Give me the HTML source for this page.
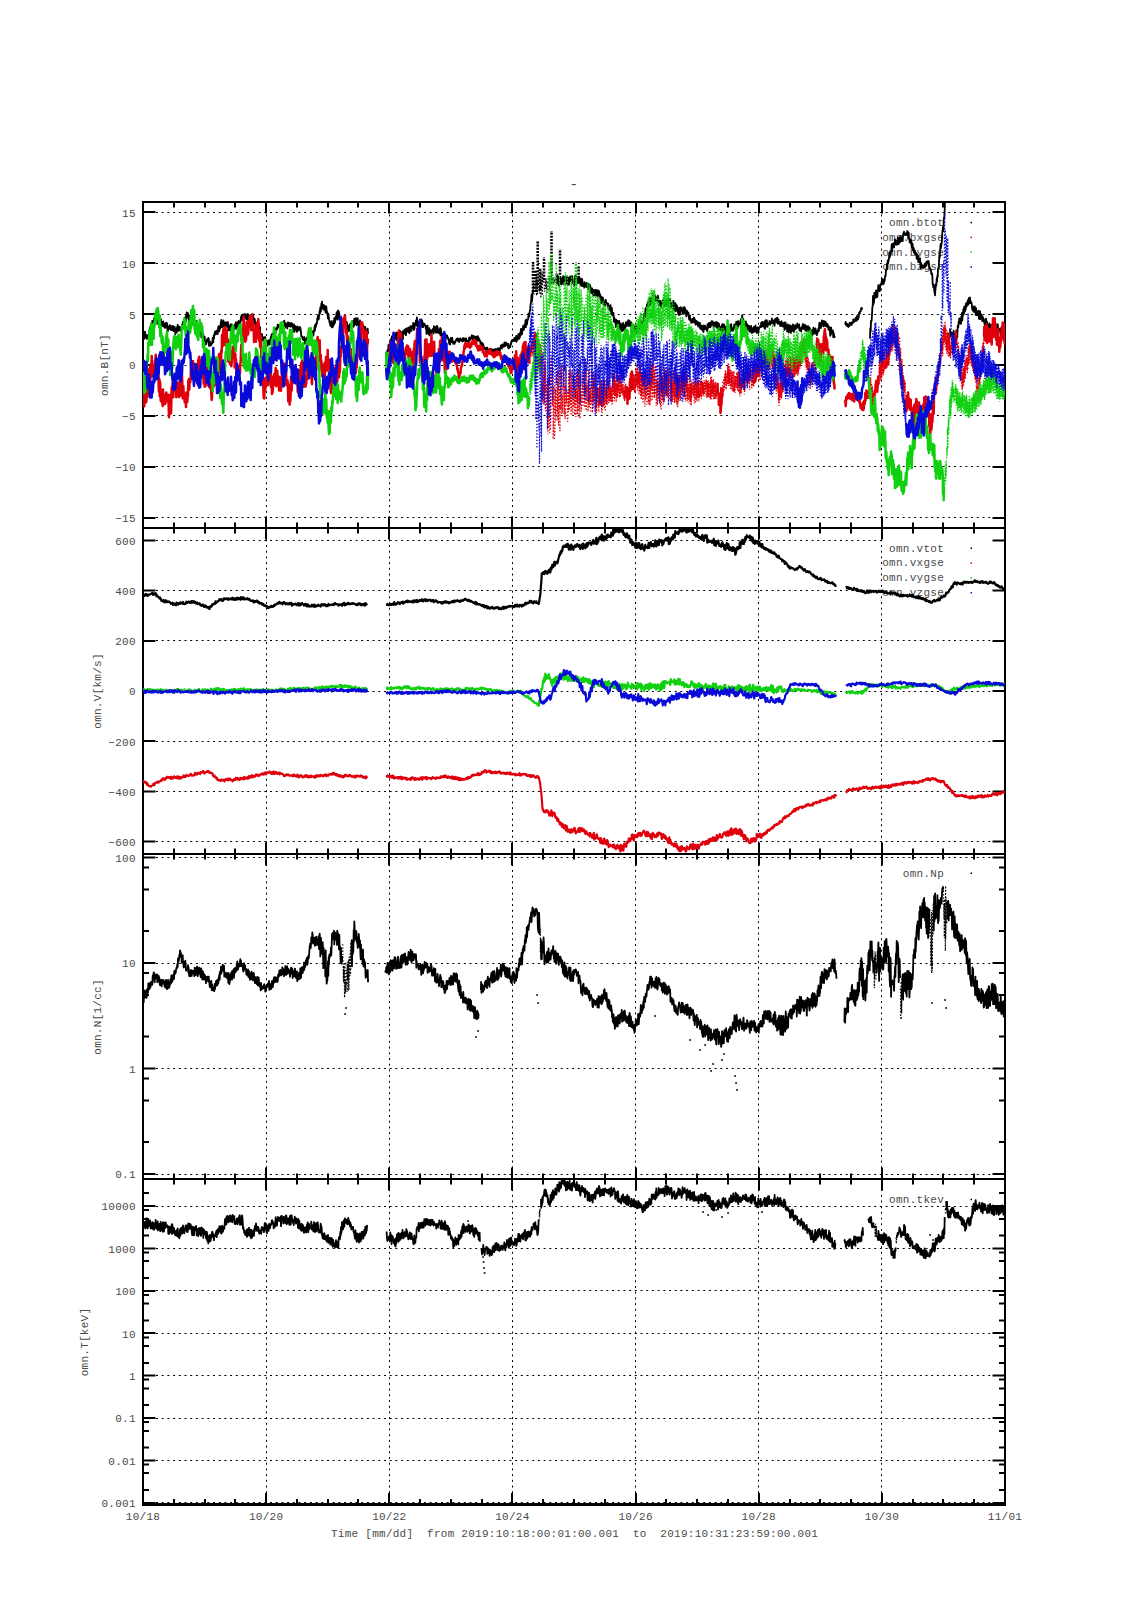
<!DOCTYPE html><html><head><meta charset="utf-8"><title>omni plot</title><style>html,body{margin:0;padding:0;background:#fff}svg{display:block}text{font-family:'Liberation Mono','DejaVu Sans Mono',monospace;font-size:11px;fill:#4a4a4a;letter-spacing:0.26px}</style></head><body><svg width="1131" height="1600" viewBox="0 0 1131 1600"><rect width="1131" height="1600" fill="#fff"/><text x="573.8" y="188.6" text-anchor="middle" style="font-size:15px">-</text><path d="M156 517.5H992M156 466.5H992M156 415.5H992M156 365.5H992M156 314.5H992M156 263.5H992M156 212.5H992M156 841.5H992M156 791.5H992M156 741.5H992M156 691.5H992M156 640.5H992M156 590.5H992M156 540.5H992M156 1174.5H992M156 1068.5H992M156 963.5H992M156 857.5H992M156 1502.5H992M156 1460.5H992M156 1418.5H992M156 1375.5H992M156 1333.5H992M156 1290.5H992M156 1248.5H992M156 1206.5H992M266.5 203V1503.5M389.5 203V1503.5M512.5 203V1503.5M635.5 203V1503.5M758.5 203V1503.5M881.5 203V1503.5" stroke="#000" stroke-width="1" stroke-dasharray="2 3.7" fill="none"/><rect x="884" y="214" width="118" height="59" fill="#fff"/><rect x="884" y="539.5" width="118" height="60" fill="#fff"/><path d="M174 202v5.5M174 528v-5.5M205 202v5.5M205 528v-5.5M235 202v5.5M235 528v-5.5M266 202v11.5M266 528v-11.5M297 202v5.5M297 528v-5.5M328 202v5.5M328 528v-5.5M358 202v5.5M358 528v-5.5M389 202v11.5M389 528v-11.5M420 202v5.5M420 528v-5.5M451 202v5.5M451 528v-5.5M482 202v5.5M482 528v-5.5M512 202v11.5M512 528v-11.5M543 202v5.5M543 528v-5.5M574 202v5.5M574 528v-5.5M605 202v5.5M605 528v-5.5M636 202v11.5M636 528v-11.5M666 202v5.5M666 528v-5.5M697 202v5.5M697 528v-5.5M728 202v5.5M728 528v-5.5M759 202v11.5M759 528v-11.5M790 202v5.5M790 528v-5.5M820 202v5.5M820 528v-5.5M851 202v5.5M851 528v-5.5M882 202v11.5M882 528v-11.5M913 202v5.5M913 528v-5.5M943 202v5.5M943 528v-5.5M974 202v5.5M974 528v-5.5M174 528v5.5M174 854v-5.5M205 528v5.5M205 854v-5.5M235 528v5.5M235 854v-5.5M266 528v11.5M266 854v-11.5M297 528v5.5M297 854v-5.5M328 528v5.5M328 854v-5.5M358 528v5.5M358 854v-5.5M389 528v11.5M389 854v-11.5M420 528v5.5M420 854v-5.5M451 528v5.5M451 854v-5.5M482 528v5.5M482 854v-5.5M512 528v11.5M512 854v-11.5M543 528v5.5M543 854v-5.5M574 528v5.5M574 854v-5.5M605 528v5.5M605 854v-5.5M636 528v11.5M636 854v-11.5M666 528v5.5M666 854v-5.5M697 528v5.5M697 854v-5.5M728 528v5.5M728 854v-5.5M759 528v11.5M759 854v-11.5M790 528v5.5M790 854v-5.5M820 528v5.5M820 854v-5.5M851 528v5.5M851 854v-5.5M882 528v11.5M882 854v-11.5M913 528v5.5M913 854v-5.5M943 528v5.5M943 854v-5.5M974 528v5.5M974 854v-5.5M174 854v5.5M174 1179v-5.5M205 854v5.5M205 1179v-5.5M235 854v5.5M235 1179v-5.5M266 854v11.5M266 1179v-11.5M297 854v5.5M297 1179v-5.5M328 854v5.5M328 1179v-5.5M358 854v5.5M358 1179v-5.5M389 854v11.5M389 1179v-11.5M420 854v5.5M420 1179v-5.5M451 854v5.5M451 1179v-5.5M482 854v5.5M482 1179v-5.5M512 854v11.5M512 1179v-11.5M543 854v5.5M543 1179v-5.5M574 854v5.5M574 1179v-5.5M605 854v5.5M605 1179v-5.5M636 854v11.5M636 1179v-11.5M666 854v5.5M666 1179v-5.5M697 854v5.5M697 1179v-5.5M728 854v5.5M728 1179v-5.5M759 854v11.5M759 1179v-11.5M790 854v5.5M790 1179v-5.5M820 854v5.5M820 1179v-5.5M851 854v5.5M851 1179v-5.5M882 854v11.5M882 1179v-11.5M913 854v5.5M913 1179v-5.5M943 854v5.5M943 1179v-5.5M974 854v5.5M974 1179v-5.5M174 1179v5.5M174 1504.5v-5.5M205 1179v5.5M205 1504.5v-5.5M235 1179v5.5M235 1504.5v-5.5M266 1179v11.5M266 1504.5v-11.5M297 1179v5.5M297 1504.5v-5.5M328 1179v5.5M328 1504.5v-5.5M358 1179v5.5M358 1504.5v-5.5M389 1179v11.5M389 1504.5v-11.5M420 1179v5.5M420 1504.5v-5.5M451 1179v5.5M451 1504.5v-5.5M482 1179v5.5M482 1504.5v-5.5M512 1179v11.5M512 1504.5v-11.5M543 1179v5.5M543 1504.5v-5.5M574 1179v5.5M574 1504.5v-5.5M605 1179v5.5M605 1504.5v-5.5M636 1179v11.5M636 1504.5v-11.5M666 1179v5.5M666 1504.5v-5.5M697 1179v5.5M697 1504.5v-5.5M728 1179v5.5M728 1504.5v-5.5M759 1179v11.5M759 1504.5v-11.5M790 1179v5.5M790 1504.5v-5.5M820 1179v5.5M820 1504.5v-5.5M851 1179v5.5M851 1504.5v-5.5M882 1179v11.5M882 1504.5v-11.5M913 1179v5.5M913 1504.5v-5.5M943 1179v5.5M943 1504.5v-5.5M974 1179v5.5M974 1504.5v-5.5M143 518h12.5M1005 518h-12.5M143 467h12.5M1005 467h-12.5M143 416h12.5M1005 416h-12.5M143 365h12.5M1005 365h-12.5M143 314h12.5M1005 314h-12.5M143 263h12.5M1005 263h-12.5M143 212h12.5M1005 212h-12.5M143 841.5h12.5M1005 841.5h-12.5M143 791.5h12.5M1005 791.5h-12.5M143 741h12.5M1005 741h-12.5M143 691h12.5M1005 691h-12.5M143 641h12.5M1005 641h-12.5M143 590.5h12.5M1005 590.5h-12.5M143 540.5h12.5M1005 540.5h-12.5M143 1174h12.5M1005 1174h-12.5M143 1068.5h12.5M1005 1068.5h-12.5M143 963h12.5M1005 963h-12.5M143 857.5h12.5M1005 857.5h-12.5M143 1503h12.5M1005 1503h-12.5M143 1460.5h12.5M1005 1460.5h-12.5M143 1418h12.5M1005 1418h-12.5M143 1375.5h12.5M1005 1375.5h-12.5M143 1333h12.5M1005 1333h-12.5M143 1291h12.5M1005 1291h-12.5M143 1248.5h12.5M1005 1248.5h-12.5M143 1206h12.5M1005 1206h-12.5M143 1142h6M1005 1142h-6M143 1100.5h6M1005 1100.5h-6M143 1078.5h6M1005 1078.5h-6M143 1036.5h6M1005 1036.5h-6M143 995h6M1005 995h-6M143 973h6M1005 973h-6M143 931h6M1005 931h-6M143 889.5h6M1005 889.5h-6M143 867.5h6M1005 867.5h-6M143 1490h6M1005 1490h-6M143 1473h6M1005 1473h-6M143 1464.5h6M1005 1464.5h-6M143 1447.5h6M1005 1447.5h-6M143 1431h6M1005 1431h-6M143 1422h6M1005 1422h-6M143 1405h6M1005 1405h-6M143 1388.5h6M1005 1388.5h-6M143 1379.5h6M1005 1379.5h-6M143 1363h6M1005 1363h-6M143 1346h6M1005 1346h-6M143 1337.5h6M1005 1337.5h-6M143 1320.5h6M1005 1320.5h-6M143 1303.5h6M1005 1303.5h-6M143 1295h6M1005 1295h-6M143 1278h6M1005 1278h-6M143 1261h6M1005 1261h-6M143 1252.5h6M1005 1252.5h-6M143 1235.5h6M1005 1235.5h-6M143 1219h6M1005 1219h-6M143 1210h6M1005 1210h-6M143 1193h6M1005 1193h-6" stroke="#000" stroke-width="2" fill="none"/><path d="M143 202H1005V1504.5H143ZM143 528H1005M143 854H1005M143 1179H1005" stroke="#000" stroke-width="2" fill="none"/><path d="M142 1504.5H1006" stroke="#000" stroke-width="3" fill="none"/><text x="135.8" y="522.2" text-anchor="end">−15</text><text x="135.8" y="471.3" text-anchor="end">−10</text><text x="135.8" y="420.3" text-anchor="end">−5</text><text x="135.8" y="369.4" text-anchor="end">0</text><text x="135.8" y="318.5" text-anchor="end">5</text><text x="135.8" y="267.5" text-anchor="end">10</text><text x="135.8" y="216.6" text-anchor="end">15</text><text x="135.8" y="845.9" text-anchor="end">−600</text><text x="135.8" y="795.7" text-anchor="end">−400</text><text x="135.8" y="745.6" text-anchor="end">−200</text><text x="135.8" y="695.4" text-anchor="end">0</text><text x="135.8" y="645.2" text-anchor="end">200</text><text x="135.8" y="595.1" text-anchor="end">400</text><text x="135.8" y="544.9" text-anchor="end">600</text><text x="135.8" y="1178.4" text-anchor="end">0.1</text><text x="135.8" y="1072.9" text-anchor="end">1</text><text x="135.8" y="967.4" text-anchor="end">10</text><text x="135.8" y="861.9" text-anchor="end">100</text><text x="135.8" y="1507.2" text-anchor="end">0.001</text><text x="135.8" y="1464.8" text-anchor="end">0.01</text><text x="135.8" y="1422.4" text-anchor="end">0.1</text><text x="135.8" y="1380" text-anchor="end">1</text><text x="135.8" y="1337.6" text-anchor="end">10</text><text x="135.8" y="1295.2" text-anchor="end">100</text><text x="135.8" y="1252.8" text-anchor="end">1000</text><text x="135.8" y="1210.4" text-anchor="end">10000</text><text x="143" y="1520" text-anchor="middle">10/18</text><text x="266.1" y="1520" text-anchor="middle">10/20</text><text x="389.3" y="1520" text-anchor="middle">10/22</text><text x="512.4" y="1520" text-anchor="middle">10/24</text><text x="635.6" y="1520" text-anchor="middle">10/26</text><text x="758.7" y="1520" text-anchor="middle">10/28</text><text x="881.9" y="1520" text-anchor="middle">10/30</text><text x="1005" y="1520" text-anchor="middle">11/01</text><text x="331" y="1537" style="white-space:pre">Time [mm/dd]  from 2019:10:18:00:01:00.001  to  2019:10:31:23:59:00.001</text><text x="0" y="0" text-anchor="middle" transform="translate(104 365) rotate(-90)" dy="3.5">omn.B[nT]</text><text x="0" y="0" text-anchor="middle" transform="translate(97.5 691) rotate(-90)" dy="3.5">omn.V[km/s]</text><text x="0" y="0" text-anchor="middle" transform="translate(97.5 1017) rotate(-90)" dy="3.5">omn.N[1/cc]</text><text x="0" y="0" text-anchor="middle" transform="translate(84.5 1342) rotate(-90)" dy="3.5">omn.T[keV]</text><text x="944" y="225.9" text-anchor="end">omn.btot</text><rect x="970.5" y="221.8" width="1.5" height="1.5" fill="#000"/><text x="944" y="240.7" text-anchor="end">omn.bxgse</text><rect x="970.5" y="236.6" width="1.5" height="1.5" fill="#e0000c"/><text x="944" y="255.5" text-anchor="end">omn.bygse</text><rect x="970.5" y="251.4" width="1.5" height="1.5" fill="#10d010"/><text x="944" y="270.3" text-anchor="end">omn.bzgse</text><rect x="970.5" y="266.2" width="1.5" height="1.5" fill="#0a0ad8"/><text x="944" y="551.6" text-anchor="end">omn.vtot</text><rect x="970.5" y="547.5" width="1.5" height="1.5" fill="#000"/><text x="944" y="566.4" text-anchor="end">omn.vxgse</text><rect x="970.5" y="562.3" width="1.5" height="1.5" fill="#e0000c"/><text x="944" y="581.2" text-anchor="end">omn.vygse</text><rect x="970.5" y="577.1" width="1.5" height="1.5" fill="#10d010"/><text x="944" y="596" text-anchor="end">omn.vzgse</text><rect x="970.5" y="591.9" width="1.5" height="1.5" fill="#0a0ad8"/><text x="944" y="876.6" text-anchor="end">omn.Np</text><rect x="970.5" y="872.5" width="1.5" height="1.5" fill="#000"/><text x="944" y="1202.8" text-anchor="end">omn.tkev</text><rect x="970.5" y="1198.7" width="1.5" height="1.5" fill="#000"/><defs><clipPath id="c1"><rect x="143" y="202" width="862" height="326"/></clipPath><clipPath id="c2"><rect x="143" y="528" width="862" height="326"/></clipPath><clipPath id="c3"><rect x="143" y="854" width="862" height="325"/></clipPath><clipPath id="c4"><rect x="143" y="1179" width="862" height="325"/></clipPath></defs><g clip-path="url(#c1)"><path d="M143 333.8l.3-2.3.4 3.7.3 4 .3-2.3.4-3.7.3-1.6.3 2.3.4 3.1.3 1 .3-2.6.4-.3.3 3.9.3-3.7.4.9.3.8.3-2.4.4.3.3 1 .3-5.7.4.3.3-3.4.3 5.3.4-1.4.3.3.3-7.6.4 1.4.3-.4.3-3.8.4 2.8.3-2.8.3 1.3.4-.1.3-3.7.3.5.4 3.2.3-4.3.3 0 .4-.2.3-.9.3-.4.4 2.5.3-2.1.3 7.1.4-3.2.3.5.3.7.4-4.6.3 7.5.3-6.8.4 4.7.3-4.5.3.3.4.7.3.4.3 5.6.4.7.3.2.3-3.9.4 1 .3 2.7.3-4.3.4 3.8.3-1.5.3 3.6.4-.6.3 1.1.3-2.5.4-2.5.3 4.7.3-2 .4-2.8.3.7.3 3.8.4 3.7.3-.1.3-3.9.4-.6.3.4.3 2.4.4-4 .3 2 .3-.7.4 1.3.3 2.4.3-4.1.4.2.3 2.6.3-1.8.4 3.2.3-4.4.3 4.2.4 1 .3-2.6.3 2 .4-3.7.3 2.7.3 4.8.4-5.2.3 1.3.3.7.4 1.5.3-5.4.3 1.1.4-3.4.3 3.8.3 2.2.4-4.3.3-.1.3 3.5.4.3.3-1.3.3 0 .4 1.4.3-3.6.3 4.1.4-3.7.3-2.4.3 1.3.4-2.9.3-1.6.3 6.9.4-2.8.3-.9.3-3.7.4.9.3-3.6.3-1.3.4 4.9.3-6 .3 1.7.4-5.2.3 1.4.3.2.4-1.2.3 1.4.3 4.5.4-3.8.3 6 .3-4.6.4-.5.3 1.5.3-1 .4 6.3.3-1.4.3-.3.4.5.3.8.3-3.5.4 5.6.3-2.5.3.7.4 2.6.3-.4.3-2.3.4 1.9.3-2.6.3 1 .4 2.6.3-1.7.3-.2.4-2.5.3 3.7.3 4.2.4.7.3 0 .3-4.1.4 6.3.3-1.9.3-4 .4 4.3.3 1.5.3 1.9.4-5.3.3 2.8.3 6 .4-.4.3.5.3-5.8.4 2.1.3 7 .3-6.4.4 3.2.3.5.3 3.9.4-4.9.3 6.6.3-.5.4 1.6.3-3 .3 2.7.4-2.9.3-1.9.3 2 .4-.2.3-.7.3-2.7.4 1 .3 7 .3.2.4-.1.3-4.2.3 1.2.4 1.9.3.6.3-1.3.4-.9.3.5.3-1.4.4-4.4.3 0 .3 4.4.4-6.6.3 2.8.3-4.5.4-.2.3-2.1.3 1.2.4 1.5.3-1.3.3-2.5.4.6.3 2.8.3.1.4-.2.3-4.3.3-2.5.4-.9.3.3.3 4.9.4-2.8.3-2.5.3 2.3.4-4.5.3-1.9.3-2 .4 6.9.3-3.7.3 4.1.4-5.6.3 3.3.3-4.6.4 5.7.3-1.2.3.6.4-.2.3-3.1.3 5.5.4-.8.3-2.9.3-1.6.4 4 .3-1.5.3 1.6.4-4.4.3.1.3 7.2.4.9.3-1.6.3 1.2.4-4.6.3 3.5.3 1.7.4-4.8.3-1.6.3 1.8.4-.2.3-1 .3 2.1.4.2.3-1.3.3 3.1.4-.2.3-1.4.3.5.4 1.7.3-5.1.3 4.5.4-6.2.3-.4.3.6.4 5.7.3-5.4.3.5.4-.3.3-1.7.3 4.2.4-5 .3.6.3 3.5.4-1.1.3-2.4.3 2.7.4-4.3.3-3 .3.7.4-2.4.3 3.8.3 1.2.4-3 .3-2.6.3 5.3.4 1.7.3-5 .3.2.4 1.1.3-3.8.3 1.4.4-.1.3 2.3.3 1.7.4-4.4.3 4.2.3-5 .4-.1.3 6 .3-3 .4.9.3 1.9.3-4.2.4 1.1.3 5.7.3-7.2.4 4.4.3-1.1.3 2.7.4-1.6.3-4.4.3-.3.4 1 .3-1.7.3 2.4.4 3.1.3-1.3.3 4.7.4-4.3.3 2.7.3 3.7.4-.2.3-2.5.3 5.4.4-5.1.3 3.6.3 3.3.4-1.3.3 1.2.3-2.5.4 5.1.3-6.2.3 6.4.4-3.9.3-1.5.3 7.9.4-.8.3 2.6.3-1.2.4-1.5.3.4.3 5.8.4-2.4.3-.7.3 3.1.4 1.9.3-1.2.3-1.4.4-2.3.3 6.4.3-6.5.4 7.2.3 0 .3 1.6.4-.4.3-2.8.3-.7.4 3.8.3-5.1.3.6.4-.6.3-.5.3 2.4.4 2.1.3-4.4.3-.9.4-1 .3-1.8.3.4.4-2.8.3 4.6.3-4 .4 2.9.3 2.3.3-5.6.4-2.8.3.9.3 2.2.4-.4.3-.1.3-1.5.4-.2.3-4.4.3.6.4.9.3 0 .3-1.8.4-3.1.3 2.2.3-1.5.4-.5.3.3.3.6.4 3.7.3-.5.3-2.4.4-.1.3 1 .3.7.4-.6.3-.8.3-2.1.4-.6.3-2 .3 2 .4-2.8.3 2.9.3-3.5.4 4.8.3-2.7.3 4.9.4-3.1.3-1.2.3 1.4.4.1.3-1 .3 4.6.4-4 .3-2.3.3 2.5.4 1.3.3-3.2.3 2.8.4.6.3-3 .3 2.3.4 1.3.3-3.7.3.2.4 1.3.3-1.2.3.3.4 3.5.3-.4.3 4.9.4-4.3.3-2.9.3 7.4.4-5.5.3 3.8.3-4.1.4 3 .3-1.1.3.2.4 3.5.3.2.3-5.6.4 1.3.3.9.3 1.8.4-2.6.3 2.7.3-3.4.4-.1.3 3.3.3-2.7.4 2.3.3 3.4.3 3.2.4 0 .3.5.3-.5.4 3 .3-.9.3.3.4 1.4.3-2.3.3-.9.4 1.4.3 5.4.3-2 .4-.2.3-.2.3.3.4-2.8.3-1.6.3 3.4.4.6.3-1.5.3-1.5.4-1.2.3-1.1.3 2.9.4-4.1.3.5.3 2.7.4.4.3-.4.3 2 .4-8.1.3 3.8.3-4.3.4 4.6.3-3.5.3 3 .4-2.4.3-3.2.3 1.3.4-5.4.3 4.7.3-5.8.4 2.4.3-1.1.3-2.8.4-.1.3.4.3-5.4.4.4.3-3 .3 1.4.4 2.6.3-2.8.3-2 .4-4.4.3 3.2.3-6.1.4 4.3.3-1.5.3-6.5.4 3.2.3-5.3.3 6.9.4-1.1.3 1.1.3-.7.4-2.9.3 4.9.3-3.4.4-.5.3.2.3 4.9.4 1.7.3-2.9.3-3.3.4 5.5.3-.7.3 2.4.4 2.1.3 2.8.3-4.9.4 2.8.3 2.7.3 1.6.4 2.3.3-.5.3 3.3.4-1.8.3.3.3-3.2.4 5.7.3.4.3-4.3.4 4.4.3-2.2.3-4.4.4 4.2.3-.6.3-6.3.4 3 .3 1.8.3-3.1.4-2.8.3-.1.3-1.8.4-3 .3.3.3 7.2.4-5.2.3-4 .3.5.4 5.5.3-4.8.3 8 .4-.8.3 1 .3-1.1.4-.6.3-.4.3-.3.4 2.4.3 2.4.3 1.3.4.2.3-1.5.3-2.5.4 2.8.3 5.1.3-5.5.4 2.8.3-.2.3 2 .4-2.8.3 2.3.3-4.6.4 6.4.3-5.6.3 2.6.4 3.8.3-.2.3 2.5.4-1.6.3-4.2.3 2.9.4 2.6.3-6.7.3 6.2.4-5.9.3.8.3-1 .4 1.4.3 1.7.3.7.4-5.8.3-1.4.3 3.2.4 2.6.3-4.7.3-3.2.4 1.2.3-.5.3 5.1.4-6.4.3 6.3.3-5.1.4 5.8.3-5 .3-1.7.4-.3.3 5.2.3 1.7.4-2.8.3 4.2.3-4.1.4 3 .3-5 .3 2.2.4-.2.3 5.1.3-4.1.4 4.8.3-2.6.3 3.7.4-1.8.3 1.6.3-3.5.4 4.3.3-1.9.3 1.9.4-2.6.3 2.5.3-2.7.4 4.5.3-1.7.3.7.4 2.5.3-2.6.3 2.5.4-4.3.3 5.5M386.2 351.7l.3 3.7.4-1.7.3-1.3.3-2.2.4 1.5.3-2.4.3-4.4.4 5.1.3-1.8.3-.2.4-5.6.3-1.9.3 5.7.4-2.1.3-5.6.3 6.7.4-8.8.3 4.6.3-5.3.4 5.7.3-1.9.3-1 .4 1.9.3-7.3.3 4.6.4-1.7.3-.2.3 3 .4-2.4.3-3.9.3.2.4 7.7.3-.6.3-6.7.4 5.4.3-.5.3-2.6.4 2.1.3-3.1.3.8.4-1.8.3-2.3.3 1.4.4 2.9.3-1.3.3 3.3.4-3.6.3 3.4.3-5.8.4 7.7.3-7.8.3 1.9.4-.1.3-2.8.3-.4.4 2.9.3 1.6.3-5.5.4 6.3.3-1.5.3-3.3.4-1.4.3-1 .3.8.4 1.9.3 1 .3.5.4-4.9.3.3.3 5.5.4-3.1.3-.4.3-3.4.4 4.8.3-4.7.3 4.5.4-4.7.3-.1.3.1.4 2.3.3-5.6.3 1.9.4 5.3.3-1.9.3.7.4-5.5.3 1.3.3-.3.4-3.9.3 2.8.3 2.4.4-8.1.3 3.4.3 3.5.4 2.6.3-5.1.3.7.4 4.4.3-5.7.3 5.2.4-7.1.3 1.5.3 5.5.4-2 .3-2.2.3-2.9.4 7.6.3-6.2.3 6.4.4-2.2.3 2.3.3-3.9.4 1.4.3-.3.3-.6.4 1.9.3-.4.3 0 .4 3.9.3-3.2.3 8 .4-5.5.3 2.4.3-5.2.4 4.1.3 1.7.3 2.3.4.4.3-6.1.3 7.3.4-5.9.3 1.6.3 1.2.4-1.3.3 2 .3-2.7.4.3.3-.5.3.3.4-1.6.3 4.4.3.3.4-7.3.3 4.8.3-1.7.4-2.5.3.2.3 5 .4.7.3-.1.3.1.4-6.9.3.2.3 1.2.4 2.3.3 3.4.3-3.7.4 1.8.3-1 .3 3.5.4-.2.3-5.5.3 7.6.4-6.6.3 4.8.3-.5.4 4.3.3-.7.3.6.4 1 .3-4.7.3.7.4 1.5.3 4.9.3-1.8.4-5.6.3 3.5.3-.2.4-1.3.3 2.6.3-2.6.4.3.3.2.3 1.7.4-.2.3 2.2.3-.9.4 2.2.3 3 .3-3.7.4.2.3 4.2.3-4.4.4-2.3.3 4.3.3-3.3.4.9.3-1.8.3 3.2.4.3.3 2.5.3-2.2.4-.3.3.8.3 1.6.4-1.8.3.5.3-.8.4-1.2.3-1 .3-.5.4 1 .3-.3.3-1.4.4 2.9.3-2.1.3 2 .4-2.2.3 3.2.3-2.1.4-1.2.3 1.3.3-1.7.4.9.3 1.6.3-.7.4.6.3-.6.3 1.3.4-3.3.3 3 .3-2.7.4-.3.3 1.5.3-1.1.4 2.3.3-.2.3.9.4-3.2.3 0 .3 2.9.4-.7.3.1.3 1 .4-.5.3-.3.3.9.4 0 .3-4.3.3 1.4.4 1.3.3-2.5.3.9.4.3.3-1.6.3-.8.4-1.2.3 2.1.3-.6.4 2.8.3-3.7.3.3.4 1.5.3 1.9.3.1.4-3.3.3 3.4.3.4.4.8.3-4.1.3 2.8.4-2.3.3-1.1.3 4 .4-4.2.3 1.5.3 3.3.4-1.8.3-.5.3 1.9.4-.1.3.7.3 2.8.4-1.8.3.8.3.3.4 2.8.3-3.2.3 1.3.4 1.8.3-1.8.3 3.5.4-1.1.3 1.6.3.7.4-.8.3.5.3.4.4.3.3 2.3.3-3.8.4 1.2.3-1.3.3 2.1.4 2.4.3-2.4.3 1.8.4-.2.3-2.1.3 4.2.4-1 .3-1.5.3 1.8.4-2 .3-1.8.3 3.8.4-2.2.3 1.9.3-2.8.4.9.3 1.9.3-2.7.4 3.1.3-1.4.3-.4.4-1.8.3-.2.3 1 .4.4.3 1 .3.2.4-2.4.3.3.3-1.2.4 1.4.3 0 .3.4.4-1.6.3-.4.3 2 .4.5.3-2.1.3-.5.4-2.7.3 2.9.3-2.9.4 3.2.3-1.6.3-2.5.4 2.6.3-.6.3-1.7.4 1.9.3-2.4.3-1.8.4.6.3 3.2.3-2.7.4-1 .3 1.8.3.9.4-1.8.3 1.5.3-.2.4 2.1.3-2.8.3 4.4.4 0 .3-2.2.3.8.4.2.3-.1.3-3.1.4.8.3-3.1.3.8.4-1.7.3-.9.3 1.3.4-.8.3-.8.3.3.4.1.3 1.2.3-3.4.4 3.1.3-.8.3-1.1.4.9.3-4.1.3 6 .4-2.2.3-3 .3 3.2.4-2.9.3-1.6.3-1.3.4 4.9.3-.7.3-2.9.4 2.2.3-4.8.3 1.6.4-5.3.3 5.3.3.3.4-.2.3-1.9.3-3.9.4 1.7.3-4.7.3 1.1.4 3.1.3-3.2.3.6.4-3.1.3 3 .3-6.8.4 7 .3-7.8.3 3.1.4 2.1.3-2 .3-2.4.4-.7.3-1.1.3-4.9.4 3.6.3-1.7.3-.8.4-4.5.3.1.3-4.8.4-2.7.3-2.8.3-5.5.4 7.1.3-2.2.3-5.1.4-4.6M556.2 274.7l.3-.6.4 4.7.3 4.7.3-8 .4 3.7.3-3 .3 8.1.4 1.4.3-7.8.3 3.3.4 1.3.3 1.4.3-1.2.4-4.2.3 4 .3 2 .4-3.3.3-1.7.3-.4.4-1.9.3-1.1.3 7.8.4-6.4.3 3.8.3-1.6.4.1.3 2.6.3-6.2.4 5 .3 2.7.3-5.9.4.9.3-1.7.3.8.4 6.7.3-6.2.3 3.6.4-4.5.3 7.1.3-4.2.4-2.4.3-1.8.3 5.1.4-1.4.3-1.5.3.4.4-2.3.3-.5.3 7.3.4-3.4.3-.1.3 1.9.4 2.3.3.4.3 1.1.4-6.8.3-3.2.3-.1.4 3.2.3-2.6.3 7.7.4-5.8.3.4.3 3.6.4-2.6.3-.1.3 3.9.4-6.5.3 2.1.3-1.1.4 4.4.3 2.4.3-4.3.4 5 .3-6.6.3 7.3.4-1.1.3-5.6.3 5.1.4 1.7.3-2.7.3 1.6.4-1.8.3 4.5.3-5.5.4 4 .3-.8.3-.9.4.4.3 2.3.3-4.3.4.2.3 3.7.3.1.4-.4.3 2.2.3-4.8.4 2.5.3 2.2.3 2.4.4-6 .3 7.6.3-5.8.4 2.5.3 2.2.3-.7.4 2.6.3-4.9.3 2.2.4.3.3 3.7.3.8.4-5.6.3.3.3.8.4 4.5.3-2.5.3-2.9.4 4.4.3-4.4.3 2.6.4 3 .3-1.8.3 3 .4-6.2.3-.4.3 1.5.4 1.1.3-1.3.3 5 .4.4.3-2.4.3 5 .4-2 .3 5.8.3-6.7.4 3 .3-1.2.3 1.7.4-2.5.3 3.9.3 2.8.4-1.3.3.1.3-1.8.4 2.3.3 1.9.3-5.7.4.3.3 3 .3-.4.4.7.3-.3.3 1.5.4 2.4.3-3.3.3 2.9.4-.1.3 2.8.3-1.9.4 3.3.3-4.8.3-.7.4 3.4.3 4.8.3 1 .4-6.4.3 6.5.3-1.2.4 2.3.3-1 .3-1.6.4 8.7.3-4.1.3.7.4 2.8.3 1.5.3-.2.4 4.8.3-7.6.3 6.2.4-2.3.3-1.3.3-1.3.4 2.6.3-1.5.3 4.1.4 1.7.3-7 .3 5.1.4 1.4.3 1.1.3 2.1.4-7.2.3 7.8.3-2.6.4-3.6.3 1.7.3 4.5.4-3.7.3-4.6.3 5.4.4.1.3 2 .3-1.7.4 1.6.3-5.6.3.8.4-3 .3 4.1.3-3.5.4-.6.3-.4.3.2.4 3.4.3-5.4.3 5.6.4-3.7.3 3.3.3-4.7.4 5.5.3-3.1.3.6.4 1.3.3-2.7.3 3.3.4.7.3 3.4.3-2.9.4-2 .3 0 .3 4.5.4-3.5.3 2.1.3 2.7.4.5.3-2.5.3-2.1.4 2.5.3 2.1.3-4.9.4 6.3.3-3.1.3-2.8.4.4.3 1 .3-.4.4 3.3.3-1.8.3-2.6.4-2.6.3-2.6.3 3 .4 2.4.3-5.1.3 1.2.4-.2.3 1 .3-1.7.4.5.3-.3.3-2.6.4-5.6.3 5.3.3-3.3.4 1.7.3-4.8.3-4.5.4 7.1.3-5.7.3-.8.4-4.4.3 4.8.3-3.2.4-4.3.3-.1.3 2.9.4-3.1.3-1.7.3-1.9.4 7.6.3-3.1.3-1.9.4-1.8.3 1.6.3-.8.4 3.2.3 0 .3-6.7.4-.8.3 2.6.3-.3.4-4.3.3.2.3 2.5.4 5 .3-5.1.3 1.4.4-.4.3 1.6.3 2.2.4-.9.3-.8.3-1.8.4-1.5.3 1.5.3 7.2.4-1.5.3.4.3 1.1.4 1.1.3-4.6.3 3.1.4 3.3.3-3.9.3.4.4.8.3 1 .3-5 .4 3.6.3-3.3.3 1.3.4-2.4.3 1.5.3 5.3.4-4.1.3.9.3 1.7.4-4.2.3 5.4.3-3.5.4-2.7.3 4.5.3 1.1.4-5.7.3-1.5.3 4.1.4-4.1.3 6.6.3-6.1.4 3.3.3-1.7.3 6.5.4-3.9.3-.2.3 3.4.4-2.1.3-1.2.3 5.6.4-4.2.3 1.5.3-5 .4 5.2.3 4 .3-4.5.4.8.3 5 .3-8.2.4 2 .3.8.3 3.6.4-4.2.3 5.9.3-4.1.4 3.2.3 3.8.3-2.8.4 3.8.3-7.2.3.5.4 6.1.3-2.2.3-4.9.4-.3.3 3.4.3-1.8.4.5.3-.2.3 4.3.4-2.5.3-3.6.3 3.8.4 2.8.3-2.1.3-4.7.4 4.9.3-3.5.3 4.5.4-.2.3 3.3.3.2.4-5.6.3 1.9.3-.9.4 2 .3.7.3-1.5.4 4.6.3 2.2.3-3.7.4-.5.3 4.9.3-1.6.4 1.4.3 2.6.3-1.9.4 1.8.3-3 .3-.8.4 3.2.3.1.3.1.4-4.8.3.4.3 3 .4-1.5.3 2.9.3 2.4.4-1.9.3.8.3-2.8.4 2.1.3-.8.3 2.8.4-2.9.3 4.5.3-2.2.4-.5.3 2.7.3-3.6.4-.1.3 5.9.3-1 .4-.7.3 2 .3-.3.4-3.4.3 4.2.3 1.1.4-.6.3-1 .3 3 .4-6.7.3.4.3 0 .4 3.6.3-3.4.3 2.9.4-.7.3.8.3-.9.4 2.6.3.4.3-6.9.4 4.7.3-4.8.3 1.5.4 1.7.3-4.6.3 3.7.4-1.8.3 2.9.3-4.6.4 3.7.3-2.9.3-2.3.4-.2.3.2.3 2.9.4-2.3.3 3.4.3 1.6.4 0 .3-1.6.3 0 .4-2.9.3.2.3 2.3.4.5.3 1.6.3-5.2.4.9.3 4.8.3-2 .4-2.6.3 6.2.3-5.5.4.1.3 3 .3 2.8.4-2.6.3.1.3.7.4 3.1.3 0 .3-5 .4 6 .3-7.3.3 4.2.4-4.6.3.8.3 6.8.4-7.3.3.5.3 2.4.4 3.2.3-.4.3-3.5.4 6 .3-4.3.3-.9.4 2 .3-.2.3-.6.4 1.5.3 3 .3-5.2.4 2.8.3-1.5.3.9.4 2.2.3-1.1.3-6.5.4 3.5.3-4.1.3 6.4.4-3 .3.7.3.5.4 2.1.3-1.3.3.2.4-1.7.3-3.5.3 1.2.4.4.3 1.1.3-.7.4.9.3-5.8.3 4.3.4-.6.3-1.5.3 4.9.4-6.6.3-1.1.3 5.1.4-3.7.3 1.8.3-.3.4-1.6.3 1.9.3-3.4.4-1.4.3-.4.3.1.4 1.7.3-5.6.3 3.7.4 4.2.3-4.4.3 2.8.4.9.3 3.5.3-.3.4-.7.3-1.2.3 3.4.4-5.6.3 1.8.3 3.1.4-2.3.3 3.8.3 2 .4-4.8.3 4.4.3-.1.4 1 .3-4.6.3 5.9.4-.6.3-1.2.3-2.1.4 3.3.3-5.2.3 6.8.4.3.3-1.4.3-3.3.4 1.9.3 2.2.3-3 .4-2.6.3 3.1.3 1.6.4.2.3-3.5.3-2.7.4 4.1.3-1.5.3 3 .4 1.9.3-3.1.3-2.3.4-.3.3 5.1.3.5.4-4.9.3.1.3-.4.4-.6.3-1.2.3-.5.4 1.8.3-4.6.3 4.3.4-3.1.3-1.9.3.5.4 2.2.3 1.9.3-1.8.4-1 .3-2 .3 6.3.4.9.3-2.6.3-5.7.4-.5.3 6.4.3-4.3.4-1.7.3 5.4.3.9.4-2.8.3.7.3-1.2.4.6.3-.4.3-2.9.4 1.6.3 2.5.3-2.4.4.8.3-.5.3-.2.4-4.1.3 4.8.3-1.9.4 2.2.3-1.7.3-1.6.4 1 .3 1.7.3 2.8.4-3 .3-4 .3 1.5.4-1.6.3 1.2.3 1.6.4 1.2.3-5.1.3 4.9.4 1.4.3-1.9.3-2.6.4 4.1.3-.2.3-1.3.4 1.5.3 2.6.3-3.4.4 1.8.3-1.9.3-1.4.4 4.9.3-3.4.3.8.4 3.2.3-1.8.3-.2.4-.3.3-2 .3 7.5.4-1.1.3-1 .3-5.4.4 4.5.3 1.7.3-1.2.4-.9.3 5.2.3-7.2.4 5.4.3-5 .3 2.3.4 5.3.3-5.2.3.9.4-3.1.3 2.5.3-1.2.4 6.6.3-6.9.3 3 .4-1.7.3 3.6.3-3.9.4-2.7.3 1.7.3 3.2.4 2.6.3-2.4.3-2 .4-1.5.3-1 .3 4.3.4-1.4.3.4.3-2.3.4 1 .3-3.5.3 2.7.4 1.5.3-.1.3.2.4-2.7.3-.7.3 6.1.4-.6.3-1.9.3.2.4 2.1.3 1.2.3-2.2.4-2.4.3-.7.3 2.2.4-4.6.3 1.7.3 3.6.4-2.8.3 1.6.3-.5.4-2.7.3 4.4.3 1.7.4-5 .3 3 .3.9.4 1.2.3-3.5.3-1.3.4 4.6.3-.2.3-4.2.4 5.1.3-3.9.3 2.6.4-1.9.3 4.6.3-3.4.4 3.1.3 1.2.3-3.3.4 2.4.3-2.7.3 5 .4-3.3.3-1.2.3-2.9.4 6 .3-1.2.3-1.3.4-2.2.3 3.5.3-4 .4 2.3.3 3.6.3-.2.4.9.3-3.1.3 1.2.4-3.2.3.9.3-2.4.4 2.5.3-7.4.3-.8.4 1.8.3-.3.3 0 .4 3.8.3-5.3.3.6.4-2.9.3 1.2.3-.4.4 2.7.3 2.4.3-.2.4-5.3.3 1.4.3 1.3.4.2.3 2.2.3-4.3.4 2.3.3-.8.3 1.6.4 1.9.3-2.8.3 2.5.4-1.7.3 3.5.3 1.6.4-1.2.3.6.3-2.4.4 3.8.3 5.2.3-3.1.4 2.1.3-7.1.3 5.1.4-2.3.3.6.3-.4.4-.3.3 6.8.3-4.5.4 1.5.3 3.1.3-.9.4 1.1M845 323.2l.3.7.4-2 .3 3.1.3.3.4-1.7.3 1.6.3 1 .4-2 .3.4.3 2.4.4-2.2.3.9.3.3.4-3.3.3 2.6.3-.8.4-1.1.3-.5.3 1.2.4.8.3-2.5.3-.4.4 0 .3.9.3-3.5.4.6.3 2 .3-.1.4-.7.3.1.3-2.2.4-1.3.3 2.4.3-.8.4 1.4.3-4.8.3 1.6.4-1.1.3 2.8.3-2.8.4 1.3.3-4.8.3-.6.4 1.4.3-1.4.3-1.5.4.2.3-1.5.3-1.8.4 1.6.3-1.2.3.9M870 338.6l.3-10.5.4 3.5.3-10.7.3.8.4-1.9.3-4.3.3-7.5.4-2.4.3-9.8.3 8.7.4-2.6.3.8.3-9.8.4 4.6.3-3.2.3 3.7.4-.6.3-7 .3 0 .4 4 .3 2 .3.6.4-6.2.3-1.4.3-4.2.4 3.4.3-.3.3.7.4 2.4.3-1.5.3-5.5.4-.1.3.6.3-1.2.4-1.9.3-3.1.3 4.2.4-3 .3 4.5.3-1.7.4.9.3-1.7.3-2.9.4 1.8.3-3.9.3-1.5.4.5.3-6.2.3.8.4-3.1.3-4 .3 5.7.4-8.6.3 3.2.3-2.1.4-1 .3-3 .3-4.8.4 4.3.3-.9.3-4.5.4 3 .3-3.4.3-.6.4-6.5.3 7.1.3-6.8.4 2.4.3.4.3-4.2.4 1.1.3 3.5.3-4.6.4 1.8.3-5.5.3 5.1.4-.3.3-3.3.3 1.2.4-.8.3 3.5.3-1.9.4-4.9.3 1.4.3-1 .4 5.8.3-4.2.3-2.7.4 1.5.3 3.5.3-1 .4-5.5.3 5.6.3-1.4.4-1.9.3 1.1.3-1.2.4 3.2.3-5.2.3-2.8.4 1.3.3-2.9.3 1.4.4 1.9.3-1 .3-.2.4 1.5.3-1.5.3 0 .4 1.1.3-2.6.3-1.2.4.7.3 2.7.3 4.2.4-6 .3 6.1.3-.6.4 4.2.3-3 .3.3.4 3.9.3-3.3.3.6.4 6.6.3-4.4.3 1 .4.1.3 6.2.3-1.7.4-.6.3 4.6.3-.6.4-1.8.3.9.3 3.6.4-1.3.3-.5.3.2.4 5.7.3-3.1.3-1.1.4 2.7.3-1.6.3 6.4.4-3.5.3 2.1.3 1.7.4-.4.3-3.8.3 5.2.4 5 .3-5.8.3 5.3.4-3 .3 2.4.3-2.2.4 2.5.3-.3.3.8.4-1.5.3-1.1.3.9.4-2.7.3 3.3.3-1.8.4.5.3-3.2.3 3.3.4-4.2.3-.3.3 1.2.4-.5.3 1 .3-2.2.4.9.3 1.9.3 4.4.4-.4.3.1.3 2.5.4-.9.3 1.1.3 3.5.4.6.3-1.1.3 1.9.4 9.1.3-.4.3 3.4.4-2.5.3.2.3 6.4.4 1.4.3 2.5.3-4.3.4-3.5.3-4 .3 2.1.4-7.4.3 3.4.3-5.8.4 1.2.3-8.7.3 0 .4.1.3-6.7.3-6.2.4 2.4.3-4.5.3-6.6.4-3 .3 4.3.3-3.7.4-.8.3-5.2.3-6.3.4-2.4.3-2.6.3 4 .4-10.2.3-3.5.3.6.4-8.4.3-8.6.3-.6.4-7.9.3 1.2.3-7.8.4-9.8.3-6.2M950 328.5l.3 8.2.4-3.7.3 1 .3 1.6.4-3.3.3 3.3.3-2.1.4.6.3 4.7.3-2.4.4-5.8.3 11 .3-4.8.4-2.6.3.4.3 3.9.4.8.3 2.4.3-5.4.4 2.3.3-8.5.3 6.9.4-11.3.3 2.2.3-.5.4-5.8.3 2.2.3-5.4.4 3.9.3-2.6.3-1 .4 5.2.3-.2.3-7.2.4 4.4.3-7.9.3 7.4.4-6.2.3 1.3.3-6.3.4 5.2.3-2.6.3-5.5.4 5.6.3-1.2.3-1.6.4.4.3-6 .3.3.4 2.9.3-4 .3 1.6.4-3.8.3 2.5.3 1.8.4-6.1.3-.7.3 5.3.4-4.9.3-.9.3 5.6.4-2.3.3 1.7.3-.1.4 1.2.3 3.9.3 1.6.4 1.3.3.3.3-4 .4 5.2.3-4.1.3-.4.4-1 .3 5.2.3.4.4 3 .3-6.9.3 6.6.4.5.3.2.3-3.4.4 3 .3-3.7.3-.5.4 1.4.3 6.7.3-1.6.4.5.3-6.7.3 8.1.4-3.8.3 2.2.3-3.1.4 3.1.3-1.7.3 5.2.4-4.3.3.5.3 3.5.4-1.9.3 1.9.3 2.7.4-3.1.3 5.1.3-4.6.4 4 .3-6.3.3 4.4.4 3.5.3-4.9.3 5.9.4-3.2.3 1.4.3 1.1.4-1.8.3.8.3-2.3.4 2.1.3 4.1.3-4 .4 3.5.3 1.2.3-5.8.4 2 .3.2.3 3.7.4 0 .3-2.3.3-2.3.4 5.8.3 1.7.3-.7.4-1.9.3-5.8.3 1 .4 5.8.3-3.6.3-1.5.4 3.3.3-1.7.3-3.8.4-.4.3 4.3.3 3.9.4-2.1.3-.2.3-.7.4-.5.3 2.1.3-2.5.4 6.3.3-1.5.3 1.3.4-4.3.3-.2.3-.6.4 1.8.3-3.9.3 7.5.4-7.5.3 4.1.3-3.6.4 5.3.3-1.1" stroke="#000" stroke-width="1.8" fill="none" stroke-linejoin="round"/><path d="M533.2 293.8l.3-11.4.4 6.6.3 5.2.3-9.7.4 6.2.3-6.2.3 2.6.4 3.2.3-14.6.3 20.1.4-9.5.3-7.4.3 15.5.4-11.8.3-5 .3 12.7.4-4.2.3-.2.3 7.6.4-13.7.3-10.6.3 22.4.4 6.4.3-17.5.3 9.7.4-18.9.3 24.3.3-22.7.4 10.1.3-2.3.3-8.4.4 2.6.3 12.3.3 4.5.4-3.6.3-4.1.3-5.9.4 11 .3-10.6.3 3.6.4 11.2.3-2.9.3-9.1.4 1.2.3-6.4.3 3.2.4 4.8.3 7.2.3-10.6.4-4.3.3 8.9.3-3.1.4-5 .3 6.5.3-10.2.4-2.6.3 8.3.3-1.1.4 5.2.3-6 .3.7.4 1.4.3 4.3.3-2.6.4-2.5.3-1.3.3 5.3.4-2.3" stroke="#000" stroke-width="1.2" stroke-dasharray="1.3 1.9" fill="none"/><path d="M537.7 285V241M544 280V257M551.5 273V231M560 278V249M578.6 278V266M533 292V262M535.5 292V270M540 290V268" stroke="#000" stroke-width="2.6" stroke-dasharray="2 1.2" fill="none"/><path d="M143 389.7l.3-6 .4 5.6.3 4 .3 12.9.4-19.1.3 12.7.3-6 .4 6.9.3 1.2.3.2.4-7.5.3-10.9.3 7.5.4 5.3.3-20.6.3-6.4.4 18.6.3-2.9.3 0 .4-7.1.3-11.8.3 13.2.4-10.9.3-4.4.3 12.4.4-20.6.3 6.7.3 6.4.4-1.6.3-1.5.3 5.1.4 5.9.3-6 .3 9 .4-14.7.3-4.9.3.9.4-6.6.3 2.7.3 14.1.4-9 .3 5.7.3-.9.4-2.4.3 2.6.3.6.4 17.5.3 6.2.3-12.9.4 17.2.3-14.6.3 3.6.4 15.6.3.5.3-4.7.4 5.4.3-3.4.3 3.6.4 3.9.3-16.6.3 5.6.4-.6.3 9.9.3-.5.4-7.8.3 3.1.3 4.8.4-6.4.3 3.1.3-8 .4 9 .3-.4.3-1.7.4 0 .3-2.6.3-2.2.4 12.2.3 10.3.3-6.9.4 3.8.3-14.2.3 7.3.4-12.4.3 18.5.3-11.2.4-14.9.3-.2.3 1.5.4-6.1.3 4.3.3 10.6.4-11.3.3-6.7.3 10.6.4-3.6.3-4.4.3 3.2.4-1 .3-2.8.3 16 .4-7.1.3 0 .3-4.5.4 5 .3 3.7.3-11.9.4 12 .3 2.6.3-5.9.4-4.1.3-8.9.3 10.1.4 2.8.3-3.3.3 7.8.4-.4.3-19.2.3 7.3.4 15 .3-3.2.3-9.1.4 7.8.3 3.7.3-.6.4 5.6.3-3.1.3 3.4.4-.9.3 5.1.3-14.5.4 8.7.3-1.9.3 3 .4-7 .3 1 .3-15.5.4 6.5.3-8.2.3 10.4.4-10 .3 3.3.3-1.2.4-2.7.3-16.4.3 16.1.4-8.1.3-8.1.3 6.7.4 8.4.3-16.6.3 4.2.4.8.3 1.9.3-3.8.4 11.6.3 4.9.3-6.7.4-8.9.3 4.5.3.4.4 9.1.3-13.3.3 3.1.4 5.2.3-3.5.3-10.7.4 4.2.3-6 .3-1.2.4 7.2.3 4.9.3-8.8.4 10.5.3-.8.3 2.8.4-5.3.3 8 .3-6.1.4 2 .3 3.8.3 1.6.4 7.2.3-18.6.3 10.3.4 11.4.3-7.5.3 5.8.4.4.3-20.9.3 2.3.4-3.9.3-1.5.3 15.2.4-12.8.3 16.7.3-12.7.4 17.8.3 1 .3-14.9.4 3.4.3 2 .3 11.3.4-9.6.3 1.8.3 13 .4 6.2.3-3.3.3-12.4.4-2.3.3 6.5.3-1.8.4-.6.3-.4.3-7.6.4 7 .3-9.4.3.3.4-2.8.3 11.1.3-3.4.4-9.8.3-2.7.3-8.4.4 17.5.3-10.4.3-1.5.4-2.6.3-8.6.3 11.3.4-3.6.3 11.3.3-19.7.4-.7.3 12.9.3-15.2.4 2 .3-17.4.3-.6.4 11.7.3-5.7.3-10.4.4-1.8.3 12.4.3 2.4.4 1.6.3-10.4.3-7.2.4 6.1.3 12.3.3-11.8.4-4.1.3 12.4.3 2 .4-4.9.3 10.6.3 11.6.4-1 .3 1.3.3-15.7.4 7.9.3 10.3.3-2 .4-11.3.3 7.2.3 8.1.4-3.6.3-5.7.3 1.4.4-11.5.3 5 .3-5 .4.7.3 6.5.3-8.1.4 21.5.3-4.2.3-9.4.4 10.8.3-5 .3 15.4.4 1.1.3 4.4.3-12.1.4-1.6.3 7.8.3-5.3.4 4.2.3-7.5.3.2.4 1.7.3 5.5.3-9.3.4-2.4.3-9.1.3-7.8.4-.6.3.1.3.6.4-16 .3 6.2.3-6 .4-12.3.3 7.7.3 15.9.4-14.1.3 6.1.3 9.3.4-15.5.3 14.1.3-3.9.4-13.6.3-.8.3 6.8.4-7.7.3 13.5.3-1.5.4-9 .3-1.5.3 1.3.4-7.7.3 4.8.3 6.3.4-5.1.3-3.7.3 11.7.4-1 .3-14.6.3 9.4.4.5.3.2.3-.4.4 5.6.3 12 .3-10.1.4.2.3-4.8.3 6.6.4-6.6.3 14.6.3-13 .4-5.7.3-.4.3 15.3.4-13.4.3 11.5.3-17 .4 4.9.3 10.2.3 6.7.4-9.3.3 14.7.3 1 .4-7.7.3-3.3.3 21.5.4-10.4.3 19 .3-1.3.4 13 .3 3.9.3 4.2.4 11.8.3-11.1.3 11.6.4-17.2.3-2.9.3 12 .4-12.7.3 5 .3-3.4.4-1.2.3 2.2.3-10.6.4 10.1.3 5.5.3-.9.4-17.2.3 4.4.3-1.2.4 9.3.3-2.6.3 4 .4-8.6.3 14.6.3-11.7.4 9.9.3 8.7.3-5.6.4 3.7.3-4.8.3-10.2.4-.5.3 8.4.3-11.3.4 9.5.3-4.4.3-4.6.4-6.2.3 1 .3 17.2.4-5.9.3-1.7.3-7.7.4 12.4.3.6.3 1.6.4-8.9.3 13.8.3-5.9.4-3.9.3 2.2.3 1.9.4 1.3.3 4.7.3-14.2.4 3.1.3-1.8.3-6.1.4-3.6.3 6.4.3-2.5.4-7.6.3 15.2.3-16.2.4 7.5.3 9.5.3-13.7.4 17.9.3-17.6.3 15.1.4 1.9.3 1.6.3-5.6.4 2 .3 9.2.3 10.2.4-10.6.3-.8.3 8.1.4 6.5.3-19.9.3 16.4.4-9 .3-15 .3.6.4 12.9.3-15.1.3 8 .4-.4.3-7.7.3-3.5.4-6.3.3 12.4.3-.6.4-3.5.3-4.2.3 10.1.4-3.6.3-4.2.3.3.4.9.3 11.6.3-8.8.4 15.7.3-.3.3 1.2.4-15.1.3-1.3.3-5.6.4 10.2.3-1.8.3 0 .4-12.2.3 2.5.3-6.6.4 8.1.3-.6.3-9.7.4 8.7.3 8.1.3 2.9.4-.6.3 7.2.3-7.1.4 1.3.3-4.6.3 1.1.4 9 .3-6.5.3 3.8.4-12 .3 7 .3-8 .4 8.2.3-8.2.3-2.5.4 1.5.3 5.3.3-3.7.4-4.5.3-5.2.3-2.8.4 2.9.3-3.4.3 10.3.4 13 .3 2.5.3-18.5.4 6.2.3-5.1.3 8.1.4-8.7.3 9.4.3-2.8.4-13.8.3-.7.3 16.8.4-8.8.3-9 .3 12.4.4-23.5.3-1.1.3-6 .4-2.2.3 10.1.3 3.5.4-4.6.3-4.2.3 6 .4-7.4.3 13.7.3 7.6.4-6.7.3 14.9.3-9.6.4 5.6.3 7.3.3 3.2.4-11.3.3 8.9.3 3 .4-9.7.3 7.2.3-10.6.4 19.1.3-20.5.3 7.1.4 1.2.3-13.6.3 10.1.4.8.3-3.1.3 5.5.4-20.5.3 17.6.3-4.8.4 6.5.3-4.3.3-5.3.4.6.3 7.9.3 9.1.4 14.1.3 1.6.3-2.9.4-8.1.3 9.3.3-16.3.4 14.2.3-3.9.3 2.4.4-6.3.3-13.3.3 13.6.4.9.3-9.5.3 1.2.4 1.9.3-10.3.3 12.6.4 6 .3-16.6.3 14.4.4-10.1.3-7.4.3 8 .4-.3.3 4.9.3-4.1.4-.6.3-3.5.3-12.6.4.1.3-9.9.3 5.9.4-5.5.3-16.1.3 7.7.4-5.6.3 8.2.3-22.5.4 8 .3-4.6.3 1.4.4-7.8.3-.4.3 5.8.4 4.4.3 6.6.3 1.7.4-3 .3 9 .3 4.8.4-8.7.3 15.8.3-8.2.4 15.8.3 1 .3-13.2.4.8.3.5.3 17.3.4-16.9.3 6.4.3 9.9.4 2.1.3 2.7.3-3.9.4 6 .3-9.8.3.3.4-5.2.3 10.4.3 5.8.4 6.3.3-5.6.3-16.8.4 13.5.3 1.8.3-14 .4 8.3.3-6.1.3-6.9.4 0 .3-5.1.3-4.8.4 12 .3-3.5.3-1.4.4-19.4.3 9.4.3-1.7.4 4.6.3-22.3.3 7.8.4-1.3.3 1.2.3-6.8.4 9.3.3-4.4.3 1.4.4 17.3.3-7.1.3 1.7.4 5.3.3-15.9.3 11.3.4 5 .3-5.9.3 6.4.4-15.4.3 20.3.3-9.9.4 1.7.3-5.4M386.2 365.2l.3.2.4-.3.3-6.3.3-3.3.4 8.7.3-2.1.3-6.4.4-1.7.3 2.8.3 4.2.4-5.4.3-14.4.3 9.3.4-5.8.3 10.6.3-2.8.4-5.3.3-4.4.3 3.8.4 3.9.3 12.3.3-13.3.4 3.5.3 10.6.3-3.5.4 4.3.3-7.4.3-3.7.4 9.3.3-5.9.3 2.8.4-5.4.3-7.2.3 9.8.4-8.2.3-9 .3-3.5.4-5.5.3 8.6.3 2.9.4-2 .3-.3.3 4.8.4-11.1.3 2.3.3 19.3.4-14.5.3 15 .3 2.3.4-2.4.3 1.8.3-6.4.4 19.5.3-13.4.3 3.4.4 2.5.3-10.4.3.4.4-4.9.3 6.2.3-5.6.4-2.9.3 4.9.3 2.1.4-6.1.3-.1.3 11.2.4-.8.3 7.6.3-13.6.4-1.8.3 9.5.3-7.5.4 9.7.3-6.2.3-1.3.4 18 .3-3.6.3-15.4.4 10.4.3 4.1.3-5.2.4-12.9.3 13.8.3-18.9.4-2.5.3 13.7.3-12.9.4 11.4.3-11.3.3-.3.4-6.9.3-5.9.3.8.4 7.1.3-3.1.3 8.7.4.2.3.4.3 4.5.4 15.1.3.2.3-5.3.4 1.1.3 13.5.3-.9.4 2.3.3-11.2.3 19.1.4-20.8.3 6.3.3-3.6.4-3.3.3 11.8.3-15.3.4-2.8.3-13.8.3 11.5.4-4.4.3 9 .3-16.5.4 21 .3-4.9.3-2.5.4-8.5.3 5.8.3 6.1.4-6.3.3 3.2.3-9.1.4 5.3.3 5.5.3-4.6.4 5.4.3-12.9.3-8.1.4 13.7.3 7.2.3-1.1.4-5.3.3-3.7.3 1.1.4 2.3.3-7.2.3 17.5.4-3.9.3 14.4.3-.1.4-13.8.3 8.6.3 10.8.4-.3.3-17.2.3-3 .4 7.3.3.7.3-.2.4-13.5.3 3.4.3 8 .4-13.1.3-6.6.3 1 .4 5.4.3-4.3.3 5.1.4-11.2.3 8 .3 15.4.4-6.1.3-10.5.3 4.8.4 12.3.3-8.9.3 9.5.4 11.5.3-6.3.3-8 .4 7.2.3-1.6.3 5.1.4-2 .3.6.3-12.3.4 1.4.3-3 .3 8 .4-8.7.3-1.4.3 6.8.4-6.5.3 5.5.3.6.4-2.4.3-.7.3 2.7.4-.6.3 1.8.3 2.5.4-4.5.3 1.7.3-1.1.4.8.3 2.2.3-.3.4-.1.3 2.4.3.3.4 1 .3-1.6.3 2.1.4 1 .3 3.9.3-1.2.4 2.6.3 1.6.3.5.4 5.1.3-.7.3-.5.4-3.6.3-1.3.3 1.9.4-5.8.3-.3.3-1.5.4-.1.3-3.1.3-1.9.4-5.2.3 1.1.3-3.4.4-3 .3-1.9.3-3.4.4 3.6.3-5.2.3-.5.4.2.3 1.5.3 1.7.4-.1.3-.6.3.9.4-.5.3-2.7.3-.7.4 2.2.3-1.8.3 2.9.4 1.7.3-2.3.3.2.4-2.5.3 3.3.3-2.9.4-.9.3-1.5.3.5.4 0 .3 2.1.3-3.4.4-.2.3 1.4.3-1.8.4 3.1.3-.9.3 2.5.4 1.2.3-4.2.3 3.8.4.3.3 1.6.3.7.4.7.3 1.8.3-4.4.4 1.2.3-1.3.3 4.1.4-4.2.3 4.3.3-3.7.4.1.3.6.3-.7.4.2.3 1.3.3-.6.4 5 .3-2.6.3 2.6.4-.2.3 2.5.3-.8.4 2.4.3-3.8.3.9.4-.6.3 1.7.3 1.8.4.1.3-5.2.3 1.1.4-.4.3 1 .3-1.2.4-.7.3 2.8.3-3.6.4-1.1.3 1.7.3-.9.4 3.8.3.7.3-1.7.4.6.3 1.7.3-1.2.4.1.3-1.4.3 4.5.4 0 .3-2.3.3 2.3.4-.8.3-3.6.3 1.6.4-.3.3-1.9.3-.7.4 4.1.3-1.3.3-.8.4.3.3-1.5.3 2.4.4-.8.3-1 .3 1.6.4-1 .3-.8.3 2.1.4 3.1.3 1.2.3.4.4-3 .3 1.1.3 2.6.4.8.3-2.1.3-.6.4 1 .3 1.1.3.5.4-2.3.3 2 .3-.3.4.1.3 1.3.3-1.8.4 3.9.3-.3.3 1.1.4.4.3.4.3 1.2.4-1.9.3 2.1.3 1.6.4-.1.3.9.3 2.8.4 1.2.3-6.1.3 5.9.4-4.8.3-.3.3 1.6.4-3.8.3.7.3-4 .4 6.9.3-4.3.3.1.4-9.2.3.4.3 9.6.4.5.3-14.8.3 10.2.4-3.7.3 7.9.3 2.3.4-9.9.3 12.6.3-1 .4 6.5.3-14.9.3 8.5.4-6.5.3 6 .3-14.2.4 2.6.3 14.9.3-17.9.4-2.6.3 2.3.3 7.5.4-15.6.3 4 .3-6.6.4 14.9.3-12.6.3-3.8.4 1 .3 4.8.3-5.9.4 12.6.3 6.1.3-8.6.4 9.9.3-14 .3 9.3.4.4.3 4.2.3-9 .4-6.3.3 2.7.3 14.4M626.2 390.4l.3-3.5.4 5.3.3 2 .3 9.6.4-14.9.3 10.7.3-2.1.4-6 .3-3.1.3 10 .4-15.4.3-4 .3 11.9.4-17.3.3 10.2.3 3.4.4-15.8.3 10.4.3-7.5.4 14.8.3-10.7M717.5 382.7l.4 10.1.3-.2.3.4.4 11.9.3-9.3.3 5 .4 4.9.3-10.7.3 18.3.4-5.2.3-19.7.3 16.6.4-13.1.3-3.4M755.2 382.5l.3-12 .4 9 .3-15.7.3 12.9.4-6.5.3-.8.3 6.7.4-7.4.3-4.6M816.2 355.1l.3-.3.4-5.8.3-10.6.3 9.7.4 7.6.3-15.8.3 6.2.4 4.4.3 7.1.3-9.9.4 14.9.3-18.3.3 9.6.4 6.8.3-15.9.3 6.7.4-5.5.3-1.7.3 5.9.4-.6.3 4.2.3-6.3.4-11.4.3.6.3-5.1.4-2.5.3 10.8.3-5.9.4 16.3.3-12.7.3 3.4.4-.8.3 1.5.3 8.2.4-.7.3 9 .3-8.6.4 13.3.3 4.3.3-2 .4-7.2.3-2.2.3 16.4.4-8 .3.7.3 6.7.4-6.9.3 1.7.3-9.5.4 12.9.3 10.4.3-12 .4 15.9.3-.7.3 5.1.4-1M845 402.7l.3-2.3.4 5.8.3-5.1.3-4 .4.7.3 1.2.3-.6.4-3.7.3 2.1.3-2.5.4 3.7.3-5.1.3.9.4.5.3 4.3.3-2.9.4-1.7.3 3.8.3-1.1.4 2.8.3-.9.3 1.6.4-6.3.3 3 .3-1.2.4 4.3.3-.2.3 1.6.4-7.1.3 3.5.3-.3.4-1.1.3-3.5.3-.3.4 6.3.3-5.9.3.1.4 0 .3-.1.3 7.5.4-3.9.3 3.4.3 2.2.4-2.3.3 4.8.3.2.4 2.9.3-3.5.3.6.4 4.6.3-3.6.3 3.4.4.3.3-7 .3 7.5.4-1.7.3-3.1.3-4.6.4 3 .3-2.1.3-8.5.4 7.2.3-6.9.3-2.8.4.3.3 1 .3 2.2.4 4.9M874 392.4l.3 6.1.4-5.6.3-2.7.3 1.7.4-8 .3 2.2.3-5.3.4 5.7.3 4.8.3.5.4-7.1.3-2 .3-6.2.4 8M905.3 408.2l.4-7.2.3 9.4.3.9.4-1.9.3-13.5.3 4.3.4 5.5.3-13.3.3 6.9.4-1.7.3 9.8.3-8.5.4 10.5.3-8 .3-2 .4.4.3 9 .3.5.4-1.9.3 12.7.3-8.2.4 12.2.3-9.8.3 8.4.4-8.6.3 11.5.3-20.6.4 18.6.3-14.4.3 9.2.4-15.7.3 4.9.3-8.5.4 2 .3 2.5.3 16.9.4-1.3.3-13.5.3 14.8.4-12.3.3-5.8.3 10.2.4 9.9.3-12.7.3 5.1.4 12.9.3-12.1.3 10 .4.2.3-2.6.3-.8.4-5.3.3-2.2.3-10.5.4 9.8.3-6.3.3-10.6.4 17.5.3-11 .3 7.6.4-15 .3 10.3.3 2.2.4.8.3-3.3.3 8.9.4-3.9.3-9.8.3 13 .4-1.5.3-1.1.3 14.3.4-3.7.3-6.8.3 17.5.4-18.6.3-.2.3 15.5.4-3.6.3-10.9.3 6.7.4-6 .3-13.8.3 4.3.4 7 .3-19.5.3-6.4.4 3.5.3.2.3 2.3.4-16.1.3 11.1M984 335.7l.3-9.2.4 2.4.3 8.8.3 3 .4-11.9.3 5 .3-2.7.4-6.5.3 18.4.3-12.3.4-2 .3 5.9.3 6.6.4-11.9.3 7.7.3-2.6.4 7.2.3-10.4.3 1.7.4-3.8.3 9.5.3-5.9.4 11.8.3-19 .3 5.4.4.4.3-13.1.3 16.5.4 2 .3-12.2.3 4 .4-10.3.3 16.7.3-11.3.4 3.5.3 12.3.3-7 .4 3.2.3 9.2.3-6.2.4-1.9.3-7.4.3 5.8.4 10.5.3-6.6.3 12.8.4-9.8.3-4 .3 9.4.4-8.5.3 2.3.3-5.2.4-5.9.3-3.5.3 11.6.4-15.6.3 15.5.3-12 .4-2.5.3 17.1.3-7.1.4 9.9.3-11.9" stroke="#e0000c" stroke-width="2.5" fill="none" stroke-linejoin="round"/><path d="M529.9 345.9l.1 11.5.1-9.1.1-1.2 0 1.8.1.3.1-.5.2 4.9-.1 2 .2-9.2.1 2.1.1-3 0 5.3.1 6.3.1-6.6.1-2.7 0 3.9.1-2.6.1 1.9.2 2.4-.1-7.5.2-4.6.1 12 .1.6 0-12.3.1 4.9.1 5.8.1-7.8 0 1.1.1 10.7.1-16.9.2 6.3-.1 4.8.2-2.3.1 1.1.1 6.2 0-19.7.1 2.3.1-1.2.1 3.6 0 15.8.1-14.7.1 9 .2 1.6-.1 2.7.2.5.1-10.5.1 1.7 0-13.2.1 12.4.1.6.1-.2 0-1.7.1-10.3.1 12.8.2-7.5-.1 14.6.2-8.9.1-4.8.1-3 0-5.3.1 2.7.1 16.6.1-11 0 2.3.1 4.1.1.7.2-8.9-.1-7.5.2 23.4.1-21.6.1 7.7 0 2 .1 3.9.1-.1.1-1.1 0-1.4.1-11 .1 22.7.2-.9-.1-18.4.2 12.1.1-14.3.1 9 0-10.2.1 14.4.1-10.6.1 25.5 0-10.5.1 1.3.1-2.4.2-1.5-.1-11.1.2 8.7.2-3.7 0 14.3.1-5.6.2-5 0 12.2.1-7.2.1 17.9.2-15.8-.1-2.7.2 16.4.2-13.2 0-4.2.1-11 .2 26.9 0-17.9.2 4 .1 15.6 0-1.2.2-6.3.2-8.8 0 26.1.2-22.1.1-1.9.2-10 .1 17.6 0-9 .3 13.7.1-21 .1 25.4.2-8.6 0-8.5.2-1.4.1-2.7 0 36.6.2 6.9.2.7 0-9.9.2 11.9.1 6.8.2-15.1.1-4.3.3-30.8.1 46.6.2 2.3.1 4.3.2-20.6.1 15.4.3 2 .1-24.7.2 25.7.1-17.7.2 17.2.1-17.9.3-21.4.1 18 .2-23.6.1 13.5.2 40.4.1-43.7.4 25.5.2-9.2.1 4.3.2 16.3.1-10.6.3-4.1.1 28.7.2-38.3.1 6.9.2 42.5.1-39.2.4 43.8.3-47.5.3-7.7.3 49.3.1-51 .3 4.6.3 51 .4-39.3.3-26.8.3 63.4.3-12.1.1-19.8.3-41.5.3 7.4.4 23.4.3 1.4.2 16.8.1-35.7.4 17.1.2 35.6.1 16.1.3-23.3.4-29.2.3 47.6.3 6 .3-8.3.1 2.9.2-14.3.1-25.2.2 20.9.1-26.9.4 32.4.3-41.3.2-5.4.1 19.8.4 10.3.2 3.3.1 2.1.2 2.1.1-41.4.3 49.8.1-8.1.3-9.6.2-15 .1 37.4.4-32.8.3-26.5.2 8.9.1 32.8.3-3.4.1 26.7.3-29.6.2-11.5.1-19.5.3 1.3.1 37.7.2-15.1.1-28.9.2 13.5.1-11.1.3 37.3.1 11 .2-20.7.1-2.1.2 18.7.1-2.5.3-14.4.1 2 .2-15.2.1 6.3.2-15.9.1-6.4.3 15.5.1-2.8.2 35.5.1-26.1.2-3.1.1 27.7.3-27.6.1 4.8.2 29.2.1-8.8.2 4.2.1-10.2.3-37.7.1 7.9.2 4.2.1 26 .2-9.9.1 6.5.3-2.8.1-1.9.2-7 .1 8.6.2 21.1.1 2.2.3-.7.1-5.8.2-23.9.1-.4.2 21.2.1-29.4.3-13.4.1 28.8.1-6.1.2-18.2 0 10.5.2 26 .1-32.3.3 24.2.1-.1.2-21.4.1-10.4.2 34 .1-19.5.3 24.4.1-20.8.2 27.2.1-41.4.2 4.7.1 7 .2 26.3.2-39.9 0-1.3.2 12.9.1 6.4.2.2.1 9.6.3-1.3.1 16.9.2-15.8.1-6 .2 3.8.1-11.5 0-11.7.3 9.2.1 22.2.2-31.6.1 24.1.2-10.6.1 27.4.2-35.5.2 17.3 0-4 .1-3.7.2 4.1 0 8.4.2 6 .1-17.7.3 25.4.1 1.7.2-34.6.1-5.2.2-1.7.1-2.5.3 28.5.1-24.8.1-2.5.2 28 0-32.6.2 44.9.1-19.1.3-4.4.1 12 .1-13.5.2 27 0-23.3.2-1.3.1-20.6.3 39.5.1-27.2.2-14.5.1 40.1.2-1.5.1-3.6 0-29 .2 16.6.2 26.9 0-32.6.1 1 .2-2.4 0 14 .2 4.1.1-4 .3-5.2.1 7.1.2-5.7.1-6.1.2 22.7.1-6.4.3-3.5.1 1 .2-26.9.1 22.3.2-27 .1 16.9 0-.4.3-1.1.1 6.9.1 13.4.2-8.8 0-17.3.2-3.2.1-6.2.3 12.9.1 9 .2 10.2.1-19.7.2-12 .1 16.3.2 9.5.2 9.9 0-24.7.2 12 .1-8.5.2 23.1.1-21.3.3-17.7.1 21.5.1-22.5.2 10.8 0-18.6.2 49.4.1-26.2.3 4.5.1 11.9.1-14.6.2.9 0 10.5.2-11.2.1-1.6.3 10.7.1 2.9.2 12.9.1-8.1.2-4.8.1 3.3 0-24.9.2-7.8.2 27.2 0 7.5.1-32.4.2-1.8 0 19.9.2 17.5.1-13.5.3 10.1.1-23.2.2 19.9.1-12.3.2 10.4.1-11.8.3 25.8.1-14.8.2 5.9.1-.2.2-33.5.1 8.6.3 2.1.1 6.2.1 15.9.2-21.5 0 15.7.2-23 .1 6.7 0 32 .3-40.9.1 16 .1 2.5.2 1.8 0 9.3.2-20.9.1 6.3 0-2.6.2.1.2 12.3 0 4.6.2 5.2.1-22 .2 10.7.1 6.7.2-27.1.2 4.6 0 18.6.2-22.8.1 36.5.2-28 .1-13.7 0 16 .2 17.8.2-10.8 0 2.9.2-10.1.1-13.8.2 41.4.1-14.3 0 12.9.2-19 .2 16.8 0 1.5.2-24 .1 1.8.2 8.5.1-5.1 0-4.9.2 4 .2-4.6 0 11.8.1-3.5.2 10.8 0-13.5.2 14.7.1-19.7 0 6.7.2.1.2 17.7 0-2.5.1-18 .2-3 0-2.8.2 7.5.1 10.9 0-17.4.2 1.6.2 11 0 6.8.1-6.6.2 6 0-11.5.2-8.3.1-5.5 0 6.5.2 18.8.2-.9 0-24.3.1 2.5.2 22.2 0-24.9.2 5.1.1 18.8 0 8 .2-10.7.2 4.1 0-25.6.1 3 .1 30.1.1-19.1 0-.5.1-4.3.1 3.6.2-1.2-.1-.7.2 17 .2-19.8 0 1.3.1 17.3.2-14.9 0 1.7.1 2.1.1-12.6.2 23.8-.1-2.7.2 3.2.2-11 0-11.9.1 19.3.2-1.3 0-9.9.2 17 .1-30 0 18.1.2-10.1.2 5.9 0 8.2.1-16.4.2 12 0 9.4.1 5 .1-10.9.2-4.5-.1-4 .2 1.8.2-14.2 0 24.5.1-14.9.2 3.8 0 9.4.2-14.1.1 15.6 0-11.6.2-6 .1-5.4.1 3.2 0-5.5.1 3.8.1 23.3.1-23.6 0 13.3.2 1.7.1-2.9 0 9.3.2-16.5.1 4.8.1 4.4 0-8.2.1 10.1.2-15.9 0 .2.1 16.5.1-15.6.2 6.2-.1-2.6.2 16.3.2-15.5 0 14.5.1-2.2.1-1.1.1-9.9 0-7.8.1 10.7.1 5.4.2-5.9-.1-11.6.2-4.9.1 16.9.1 4.4 0-7.6.1-2.6.1 14.3.1-9.1 0 10.8.2-7.9.1-1.3 0-7.7.2 15.8.1-12.3.1 10.4 0-6.1.1-4.8.2 4.1 0-5.4.1 3.1.1-.2.2 14.8-.1-12.7.2-3.8.1 9.7.1 3.4 0-14.8.1 4.6.1-3.8.1 2.2 0 1.4.1 4.3.1 9.2.2-24.8-.1 2.6.2-2 .1-5.9.1 11.9 0 8.4.1-1.4.1 7.5.1-21.8 0-2.3.1 5.1.1-7.9.2 19.5-.1-12.4.2 5.6.1 7.9.1-14.3 0 9.5.1-15.1.1 14.1.1-12.4 0 8 .1 4.5.1 12.8.2-2.8-.1-16.1.2 8.9.1-19.3.1 18.3 0 4.1.1-9 .1 10.7.1-13.3 0 7.9.1 5.2.1-19.9.2 4.8-.1 2.2.2 10.5.1-13.9.1 11.1 0-1.9.1-6 .1 9.7.1 9.6 0-9.1.1 2.3.1 1.3.2-5.8-.1.5.2-6.6.1-1.1.1 9.9 0-5.5.1-3.6.1-8.6.1 16 0 7 .1-12.1.1 3.3.2.9-.1 5.6.2-14.1.1-.1.1 14.4 0-14.4.1 11.2.1-19 .1 15.6 0 .2.1-6 .1-.6.2 4.6-.1-11.4.2 4.7.1 0 .1.7 0-5.7.1 15.5.1.6.1-8.2 0-7.8.1 11.5.1 3.6.2 6.1-.1-14.6.2 4.4.1 5 .1-8.1 0 11.2.1-11.1.1 11.1.1 1.6 0-3.6.1-8.1.1-2.5.2 12.9-.1-6 .2-7.3.1 11.7.1-20.9 0 19.2.1-16.5.1 10 .1.8 0 4.1.1-6.5.1 8 .2-2.8-.1-.5.2.3.1 3.4.1-11 0 4.6.1-.8.1.8.1 2.5 0-.4.1-4.5.1 8.9.2 2.3-.1-9.2.2 3.6.1.4.1-4.1 0 6.2.1-5.5.1 8.5.1-6.5 0-7.3.1 11.5.1-4.7.2 2.6-.1-1 .2 3.8.1 5.5.1-10.4 0 10.2.1-11.8.1.6.1-2.5 0 6.5.1 5 .1-1.4.2-5.3-.1 2.4.2 9 .1-10.5.1 7.8 0-8.4.1 9.2.1-8 .1-6.7 0 7.3.1 1.1.1 5 .2-14.3-.1 5.9.2 2.3.1-8.5.1 7.6 0 4.2.1-6.5.1 7.1.1-1.8M633.5 378.3l.2 4.8.1 2.6.1-6.2 0 5.9.1-10.4.1-1.3.1 2.6 0 4.4.1.3.1-1.2.2 13.2-.1-17.6.2 11.1.1 5.9.1-7.1 0-9.8.1-.6.1 4.9.1 1.7 0 11.4.1-.3.1-10.5.2-6.6-.1 6.5.2-3.7.1-1.2.1-7.9 0-.1.1 16.4.1 1.5.1-4.4 0-8.4.1-3.9.1 8.4.2 7-.1-7.4.2 8.9.1-17.7.1-4.7 0-.7.1 12 .1-1.3.1 10.3 0-7.8.1-4.1.1 17.2.2-27.8-.1 12.1.2 7.6.1-14.5.1 7.3 0 2.3.1-3.6.1 7.7.1-.2 0 .1.1-1.1.1 2.6.2-10.5-.1 14.5.2-11.5.1-.2.1 9.6 0-3.9.1 13.4.1-10.2.1-12 0 16.6.2-6.6.1-5.2 0 2.6.2.2.2-14 0 16.3.1-11 .1 7.7.1 12.5 0-13.7.2 5.9.1 13.1 0-23.2.2-8.7.2 17.3 0-.5.1 4.9.2 13.3 0-27.5.2 21.9.1 2.6 0-3.6.2-20.8.2 15.5 0 6.4.1-4 .2-9.5 0 5.3.2.1.1-8.5 0-5.4.2 28.5.2-14.7 0 5.1.1 12.3.2-8.1 0 .5.2-24.4.1 12.4 0 2.6.2.3.2-16.6 0 .8.1 28.1.2-11.4 0 2.4.2-8.2.1-4.2 0 3.2.2 11.4.2-1.5 0 16.1.1-37.1.2 12.4 0-1.8.2 9.1.1-16.7.2 27.3.2-26.6 0 1.4.1 15.9.2-19.6 0 13.4.2 7.1.1 5.3 0-15.7.3 23.7.1-8.1.1-17.2.2-3.8 0 14 .2-14.6.1 1.5.2 18.9.2-10.5 0-3.7.1 1 .2 14.9 0 6.4.2-1.3.1-16 0-2 .3 13.2.1 1.3.2-12.5.1-21.2.2 40.6.1-36.4 0 11.6.2 2.6.2 21.9 0-24 .1.6.2 7.6 0-11.6.2 14.7.1-32.7.2 22.7.2 18.5 0-27.5.1-.3.2 8.4 0-7.7.2 11.5.1-1.7 0 4.5.2-11.9.2-4.4 0 17.9.2-26.4.1 18.4.2 17.7.1-7 .3-28.1.1 30 .1-24.4.2 7.1 0 5.4.2-15.6.1 23.1 0-3.2.3-24.2.1 21.9.2 13.3.1-28.1.2 1.4.1 26.8 0-31.1.2 12.3.2 12.1 0 2.1.1.7.2-11.2 0 11.4.2-12.6.1-2.5 0-8 .2-5.8.2 5 0-2.9.1 13.1.2 25.4 0-23.6.2-2.5.1 18.4 0-9.9.3-3.4.1-3.6.2-2 .1 25.4.2-26.3.1 27 .2-14.2.2-17.2 0 5 .1 13.7.2-12.2 0 18.4.2-15.9.1.9.2.1.2 2.2 0 8.6.2 5.9.1-2.3.2 2.4.1-35.3.3 13.4.1 17.6.2-8.2.1 6.8.2 5 .1 7 0-38.8.2 23.7.2-3.1 0-6.5.1 10.4.2-23.2 0 40.5.2-13.5.1-14.3 0 2.6.2 4 .2 5.1 0-8.6.1 3.4.2-11.2 0 15.5.2-2.3.1-16 0 25.4.2-14.6.2-3.4 0 10.8.2 7.2.1 4 .2-16.9.1 13.5 0-.7.2-20.5.2 2 0 8.8.1-.5.2-21.4 0 32.6.2-17.3.1-15 0 18.7.2-19.5.2 19.9 0-8.8.1-5 .2 10.6 0-12.7.2-1 .1 23.5 0-5.4.2.4.2-.3 0-18.6.1 13.7.2 11.4 0-25.1.2 26.9.1-4 0-2.8.2-14.6.2 18 0-18.7.1 9.8.2-1.8 0 5.5.2 3.8.1 3.1 0-28.2.2 14.8.2 14.6 0-10 .1-.9.1-6.6.1 10.7 0-12.7.2-.6.1 1.9 0 16.9.2-21.9.2 9.1 0-10.6.1 6 .2-11.2 0 7 .2.2.1 19.8 0-19.5.2 24.2.2 1.3 0-14.4.1 1.8.1 8.9.1 4.9 0-6.5.2-.2.1-21.7 0 4.9.2 23.4.2-28.4 0 18 .1 2.9.2-6.6 0-2.1.2-3.3.1 10.6 0-8.4.2 17.8.2-30.8 0 8.9.1 10.8.2.1 0-9 .2 1.1.1 19.1 0-20.2.2-.6.1 7.5.1-9.3 0 20.5.1-6.8.2-7.6 0 7.5.2 4.3.1-27.7 0 1.3.2 3.5.2 13.9 0-11.7.1 16.4.1 2.4.1-11.3 0 16.9.1-19.5.1 22.1.2-21.4-.1 1.1.2 0 .2 18.8 0-14.7.1-12.4.2 14.6 0-9.2.1 9.9.1 7.8.2-2.9-.1-17.7.2 17.3.2 3.3 0-20.8.1 19.3.2 2.5 0 3.9.1-3.3.1-9.7.2-3.1-.1-3.9.2-8.5.1 27.9.1 2.9 0-14.5.1 3.9.1-15 .1 12.4 0-18.4.1 9.8.1-8.9.2 23-.1-9.2.2-8.9.1 27.7.1-28 0 13.6.1 9.6.1-24.6.1 19.6 0-22.8.2 26 .1-6 0-12.2.2 4.4.1 7.2.1 1.7 0 2.6.1-18.3.1 10 .1 9.2 0 1.5.1-21.2.1 9.6.2-13.2-.1 1.5.2-2.5.1 21.1.1-24.6 0 4.3.1 21.5.2-27 0 11.2.1 7.1.1 11.3.2-14.8-.1-7.3.2 15.2.1-1 .1-8 0 7.9.1 2.6.1-10 .1-.3 0 6.1.1-14.3.1 8.3.2-3.1-.1 5.7.2-9.1.1 16.5.1-4.7 0-5.2.1-4.2.1 7.6.1-3.4 0 1.2.1 5.8.1-3 .2-8.1-.1-4.2.2 14.8.1 2.3.1-4.2 0-9.1.1 9 .1-10.3.1 10.7 0 1.4.1-3.3.1-12.9.2-1.8-.1.6.2 14.5.1 9.1.1-12.2 0-.9.1 11.1.1 3.7.1-22.3 0 1.6.1 7.1.1-10.9.2 23.4-.1-5.7.2-4.7.1-2.8.1 2.7 0 6.7.1-22.9.1 15.4.1-.5 0-5.6.1 17.3.1 3.2.2-4.5-.1-21.2.2 26.5.1-4.2.1-4.4 0-4.5.1-5.7.1 10 .1-7.5 0-6.1.1 3.1.1 7.2.2 3.9-.1-4.8.2-1.9.1 5.7.1-15.1 0 0 .1 21.6.1-24 .1 11.5 0 14.9.1-10.3.1-17.4.2-1.3-.1 13.4.2 6.8.1 7.1.1-16.6 0 16.6.1-10.9.1 7.7.1-4.1 0 10.3.1-11.9.1-3.8.2.4-.1 3.1.2 8.4.1.2.1.2 0-13.7.1-.5.1 2.2.1 3.9 0-10.6.1-1.9.1 10.1.2 1.6-.1.8.2 3.4.1 9.5.1-28.7 0 26.5.1-6.4.1-4.3.1 1.7 0-9.1.1 1 .1 12.7.2-13.5-.1 18.3.2-1.8.1-4.7.1-16.1 0 19.1.1 7.4.1-4 .1-14 0-.5.1 17.5.1-20.3.2 3.2-.1 4.7.2-1.1.1 5.1.1-12.7 0 13.7.1-15.5.1 6.5.1.5 0-5.2.1 6.8.1-6 .2.2-.1 5.7.2 3.6.1-9.3.1 8.3 0-6.5.1 7.9.1-.5.1-.6 0 .6.1-2.2.1-4 .2-3-.1 11.8.2-1.6.1-8.9.1-3.3 0 10.2.1 2.1.1-13.7.1 22.1 0-11.3.1 5.3.1-16.5.2 5.8-.1 5.5.2-5.5.1-9 .1-.7 0 20.8.1-11.3.1-5.6.1 22.4 0-9.9.1-6.4.1 8.5.2.4-.1 4.3.2-7.2.1-9.6.1 3.4 0-4.5.1 3 .1 7.5.1-5.7 0 12.5.1-5 .1-2 .2-5.7-.1 3.8.2-8.8.1 6.4.1-10.2 0 23.4.1-14.6.1 9.7.1-5 0 4.5.1-2.6.1-5.9.2-3.3-.1 13.8.2-1.2.1-7.6.1 6.7 0-6.8.1-7.8.1 14.4.1-6.6 0 5.6.1-5.5.1-9.8.2 4.5-.1 13.1.2-16.9.1 15.6.1 5.7 0-13 .1 10.3.1-19.5.1.8 0 7.4.1 4.7.1-.2.2-10.9-.1 9.8.2 6.2.1-1.2.1-6.9 0 6.9.1-5.4.1 4.4.1 1.7 0-4.2.1 1.1.1-1.5.2 2.4-.1-9.8.2-6 .1 10.6.1-3.1 0 .8.1 8.5.1-12.7.1 4.6 0-2.3.1 6.5.1 7.3.2-17.6-.1 5.4.2 5.8.1-4.5.1-5.4 0 8.2.1-.6.1-4.5.1-3.8 0 4 .1 2.5.1.6.2 5.2-.1-10.5.2 9.5.1.1.1-12.3 0 7.3.1 8.1.1-1.8.1.7 0-7.9.1-4.3.1 4.1.2 5-.1 1.2.2 1.3.1-2.4.1-4.3 0 1.8.1-.1.1-9.5.1 3 0 8.9.1.4.1-3.1.2-8-.1 3.1.2 4.4.1 4.9.1 2.6 0-6.7.1 0 .1-9.2.1.7 0 1.7.1 5.4.1-2.4.2 2.9-.1 3.2.2-6.5.1-.2.1 1.2 0-1.4.1 11.1.1-15.5.1 1 0 6.2.1-10.9.1 5 .2.8-.1 4.3.2-5.9.1 2.6.1 7.6 0 6.7.1-12.5.1-3.9.1 2.4 0-1.8.1 1.7.1 12.8.2-15.6-.1 8.3.2-7.5.1 12.4.1-1.9 0-11 .1 6.4.1-.9.1 10.6 0-4.6.1-12.4.1 15.2.2-3.4-.1-7.9.2 11.6.1 1.2.1-9.6 0-2.6.1 8.1.1 4.3.1-7.5 0-3.3.1 1.1.1-3.9.2 1.4-.1 5.6.2-4.3.1 2.5.1-7.5 0 0 .1 5 .1 12.7.1-15.7 0 13.8.1-7.4.1-1.2.2 10.9-.1-9.5.2-12.4.1.3.1 5 0-6.3.1 14.4.1 8.1.1-10.7 0-2.9.1 6.3.1-13.8.2-1.6-.1 18.5.2-.6.1-15.1.1 10.9 0 1.2.1 2.5.1-13.2.1 7.4 0 11.1.1-14.6.1 12.6.2-8.1-.1 4.3.2-1.9.1-9.3.1-2.5 0 14.2.1-3.7.1-7.9.1-.5 0 7.3.1 3.1.1 3.2.2-16.8-.1 3.6.2 16.9.1-10.5.1 1.3 0 4.6.1-.4.1-5 .1 9.3 0-10.4.1 2.2.1-5.2.2.5-.1 3.2.2-6.1.1 16.5.1-12.3 0-4.2.1 1.8.1 5.4.1-.3 0-1.1.1 5 .1 2.2.2-1.3-.1-12.7.2 15.7.1.6.1-12.3 0 .2.1 13.1.1-3 .1-4.3 0 4.1.1-2.7.1 1.4.2-5-.1 7.8.2-7.6.1-.5.1-5.3 0 7.9.1.3.1-1.5.1 1 0-.9.1-2.4.1 6.5.2-8.8M722.5 381.8l.2 9.5.1-2.2.1-2.8 0 10.9.1-5.8.1 5.3.1-2.5 0-5.3.1-.8.1-.3.2 1.1-.1 3 .2-9.5.1-3.6.1 9.6 0-3.5.1 6.6.1-14.4.1 8.9 0 2.3.1-.8.1-5 .2-3.7-.1 5 .2-10.1.1 14.6.1-10.9 0 7.5.1-2.5.1-5.4.1.4 0 1.5.1-9.1.1 9 .2-8.3-.1 8.9.2-2.3.1 5.4.1-.5 0-9.6.1 8.2.1-4.9.1 4.4 0 9.6.1-1.3.1-9.1.2 1.8-.1 3.1.2 1.9.1-4.8.1-2.8 0 6.8.1-8.9.1-1.4.1-1.3 0-2.8.1 5.8.1-1.6.2-.8-.1-8.1.2 17.7.1-1.8.1 1.8 0-7.3.1-12.2.1 6.1.1-7.3 0 15.2.1 1.7.1-8.5.2 11.9-.1-4.2.2-8 .1 14.8.1-7.3 0-14.6.1 13 .1-5.4.1 8.2 0-2.4.1 6.1.1-7.1.2 9.1-.1-6.6.2-12.8.1 1.4.1 16.2 0-13.3.1 10.2.1-2.6.1 7.3 0-1.5.1-4.8.1 6.5.2-5.2-.1 9.1.2-9 .1 1.9.1.1 0 3 .1 3.2.1-18.8.1 5.4 0-2.3.1 15.8.1-5.7.2-11.9-.1 6.8.2-2.1.1 5.6.1-1.7 0-2.1.1 8.8.1-15 .1 15 0-2.9.1 7.3.1-17.7.2-.8-.1 11.6.2-3.1.1 1.9.1-11.4 0 .9.1 12.7.1-1.8.1 3 0 4.8.1.8.1-3.2.2-5.1-.1-3.7.2 12.7.1-11.9.1 6.5 0-4.9.1-11.3.1 15.9.1 2.2 0 2.9.1-5 .1-6.3.2 2-.1 8.9.2-5.7.1 6.2.1-15 0-1.5.1 17.3.1-4.2.1 1 0 .7.1-7.2.1-1.5.2 4.5-.1-11.1.2 5.8.1-3.9.1 8.7 0-4 .1.1.1-4.4.1 5 0-4.9.1 4.2.1 2.8.2 4.2-.1-3 .2-13.1.1 10 .1 6 0-6.6.1-3.3.1-6.8.1 16.6 0-7.5.1 1.8.1 5.7.2-5.7-.1 7.4.2-7.8.1-6.9.1 9.3 0 5.9.1-13.7.1-3.2.1-1.4 0 6.5.1 8.6.1-15.4.2 20.1-.1-4.4.2-16.6.1 10.6.1.9 0-7.6.1 12.5.1-10.1.1 6.3 0 .3.1-8.9.1 9.4.2-6.5-.1 15.5.2-15.4.1-.7.1 17.6 0 .5.1.8.1-18.7.1 15.8 0-14.3.1 10.3.1-5.8.2-2.8-.1-1.7.2-.4.1 12.7.1-6.2 0 4.4.1-8 .1.8.1 7.1 0-11.4.1 11.9.1 3.4.2-11.6-.1 5.3.2-3.9.1 1.3.1-11 0 3.4.1 11.8.1-6 .1 3.6 0-3 .1 1.4.1 1.4.2-2.1-.1-4.1.2-1.7.1 5.1.1-11.3 0 12.2.1-1.2.1-7.6.1 8.4 0 .7.1-6.6.1 1.6.2-4.5-.1 15 .2-15.1.1-.2.1-1.9 0 15.6.1-8.1.1-7.2.1-2.3 0 2.8.1 15.6.1 5.2.2-10.5-.1 5.9.2-18 .1 12.7.1 6.7 0-7.7.1 5 .1-4.3.1-1.7 0 5.6.1-3.2.1-17.4.2 11.3-.1-6.9.2 11 .1-6.1.1-9.5 0 14.4.1-8.6.1.9.1 8.7 0-10.6.1 10.8.1-5.2.2-1.5-.1-.8.2-7.3.1 9.6.1 4.1 0-7.6.1 6.3.1 2 .1 3.4 0-6.1.1-10.8.1 3.2.2 5.6-.1-6.1.2-5.9.1 7.3.1-8.8 0 8.7.1-5.5.1 15.8.1-.1 0-2.6.1-4 .1-2.3.2 2.9-.1 1.5.2-3 .1 7.8.1-1.3 0-6 .1 5 .1.5.1-6.6 0-3.4.1 15.9.1-20.8.2 6.1-.1 8.3.2 8.5.1-17.5.1 4.1 0-2 .1-.8.1 3.6.1-1.3 0 5.1.1-12.5.1 9.4.2-3.3-.1-3.3.2 5.1.1-3.9.1-4.9 0 2.3.1 5.1.1-11 .1 3.3 0 6.4.1-4.2.1 11.6.2 2.5-.1 4.1.2-12.3.1 5.9.1 7 0-6.7.1 1.8.1-9.5.1 10.9 0-5.2.1 5.4.1-14.9.2-1.1-.1 1 .2 5.3.1 4.3.1-3 0-4.9.1 4.7.1 6.4.1 3.1 0-5.1.1 2.7.1-12.5.2-.7-.1 15.7.2-5.7.1 1.3.1-5.3 0 10.1.1-3.9.1-14.5.1 14 0 2.1.1-.2.1-10.7.2-4-.1 9.2.2-2.1.1-2 .1 1.3 0 8.3.1-11.4.1 8.3.1-6.9M758.5 372.3l.2-6.7.1 10.4.1-2.8 0 8.2.1-20.7.1 15.1.1-6.2 0 7.5.1-13.8.1 12.5.2-15.5-.1 12.3.2 2.6.1-12.7.1 14.8 0-4.5.1-1.4.1-1 .1 10 0-12.2.1 3 .1-2.3.2-5.2-.1-.3.2-.4.1-1.2.1 5.8 0-8.4.1 12.3.1-5.4.1-3 0 5 .1-1.4.1-8.7.2-2.9-.1 4 .2 14.3.1-2.8.1-8.1 0 2 .1-6.8.1 17.4.1-8.1 0-10.5.1 10.9.1 2 .2-9.1-.1 9.8.2-13.4.1.7.1 13.9 0-8.3.1-10.2.1 18.9.1-4.8 0-1.3.1-3.8.1-6.3.2 3.8-.1 5.6.2-7.9.1-2.4.1 3.2 0 .8.1-2.9.1-2.5.1 1.4 0 8.3.1-9.9.1-1.1.2.6-.1 12.9.2-.6.1-10.9.1 5.3 0 13.4.1-6.6.1-3.4.1-8.8 0 11.3.1-2.6.1-1.9.2 4.1-.1-10.2.2 15.1.1-4 .1-8.8 0-6.8.1 8.6.1 7 .1-8.9 0 .4.1 10.4.1-2.5.2 2-.1-7.8.2-.5.1 5.8.1-4.3 0-8.1.1-1.3.1 7.1.1-10.2 0 21.8.1-5.1.1-10.7.2.1-.1-1.3.2 7.5.1 5.2.1-11.2 0 11.2.1 3.3.1-10.1.1-3.2 0 4.5.1 8.5.1-15.9.2 2.7-.1 1.8.2-12.8.1 23.4.1-19.2 0 5.9.1 9.5.1-.5.1 6.9 0-5.8.1-1.8.1 2 .2-6.6-.1-4.9.2-.8.1 6.3.1 2.8 0-5.1.1 4.8.1-.9.1-3.4 0 13.3.1-19.7.1 2.7.2 4.7-.1-5.3.2 5.4.1.5.1-3.5 0 8.4.1 2.2.1-.1.1-10.6 0 14.1.1-1.3.1-17.6.2 8.4-.1-2.7.2-7.8.1 6.6.1 1.5 0-3.4.1 4.9.1 1.7.1-6.2 0 3.3.1 7.9.1-14.2.2 19.1-.1-3 .2 3.3.1 2.5.1-10.3 0-12.2.1 8.5.1 5.9.1-16 0 8.5.1 6 .1-.9.2.4-.1-11.9.2 19.9.1-.9.1-5.3 0-7.6.1 4.5.1 3.4.1 2.1 0-6.3.1 18.5.1-8 .2 6.9-.1-11.5.2-12 .1 12.6.1-6 0 1.9.1.5.1-3 .1 17.6 0-3.7.1-7.6.1 10.3.2.2-.1 4.7.2-3.6.1-2.4.1 2.6 0 13.1.1-14.2.1 4.2.1-4.7 0-.4.1 12.3.1 6.2.2-20.5-.1 14.6.2-4.6.1 6.5.1-3.1 0-1.8.1-5.9.1 7.9.1-.7 0 2.8.1-15.4.1 7.7.2-2.3-.1 10.4.2-7.1.1-.3.1-5.8 0 16.2.1-8.3.1 4.6.1 2.2 0 1.8.1 1 .1 6.7.2-12.9-.1-5.6.2 20.2.1-12.1.1-4.3 0 20 .1-3.5.1-3.2.1 4.9 0-19.7.1 5 .1 4 .2-10.4-.1 15.8.2 2.1.1-12.3.1 3.7 0 8 .1-2.6.1-16.3.1 13.6 0 .3.1-16.4.1 7.3.2 8.3-.1-.5.2-11.7.1 15.2.1-15.4 0 9.4.1-1.5.1-.8.1-1.8 0 1.3.1.9.1 2.7.2 6.6-.1-11.7.2.7.1 8.1.1-5.4 0 3.1.1-12.3.1 8.9.1-7.4 0 6.3.1-.5.1 2.3.2-5.2-.1-4.8.2 3.3.1-12.5.1 8.9 0-3.8.1 3.6.1-7.4.1 7.2 0 12.2.1-10.5.1-3.9.2 5.8-.1 3.7.2-3.1.1-3.3.1 8.7 0-10.5.1-2 .1 2.1.1 5.3 0-16.2.1 1.5.1 16.4.2-16.9-.1 12.6.2-4.2.1.5.1-6.9 0 .6.1 2.6.1-.9.1-10.6 0 6.6.1-11.8.1 9.6.2 1.5-.1-2.9.2-3.1.1 7.4.1-9.8 0 8.5.1 5.6.1.5.1-16 0 5.2.1 17.6.1-15.5.2 1.4-.1 8.6.2-1 .1-9.1.1 8.9 0-3.4.1-1.2.1-2.2.1 4.3 0 1.2.1-15.9.1 12.6.2 6.2-.1-16.9.2 12.7.1 3.2.1-17.4 0 19.7.1 4.3.1-12.4.1 12.4 0-10.7.1-4.7.1 5.4.2 1.4-.1 3 .2-.6.1-6.6.1 5.9 0 .6.1-19.8.1 24.5.1-12.9 0-.7.1-.6.1-5.1.2 15.2-.1-9 .2 8.5.1-12.1.1 4 0 6.7.1 1.7.1-10.1.1 13 0-7.2.1 1.4.1-3.1.2-14.4-.1 11.6.2-9.4.1 19.5.1-4.9 0 3 .1-.7.1 5.1.1-8.1 0 .3.1-7.6.1-6.7.2 9.6-.1-5 .2 10.6.1-15.1.1 12.8 0 6.2.1-19.4.1 7.1.1 3.3 0-5.5.1 1.6.1-10 .2 9.3-.1-8.7.2 4 .1 5.1.1 11.4 0 2.5.1-2.6.1-19.2.1 11.6 0 4 .1-14.4.1 12.9.2-4-.1 11.2.2-3.3.1 2.2.1-2.3 0-.5.1-.6.1-6.3.1-8.2 0 16.1.1-21.8.1 19.1.2 4.5-.1-15.6.2 1.3.1 13.6.1-14.5 0 9.1.1-10.7.1 9.1.1-5.6 0 11 .1-14.3.1 14.4.2-18.2-.1 11.5.2 6 .1-11.2.1.4 0 .7.1 11.4.1-9.3.1-3.6 0-6.5.1 15 .1-3.2.2 6.1-.1-8.5.2-4.1.1 10.7.1-16 0 15.8.1-7.4.1-7.5.1 11.8 0-14.1.1 9.7.1 6.7.2-8.4-.1 2.7.2.4.1 10.7.1-10.8 0-2.2.1-5.4.1 15.4.1-6.8 0-6.4.1-4.4.1 1.3.2 17.1-.1-14 .2 10.1.1-.2.1-5.9 0-1.4.1 4.6.1-14.9.1 11.5 0-4.3.1 2.6.1-1.8.2 2.4-.1-1.6.2-7.2.1-.2.1 15.2 0-15.9.1 2.4.1 1.1.1-6.6 0 15.3.1-18.1.1 19.1.2-12.3-.1-.9.2 1.8.1-5.3.1 2.9 0 11.9.1-5 .1-3.4.1 1.7 0-7.7.1 2.7.1-6.4.2 4.9-.1 6.3.2 2.2.1-.2.1-13.7 0 18.1.1-9.1.1-5.3.1.7 0-1 .1-4.9.1 3.7.2.6-.1 1.2.2 1.1.1-8.9.1 3.7 0 2 .1 3.4.1-3.6.1-6.4 0 13.3.1-15.5.1 11.5.2-2.6-.1-3.4.2 7 .1 0 .1-5.5 0 .3.1-1.5.1 2.7.1-1.4 0-1.9.1 8.1.1 2 .2-.9-.1-8.9.2 3.6.1 1.9.1 5.2 0 .8.1 4.2.1-1.1.1-5.5 0 2.1.1 7.3.1-5 .2.2-.1 3.8.2-4.9.1 1.4.1 3 0-5.6.1-3.6.1 15.7.1-9.4 0 1.6.1 6.3.1-11.8.2 10-.1-4 .2-3.9.1 10.4.1-.5 0-4.8.1-.1.1 10.8.1.2 0-10.6.1 4.6.1 1.1.2.3-.1-11.6.2 6.9.1 3.8.1-10.5 0 7.5.1 5.1.1 2.2.1-4.6 0-.4.1-7.2.1 15.3.2-8.4-.1 7.9.2 1.3.1-3.6.1 5.8 0-8.7.1 4 .1-11.6.1 20.5 0-5.8.1-9.5.1-3.4.2-1.1-.1 19.9.2-2.2.1-3.7.1 6.9 0 3.6.1-7.6.1 0 .1 5 0 5.7.1-10.9.1-3.3.2 1.9-.1.7.2-5.6.1 8.4.1 4.8 0-3 .1 2.4.1-21.8.1 11.4 0 7.9.1.5.1-2.3.2-5.1-.1-2.4.2 1.6.1 5.1.1-.6 0-8.5.1-6.8.1 12.2.1-1.7 0 5.7.1-5.9.1-.7.2 1.8-.1-3.4.2 6.5.1-16.3.1 2.9 0 1.7.1 5.7.1 7.2.1-4.6 0-7.7.1.9.1 7.1.2-6.9-.1 7.8.2-14.1.1-1.5.1 18.9 0-3.3.1-5 .1-4.2.1-4.4 0-.7.1 2.1.1-6 .2.3-.1-.3.2 5 .1-9.3.1 9.8 0-6.2.1 9.4.1 2.2.1-1.7 0 3.4.1-14.4.1 8.9.2-10.7-.1 3.8.2 2.1.1 5.7.1 1.4 0-5.6.1-3.6.1.7.1-5.4M868 392l.1 4.2.1-3.2.2-3.6-.1 4.6.2-2.6.1 4 .1 2.6 0-12.7.1-7.4.1 6.8.1 5.5 0 1.3.1-2.8.1-6.3.2-2-.1 11.9.2-5.1.1 3.6.1-11.1 0 14 .1-6.5.1.9.1-5.4 0 11 .1-18.7.1 18.6.2-12-.1 7 .2-1.6.1 3.6.1-13.6 0 22.2.1-17.5.1 8.3.1 4 0-5.2.1 12.5.1-12.9.2 11.7-.1-17 .2 11.1.1-1.5.1-8.3 0 1.5.1-1.1.1 10 .1 4.5 0-9.6.1 15.6.1-11.8.2-7.4-.1 9.5.2 4.5.1 6.7.1-17.7 0 7.5.1-1.9.1 1.1.1 4.6 0 10.3.1-6.7.1-7.7.2 6.1-.1-4.5.2 12.5.1-9.5.1 3.9 0 .5.1-11.5.1 11.7.1 3.7M879 376l.1-13.8.1 8.2.2 6.5-.1-6.9.2 4.7.1-3.7.1-8.9 0 12.8.1 7.1.1-19.9.1 8.5 0 9.7.1-20.7.1 13.6.2-.8-.1-.3.2-7.6.1 8.3.1-2.9 0-1.9.1-3.7.1 15.4.1-8.6 0-5.6.1 9.4.1 3.8.2 1.9-.1-16.7.2 11 .1-6 .1-11.8 0 9.6.1 10.8.1-4.4.1-10.4 0 .5.1 2 .1-.2.2-6.7-.1 5.9.2-1.8.1-.1.1 12.6 0-1 .1-5.5.1 3.4.1-3.9 0-13.9.1 13 .1-7.8.2 16.1-.1-1.1.2-5 .1-10.2.1 9.7 0 4 .1-21 .1 9.9.1 3.2 0-7.1.1 14 .1-11.3.2 8.8-.1-9.3.2-1.3.1-8.9.1 7.1 0-5.4.1 6.9.1 10.1.1-2.5 0-8 .1 2.5.1 1.3.2 5.4-.1 1.7.2-8 .1 7.7.1-6.4 0 .6.1 2.6.1-6.7.1 2.1 0 4.4.1-2.4.1-13.6.2 19.1-.1.5.2-9.7.1-2.8.1-1.5 0-1.6.1 15.5.1-1.5.1-6.9 0 7.1.1-15.6.1 1 .2 4.3-.1-7.1.2 4.5.1 5.7.1 4.8 0-4.7.1-6.7.1 4.5.1-3.7 0 3.8.1 7.1.1-15.1.2 15.4-.1-12.4.2 6.5.1-7.5.1 1.3 0 11.4.1-10.1.1.8.1 10.2 0-6.4.1-10.3.1 13.2.2-9.4-.1-7.4.2 5.5.1 8.7.1-13.9 0 4 .1 6.6.1-6.7.1-4.9 0-.9.1 10.7.1.1.2-14.3-.1-2.3.2-3.3.1 10.3.1 1.5 0 .5.1 2 .1-.5.1-12.1 0 16.6.1-10.1.1 6.4.2 1.2-.1-3.4.2-12.7.1 7.8.1 1.9 0 7.2.1-19.7.1 3.8.1-2.5 0 13 .1 4.4.1-9.6.2-8.5-.1 2 .2-4.3.1 6.1.1 14.8 0-13.4.1-8.8.1-.6.1 7.2 0-2.4.1 1.5.1-9.9.2 10.1-.1-8 .2 2.3.1-1.1.1 12.9 0 1.8.1-5.2.1 4.8.1-17.2 0 4.4.1 6.2.1 9.1.2-4.5-.1-10.7.2-2.1.1 10.1.1-7.9 0 13.8.1-13.1.1 17.5.1-11.8 0-9 .1 16.4.1-10.3.2 2.9-.1-7.8.2 13.7.1 4.1.1.2 0-14.3.1-5.4.1 15.3.1-6.6 0-.1.2-5.6.1-1.3 0 26.5.2-15.6.1 7.9.1-14.5 0 26.1.1-29.3.2 5.5 0 8.2.1-9.1.1-.4.2 15.3-.1 3.1.2 1.5.1 2.8.1-5.7 0-17.8.1 22.3.2-7.6 0 11.9.2-8.5.1-10.1 0 .7.2-8.5.2 12.7 0-2.9.1 28.6.2-27.6 0 4 .2 12.4.1-8.9 0 14.4.2-11 .2-17.8 0 36.2.2.5.1-23.5.2.6.1 34.7.2-26.6.2 2.5 0-13.2.1 20.9.2 7.5 0 3.3.2-14.6.1-2.9 0 25.4.2-26.4.2 3.4 0-4.3.1 11.8.2-12.6 0 6.1.1 24 .1-23.2.2 17.9-.1-17.3.2 1.2.2 11.8 0 7.8.1-16.1.2 13.7 0-7.7.1 4.4.1-6.1.2-1-.1 2.4.2 12.7.1-14.6.1 12.5 0-11.9.1 17.2.1-9.1.1 8.7 0-12.9.1 3.8.1 3 .2 5.3-.1-5.2.2-4.9.1-2 .1 5 0-2 .1 18.3.1-19.4.1 9.4 0-2.5.1 12.1.1-9.1.2-9M936.3 393.3l.2-8.7.1 8.6.1-5 0-1.7.1 4.7.1-7.2.1 2.3 0-16 .1 13.3.1-3.8.2-7-.1 6.6.2-7.2.1 5.7.1 3.6 0-.4.1-4.8.1-2.7.1 2.2 0 4.7.1-.8.1.2.2-13.4-.1 12.1.2-8.6.1-3.1.1 4.9 0-7.4.1 9.3.1 1 .1-.2 0-16 .1 12.7.1-.3.2-8.3-.1 5.1.2-4.1.1 2.3.1-6.1 0-3.2.1 6.1.1 6.1.1-4 0-7.6.1 6.4.1-7.7.2 4.9-.1-6.9.2-4.1.1 13 .1-3.8 0-7.9.1 8.8.1-1.8.1-3.7 0 4.6.1-18.5.1 9.5.2 1.6-.1-4.1.2-4.4.1 11.4.1-8.6 0 2.4.1-3 .1 5 .1-11.3 0 1.3.1-5 .1 12 .2 6.9-.1-8.9.2 1.3.1-7.9.1 17.6 0-27.8.1 22.4.1-3.6.1-.9 0 2.7.1-1.8.1-12.5.2 2.4-.1-9.9.2 16.7.1-16.2.1 8.7 0-2.6.1-4.6.1 2.4.1-7.8 0 9.1.1 7.7.1-16.1.2 8.4-.1 11.8.2-16 .1 7.6.1.7 0 5.9.1-8.5.1-4.6.1-1 0-7.8.1 20.6.1-16.9.2 23.4-.1-19.7.2 7.9.1-8.7.1 11.2 0-7 .1 1.3.1 2.5.1-1.9 0 1.2.1 15.9.1-22 .2 0-.1 17.4.2-5.5.1 7.4.1-4.9 0-3.5.1 13.7.1-18.3.1-4.7 0 20.7.1-15.1.1 8.9.2-12.8-.1 21.7.2-21.7.1 8.8.1.3 0 2.6.1-9 .1 6.4.1 6.4 0-.4.1-13.4.1 2.3.2 1.8-.1 18.9.2-24.8.1 9.7.1 2.7 0-9.9.1 6.9.1 7.1.1 7.8 0-12.2.1 3.7.1 1.5.2-14.8-.1 2.5.2.1.1 18.3.1-2.9 0 3.6.1-11.6.1-6.3.1-.8 0 6.3.1.3.1 4.8.2 6.7-.1-9.7.2 12.6.1-7.2.1-4.8 0 9.7.1-9 .1-3.7.1 6.9 0-3 .1-2.1.1 1.6.2.1-.1 6.7.2-2.8.1-8.3.1-4.9 0 9.6.1 3 .1-5 .1.3 0-9.6.1 5 .1-4.6.2 10.4-.1-5.1.2 9.6.1 3.4.1-19 0 15.3.1-9.4.1-2 .1 6.2 0-9 .1 16.9.1-5.2.2-9.6-.1 2.7.2-1.7.1 1.1.1.7 0 3.8.1-3.1.1-1.7.1 5.6 0-1.1.1 3.2.1-7.8.2-1.9-.1-2.5.2 8.9.1-1.8.1-4.5 0-6 .1 19.7.1-3.2.1-14.9 0 11.6.1-8.1.1 5.1.2-2-.1.7.2 8.8.1-20.3.1 16.6 0-2.8.1-14.1.1-.8.1 10.7 0-1.8.1 7.3.1-5.2.2-4.9-.1-2.8.2-.9.1 4.4.1.7 0 7.9.1-7.2.1-4.7.1 10.1 0 1.7.1 3 .1 1.2.2-4.2-.1 1.7.2-1.7.1 2.8.1-1.8 0-1.8.1.9.1 1.4.1 10.6 0 3 .1-18 .1 3.1.2 2.5-.1 5.2.2 14.4.1-3.2.1-17 0 8.5.1-3.2.1 16.4.1-8.6 0-8.7.1 17.6.1-1.3.2.7-.1-12.1.2 10.1.1 1.9.1 4.7 0-1.7.1-8.7.1-5.2.1 17.1 0-1.9.1 3.1.1-15.6.2 9.7-.1 9.2.2-10.6.1-7.2.1 13.7 0-2.5.1 3.5.1 4.1.1-13 0-1 .1 10.2.1-10.7.2 13.7-.1.1.2 7.1.1-13.1.1 4.7 0-7.4.1 9.6.1-3.2.1.9 0 4.5.1 8.8.1-15.3.2 13.6-.1-8.5.2-3.9.1-1.2.1 4.1 0-7.7.1 16.2.1-12.9.1-7.2 0 16.8.1-4.6.1-14.1.2 12.4-.1-3.7.2 1.1.1-4.7.1 14.3 0-1.3.1-11.4.1 1.2.1-5.6 0 3.5.1.1.1 8.4.2 2.1-.1-16.1.2 7.7.1-5 .1 1 0-10 .1 19 .1-15.7.1-2.9 0 17.6.1-12.4.1 11.8.2-14.3-.1 14.9.2-.2.1-16.8.1 11.8 0-12.2.1 1.3.1-1 .1 4.5 0-9.4.1 10.3.1 2.9.2-7.7-.1-2.1.2 4.1.1-1.3.1 1.5 0-1.8.1 8.2.1-15.2.1 7.2 0 1.1.1-6.2.1.7.2 15.6-.1-14.3.2 7.2.1-7.3.1-.6 0 7.7.1-6.3.1 0 .1 10.1 0-5.1.1-17.4.1 11.6.2 5.7-.1-6 .2-2.1.1-10.6.1 18.6 0-15.1.1 6.5.1-4 .1 12.8 0-1.6.1-5.9.1 5 .2-17.4-.1 8.4.2-8.7.1 18.2.1-11.3 0-3.3.1.4.1 4.4.1-5.9 0 13.1.1-20.9.1 15.5.2-7.8-.1 6 .2-6.9.1-3.4.1 12.6 0 5.1.1-3.5.1-4.1.1 11 0-8.2.1 5.3.1-3.5.2 8.3-.1-14.1.2 11.6.1 3.1.1-.3 0-17.5.1 16.9.1-18.3.1 4.1 0 9.3.1-5.4.1 3.7.2-9.5-.1 17.4.2-16.6.1 21 .1-9.6 0-1.7.1 1.6.1-1.5.1 11.1 0-4.7.1-10.8.1 5 .2-2.7-.1-.5.2 1.6.1 5 .1-4.8 0 13.4.1-11.2.1 12.3.1-13 0 11.7.1-.1.1-9.1.2 10-.1-6.3.2-4.4.1 9.7.1-9.2 0 2.8.1 1.4.1 10.9.1-17.1 0 14.8.1-2.8.1 7.6.2-9.7-.1-1.9.2 8.2.1-11 .1 1.8 0 14.7.1-6 .1 5.8.1-7.5 0-1.3.1 4.2.1-5.8.2 6.9-.1 9.9.2-.8.1-2.6.1-.4 0 9.5.1-9.2.1-10.5.1 12.4 0 2.6.1 2.6.1-4.7.2 4-.1 5.3.2-9.9.1-.5.1 4.7 0-8.2.1-2.1.1 4.4.1 3.8 0 6.3.1 5.7.1-4.7.2 1.6-.1-12.5.2-1.1.1 2.2.1 10.6 0-19 .1 3.6.1.9.1 14.3 0-16.1.1-3.4.1 10.3.2-14.9-.1 13.2.2-3.4.1 3.3.1-8.9 0-5.2.1-7 .1 19.5.1-17.5 0 1.6.1 9.9.1-6.2.2-8.8-.1 8.1.2 7.2.1-9.7.1 5.1 0-5 .1.3.1 1.1.1-3.2 0 1.6.1 2 .1-15.4.2-.9-.1 7.9.2-4.1.1-.7.1-6.3 0-4 .1 8.3.1-6.7.1 5.1 0-1.5.1 13.6.1-9.3.2 1.6-.1-1.9.2-10.7.1 12.8.1-9.2 0-6.5.1 1.3.1 4.1.1 1.9 0-2.5.1-4.5.1 11.2.2-7.9-.1-2.8.2 4.8.1-8.2.1-1.6 0-4 .1 1.9.1 9.9.1-3.2" stroke="#e0000c" stroke-width="1.2" stroke-dasharray="1.3 1.9" fill="none"/><path d="M143 388.6l.3-15.7.4 17.7.3-5.8.3 8.2.4-7.8.3-5.4.3 11.9.4-14.7.3 7.4.3-5.8.4-.8.3-14.4.3-2.9.4-6.1.3 6.6.3-18.3.4 2.9.3-5.9.3-9.4.4 14.7.3-12.6.3 11.7.4-17.1.3-1.6.3 7.2.4-8.4.3 20.8.3-11.8.4-6.5.3 9 .3-10 .4 13 .3-15.1.3 3.7.4-2.9.3-9.3.3 9.5.4-10.3.3-1 .3-1.9.4-2.1.3 7.4.3 1.9.4-10.6.3 7.3.3-4.1.4 11.2.3.1.3 4.7.4-11.8.3 11.3.3 9.5.4-9.8.3 6.2.3 1.1.4 8.2.3 1 .3-6.6.4 2.4.3 12.7.3 2.4.4 2 .3-6.4.3-.2.4-3.9.3 7.5.3-4.6.4-7.9.3-3.5.3-.9.4-1.1.3-2.7.3 15.6.4-5.1.3-.1.3-3 .4 21.9.3-11.2.3 15.4.4-7.2.3-4 .3 20.5.4-13 .3 8 .3-5.5.4-4 .3-8.7.3 16.4.4-8.3.3-7.3.3-9.2.4-3.1.3-3.6.3 8.5.4 1.3.3-10.2.3 11.2.4-9.2.3 11.1.3-11.2.4-1 .3 3.3.3-3.4.4 9.1.3.6.3-1.7.4-10.2.3 9.3.3-1.1.4 1.8.3 4.8.3-4 .4 9 .3-5.8.3-7.1.4-12.9.3-2.7.3.7.4 1.4.3-2 .3 2.3.4-2.2.3-.8.3-7 .4 1.3.3 1.5.3 7.1.4 6.2.3 1.9.3 1 .4-8.1.3 4.7.3-.6.4-6.7.3 17.6.3-1.3.4-21.5.3 10.3.3-.7.4-.3.3 2 .3-.9.4-15.6.3 11.7.3-18.2.4 8 .3-6.1.3 2.2.4-1 .3-7.1.3 12.1.4 7.5.3-10.3.3-5 .4 19.8.3-.2.3 3.5.4 1 .3-2 .3-10.2.4 12.1.3-10.7.3 13.7.4-3.9.3 3.9.3 2.7.4-11.9.3 7.8.3-1 .4-15 .3 4 .3 3.8.4-4.5.3 3 .3-2.8.4 8 .3-5.5.3 2 .4 10.2.3 9.3.3-3.2.4 2.6.3-4.5.3 6.4.4 3.8.3-2.6.3 11.1.4-2.3.3 6.9.3.2.4-16.7.3 16 .3-5.7.4-1.9.3 2.8.3 5 .4 1.7.3-16.2.3 19 .4-12.8.3 4.6.3 10.4.4-2.2.3 3.4.3-.5.4 9.5.3-.4.3-8 .4 17.2.3-15.5.3-.5.4-1.4.3-6.1.3 16.1.4-5.8.3-8.5.3-6.9.4 5.1.3 8.2.3-18.4.4 4.8.3 4.5.3-.7.4-7 .3 14.5.3 4.7.4-1.1.3 7.5.3.9.4 1.9.3-1.6.3 12.3.4-13.3.3 5.2.3-2.2.4 9.9.3 6.4.3-.2.4-3.9.3 6.9.3 6.1.4-12.2.3-8.3.3-.4.4-11.4.3-11.6.3-6.3.4-10.5.3.1.3 2.3.4-10.6.3 9.3.3-8.1.4 3.4.3 1.1.3-1.9.4 11.4.3-15.1.3 12.3.4 3.9.3-4.7.3-15.9.4.1.3-7.1.3 10.7.4-15 .3 11.1.3 1.5.4-15.5.3.7.3.9.4 13.9.3 4.6.3-9.9.4-.3.3 11.5.3-9.1.4 13.2.3-6.4.3-1.1.4-6.7.3.1.3-3.2.4 7.7.3-12.4.3.9.4.8.3.3.3-5.4.4 8.1.3.1.3-2.3.4-7.1.3 10.3.3 5.8.4 2.3.3-5.4.3 2 .4 16.7.3-.1.3 7.7.4-9 .3 12.3.3-7.1.4 8.6.3-1.4.3-9.9.4-1.7.3-1.4.3 16.8.4-9.6.3 6.7.3 2.4.4-.9.3.8.3-8.1.4 5.8.3-10.6.3-4.8.4 8 .3 10 .3-5.9.4 8.9.3-2.8.3 2.3.4 7.7.3-10.3.3 9.8.4-15.8.3 2.2.3 4.1.4-3.4.3 1.7.3-.4.4 8.5.3-3 .3-17.3.4 2.5.3-10.7.3 9.1.4-3.2.3-4.9.3 2.8.4 5.1.3 8.5.3-10.3.4 4.4.3 7.5.3-2.1.4 6.7.3-11.5.3 6.8.4-3.1.3 4.5.3 2.7.4-5.4.3-9.7.3-4.4.4-4.5.3 18.3.3-10.6.4-1.1.3-12.8.3 1.6.4-.5.3-2.5.3-.3.4 2.9.3 10.1.3 1.4.4 11.3.3-8.2.3-3.1.4 13.3.3 1.2.3-3.1.4-5.1.3 8.1.3-7.5.4-13 .3 2 .3 7.3.4-2.7.3 7 .3-6.5.4-.1.3-15.6.3 1.2.4 9.4.3-14.1.3 1.1.4 1 .3-10.6.3 15.6.4.4.3-9.8.3-2.6.4 18.3.3-12.7.3 8.1.4 6.2.3-13.3.3 8.7.4-6.1.3-2.2.3 3.4.4 12.5.3-19.7.3 16.9.4-17.1.3 8.9.3-17.2.4-2.9.3-.1.3 1 .4 9.1.3-1.1.3-9.2.4.3.3 7.5.3-.2.4-2.4.3 18.5.3-6.8.4 9.8.3-11 .3-6 .4 14.3.3-2 .3-6.1.4 3.9.3-1.5.3-.3.4-2.3.3 14.9.3-6.8.4 9.3.3-20 .3 1.2.4-.9.3-6 .3 5.6.4 6.6.3.6.3-11.9.4 3.2.3-4.1.3 12.9.4-2.4.3-1.2.3 15.5.4-6.4.3-2.5.3 4.2.4-10.4.3 19.6.3-20.3.4 2.1.3.4.3 1.6.4 1 .3 10.5.3-15.8.4 5.9.3 12 .3-3.1.4-14.6.3 2.2.3 13.1.4-15.9.3 6.2.3-1.2.4 4.7.3 7.8.3 2.4.4-4.9.3-6.4.3 6.5.4-1.6.3-8.8.3 12.1.4-6.4.3 5.9.3 9.4.4 2.2.3-.2.3-17.4.4 15.9.3-7.9.3 4.9.4-19.8.3 4.8.3 2.2.4-7.1.3.1.3-9.6.4 3.7.3-7.4.3 16.1.4-2.2.3-11.1.3-1.2.4-2.1.3 16.8.3-8.1.4-3.2.3 6.7.3 3.3.4 6 .3 3.8.3-3.6.4 5.2.3-5.9.3-8.5.4 4.1.3 8.8.3-8.8.4-3.5.3 10 .3 3.1.4-12 .3 3.4.3 1.3.4 7.6.3 7.6.3.7.4 5.5.3-3.8.3 7.6.4 15.8.3-3.4.3 13.1.4-5 .3 9.1.3-2 .4 6.5.3-2.8.3-3.4.4-1.2.3 1.9.3 13 .4-4.2.3-5 .3-3.5.4 9.8.3-12.8.3-4.2.4 11.6.3 9.1.3-15.1.4 14 .3 5.2.3-2.8.4 7.1.3-11.7.3 10.6.4 7.6.3 4.7.3-20.6.4 19.4.3-21.5.3 3.7.4-1.2.3 8.7.3-15.2.4.3.3 3.5.3-10.4.4 2.7.3-7.2.3-6.2.4-1.3.3-5.4.3 4.6.4-11.2.3 19.8.3-18.2.4 3.2.3 12.8.3 4.8.4-11.5.3-4.1.3 5.4.4 14 .3-18.1.3 6.1.4 1.1.3-1.2.3 2.7.4 3.6.3 1.9.3-3.9.4-.5.3 2.7.3 4.3.4-9.9.3 3.6.3-4.3.4-3.5.3-8.4.3-7.3.4 12.5.3-15.1.3 4.1.4 9.9.3-10.9.3 8.6.4-2 .3-4.8.3 1.6.4.8.3-17 .3-4.4.4 12.4.3-3.3.3-6.3.4-5 .3 7.6.3 4.5.4-22 .3 4 .3-9.4.4 5.5.3-9.4.3-7.2.4-5.1.3 18.8.3-4.8.4 1.2.3-4.8.3 4.3.4 19.2.3 10.7.3-2.8.4 4.8.3 9.1.3 3 .4 1.1.3 14.5.3-.5.4.4.3 5.4.3-4.4.4-19.6.3-.5.3 8.7.4 4.8.3-7.1.3-11.6.4-3.8.3 13.6.3-8.3.4 3.5.3-3 .3 8.8.4.4.3-8.2.3-2 .4 5.9.3 8.6.3 6.4.4-5.1.3 6.1.3-4.4.4.2.3.4.3-.2.4-2.7.3-2.9.3 8.2.4-3.9.3-12.8.3 11.7.4 1.4.3-14.2M386.2 352.6l.3 18.6.4-4.3.3-13.8.3 10.8.4 15.5.3-3.3.3-11.3.4.2.3 12.2.3 2.1.4-7.2.3 1.1.3 11.5.4 1.7.3 10.5.3-4.6.4-4.2.3-4.3.3-10.2.4 13.9.3-7.7.3-11.8.4 3.1.3-3.3.3 8.3.4-16 .3.7.3-9.8.4-3.3.3-2.6.3 9.9.4 10.6.3 1.7.3-9.3.4 18.3.3-2.7.3 7.4.4-15.2.3 18.3.3.7.4-10 .3.2.3-2.3.4-.1.3-.4.3 8.1.4-2.4.3-13.1.3 2.8.4 6.2.3 1.8.3-4.3.4-13.2.3 16.8.3-6.9.4 1.4.3-7.7.3 9.7.4-11.3.3 6.4.3 9.5.4-11.4.3-.1.3 3 .4 1.9.3-7.2.3.4.4-2.7.3.9.3-2.9.4 12.8.3-9.2.3 15.7.4-2.9.3-8.2.3-2.4.4 17.3.3-2.7.3 3.4.4-2.8.3-2.1.3 6.9.4 1.4.3 2.5.3 6.6.4 3.9.3-.1.3 12.3.4-16.9.3 13.7.3-8.3.4-6.8.3-8.6.3-3.4.4-3.8.3 1.1.3-7.7.4 8.6.3-2.7.3-6.5.4 5.7.3-2.3.3-.2.4-9.7.3 9 .3-8.1.4-2.1.3 10.2.3 1.1.4 17 .3-12.3.3.9.4 13.8.3 13.7.3 1.1.4-3.9.3-.7.3-5.7.4 12.4.3 2.7.3-15.8.4-8.1.3 12.1.3-17.9.4 4.7.3 6.2.3-8.8.4-7.5.3.3.3 13.1.4-7.1.3-10.6.3 3.1.4 11.5.3-14.1.3 3.5.4 6.2.3-11 .3.9.4 11.8.3 9 .3-3.8.4-12.1.3 2.1.3-3.1.4 14.7.3-3.7.3 4.9.4-4.6.3 4.9.3-15.3.4 7.1.3-12.9.3 3.1.4 7.9.3 2.2.3-12.8.4 16.8.3-6.9.3 3.1.4-6.7.3 16.2.3-.8.4-6.8.3-.1.3 13 .4 5.1.3-9.8.3 5.7.4-12.7.3.2.3 2.6.4 9.3.3-12.6.3 1.7.4-4.4.3-2.7.3-10.8.4 7 .3 2 .3 2.8.4-6.5.3 3.3.3-.6.4-1.4.3 9.5.3-9.3.4 9 .3-1.2.3-6.3.4.6.3.5.3 3.3.4.7.3-2.5.3-.7.4-3.2.3.7.3-.7.4 0 .3 3.1.3-2.3.4-2.4.3 3.4.3-4.3.4 2.1.3 1.5.3.4.4-1 .3-1.1.3-.5.4 1 .3 1.1.3 3.4.4-.5.3-1.6.3 2.6.4-3 .3 3.2.3-.1.4-.3.3-1.1.3-.3.4-.8.3-1.6.3-.7.4-.6.3 3.2.3-3.9.4 3.9.3-.9.3-2.3.4 2.8.3-3.9.3 1.5.4 1.9.3 1.2.3-3.4.4 2.7.3-1.7.3 1.4.4 2.5.3-4.7.3 1.4.4.3.3.4.3-2 .4 4 .3-2.7.3.8.4-4.4.3 3.4.3-1.3.4.6.3-.8.3-1.8.4 3.3.3-3.8.3 1 .4.2.3-.7.3 1.8.4 2.7.3-.9.3 1 .4-2.7.3 1.4.3 2.5.4-.9.3 2.9.3-1.7.4-2.6.3.2.3.8.4-.7.3 1.7.3 1.9.4-2.2.3-1.3.3 1 .4-2.5.3-3.1.3 1.9.4-3 .3.8.3-1.5.4-.4.3 4.1.3-.2.4-.1.3-3.5.3.3.4-.9.3-1.1.3-.9.4 2.5.3.8.3-3.5.4 2.7.3-3.3.3 1.9.4.6.3-2.4.3-1.1.4 1.1.3-3.7.3 1.1.4.5.3-3.9.3 5.1.4-.8.3-1.3.3 2.6.4-1.5.3.4.3 1.4.4 1.4.3-2.7.3-1 .4 1.9.3-2.5.3.7.4-.4.3 1.8.3-1.5.4-1.1.3 1 .3 0 .4-3.5.3 1.9.3-.9.4-.7.3-.5.3 1.3.4 1.9.3-1.7.3-.9.4-1.3.3 3.3.3.8.4-1.5.3.4.3 3.4.4-1 .3 1.4.3-1.3.4 3.3.3-.1.3.5.4-3.8.3 3.7.3-2.4.4-2.2.3 3.5.3-1.3.4-2.6.3.5.3 1.1.4 2.9.3-.7.3-2.2.4 3.5.3 1.4.3-.7.4 1.7.3 1.4.3-1.2.4-.1.3 0 .3 3.6.4-1.6.3.8.3 2.8.4 1.8.3-3.3.3 0 .4 1.1.3 1.2.3 1.5.4-3.4.3 2.2.3-2.3.4 3.1.3 1.7.3-2.6.4 1.1.3-6.3.3-.7.4 8.2.3-9.1.3 11.5.4-6.3.3-.1.3 14.6.4-8.3.3 2.8.3 14.5.4-5.9.3-8.3.3 1.4.4 7 .3 3.9.3-19.3.4 2.8.3-2.2.3-.8.4 17.8.3-9.9.3-9.2.4 15.4.3-8.6.3 8.7.4-15.8.3 4.8.3-7.4.4 18.7.3.5.3-9.1.4 1.7.3-.3.3 4.7.4 1.1.3-.3.3-1.7.4 15.1.3-7 .3-4.1.4 8.2.3-8.5M617.5 331.3l.4-6.2.3 11.7.3.5.4-5.2.3 7.1.3 2.8.4 1.9.3-12.7.3 9.7.4 4.8.3 8.9.3.8.4-13 .3 2.4.3 4.1.4 2.6.3-5.1.3-12 .4 15.8.3-16.5.3 2.6.4 5.2.3-2.2.3-9.2.4 3.8.3-4 .3 8 .4-8 .3 8.5.3-7.7.4 4.3.3.7.3 14.9.4-8 .3 11.1.3-10.6.4 1.9.3-8.7.3 7.3.4 4.9.3-20.9.3 5.7.4 2.5.3 5.5.3-17.3.4 12 .3-2.7M725.2 350.3l.3-16.8.4 6.7.3-7 .3 3.5.4-4.5.3 9.5.3-21.2.4 19 .3-15.1.3 10.1.4 4.6.3-11.3.3 7.8.4 13 .3-6.2.3 13.8.4-14.3.3 7.2.3.7.4-4.7.3 2.5.3 12.8.4-5 .3-1.2.3-3.8.4-15.5.3 3.3.3 8.3.4-5.8.3-5 .3 10.1.4-8.5.3-11 .3.6.4 13.5.3-.1.3 7.9.4-2.4.3 0 .3-.3.4.4.3-.6.3 5.8.4-8.8.3-1.4.3 3.1.4-7.3.3-11 .3 14 .4-2 .3-18.8.3 5.1.4.6.3-3.1.3 9.8.4-9.7.3 14.3.3-9.5.4 7.8M845 372.5l.3 5.6.4-5.5.3 4.6.3 1.9.4-2 .3 1 .3-4.7.4-.5.3 4.4.3-.6.4-.2.3-6.2.3.2.4 3.3.3-1.7.3.6.4 5.4.3 2.2.3.8.4-4.8.3 5.6.3 1 .4-.2.3-3.5.3 3.1.4-1.5.3 1.1.3-1.8.4-2.1.3 1.6.3-1.7.4 3.2.3-3.2.3-1 .4 4.2.3-.7.3.1.4-4.4.3-3.6.3-3.7.4-1.9.3 4.7.3-4.5.4-7.3M866.7 363.7l.3-4.3.3 7.8.4 7 .3 5.2.3-.8.4-.6.3 5.8.3 6.5.4-3.6.3 11.5.3-5.2.4-2 .3 15.8.3 2.6.4 4.9.3-5.4.3 5.5.4-.1.3-8.2.3 1.9.4 5.2.3 3.2.3-11.3.4-7.4.3 2.2.3 7 .4 12.6.3-2.6.3 6.4.4-9.3.3 4.5.3-.9.4 13.1.3-7.3.3 2.4.4 8.5.3-4.5.3 3.9.4 16.4.3-11.2.3 3.6.4 3.9.3-4.8.3 3.5.4-2.9.3-15.6.3 1.3.4 5.1.3-5.4.3 3.6.4-1 .3 16.1.3-1.3.4-9.5.3-3.9.3 9.1.4 16.4.3 1.4.3-6.8.4 8.8.3 2.1.3-2.4.4 8.7.3-7.3.3 4.3.4 9.2.3-4.5.3-10.6.4-2.4.3 5.9.3-7.1.4 8.1.3-13 .3 14 .4-10.7.3 14.4.3 5 .4-9.9.3-4.2.3 6.3.4-2.2.3 14.4.3-3.9.4-6 .3 19.2.3-8.7.4 4.6.3-13.1.3 16.5.4-1.1.3-13.9.3-3.3.4 6.1.3-7.2.3 17.5.4-8.9.3-10.8.3 8.7.4 7.2.3-10.6.3 7.8.4 6.3.3-12.8.3 14.9.4 3.6.3-9 .3.5.4 4.4.3 7.2.3-11.3.4 9.8.3-2.9.3-6.7.4 3.3.3-5.5.3 3 .4-6.7.3-4 .3 12 .4-11.5.3-2.7.3-12.4.4 9.6.3-15.1.3 16.6.4-10.8.3-1.1.3 6.5.4-1.6.3-16.2.3 5.1.4 4.8.3-1.4.3-1.6.4 15.3.3-15 .3 2.1.4-9.2.3-5.9.3-1.7.4 1.1.3-8.7.3 17.8.4-6.2.3-12.3.3-3.9.4 1.5.3-5.9.3-5.7.4-2.1.3 8.6.3 7.7.4 4.2.3-3.8.3 2.4.4-12.8.3 17.2.3-5 .4-9 .3 13.3.3-11.1.4 1.5.3 10 .3-10 .4-15.1.3 10.5.3-3.1.4 3.3.3-5.4.3-5.2.4 2.9.3-4.8.3 15.2.4-7.6.3-5.5.3.6.4 6.5.3 4.6.3 6.3.4 5.4.3 1.9.3-11.2.4 9.5.3 8.9.3 5.1.4-8.7.3 11.5.3-13.8.4 4.6.3-8.9.3-.3.4 9.7.3 2.1.3 3 .4 1 .3-2.5.3-2.4.4 9.4.3-11.2.3 11 .4-7 .3 10 .3-12.5.4 22 .3-6.8.3 10.9.4-8.6.3 15.9.3 0 .4-17.7.3 2.9.3 1.5.4 5.7.3-7.8.3 10.4.4-4.5.3 1.1.3 8.2.4-17.3.3 17.7.3-17.6.4 6.7.3-1.7.3 6.3.4 1.2.3-6 .3 1.6.4 4.1.3 21.1.3-16.1.4 21.9.3-13.9" stroke="#10d010" stroke-width="2.5" fill="none" stroke-linejoin="round"/><path d="M529.5 381l.2 10.1.1 2 .1 1.8 0-11.6.1 3.8.1-9.2.1 14.4 0-13 .1 4.9.1-.8.2 1.8-.1 1.6.2-2.8.1 10.6.1-12.5 0 7.8.1-18.8.1 19.1.1-13.5 0-4 .1 2.5.1-3.6.2 5.2-.1-5.1.2 11.8.1 4.2.1-19.8 0 12.7.1-6.3.1-.2.1-2.7 0 18.2.2-19.4.1 4.7 0-13.5.2 15.1.2-11.8 0 2 .1 14.7.2-8.9 0-5.9.2-2 .1-8.7 0 14.7.2-1.4.2-17.6 0 23 .1-22.3.2 4.8 0 9.5.2-14.5.1 33.1 0-38.3.2 4.4.2.8 0 23.6.1-32.4.2 40.8 0-30.9.2 1 .1 12.7.3.3.1-29.7.2 45.9.1-44.8.2 38.3.1-10.4.3-17.7.1-16.1.1 30.3.2-28.2 0 41.3.2 3.9.1-50.4.3 43.5.1-41.1.2 14.3.1 2.1.2 9.5.1-30.8.3 3.6.1 29.4.2-21.1.1 24.8.2 7.2.1-27.5.4.2.2 30.8.1-20.3.2-8 .1 20.7.4 6.7.2 1.4.1-55.7.2 24 .1-30.6.3 57.2.1-2.6.3-9.3.3-24.5.4 11.8.3-21.8.3-28.5.4 36.4.3-30.2.2 45 .1-23 .3 33.1.1-16.2.3 19.7.2-9 .1 6.5.4-23.2.3-44.2.3 31.7.3-23.3.1 44.8.2-2.5.1-21.6.3-13.1.4-7.1.2 23 .1-2.5.3 23.9.4-45 .2-10.6.1 22.8.2-2.6.1-17.4.4-13.7.3 16.8.2 2 .1 8.4.4-15.4.2 14.4.1-26.6.3 4.5.3 5 .1-8.4.2 23.2.1-6.2.3 5.4.4-21.5.2.7.1-4 .2 23.2.1 23.4.3-20.6.1 12.9.3-1 .3 4.7.3-21.8.1-1.4.2 15.5.1-25.2.2 6.9.1 2.5.3 10.1.1 10.8.2-30.3.1-21 .2 30.9.1 19.4.3-30.5.1 22.2.2 6 .1-1.7.2-.4.1-18.1.4 43.9.3-16.6.2-12.5.1-5.3.4-5.4.2 33.2.1-42.4.2 5.3.1-16.2.3 28.3.1-2.5.2 1.5.1-4.2.2 21.3.1-33.7.3 33.7.1-27.8.3 19.7.3 9.7.3 9.4.1-18.7.3 41.8.2-19.9.1-26.9.4 8.5.2 5.6.1-8.9.3-5.2.3 6 .1-30.1.3-.6.3.2.4 60.5.3 4 .2-75 .1 9.9.3 67.4.1-20.3.2-21.1.1-7.1.3-12.3.3 13.7.1-16.7.2 2.1.1-13.7.2 48 .1-13.3.3.5.1 10.9.2.2.1-17.2.3 15.9.3 9.2.1 6.2.2-34.7.1-9.5.2 30.6.1 6.8.4-22.3.3.3.2 10.9.1-20.5.3-2 .1-11.3.3 37.2.2 17.9.1-63 .4 51.7.2 7.1.1-10.7.2-15.6.1 17.5.4-33.1.2-4.6.1 14 .2-24.8.1 13.9.3 18.1.1-14 .3 29.8.3-36.9.3 39 .1-40 .3 43 .3-22.1.3-9 .1-19.1.3 25 .2 16.1.1-41.8.3 47.1.1-23.1.2-18.6.1 13.5.2 22.9.1-27.7.3 38.1.1-19.7.2 21.9.1-23.9.3 33.3.3-53.9.1 15.9.2 12 .1 4 .2-26.3.1 42.2.3-52.6.1 30.8.2.7.1-20.8.2 35.3.1-5.7.4-6.1.2 3.9.1-31.8.2 15.5.1 13.8.4 20.9.2-32.6.1-9 .3.2.4 22.1.3-6.1.2 11.6.1-.9.4 10.6.2-5.3.1-25.9.2 32.1.1-28.2.3 12.2.1-2.8.3 2.9.2 5.7.1-13.2.4-15 .2-3.4.1 40.5.2 4.6.1-2.3.3-18.8.1-5.3.3 22.5.2-26.2.1-27.8.3 53.2.1-39.3.2 4.7.1-2.8.2 13.6.1 29.5.3-15.5.1 13 .2-55.7.1 43.6.3-40.6.3 20.6.1-13.6.2-4.8.1 24.6.2 15.9.1-23.6.3 28.7.1-37.9.2 25.1.1 15.6.3 4.8.3-34.5.1 30.7.3-4.7.2-38.1.1 43.8.3-11.3.1-.1.2-21.5.1 9.2.2 28.9.1-27.6.3-23.8.1 15.7.2-7.8.1 20.5.2 4.9.1-6.9.3 8.1.1-7.3.2 2 .1 15.9.2-12.1.1-29.6.2 1.3.2 23 0 8.8.2 1.9.1 12.4.2-8.3.1-6.2.3-24 .1 19.9.2-24.9.1 31.4.2-7 .1-27.5.3 23.9.1-5.3.2 6.4.1-16.9.2 12.5.1-19.3 0 12.2.3-6 .1 40.3.1-8.1.2-18.8 0-11.3.2 15.7.1-4 0 .7.2 14.2.2-22.3 0-11.6.1 9 .2-3.9 0-3.3.2 14.9.1-7.7.2 29.5.2-11.1 0-6.8.1-10.2.2 20.4 0-1.4.2-8.1.1-11.4 0 4.7.3-3.6.1 29.1.2-26.7.1-4.7.2 10.2.1 14 0-19.5.2 9 .2-16.8 0 17.9.1 15.9.2-38.1 0 25.3.2 11.8.1-18 0-16.2.3 10 .1 1.4.2 16.3.1-24.4.2 17 .1-1.1 0 14.5.2.5.2-21.4 0 3.9.2-1.3.1-12.7.2 15.3.1 4.5 0-22.3.2 3.3.2 12.9 0-5 .1 0 .2 6.9 0 7.5.2-13 .1 3.6.2 7.7.2 13 0-9.3.1-13.9.2 22.9 0-11.5.2-2.3.1 5.6 0-3.2.2 7.9.2-30.4 0 17.2.1 4.1.2-.8 0-3 .1 1.2.1-14.8.2 30.7-.1-20.9.2 15.9.2-28.4 0 34 .1-16.9.1 4.6.1-16.3 0 17.6.2 1.5.1-4 0 5.9.2-9.2.2.3 0-1.4.1 5.4.1-4.3.1 2.6 0-9.5.1-3.5.1 1.8.2 10.3-.1-4.2.2 19.5.2-.6 0 .2.1-24.4.1-.3.1 9 0 3.4.1 7.9.1.1.2-16.6-.1 13.1.2-1.5.1 8.6.1-18.7 0 7.8.1 12.2.1-17 .1 17.4 0-1.9.1-10.1.1 7.6.2-13.6-.1 12.4.2-9.6.1-2.2.1 5.8 0 3.4.1 5.6.1-13.5.1 3.6 0 4.1.1-.7.1-6.3.2 10.2-.1-4.7.2-3.3.1-.1.1 4.3 0 7.7.1.4.1-14.2.1 9.1 0-5 .1 2.3.1-3.4.2 7.6-.1 3.3.2-4.5.1-4.3.1 5.9 0 6.8.1-9.6.1-3 .1 3.1 0 2.1.1 7.9.1-3.5.2-4.1-.1 3.5.2-10.9.1 13.4.1-9.2 0 9 .1 0 .1-11 .1 8.8 0-4.5.1-4.1.1 3.9.2-1.8-.1 6.1.2-2.8.1-11 .1 13.9 0-14 .1 3.7.1 11.6.1-12.8 0 3.4.1 3.7.1-3.7.2 1.3M633.5 334.6l.2-5.4.1 10.7.1-.1 0-15.8.1 10.4.1 5.2.1 1.5 0-17 .1 14.9.1.2.2-1.2-.1 3.9.2-2.3.1-7.3.1 8.1 0 1.4.1-3.3.1-.7.1-8.9 0 4.5.1-1.9.1 4 .2 2.3-.1-4.5.2-6.4.1 1.3.1 7.1 0-3.6.1 1 .1-1.5.1-2.8 0-7.9.1-.4.1-2.4.2 5.9-.1 7 .2.4.1-12.6.1 18.7 0 1.5.1-6.1.1 5.2.1-10.3 0 6.3.1.3.1-3.8.2-4-.1 11.5.2 5 .1-11.6.1-14.7 0 9.7.1-2.6.1 13.6.1-9.4 0 17.4.1-25.1.1 10.1.2-2.5-.1 1.1.2 2.6.1 1.1.1 8.6 0-24.1.1 13.2.1 3.4.1-7.9 0 6.8.2 10.8.1-15.2 0-11.1.2 11.4.1-7 .1 7 0-6.8.1-8.5.2 28 0-4.9.1 2.9.1-12.5.2-1-.1 14.3.2-15.5.2-12.2 0 11.6.1 8.6.1-19.9.1 21.4 0-18.2.2 19.4.1-18.8 0 18.6.2-6.1.2-2.4 0 8.8.1-5.4.2-6.3 0 2 .2 10.2.1 8.5 0-6.4.2-12 .2-18.9 0 14.5.1 11.6.2-12 0 1.8.2 13.6.1-9.1 0 8.7.3-13.7.1 22.6.1-24.1.2-8.4 0 15.5.2-1.2.1 10.7 0 .3.2-20.6.2 15.4 0-15.6.2 3.5.1 15.1.2-9.9.1-5.7 0 9.5.3 6.6.1-2.1.1-9.6.2-12.1 0 28.4.2-11.5.1-10.4 0 3 .2-15.4.2 31.5 0-2.4.1-6.4.2.4 0-4.5.2-17.8.1 17.9 0-6.3.2 4.4.2 6.3 0-28.6.1 30.6.2-24.9 0-8.6.2 23.4.1-5.4 0-3.7.2 1.6.2-5.4 0-3.8.1-6.8.2 22.6 0-27.8.2 11.8.1 6.7.2 12.3.2-3.5 0-5.3.1-6.9.2 6.1 0 5.5.2-9.3.1-5.6 0-14.5.3 28.9.1-8.4.2 17.1.1-14.3.2 5.9.1-31.3.2 5.6.2 31.2 0-19 .1 1 .2 9.3 0-25.9.2 33.2.1-.7.3-26.7.1 21.7.1-8.9.2-17.2 0 12.8.2 20.2.1-34.2.3 10 .1 24.2.1-34.1.2 37.1 0-29.7.2 33.4.1-24.9 0-15.9.2 20.7.2 10.3 0-32.4.1 33.3.2 3.4 0-21.4.2-.5.1-1 .3-1.8.1 35.2.2-24.6.1 5.3.2-6.3.1 7.7 0 5.3.3-27.5.1 22.9.2 10.4.1-19.8.2 4.1.1-2.5 0 7.4.3 2.7.1-2.5.2-11.6.1 13.2.2-22.3.1 27.9 0-17.3.2-5.2.2 27.8 0-28.8.2 12.4.1-4.4.2 6.9.1-9.3 0 21.5.3-6.1.1-1 .1 2.7.2-11 0 3 .2 1 .1 7.3 0-18.8.2 17.5.2-13.6 0 17.7.2-5.1.1-11.7.2 15.7.1 14.3 0-18.6.2-9.6.2-9 0 30.6.1-5.2.2 7.7 0-29.9.2 8.5.1-6.9.2-9.9.2 14.2 0 9.8.2-26.1.1 2 .2-4.2.1 35.5 0-35.8.3-2.5.1 16 .2-9.3.1-4.1.2 31.6.1-15.7.3-26.6.1 18.7.2-10.8.1 34.8.2-34.4.1-9.5.3 16.5.1 14.5.2-20.3.1 25.4.2-21.7.1-12.2.3 23.3.1 14.1.2 3.8.1-32.9.2 29.9.1-12.6.2 17.1.2-4.5 0-4.2.2-40.7.1 5.5.2 14.3.1 21.7.2-12.1.2 10.1 0-29.8.1-4.2.2 12.5 0 8.6.2 11.3.1-18 0 31.4.2-27.8.2 28.3 0-11.1.2-24.1.1-7.1.2 29.3.1-4.1.3 12.2.1-27.8.1 26.6.2 2.2 0-6.5.2 12.4.1-19 .2-6.2.2.3 0 23.2.2-13.1.1 4.8.2-21.6.1 16.4.2-12.2.2 35.5 0-1.4.2 3.7.1-20.8.2-11.9.1 4.4 0 5.5.3-7.1.1 4.4.2 8.9.1-21.3.2 43.5.1-30.4.3 9.7.1 13.4.1-16 .2-8.9 0 1.1.2 32.5.1-28.4 0 2.3.2-8.3.2 30.1 0-13.5.2 13.4.1-18.5.2 18.1.1-2.9.2-9.4.2-6.6 0 8.4.1-4 .2 15.9 0-5.4.2-11.7.1-.3 0 8.5.2-15.5.2 11.7 0-15.9.2 16.3.1-6.6.2 5.7.1-8 0-3.1.2 15.5.2 2.5 0-14.2.1 2.8.2 19.1 0-4.7.2-6.6.1 8 0-8.4.2-4.6.2 11.4 0-19.1.1 17.4.2-24 0 17.4.2 4.3.1-6.6 0 .7.2-2.5.2-4.5 0-7.8.1 28 .2-7.1 0-18.7.1 25.1.1 2.9.2-20.5-.1 2.3.2-4 .2 11.8 0 1.3.1-3.6.2-12.1 0 6.7.1 13.7.1-11.7.2-13.7-.1 3.1.2-4.7.1 28.1.1-15.4 0 4 .1-2.7.1 0 .1.6 0 8 .1 2.8.1-22.4.2 14.2-.1.1.2 8.1.1-6.3.1-2.4 0 9.4.1-4 .1-16.5.1 5.5 0 13.5.2-6.4.1 3.3 0 2.5.2-10.3.1 22.1.1-2 0-7.1.1-8.6.1 12.4.1-24.9 0 14.5.1 6.6.1-6.1.2 12.7-.1-17.5.2 11.7.2-5.5 0 7.1.1-8.6.1 4.9.1-13.9 0 5.7.2 2.2.1-7.6 0-4.6.2 21.4.1-11.1.1 5.1 0-10.5.1 3.8.2 2.1 0-4.3.1 14.5.1-6.6.2.8-.1 3.7.2 5.7.1 2.4.1-19.2 0 15.3.1-13.9.2-1.4 0-4.5.1 5.7.1 17.9.2-14.2-.1-5.2.2 2.3.1-8.1.1 17.2 0-4.6.1-12.2.1-2.4.1 17.8 0 4.1.1-9.2.1 10.2.2-1.2-.1-20.7.2 8.7.1-2.6.1 6 0-.8.1 6.4.1-1.1.1 3.8 0-17.2.1 24.7.1-24.1.2 22.2-.1-23.5.2 21 .1-7.3.1-2.9 0-2.8.1.8.1-10.7.1 3.5 0 8.5.1-.5.1 15.3.2.8-.1-6.9.2-17.9.1 2.6.1 2.8 0-5.5.1 4.6.1 11.4.1-14.9 0 17.9.1-9.5.1.7.2 6-.1-14.3.2 22.8.1-15.3.1 10.9 0-7.3.1-4.8.1 2.1.1-9.4 0 6.1.1 13.7.1-3.1.2-4.3-.1.9.2-5.7.1 9 .1-6.2 0 5.8.1-13.9.1 5.6.1 12.5 0-16.3.1 14.1.1-6.7.2-2.3-.1-1.5.2-1.8.1.9.1 7.3 0-7.1.1 7.8.1-7.6.1 5 0 2.9.1 2.5.1-.5.2.4-.1-3.1.2-7.9.1 2.7.1 3.6 0-11.7.1 21.5.1-1.9.1-1.1 0-8.3.1 12.6.1-7.9.2-13.3-.1 16.2.2-5.4.1-1.1.1-9.8 0 10.6.1 7.2.1-13.5.1-2.8 0 6.8.1.8.1.2.2-4.4-.1 4 .2-1.2.1.4.1 5.9 0-4.4.1-3.3.1 7.6.1-7.6 0 3.8.1 5.2.1 0 .2 5.5-.1 4.7.2-21.7.1 1.7.1 11 0-11.1.1 20.3.1-17.1.1-4.6 0 12.8.1 4.2.1-6.8.2.4-.1-2.1.2 5.2.1-.8.1-7.5 0-5.9.1 4.1.1 8.9.1-4.1 0 11.6.1-9 .1-13.3.2 4.2-.1 3.4.2 7 .1 3.3.1-5.8 0-5.8.1.2.1 9.4.1 5.3 0 2.5.1-16 .1 1.1.2 6.2-.1-.5.2-7.8.1 1.6.1 4.8 0-8.1.1-4 .1 11.9.1-3.4 0 .6.1 4.3.1-7.9.2 11.4-.1-1.2.2-8.9.1 6.9.1 2.6 0-5.4.1-8.6.1 12.4.1-13.9 0 10.2.1-10.6.1 4.1.2 14.9-.1-10.8.2 5.6.1-7 .1-4.7 0 9.5.1 1.7.1.7.1-9.4 0 1.5.1 13.4.1-2.1.2-8-.1-4.2.2 4.4.1-7.9.1 12.1 0-3.1.1-9.1.1 8.2.1 5.8 0 5.1.1-.2.1-1.1.2-12.9-.1-2 .2 13 .1-8.5.1-4.4 0 8.3.1 6.5.1-8.1.1-7.3 0 4 .1-7.8.1 6.7.2-4.7-.1 13.6.2-7.2.1 1.6.1-4.7 0-4.3.1 6.6.1 1.3.1-2.2 0-6.6.1 4.6.1-.7.2 8.4-.1-14.5.2-1 .1 9.9.1 11.2 0-10.2.1 3.3.1.1.1-8.2 0 2.8.1 1.8.1-2 .2-5.8-.1 6.7.2 10.3.1-10.1.1-3.1 0-7.7.1 16.7.1-15.9.1 7.3 0-1.6.1-4.4.1 10.4.2-9.7-.1 11.9.2-.5.1-12.5.1.1 0 3.7.1 14.6.1-9.5.1-10.4 0 3.5.1 16.1.1-19.8.2 20.3-.1-11.5.2 8 .1-15.2.1 1.9 0 8.8.1 2.2.1-1.9.1-3.8 0-7.5.1 3.3.1-1.3.2-2.5-.1 8.8.2 2.5.1-3.1.1-6.9 0-1.5.1 11.2.1-6.3.1 2.7 0-4.9.1 2 .1 3 .2-.5-.1-2 .2 8.9.1-5.4.1 3.5 0-13.8.1-1.8.1-.1.1 5.5 0 13.1.1-15.5.1-4.5.2 13.4-.1 5.3.2-2.4.1.4.1-5.4 0-4 .1 6.8.1-13.9.1 4.2 0 0 .1 6.8.1 8 .2-16.2-.1 12.9.2-2.4.1-5.7.1 7.2 0 6.2.1-15.2.1 2 .1-1.2 0 6.8.1-6.5.1.9.2 9.8-.1 1.9.2-8.9.1 3.4.1-9.1 0 4.3.1 7.5.1-7.5.1 5 0 4.3.1-2.4.1-3.8.2 1.4-.1-11.9.2 2.6.1 12 .1 4.3 0-6.9.1-5 .1 10.8.1-3.9 0 2.9.1-11.1.1-.3.2 5.5-.1-6 .2-3.9.1 14.1.1 2.2 0 1.6.1-19.6.1 18.9.1-4.1 0 7.8.1-11.3.1 3.4.2 6.3-.1-19.3.2 9.2.1 7.4.1-4.9 0-4.3.1 5.9.1-5.1.1-10 0 16.2.1-1.3.1-3.4.2-5.7-.1 1.7.2.1.1 1.6.1-8.4 0 7.5.1-3 .1 16.8.1-15.3 0 6 .1-2.6.1 2 .2 1.3-.1-9.4.2 11.9.1-2 .1-4.5 0 12.3.1-6.1.1-2.2.1 3.5 0-8 .1-5.6.1-.7.2 18.6-.1-13.9.2-.3.1-6.7.1 6.1 0 12.1.1-8.4.1.6.1 2.6 0 3.4.1-9.6.1 2.4.2 2-.1-.6.2-2.9.1 3.6.1 1.6 0-5 .1-3.5.1 1.7.1 8.6 0-.3.1-7.7.1-6.8.2 2.7-.1 8.3.2 2.6.1-1.7.1-6.4 0 5.6.1-2.8.1-4 .1 5 0 4.1.1-3.4.1-2.4.2-5.8-.1 8.8.2-2.8.1-1.6.1 2 0 .1.1 9 .1-9.5.1-3M745.2 327.4l.1 11.9.1-2.3.2.5-.1-8.9.2 2.4.1 1 .1 11.1 0-3.8.1 5.4.1-8.2.1-10.2 0 6.2.1 2.7.1-4.2.2 1.2-.1 14.2.2-8.6.1 2.8.1-11.6 0 11 .1 3.4.1-13.6.1 4.8 0-5.2.1 13.5.1-2.2.2 3.6-.1-12.2.2 18.1.1-4.1.1-1.7 0-15.4.1 15 .1-11.4.1 9.8 0 .8.1-.6.1-2 .2-2.3-.1 2.3.2-3.9.1 1.4.1 5.6 0 .2.1 9.9.1-15.6.1 15.2 0-15.3.1 6.6.1-3.3.2 2.6-.1-.9.2 1.4.1-4 .1 6.6 0 6 .1 2 .1-14 .1 5.3 0 7.1.1 1.8.1.2.2-12-.1.2.2 11.4.1-4.8.1-5.6 0 14.4.1-19.9.1 15.5.1-1.6 0-12 .1-1.9.1 11.9.2 1.8-.1-12.8.2 5.8.1 3.3.1 6.9 0-9.9.1 3.3.1.2.1-6.5 0 10.3.1-8.9.1 5.9.2-15.6-.1 12.6.2 1 .1-1.2.1-5.2 0 9.8.1-7.3.1-3.1.1 3.4 0 8.9.1-7.9.1-5.9.2 11.9-.1 3.1.2-12.9.1 3.4.1 6 0-9.1.1 6.7.1-3.2.1 1.9 0-1.3.1 12.3.1-6.4.2-1.2-.1 1.8.2-10.7.1 8.1.1-4.8 0-.9.1-1.6.1 7.7.1-.1 0 .8.1 2.4.1-6.8.2-2-.1-1 .2 8.7.1-13.3.1 17.4 0-1.6.1-7.6.1-9.8.1 6.2 0 1.7.1 7.3.1-2 .2-.1-.1-4.3.2 5.2.1-8.9.1 8 0 .1.1-7.1.1.8.1 8.6 0-2.2.1-3.2.1-6.2.2 3.7-.1-3.1.2 17.8.1-16.7.1 8.2 0 7 .1-9 .1 5.7.1-4.7 0-2.6.1-11.4.1 23.8.2 2-.1-4.9.2-6 .1-10.1.1 1.7 0 1.7.1 11.2.1-3.5.1.4 0-8.7.1-2.5.1 17.6.2 1-.1-6.2.2-5.1.1-7.2.1 6 0 9.4.1-6 .2-4.5 0 7.1.2 9.1.1-6 0-6 .2-.1.2-1.7 0-9.2.1 12.2.1 6.8.1-27.2 0 11.8.2 16.5.1-16.3 0-2.2.2 2.2.2 7.5 0-3.3.1 15.9.2-27.6 0 25.6.2-5.3.1-12.3 0-4.4.2 14.3.2-20.2 0 28.3.1-18.2.2-2.6 0 1.9.2 7.1.1-19.3 0 22.9.2 3.5.2-11.7 0-4.2.1-5.1.2 30.9 0-8.3.2-3.2.1-1.7 0 2.1.2 4.6.2-7.9 0-5.5.1 5.2.2 4.8 0-20.5.2 23.7.1-10.6 0 19.8.3-27 .1 14.9.2-14.9.1-11.5.2 20.6.1 21.4.3-16 .1-4.8.1 14.3.2-11.2 0-5.3.2-10.3.1 17.4 0-3.2.3-2.4.1-21.1.2 21.3.1-19.1.2-.2.1 25.9 0-13.7.2-8.6.2 33.8 0-36.6.1 13.2.2-1.9 0 12.6.2-30.1.1 15.5.2 17.8.2-.9 0-12.5.1-10.6.2-4.1 0 1.5.2 21.9.1-13.1 0 2.2.2 19.9.2-11.8 0-8.3.1 10.6.2-24.7 0 22.7.2 6.7.1-6.3 0-4 .2 12.9.2-20.4 0 16.7.1-8.4.2-26 0 .8.2 1.1.1 8.4 0 16.5.2-1.1.1 1.7.1-3.2 0-1.6.1-1.5.1-6.1.1 9.8 0-6 .1 5.8.1-5.2.2-3.3-.1 16.1.2-13.5.2-3.8 0 11.5.1-1.4.2-12.5 0 6.6.2-8.5.1 8.5 0 6 .2-3.1.2 9.3 0-4.9.1 5.4.2-17.1 0 1.4.2 4.4.1 13.7 0-3.7.2 11 .2-11.8 0-16.2.1 8 .2-13.3 0 20.7.1-5 .1 21 .2-13.7-.1 11.4.2-6.4.2-14.6 0 1.8.1 12 .1 5.9.1-10.8 0-2.8.2-1.3.1-10.2 0 19.7.2-2.6.2-1.5 0 5.6.1-11.4.2-2.4 0 15.7.1 10.3.1-9.6.2-12.4-.1 15 .2-11.9.2 18.6 0-16.7.1 6.4.2-4.8 0-5.4.2-4.7.1 17.9 0-14.5.2-6.1.1 16.9.1-9.3 0 14.2.1 3.3.2-19.4 0 13.4.2 5.2.1-14.1 0-3.1.2 8.5.2-1.3 0 14.2.1-27.3.2 7.1 0-10.2.1 10.1.1 13.6.2-3.5-.1-6.5.2-15.7.1 15.3.1-7.7 0 14.5.1-20.5.2-.8 0-2.3.1 14.7.1 6.9.2-23-.1 3 .2 20.8.2 4 0-12.2.1-14.3.2 3.5 0-7.9.2-5.5.1 8.9 0 5.1.2 19.7.2-22.4 0 1.8.1 12.1.2-20.7 0 22.2.2-.1.1-13.4 0 11.6.2-2.9.2 0 0 2.9.1-.4.2-15.3 0 11.4.1-8 .1-1.5.2 3.1-.1-6.2.2 14.8.2-2.1 0-1.2.1-7.9.2 4.5 0-6.9.1 3.8.1 2.1.2 1.2-.1 19.4.2-16.1.2-7.8 0 14.1.1-17.8.2 15.8 0 2.8.1-15.2.1-.8.2 4.3-.1 4.8.2 5.4.2-1.8 0-.2.1-18 .2 4.4 0 19.2.1 2.2.1-27.6.2 12.2-.1 4.3.2 3.6.2-15.4 0 13.8.1-7.3.2 12.9 0 0 .2-10.1.1-8.6 0 10 .2 14.8.2-2.1 0-16.9.1 4.9.2-1.6 0-10.9.2 6.1.1.7 0-2.7.2 11.5.2-5.8 0 9.5.1-15.1.2 12.9 0-12.5.2 16.5.1 12.9 0-11.1.2 5.8.2-9.5 0-2.6.1 9.4.2-16.7 0 9.8.2 9.7.1-5.8 0-19.1.2 5.9.2 21.8 0-15 .1-8.3.2 1.7 0 1.7.2 8.1.1 1.4 0-4.6.2-20.2.2 14.2 0-14 .1 24.2.2-6.5 0-19.3.1 25.3.1-9.2.2 2.9-.1 3.8.2-13.5.2 8 0-1.4.1 13.2.2-24.9 0 10.4.2-9.4.1 16 0-11.2.2 15 .2-10.2 0 2 .1 18.5.2-1.6 0-35.3.2 18.8.1 12.5 0 3.7.2-13.7.1-22.1.1 13.5 0 14.9.1-27 .2 16.4 0 2.8.2-14.1.1 27.2 0-9.6.2-9.7.1-9.2.1 11.7 0 6.8.1 3.3.2-19.3 0-6 .1 12 .1 5.8.2 11.8-.1-11.7.2 10.3.2-2.2 0-15 .1 10.2.1-6.9.1 12.4 0-8.8.1-2.5.1 2.2.2-4.8-.1.7.2-3.4.1 5.4.1 1 0-4.8.1 17.6.1-19.6.1 10.8 0-10.2.1 3.6.1 4.5.2-2.9-.1-6.7.2 18.3.2-3.2 0-12.4.1 3.9.1-6.1.1 2.6 0-.1.1-4.6.1 25.2.2-32.2-.1 25.7.2-9 .2-14.2 0 7.5.1 21.7.1-16.8.1-4.6 0-.1.1 7 .1-15.6.2 7.3-.1 9.2.2-2 .1 1.5.1 10.7 0 2 .1-14.5.1-.7.1 14.8 0-3.8.1-3.3.1-10.8.2-1.8-.1 13.5.2-17.2.1-2 .1 12.3 0-7.8.1 6.4.1-13.5.1 4.9 0 5.6.1.2.1-13.1.2 14.8-.1-7.7.2 12.2.1 7.4.1-2.2 0-14.6.1-4.9.1 8.6.1-6.5 0-.8.1 13.8.1-6.9.2 4-.1 8.5.2-19.6.1 13.3.1-18.3 0 6.2.1 8.3.1-5.2.1 8.7 0 .1.1 1.9.1 1.5.2-12.8-.1-7.5.2 5.3.1-6.7.1 24.9 0-21.1.1 19.3.1-16.1.1 12.2 0-9.2.1 4.6.1 10.1.2-1.2-.1-12.4.2-2.4.1-1.4.1.8 0 .3.1-10.7.1 18 .1-16.8 0 11 .1 5.3.1-8.1.2 2.9-.1 10.6.2-18.5.1 4.3.1 3.1 0-3.7.1 15.2.1-5.7.1-3.8 0-1.4.1-12.2.1 20.1.2-20.8-.1 20.2.2-15.4.1 18 .1-18.7 0 2.2.1 11.6.1 2.1.1-10.3 0-5.6.1 5.1.1-9.8.2 8.8-.1-3.8.2 14.4.1-20.2.1 16.3 0-3.4.1 2.4.1-1.9.1 1.8 0-12 .1 19.3.1-16.3.2 15.6-.1-18.4.2 12.9.1 4.4.1-.9 0 1.6.1.3.1-11.7.1-2.1 0 5.6.1 8.7.1 2.3.2-7.3-.1-11.1.2 25.1.1-8.8.1-4.5 0 3.5.1-6.2.1 11 .1-8.4 0 12 .1-12.3.1 10.4.2 5.1-.1-10.6.2 7.6.1-10.2.1 4.2 0 9.9.1-7.8.1 4.2.1-3.6 0-2.6.1-7.9.1 6.9.2-2.5-.1 3.3.2 8.9.1-14.5.1 6.5 0 12.2.1-12.8.1 12.3.1-12.1 0-11.9.1 17.3.1-3.6.2 9.4-.1-7.1.2-8.3.1 10.7.1-3 0-.4.1 11.6.1 2.1.1-3.2 0-11.1.1-5.1.1 3.3.2 0-.1 5.3.2 1.1.1-2.4.1 2.8 0-11.6.1 1.5.1 18.9.1-17.4 0-4.6.1.5.1 20.5.2-15.9-.1-4.3.2-4.7.1 9.4.1 11.9 0 .3.1-16.8.1 13.3.1 4 0-4.6.1-2.8.1-7.6.2 2.8-.1 13.6.2-11.9.1 11 .1 1 0-6.7.1 3.8.1 6.8.1-10.3 0-2.2.1-4.6.1 17.7.2-7.3-.1 3.6.2-5.9.1-7.3.1 3.2 0 9.7.1-5.2.1-3.1.1 6.2 0 .6.1 1.3.1-18.8.2 5-.1 2.7.2 6.9.1 12.2.1-20 0 1.7.1 15 .1-13.5.1 5.4 0-5.1.1 18.3.1-13.4.2 4.3-.1-2.8.2 13.1.1-12.5.1 13.6 0-20.1.1-5.3.1 17.8.1-3.6 0 6.1.1-12.3.1-9.5.2 23.3-.1-2.9.2-12.5.1 14.2.1-2.6 0-1.5.1-7 .1 13 .1-18.1 0-4.8.1 11.9.1 5.8.2-15.8-.1 11.9.2-4.7.1 15.4.1-21.6 0 2.1.1 3.4.1-.6.1 16.2 0 2.1.1-17.8.1-1.4.2 3.5-.1 11.9.2-4.9.1-2.7.1-8.6 0-3.7.1-2.9.1 15.8.1-1 0-3.9.1 9.2.1-17 .2 11.1-.1 2.8.2 2.3.1 2.4.1-7.6 0 8.8.1-7.1.1 6.8.1-7.3 0-3.8.1 5.1.1 11 .2-22.7-.1 12.1.2-13.5.1 10.5.1-3.4 0 9.7.1 5.5.1-3.7.1-19 0 13.6.1-16.6.1 20.9.2-13.8-.1-7.5.2.5.1 13.8.1-3.2 0 1.9.1 11.3.1-17.3.1 9.7 0-3.3.1-.1.1-6.8.2-1.1-.1-2.2.2 15.6.1 3.3.1-7.4 0 6.4.1-11.4.1-7.4.1 17.8 0 .7.1-7.8.1-10.1.2 14.3-.1 5.9.2.7.1-5.4.1-8.9 0 2.5.1-6.2.1 1.4.1-5.9 0 10.1.1-3 .1 2.9.2 2.7-.1 6.4.2-15.3.1 2.6.1 10.7 0-9.5.1 7.2.1 4.6.1-3 0 7.3.1-18.3.1 7.9.2 9.5-.1-12 .2 1.7.1 4.7.1-5.9 0-.8.1 3.8.1-5.7.1 11.1 0-7.5.1 3.8.1 11 .2-5.9-.1 7 .2-8.9.1-3.1.1-4.8 0 12 .1-14.3.1 8.3.1-12.3 0 18.3.1-14 .1 11.8.2 1.6-.1 2.2.2-13.5.1 12.7.1-8 0 10.1.1-7.9.1-1 .1-4.5 0-2.2.1 9.3.1-5 .2-2.5-.1 1.3.2 5.4.1-2.4.1 5.4 0-2.7.1 1.2.1-3.1.1-5.7M860 358l.1 2 .1 8.8.2 3.1-.1-4.2.2-9.6.1 1.2.1-5.4 0-2.7.1 12.1.1-3.3.1.9 0-4.8.1 14.3.1-6.2.2 0-.1.1.2-4.8.1-5.6.1-3.6 0 7.4.1-8.2.1 8.4.1 2.3 0-.3.1-5.8.1-9.6.2-4.4-.1 1.9.2-.9.2 5.3 0-7 .1 20.2.2-16.4 0-1.9.2 12.6.1 7.6 0-4.1.2-11 .2 18.9 0-17.8.1 20.3.1-1.3.1-6.8 0 9.9.1-22.9.1 9.8.2 4.3-.1 7.4.2-19.3.1 4.9.1-7 0 5.3.1 9 .1-12.1.1 1.1 0 19.5.1-8.3.1 2.3.2-1.5-.1-6.2.2 5.9.1 5.2.1 3.3 0-6.8.1-10.1.1 13.2.1-9.8 0 18.9.1-4.8.1 3.7.2-17.6-.1 1.2.2 9.2.1 5.1.1-10.1M944.3 491l.2-6 .1-1.7.1-2.3 0-1.4.1 5.3.1-6.4.1 6 0-4.2.1-11.2.1-1.6.2 11.5-.1-16.8.2 6.6.1 1.1.1 11 0-3.8.1-.1.1-10.7.1.5 0 6.4.1-10.7.1 13.8.2-7.6-.1-7.6.2 3.1.1-11.8.1-5.8 0 0 .1 8.3.1-6.8.1.8 0-.2.1 1.4.1 6.3.2-20.1-.1-6.6.2 11.9.1 9.5.1-21.7 0 5.1.1-7.5.1 3.5.1 18.5 0-21.8.1 6.9.1-1.2.2-15.9-.1 6.4.2 11.7.1-14.7.1 12.4 0-13.3.1 10.2.1-13.3.1 5.3 0-.4.1-8.7.1 3 .2-4.7-.1 4.1.2-15.4.1 16.9.1-16.8 0-1.4.1 11.2.1-.5.1-7.6 0-.3.1 9.2.1-15.4.2 13-.1 4.6.2-8.2.1 6.7.1 7.6 0-23.6.1 11.2.1 8.5.1-26.4 0 3.4.1 6.3.1-3.3.2 13-.1-20.7.2 19.1.1-7.2.1 1.4 0-6.4.1-7 .1 16.6.1-10.9 0-7.3.1-.2.1-3.9.2 16.3-.1-17.8.2 12.3.1-7.5.1 11.3 0-7.9.1-.8.1 9 .1-13.8 0 8.2.1 7.9.1-7 .2-.8-.1 1.5.2-4.8.1 4.3.1-2.5 0-.3.1 3.8.1 10.4.1-3 0-3.4.1-4 .1 8.6.2-4.7-.1.9.2 3.5.1-11.3.1 7.6 0 3.7.1-3.6.1-2.3.1-5.5 0-1 .1-.5.1 11.3.2-13.3-.1 6.4.2-3.2.1 2.1.1.6 0 1.3.1-9.5.1 10.9.1-7.5 0 19 .1-8.6.1-1.5.2 1.2-.1 5.7.2-13.9.1 7.1.1 3 0-.6.1-11.3.1 13.7.1-.3 0 4.5.1-14 .1 13.7.2-.1-.1 4.2.2 2.5.1-12.1.1.1 0-11.3.1 3.9.1 2.6.1 5.1 0 4.7.1-13.4.1.4.2 19-.1-1.2.2-4.3.1-3.2.1 5 0-1.3.1-7.2.1 1.5.1 8.9 0-5.2.1-.7.1-1.9.2-4.1-.1-1.4.2 10.3.1 6.6.1-19.5 0 14.4.1-8 .1-7 .1 12.9 0 1.1.1-7.9.1-2.5.2 14.1-.1-5.4.2 4.7.1-7 .1 6.1 0-10.7.1 8.1.1-6.3.1-.9 0 6 .1 3 .1-6.9.2 4.9-.1 8.1.2-6.4.1-10.4.1 4.2 0 11.2.1-18.9.1 6.4.1 4.4 0 3.2.1-6.4.1 2.4.2-10.6-.1 14.3.2-6.7.1 7.1.1-16.6 0 3.4.1 4.7.1 2.2.1-3.6 0 7.3.1 1.4.1-7.7.2 16.1-.1-18.9.2 12.5.1.2.1-11 0 11.4.1-5.2.1 2.6.1-6.3 0 9.2.1-6.1.1-8.1.2 5.2-.1 1.6.2-5.6.1 14.2.1 2.1 0 .7.1-9.1.1-8.3.1 18.6 0 .1.1-11.9.1 2.3.2 9.2-.1-9.3.2 6.4.1-11.7.1 1.6 0 12.1.1-14.1.1-2.7.1 9.6 0 1.6.1 5.8.1-15.1.2 15.7-.1-2.5.2-15.8.1 15.3.1-16.6 0 23.1.1-16.1.1 6.4.1 7.9 0-2.3.1-12 .1 1.7.2 5.3-.1-.5.2 6.8.1-4 .1-.9 0-8.9.1 10.3.1-6.7.1 5.2 0 7 .1-8.4.1-3.4.2 14-.1-16.3.2-.6.1 2.7.1.4 0 11.5.1-2.5.1-7 .1 7.2 0-6.4.1-8.8.1-3.8.2 17.4-.1-14 .2.7.1 9.1.1-4.8 0 14.3.1-17.9.1 2.2.1 8.8 0-12.4.1 7.8.1 9.6.2-12.5-.1 7.9.2-6.1.1 1.7.1 5.1 0-4.1.1-.5.1-3.7.1 1 0 8.6.1-.1.1-5.2.2-9.9-.1.5.2 10.9.1-4.5.1-2.3 0 12.9.1-8 .1-4.5.1-5.4 0 6.8.1-5.4.1-3 .2 7.7-.1 7.8.2-12.3.1 14.5.1-11.5 0-1.5.1 4.3.1 7.6.1-11.6 0-3.3.1 2.1.1 1.8.2-7.7-.1 6 .2-7.5.1 13.6.1-3.5 0-9.9.1 19.7.1-10 .1-6.2 0 6.7.1 2.2.1-3.8.2-8-.1 17.1.2-7.8.1 6.8.1.3 0-13.4.1 16.9.1-7.3.1-7.2 0-5.3.1.6.1 7.6.2-1.3-.1-9.6.2 20.8.1-12.6.1 3.1 0-7.3.1 10.2.1-14.8.1 14 0 6 .1-10.1.1-1.1.2-6.3-.1 4.3.2 8.3.1-1.2.1-6.7 0 10.7.1 1.5.1-9.4.1 3.4 0-1.2.1 4.4.1-12.8.2-4.6-.1 11.6.2-6.5.1-1.3.1 7.1 0-1.9.1 8.3.1-8.3.1-1.5 0-5.7.1 10.9.1-10.5.2 14.5-.1-2.6.2-14.4.1 8.7.1-3.2 0 9.2.1-13 .1 8.8.1-6.9 0-3.5.1-3.5.1 21.5.2-11.8-.1-6.9.2-3.8.1 18.3.1-5.9 0 0 .1-6.3.1 1.2.1 3.1 0-11.9.1 18.5.1-6.7.2-6.4-.1 4.1.2-2.9.1 3.5.1-4.2 0 15.6.1-23.2.1 11 .1 12.3 0-12.1.1-7 .1 13.5.2 1.5-.1-10.1.2 4.1.1 4.3.1-8 0 4.8.1-7.7.1 8.3.1-1.3 0-6.3.1 11.4.1-.8.2-10.4-.1-2.6.2 6.4.1-2.5.1-3.8 0 1.2.1 9.7.1-10.5.1-2.8 0 12.6.1-1.5.1-13.2.2 3.7-.1 11.1.2-16.7.1 12.8.1 1.4 0-2.3.1-6.8.1 3.8.1-3.6 0 13.2.1-20.3.1 18.9.2-5.5-.1-8.4.2 16.2.1-6.5.1-5.9 0 13 .1-18.2.1 11.9.1 1.7 0-6.3.1-5.3.1.2.2 11.7-.1-6.4.2-9.7.1 11.9.1-1.3 0-11.9.1 12.2.1-4 .1-8.5 0 .4.1 7.6.1-3.1.2 6.6-.1 5.1.2-11.3.1-3.9.1.1 0 14.4.1-16.2.1 8.5.1-2.9 0-3.4.1-6.6.1 15.8.2-10.8-.1 11.5.2-10.8.1 7.6.1-1.8 0 .6.1-4.5.1-1.9.1 7.9 0-6.5.1 14 .1-11.1.2-5.6-.1 14.4.2-2.5.1-18.1.1 22.4 0-17.4.1 14.9.1-16.8.1 6.1 0 5.9.1-8.6.1 8.5.2-9.3-.1 8.3.2-3.6.1 1.1.1 10.3 0-19.9.1 11.3.1.3.1-8.3 0 14.7.1-7.8.1-4.6.2 7.7-.1-4.8.2 10.1.1-1.2.1-13.5 0-6.1.1 9.6.1.7.1 2.2 0 9.7.1-7 .1-16.2.2 17-.1-1.6.2-12.7.1 9.3.1-.2 0 5.6.1-11.6.1 2.6.1 4.2 0 .2.1-8.7.1 16.6.2-12.9-.1 6.1.2-5.2.1-5.8.1 7.9 0-8.1.1 12.4.1-13.8.1 12.9 0-3.1.1-11.5.1 22.8.2-21.2-.1 18.7.2 1.4.1-12.1.1 2.5 0 1.8.1-12.3.1 23 .1-9.5 0 3.5.1-12.6.1 17.3.2-9.4-.1-2.1.2-5.9.1 4.1.1 10.3 0-10.8.1 7.2.1-12.5.1 7.9 0 3 .1 2.9.1-1.9.2-8.7-.1 5.9.2 2.8.1-2.6.1 5.7 0-.5.1 7.7.1-18.3.1 14.5 0-2 .1.1.1-.6.2-14.7-.1 14.7.2-5 .1-6.2.1 7.4 0 12.8.1-13.2.1 12.8.1-16.6 0-.1.1 2 .1 2.4.2-4.2-.1-3.3.2 14.4.1-5.7.1 11 0-7.2.1-3.4.1 0 .1 8.1 0-6.7.1-4.2.1-.6.2 11-.1 3.5.2-4.2.1-.2.1-6.3 0 5.8.1-11.4.1 3.1.1-.4 0 12.9.1-7.7.1-2.6.2.9-.1 5.2.2-10.8.1 12.3.1 6.5 0-12 .1 6.1.1-5.2.1 7.8 0-15.3.1-.1.1-.3.2-5.2-.1 19.2.2-19.4.1 18 .1-10.1 0 1.4.1 6.8.1.8.1.1 0-12.3.1 7.7.1 8.8.2-19.2-.1 3.2.2 12.6.1-2.5.1-.3 0 4.7.1-5.4.1-2.1.1-7.8 0 3.8.1 9.2.1-5.6.2-5.1-.1 8 .2-8.3.1 5.9.1-6.1 0 14.6.1.9.1-9.1.1-7.6 0 8 .1 7.1.1-9 .2-.8-.1.7.2 10.7.1-.9.1-14.7 0 13.2.1-10.5.1 8.9.1 4.5 0-21 .1 10.8.1 2.2.2 2.9-.1-1.1.2-3.2.1-10.4.1 9.4 0 2.2.1-4.7.1 11.3.1-3.6 0 .9.1-12.8.1-4.2.2 8.9" stroke="#10d010" stroke-width="1.2" stroke-dasharray="1.3 1.9" fill="none"/><path d="M551.5 285V255M549.5 290V262M576 285V262" stroke="#10d010" stroke-width="2.4" stroke-dasharray="2 1.2" fill="none"/><path d="M143 364.9l.3 2.9.4-6.1.3-1.1.3 9.4.4-7.9.3 5.3.3 6.7.4-7.6.3 4 .3-8.5.4 12.3.3 4 .3 7.5.4 2.5.3-8.2.3-3.4.4-2.3.3 7.7.3-5.5.4 12.4.3 8.4.3-5.7.4-9.9.3 7.7.3-7.7.4 15.6.3-5.9.3-3.2.4 4.1.3-3.9.3-4.3.4-5 .3-4.2.3 7.3.4-3.7.3-7.1.3 5.3.4-6.2.3-3 .3-9.6.4 21.2.3-17.6.3-2.6.4 6.5.3 12.9.3-19.1.4 14.1.3-10.8.3-7.6.4 3.1.3 7 .3-12.9.4 5.4.3 5 .3-9.6.4-.7.3 3 .3-2.2.4 11.7.3-12 .3 11.3.4.1.3-8.5.3 8.2.4-.7.3 11.1.3-.8.4-10.5.3 8.5.3-13.6.4 5.6.3 7.6.3-16.7.4-3.8.3 9.9.3-11.2.4 20 .3-4.4.3-11.5.4 0 .3-5.7.3 16.5.4 3.4.3-1.2.3-3.2.4 4.5.3 6.5.3 4.2.4 2.3.3-2.2.3 10.6.4-5.8.3 6.9.3-4.2.4-12.3.3 6.7.3 8 .4-1.8.3-10.3.3 3.1.4-11.1.3-.8.3 11.6.4-13.2.3 1.9.3 0 .4-7.6.3 2.4.3 15.6.4-6 .3 2.5.3-2.9.4 9.5.3-14.2.3 6 .4-12.2.3 14 .3-10.9.4.4.3-4.8.3 3.6.4-.7.3-2.8.3-2.2.4-4.5.3-3.9.3-10.1.4.1.3 14.3.3.6.4-18.9.3 15.9.3.8.4.1.3-20.4.3 15.9.4-.9.3 5.3.3-2.3.4 2.9.3 5.4.3-5.1.4 6 .3 5.9.3 5.5.4 4.1.3-11.1.3 15.8.4-2.4.3.5.3-5.5.4 11.3.3 3.2.3-5.8.4 1.1.3-9.2.3 0 .4-8.2.3 3.2.3 7.7.4-8.5.3 3.2.3 13.9.4-7.6.3 5.7.3 4.1.4-5.2.3-8.3.3 15.7.4-6.9.3-8.4.3 14.5.4-21.7.3 12.8.3-3.2.4-6.3.3-3.8.3-7.8.4 15.3.3 1.5.3-3.1.4 1.2.3-17.9.3 2.1.4 1.2.3 13.1.3-2.5.4 9.2.3-6 .3 8.9.4 2.7.3-4.3.3-7.4.4 7.5.3 2.3.3-9.3.4 13.8.3-8.1.3 1.3.4-6.7.3 6 .3-6.5.4 1.5.3-6 .3-1.7.4-5.8.3 2.5.3.5.4-5.5.3 2.8.3-11.7.4 15.6.3-5.9.3 10.7.4 4.4.3-2.3.3-1.7.4-8 .3 17.4.3 2.4.4-1.9.3 14.3.3-20.2.4 1.3.3 18.9.3-17.1.4.7.3 1.4.3 12.8.4-.1.3-6.9.3-5.9.4-.6.3-.6.3-5 .4-6.9.3 15.2.3-17.3.4 1.6.3-3.7.3 18.3.4-14.7.3 5 .3 6.4.4-3.3.3 12.3.3-5.2.4 11.9.3-5.2.3-4.6.4 7.6.3-1.3.3 3.8.4 3.6.3-17.6.3 11.3.4 2.1.3-1.9.3-4.5.4.8.3 3.8.3-1.7.4 3.4.3-14.1.3 9.1.4 9.5.3-1.7.3-7.6.4 14.2.3-7.5.3-3.7.4 5.2.3-12.4.3 16.2.4-12.4.3 1.8.3-10.3.4 15.7.3-1.2.3-18.5.4 1.8.3-11.1.3 4.5.4 11.8.3 0 .3-10 .4 9 .3-8.9.3 2.4.4 5.5.3 6.3.3-2.5.4 3.3.3-2.8.3 23.7.4-12.7.3 3.6.3 6.8.4-7.2.3 9.5.3-12.5.4 5.9.3 7.6.3-8.2.4 2.5.3-15.9.3 11.5.4 2.3.3-8 .3 10 .4-14.4.3 9.4.3 3 .4-11.6.3-5.5.3 6.8.4-7.2.3 5.3.3 10.1.4-9.4.3 8 .3-3 .4 7.1.3-17.3.3-.1.4-5.5.3 1 .3 9.9.4-19.5.3 6.8.3-10.6.4-2.7.3-2 .3 3.5.4-.3.3-5.2.3 7.8.4-3.8.3-4.6.3 4.2.4 6.6.3-10.7.3 6.4.4 6.9.3-3.1.3-2.5.4 16.7.3-13.1.3 4.8.4 4.9.3-6.9.3 6.6.4 7 .3-12.7.3 3.4.4 3.6.3.1.3-7.4.4 6.1.3-21.2.3 9.7.4.3.3 2.8.3-16.4.4 19.2.3-2.8.3 1 .4 1 .3-9.4.3 11.4.4-8.3.3-1.2.3 9.9.4-6.7.3 10.2.3 2.6.4-7.3.3-6.8.3 6.6.4-11.5.3-3.5.3 7.9.4 3.6.3 3.2.3-10.7.4 1.6.3-6.2.3-9 .4 3.1.3 2.2.3 9.6.4-10.4.3-1.9.3-10 .4 17.4.3 1.3.3-1.1.4-11.3.3 12.8.3-4.8.4 5.3.3-6.2.3 1.1.4-1.4.3-3.1.3-3.9.4.3.3 1.5.3 9.8.4-16 .3 6.9.3.4.4-4.4.3 13.2.3 4.4.4 10.8.3-13.5.3 1.4.4 8.7.3 3 .3 13.1.4-19.6.3 18.8.3-7.5.4-7.4.3 4.3.3-3.6.4-6.9.3 7.3.3-1.5.4-7.9.3-9.9.3-3.9.4 8.4.3 1.5.3-7.7.4 1.2.3 3.5.3-5.8.4-8.4.3 9.3.3 15.2.4 1.7.3-8.5.3 2.3.4 10.5.3 6.3.3-18.1.4 20.6.3-6.2.3.8.4 3.8.3 3.1.3-14.4.4.3.3 5.2.3 10 .4-18.2.3 8.3.3 2.4.4.3.3-6 .3 7.5.4-8.1.3 10.8.3 9.1.4-6.9.3 13.8.3-7.6.4-.3.3-6.6.3 16.1.4-3.7.3-2.4.3 4 .4.2.3-7.8.3-11.5.4 5.8.3-.3.3 1.2.4-1.5.3-.4.3-19.3.4 4.8.3-1.8.3-14.1.4 18.8.3-18.7.3 16.2.4-15.3.3-5.9.3 3.2.4.6.3 16.1.3-10.4.4 6.6.3 9.5.3 6.1.4-18.5.3 7.8.3 4.2.4-.1.3 3 .3-18.1.4-3 .3 9 .3-1.6.4 15.7.3-19.5.3 16.8.4-12.9.3 10.1.3-4.7.4-6.2.3 19.4.3-5.2.4-6.7.3 5.4.3 17.5.4 2 .3-3 .3 8.4.4-6 .3 3.6.3 17.9.4-1.8.3 12 .3-2.4.4-10.4.3 10.8.3-1.9.4-18.5.3 15.3.3-6.7.4-13.4.3-1.6.3-1.1.4-7 .3 1.8.3-12.9.4 10.5.3.4.3-5.7.4-.2.3 1.6.3 9.7.4-1 .3-8.5.3-4.7.4 15.5.3-2.6.3-13.7.4 7.6.3 4.1.3-2.8.4-.9.3-12.2.3 3.1.4 3.9.3 1.8.3-6.7.4-.7.3 1.3.3-15.9.4 16.2.3-16.9.3 5.6.4 2.9.3 7.7.3-2 .4-3.3.3 13.3.3-1.3.4-3.2.3-6.2.3 12.7.4-3.4.3-12.3.3 7.3.4-15.8.3 7.8.3-4.1.4-2.7.3-3.4.3 3.2.4-1.6.3-17.6.3-5.5.4-7 .3-3.9.3-.2.4-8.8.3 23.7.3-14.7.4 5.4.3 6.7.3 9.4.4-11 .3 0 .3-.6.4 9.6.3 9.2.3 5.2.4 3.5.3.2.3-17.5.4 11.4.3 7.8.3-15.3.4-1 .3 2.8.3-10.4.4 1.1.3 14.7.3-4.4.4-9.4.3 4 .3 14.6.4.6.3-5.3.3-.2.4 9.3.3 7.2.3-3.7.4-7.9.3 13.5.3 2.2.4 1.2.3-10.4.3 6.9.4-11.4.3 15.8.3-9.2.4 3.3.3-9.1.3.4.4-5.1.3-4.7.3 6.4.4-10.5.3-10.1.3 6 .4-4.9.3-4.4.3 3.4.4-14.1.3 13.2.3-8.4.4 8.4.3 9.6.3 9.4.4-20.3.3 14.6.3 7.3.4-10.8.3-5.5.3 9 .4-3.1.3-7.6.3 7.8.4 5.1.3-15.4.3 4.9.4-3 .3 16.8.3 0 .4-11.9.3-3.2.3 8.5.4 11.5.3-12 .3 22.8.4-13.5.3 14.6M386.2 368.3l.3 6.3.4 4.3.3-.8.3-2.4.4-.2.3-7.4.3-2.8.4 6.8.3-13.3.3 7.3.4-9.4.3 10 .3-2.7.4-22.2.3 18.3.3-8.7.4-2.5.3 2.6.3-8.4.4 3.5.3-7.6.3-6.2.4 7 .3 15.7.3-.9.4 3.6.3-5.3.3-8.3.4 16.3.3-9.5.3 7.6.4-8.1.3-.8.3.9.4 6.4.3-3.9.3 10.8.4-18.6.3 17.2.3-1.4.4-1.6.3-18.9.3-2 .4 4.3.3 1.5.3-1.1.4-2.7.3 19.4.3-17.4.4 8.8.3 10.5.3-9.5.4 16.7.3-11.7.3 14.1.4-8.5.3 10.6.3-.2.4-10.3.3 10.9.3-7 .4 20 .3-1.6.3-2 .4-5.8.3-8.8.3 4.8.4 12.2.3-4.3.3-16 .4 17.8.3-13.2.3 16 .4-9.1.3.1.3 9 .4-2.6.3-8 .3-8.7.4 21.3.3-15.2.3 5.6.4-7.2.3 5.2.3-9.6.4 2.4.3 5.3.3-8 .4-3.2.3 1.1.3-12.2.4 1.4.3-9.2.3-3 .4-13.4.3 15.1.3-1.2.4-6.6.3.4.3-5.8.4-10.1.3 9.6.3 14.6.4 13.3.3-.7.3-.6.4 9.6.3 0 .3 9 .4 6.2.3-6.4.3 1.4.4-11.7.3 18.8.3-18.6.4 15.3.3-19.2.3-.9.4 18.8.3-.3.3-17.5.4 6.8.3 4.6.3-5.2.4 5.2.3 13.6.3-14.3.4 21.8.3 1 .3-4.2.4 4.4.3-8.4.3 9 .4-17.2.3 11.9.3 1.2.4-11.2.3-6 .3-.8.4 13.6.3-18.5.3-2.1.4-1.2.3-6.5.3-4.7.4 13.8.3-13.6.3 9.1.4 2.4.3 4.8.3-5.6.4-.7.3-10.6.3 18.7.4-5.5.3 5.1.3-.1.4.3.3-1.9.3-13.1.4-5.4.3 9.9.3-8.1.4 3.4.3-12 .3 5.7.4 7.6.3-8.1.3-3.5.4-6.4.3-4 .3 5.1.4 6.9.3-16.1.3 12.8.4-10.8.3 4.4.3 8.6.4 10.4.3-7.6.3-5.9.4 19.5.3-10.5.3 4.2.4 11.3.3-4.5.3-2.1.4-6.2.3 7.7.3-7.6.4 2.3.3 4.5.3-.6.4-4.1.3-.9.3-2.5.4 2.9.3-4 .3 5.3.4-.8.3-3.5.3.4.4 2.8.3-.6.3.1.4 3.8.3-1.1.3 1.2.4.8.3 0 .3-3.6.4 4.2.3.5.3-3.8.4 0 .3 3.6.3-.6.4-3.1.3 4 .3-.7.4-1.5.3-5.6.3 2.1.4 2.1.3-3.8.3 3.2.4-2.5.3.5.3-.2.4.2.3 2.8.3-2.6.4 2.3.3-2 .3 4.5.4-5.1.3 2.5.3-.1.4-.2.3-.8.3 2.1.4 1.8.3-4 .3 3.6.4-5.6.3-.7.3 1.1.4-.5.3-.8.3 2.5.4.4.3-2 .3-4.3.4.4.3 3.2.3.6.4 3.8.3.3.3-.8.4-3.3.3 4.8.3 1.8.4-4.9.3 6.1.3-1 .4-2.1.3.4.3 1.9.4-.2.3.4.3-1.8.4-.7.3-.9.3-.2.4 3.7.3.1.3-3.3.4 4.9.3-5.2.3 2.9.4 2.4.3-1.1.3-1.7.4 1.4.3-1.2.3 3.7.4-2.8.3.8.3 1.6.4-2.7.3 6 .3-5.1.4.4.3 1.7.3-1.8.4-2 .3 2.5.3.5.4-3.9.3-.1.3-.4.4 4.1.3-5.1.3 1.8.4 2.4.3-1.3.3.1.4 2 .3-2.1.3.6.4 1.8.3-1.4.3 1.3.4.4.3.2.3 2.9.4-.4.3-4.5.3 1.6.4.1.3.6.3-.6.4-1.6.3 1.7.3-2.9.4 2.7.3-1.2.3 2.9.4-2.9.3 1.7.3-3.3.4 4.6.3-1.6.3 2.6.4-4.1.3 5.3.3-5.6.4 4.2.3-2.6.3 3.2.4-1.9.3 1.8.3-.7.4-.5.3.7.3-2.9.4 1.9.3-3.1.3-2.7.4 1.3.3-.6.3-4.1.4 1 .3 3.6.3-6.7.4 5.1.3 1.1.3-5.1.4 4.2.3.2.3-4 .4 2.3.3-1.1.3 5.9.4-3.5.3.4.3-1.1.4 2 .3-3 .3 5.8.4-1.9.3-3.4.3 3.8.4-.9.3-.2.3-1.5.4 1.6.3.8.3 1.4.4-1.4.3-1.4.3-2 .4 1.1.3 2.2.3 6.2.4-3 .3.5.3 1.7.4 13.3.3-11.1.3 11.4.4-8.4.3 3.7.3 4.8.4 4.5.3 4.4.3-3.9.4 4.9.3-6.8.3-19.2.4 7.5.3-2.5.3 6 .4-8.8.3 5.7.3-12.5.4 10.8.3-16.3.3.3.4 12.7.3-13.7.3-1.5.4 13.9.3-1.9.3 3.8.4-1 .3-1.8.3-6.5.4 5 .3 13.5.3-2.2M797.5 380.5l.4 20.8.3 1 .3-3.9.4 8.4.3-1.5.3-15.7.4 18.1.3-18.6.3-1.7.4 16.9.3-19.4.3 16.7.4-6.1.3-17.3.3 16.2.4-9 .3-4.8.3 5.2M832.2 366.2l.3.6.4 8 .3-12.9.3 13.3.4-12 .3 6.4.3 6.1.4-1.7M845 369.8l.3 1.1.4.6.3-1.2.3 3.4.4 2.8.3 1.2.3-2.3.4 2.8.3-1.4.3-.5.4 3.5.3 4 .3-.4.4.4.3 1.8.3-3.7.4 1.6.3 2.2.3-5.5.4 5.8.3-5.4.3 7.2.4-2.1.3-2.3.3 5.8.4 1.2.3 1.6.3-6.3.4 1.6.3 1.4.3 3.4.4-.3.3-1.5.3 7.6.4.2.3-1.6.3 3.4.4-3.6.3-3 .3.2.4-.7.3.8.3-.2.4 2.6.3 2.5.3-5 .4 5 .3-1.8.3.8.4-3.7.3-4.6.3-1 .4-1.4.3-.4.3-1.1.4-2.7.3-11.5.3 6.6.4-2.5M906 425.3l.3-1.6.4 10.7.3-9.5.3 11.5.4-6.2.3-4.8.3 7.1.4 4.3.3-5.2.3-10.3.4 4 .3 7 .3-12.1.4 1 .3-.2.3 6.9.4-1.4.3-13.6.3 5.8.4 13.8.3-7.6.3 2.7.4 8.4.3 2 .3-1.5.4.1.3 1.7.3-6.8.4.5.3-4.9.3 6.8.4-9.2.3-1.7.3 12.1.4-2 .3-15.4.3 5.7.4 5.2.3-6.4.3-9.5.4 6.6.3.1.3-5.2.4-8.3.3 7.5.3 7.7.4 1.7.3 10 .3-9.4.4-9.4.3 2.2.3.1.4 19.1.3-1.5.3-18 .4 1.3.3-6.1.3.3.4-3.5.3 2.2.3-.2.4 6.5.3-12.2.3 10.7.4-6.6.3 3.9.3-15.3.4 13.2.3-.6.3-8.6.4.6.3 7.9.3-4.1.4 3.6.3-2.9" stroke="#0a0ad8" stroke-width="2.5" fill="none" stroke-linejoin="round"/><path d="M526.9 367l.1-17.3.1 4.9.1 3 0-2.3.1-4.2.1-.3.2 1.7-.1-4.3.2 6.3.1 1.9.1 0 0 10.1.1-10.9.1-11.1.1 9.7 0 1.5.1 2.6.1-15.5.2 16.5-.1-16.5.2 2.4.1 13.1.1 2 0-9.3.1 6.5.1-1.7.1-5.3 0 4.7.2-3.6.1-16 0 18 .2-17 .2-1.3 0-6.1.1 3.7.2-6.2 0 16 .2-15.7.1 3.9 0 7.2.2-19.7.2 26.2 0-14.3.1 10.7.2 10.7 0-29.9.2-8.3.1 15.1 0 16.5.2-9.7.2.3 0-18.4.1 17.4.2-2.3 0-25.8.2 7.6.1-2.7 0 34.1.3-26 .1-17.1.2 17.1.1 27.7.2-25.8.1 30.3.3-3.3.1-8.7.3-12.2.3 24.3.3-2 .1 16.4.2 22.7.1 6.9.3-56.1.4 79.9.3-42 .3-21.8.4 92.5.3-68.3.3-19.7.4-7.9.3 69.1.3-19.5.4 27.9.3-6 .3 40 .4-111.1.3 52.4.3-16.4.4 48.1.3-80.9.3 95.8.4-59.2.3 4.8.3 2.7.4-46.7.3 44.3.3-3.2.4-57.6.3 67.6.3-.9.4-37.7.3 3.9.3-38.5.4-9.1.3 7.5.3 11.6.4 13.1.3 19.5.3 55 .4-94.9.3 29.8.3 24 .4 28.9.3-75.9.2-10.1.1 55.1.4-49.9.3 16.5.3 68.6.4-28.8.3-1.8.3-24.7.4-15.2.3 24.1.2 3.6.1-53 .3 74.8.1-7.5.3-2.2.3-27.1.4-37.9.2 26.2.1 13.9.3-36.2.4 64.5.3-27.8.3-16.8.4.3.3-35.5.2 70.9.1-23.1.4-26.3.3 3.7.3-2.4.3 39.6.1-50.1.3 57.2.3 5.8.4-31.2.3 8.1.3-40.4.3 31.5.1 21.8.2-70.9.1 6.5.3 16.1.3 68 .1-68.4.3 10 .2-26 .1 16.7.3 26.4.1 33.4.3-18.3.3-7.6.4-43.5.3 34.3.3 30.6.4-27.3.2 25.1.1-51 .2 37.8.1-33.3.4 32.9.2-33.7.1 2.2.3 10.1.4 39.6.3 5.5.3-79.5.4 34.7.3-7.4.3 16.4.4 8.7.3-25.1.3 12 .3-6.5.1 10.2.3-7.4.3 42.5.3-19.2.1-38.1.2 42.7.1-31.9.3 2.6.4-10.9.3 13.2.2 14.8.1-.4.4-36.2.2-12 .1 81.7.3-56.4.3 54.4.1-15.6.3-5.8.3 1.2.3 11 .1-38.7.3 40.5.3-34.1.4-18.9.3-8 .3 68.9.4-36.3.3-12.8.3-20.3.3 32.7.1 26 .2-66.2.1 47.4.3 6.9.4-9 .3-25 .2-3.7.1 51.8.3-38 .1-25.5.3 8.7.2 30.8.1 9 .4-12 .3 43 .3-48.6.3 29.7.1-14.7.2-1.4.1-34.5.3 13.1.4 13.8.3 1.6.3-29.8.4 49.7.3-24.1.3-39.8.4 20.6.3 54.4.2-38.6.1 42 .4-17.3.2-18.1.1 37.1.2-42.1.1 19 .4-15.5.3 9.5.3-6.3.4 5.9.3-22.9.3 16.6.4-44 .2 81.1.1-20.3.2-.6.1 3.6.3 16.2.1-3.6.3-72 .3 50 .3 13.6.1-62.2.2.9.1 34.7.2-20.5.1 14.7.4-2.2.3-12.5.2 38.2.1 8.9.4-50.9.3 41.6.2-48.5.1 49.5.4 3 .3 26 .3-38.2.4 15.7.3-26.3.2-5.9.1-17.2.4 34.3.3 44.1.3-60.4.3-6.6.1.1.2 58.9.1-41.8.3 5.7.3-27.3.1 57.1.3-11 .3-8.8.3-13.1.1 17 .3-21.8.3 7.4.3 13.8.1-9.2.2 2.9.1-22.1.3 9.8.4 37.1.2-37.2.1 15.9.2-12.6.1-21.5.4 23.3.2-7 .1-19.1.2 61.4.1-2.1.4-26.7.3-30 .2 4.5.1 18 .3 29.7.1-43.9.2 32 .1 5 .2 5.7.1-20 .3 25.5.1-58.1.2 39.2.1-18.9.2 8.6.1 12.7.4 2.8.2-18.8.1-11.1.2 13.3.1-.5.3-9.7.1 2.4.2-3.3.1-21.4.2 13.3.1 41.5.3-11.2.1-11.4.2-25.8.1 40.8.2-32.8.1 29.4.2-36.1.2 10.7 0-16.6.2-1.5.1 28.3.2-17.2.1 36.4 0-31.8.3 13.3.1 16.5.2-23.7.1 3.4.2-1.6.1-6 .2-2.8.2 18.4 0-17.3.1 26.3.2-24.4 0-4.6.2 12.6.1-16.5.2 6 .2 19.5 0-9 .2-12 .1 3 .2 3.5.1-12.3 0 15.7.2.4.2 12.5 0-1.6.2.3.1-33.1.2 18 .1 25.2 0-38.8.2-4.3.2 2.8 0 9.8.2-11.6.1 29.1.2-16.1.1 3.1 0 8.3.2-26.2.2 8.9 0 27.2.1.8.2-26.7 0 13.1.2 13.5.1-6.9 0-3.4.2-28.2.2 19.8 0-10.3.1-7.1.2 22 0 3.7.2 3.6.1-10.4 0-16.1.2 17.3.2-17.5 0 8 .1-6.8.2 7.2 0 24 .2-27.9.1 7.5 0-7.9.2 21.7.2-19.9 0 5.4.1 23.4.2-12.6 0 8.5.2 4.4.1-19.7 0 15.1.2-15.1.2-10 0 0 .1 5.1.2 2.6 0-4.7.2 14.3.1-2.3 0-7.4.2 20 .1-25.9.1 18.3 0-11.4.1 7 .1-18.7.1 30.2 0-8 .1-3.8.1-.3.2-3.4-.1 19.3.2-16.9.1 1.2.1-15.9 0 13.8.1 15.4.2-27.8 0 20.8.2-17.7.1 8.2 0 10.6.2-2.5.2 12 0-16.5.1-5.9.1 9.3.1-6.6 0 8.9.2-7.1.1 12.2 0-5.5.2-.7.1 1 .1 4.6 0-7.5.1 9.8.1-11.8.1 1.5 0-6.2.1-8.6.1 27.3.2-12.4-.1 3.8.2-11.4.1 11.2.1-3.8 0 11.3.1-13.1.1 0 .1 10.1 0-9.3.1-12.4.1 13.5.2 6.6-.1-11.6.2 12.6.1.2.1 2.6 0-6.1.1-5.2.1 9.6.1-12 0 10.2.1 6.6.1-12.8.2 11-.1-15.7.2-10.7.1 12.2.1-1.8 0-10.1.1 16.6.1-8.1.1 3.2 0-6.6.1-3.2.1 1.2.2 1.7-.1 9.4.2-3 .1 3.3.1 8.7 0-6.9.1 5.3.1-8.6.1 6.7 0-18.5.1 8.6.1-.8.2-3.1-.1-7.1.2 6.8.1 11.9.1-12.8 0 11.9.1-4.1.1-2.6.1 4.9 0 5.4.1-16.2.1-.8.2 7.7-.1-5.7.2-8.1.1 5.5.1-8.4 0 14.1.1 5.5.1-.8.1-5.6 0-10.8.1 2.3.1 15.1.2-7.1-.1-10.2.2 11.1.1-15 .1 16.7 0 2.8.1-11.9.1 4 .1-3.3 0 2.2.1-7.9.1-4.3.2 2.8-.1 3.9.2 8.1.1-2.5.1.8 0-7.3.1 12.4.1-16.4.1 3.5 0-2.2.1-3.3.1 5 .2 1.9-.1-.8.2 3.2.1-11.3.1 21.7 0-17.1.1 9.5.1 1.6.1-10.8 0 9.8.1-.8.1 4.9.2-4.3-.1-6.4.2 9.1.1-2 .1-2.9 0-.1.1-10.6.1 5.1.1.4 0-5.9.1 10.1.1-2.3.2-2.9-.1-.8.2-1 .1 12.4.1-13 0 5.9.1-2.8.1-2.1.1 1.4 0-.8.1 6.4.1-1.2.2-2.8-.1 1.2.2-1.3.1-5 .1 15.8 0-12.1.1 7.2.1-6.2.1-1.4 0-9.3.1 13.4.1-2.7.2-4.8-.1-.1.2 13.1.1-13.7.1 6 0-1 .1-6.5.1-2 .1 1.7 0 10.3.1 1.4.1-1.7.2-10.7-.1 14.7.2-10.7.1 5.7.1 0 0-4.3.1-3.1.1 2.6.1-1.1 0 8.6.1-3.4.1 6.8.2-5.4-.1-5.1.2-.2.1 3.7.1 2.4 0-2.1.1-.5.1-6.6.1 10.9 0 10.7.1-11.8.1-6.9.2-3.5-.1 14.5.2-8.6.1 2.9.1-1.8 0-2.4.1 13 .1-.2.1-.2 0-6.4.2 12.2.1-25.5 0 9.1.2 2.8.2 4.5 0-8.8.1 5.6.2 16.2 0-12.9.1-7 .1 15.1.2-25-.1 9.6.2 3.4.2-7.8 0 9.5.1-9.7.2 26.5 0-.1.2-18.3.1-1.1 0 4.9.2-9.1.2.9 0-2.2.1 8.7.2-4 0 9.9.2 17.9.1-21 .2 1.7.2-20.8 0 26.1.2-5.2.1-.1.2-12.3.1 12 0 19.3.3-15.1.1 5 .1 15.9.2-25.4 0 21.3.2-21.2.1-23.5.2 48 .2-26.3 0-2.9.1-3.9.2-7 0 13.7.2 5.5.1 12.3 0-7.5.3 8.5.1 6.4.2-14.3.1 22 .2-6.2.1-11.6.3-13.2.1 18.1.2-4.8.1-40.4.2 45.3.1-9.9.3-30.1.1 48.6.2 1.4.1-38.2.2 22 .1-18.1.3 7.7.1 22.6.2-7 .1-6.5.2-.6.1 10.6.3-43.1.1 45.7.2-25.9.1 2.4.2 12.2.1 12.3.3-16.4.1-.9.2-20.6.1.9.2 36.1.1-31.6.3 16.9.1.3.2-38.6.1 14.1.2-14.5.1 5.3.3 45.2.1-12.7.2-11.3.1-25.8.2 21.9.1-4.7.3 14.4.1-34.3.2 38.3.1-2.1.3-20.6.3-6.4.1 25.1.2-29.3.1 5.4.2 9.3.1-3.5.3 7.2.1 8 .2-3.8.1 5.1.3-22.5.3 17 .1 30.9.3-53.5.2 3.8.1 21.3.3-16.9.1 35.9.2-2.3.1-18.2.2-8.5.1 8.5.3 40.7.1-7.6.3-36.5.2 1.8.1-22.6.3 16.9.1 3.6.2-.4.1-2.2.2-9.1.1 61.6.3-42.8.1-19.6.2 48.8.1-22.1.3-17.4.4 16.6.2 22.2.1-26.6.3 30.6.3-37.3.1 20.9.2 20.2.1-30.3.3-11.8.3 1 .1-7.3.2 14.6.1 7.8.2-12.9.1 32.4.3-7.2.1-39.2.3 58 .3-30 .3 5.2.1 8.6.3 7.8.2-1.6.1-48.1.3 29.1.1 23 .3-1.5.2-22.1.1 17.8.3-49.7.1 5.7.2 19.6.1 14.7.2-32 .1-6.1.4 29.4.3 16.4.3 16.9.4-46.6.2 8 .1 8.7.2-27.2.1-9.4.3 33.8.1 4.1.2-2.5.1-4.2.2-1.6.1-14 .4 34.7.2-28.4.1 43.8.2-53.7.1-1.1.3 16.8.1.8.2-17.2.1-9.4.2 40 .1-21.3.3 5 .1-20.8.2 18 .1-11.8.3-6.5.3-1.6.1 22 .2 15 .1-8.1.2-2.7.1 16.1.3-21.5.1-19.2.2 28.2.1 1.4.2 8 .1-17.2.3 19.3.1-20.4.2-7.4.1 24.4.2 17.2.1-56.4.3 55.1.1-1.5.2-41.8.1 23.7.2 9.5.1-7 .3 18.4.1-22.2.2 11.7.1.3.2-11.4.1-16.7.3 9.9.1 23.1.2-7.9.1-6 .2 3.6.1-15.3.3-4.8.1-5.3.2-4.2.1 21.7.2 8.4.1-3.9.3-22.8.1 23.1.2-29.1.1 52.1.2-25.4.1 7.6.3-34.4.1-1.8.2 25.2.1 9.1.2-10.1.1-1.5.3 31.9.1-33.3.2 14.9.1-35 .2 31.1.1-14.7.3-1.6.1-.5.1 21.9.2 2.5 0-21.9.2 32.1.1-19.5.3-10.3.1-.3.1-11.2.2 10.1 0 4.3.2 16.8.1-36.4.3 29.3.1-12.1.1 6.9.2-24.4 0-.5.2 32.1.1-21.9 0 15.7.3 5.9.1 1.6.2-3.6.1-6 .2-25.4.1 23.1.2-24.1.2 10.6 0-16 .2 37.5.1-.5.2-9.1.1-6 0-20.1.2 25.9.2-17 0 24.8.2-14.5.1.2.2 16.3.1-26.5.3 24.9.1-9.3.2-5.4.1 17.4.2-21.6.1-3.7 0 8.5.3-22.9.1 17.3.1.8.2-5.1 0 2.9.2 5.6.1-18 0 19.7.3-14.7.1 16.1.2-13.9.1 14.8.2-26.3.1 19.6 0 6.3.2-14.9.2 4 0 2.4.1 24.6.2 2.4 0-37.8.2 9 .1 10 .3 14.9.1-1 .1-27.9.2 25 0-14.9.2 7.2.1-11.4 0 9.5.2-15.9.2 28.9 0 2.1.1-2.5.2-10.4 0 .2.2 15.4.1-17.5.2 9.3.2 1.3 0 3.4.1-9.8.2-3.8 0-6.3.2 9 .1-13.3 0-3.7.3 30.2.1-19.7.2-10.1.1-6.3.2 31.7.1-17.4.2-7.6.2 13.6 0 16.6.1-6.2.2 4.9 0-26.2.2-4 .1 21 0-12 .3 15.2.1-22.3.2 20.2.1-10.8.2 17.3.1-37.6.3 13.3.1 5.6.2-12.8.1-1 .2 8.7.1-2.2 0 7.5.2 11.7.2-4.7 0-9.9.1.6.2.5 0-5.2.2 21 .1 0 0 6.2.2-28.5.2 15.9 0 5.5.1-29.5.2 15.9 0 8.3.2-3.3.1 5.4 0-25.6.3 23.9.1-16 .2 1.3.1 11.2.2-11.2.1 20.8.3-11.6.1-11.3.1-18.9.2 1.9 0 7.3.2.3.1 14.6.2 13.8.2-36.2 0 11.6.1-1.7.2 4.9 0 3.3.2-7 .1.7 0 15 .2-23.3.2 26.2 0-13.2.1 2.6.2 5.9 0 5.4.2-20.2.1 24.8 0 2.2.3-8.1.1-2.7.2 1.1.1 4 .2-12.1.1.1 0 10.7.2-.5.2-2.6 0 9.5.1-9.4.2-17.3 0 14.5.2-13.6.1 6.3 0 3.8.2 11.6.2-12.2 0-7 .1 17.3.2 6.2 0-34.3.2 1.3.1 34.3 0-20 .2-5.5.2 1.5 0-2.6.1-6.7.1 22.1.1-15.4 0-11.1.2 36.4.1-16.2 0-3.2.2 3 .2 7.6 0-3.2.1-14.3.2 8.6 0 2.2.2 12.9.1-30 0 23.6.2-8.4.2-10.9 0 12.4.1 4.3.2-1.1 0-13.1.1 20.1.1-19.7.2-6.4-.1 14.9.2 8.9.2-11.4 0-.7.1.6.2 12.8 0-29.3.1 16.1.1-.7.2-10.3-.1 1.5.2 2 .2 9.1 0 2.9.1-7.4.1 20 .1-11.4 0-9.4.2-3.5.1.1 0-10.7.2 8.3.2 16.4 0-14.8.1 24.4.2-13.4 0-4.3.2-2.9.1 16.3 0-18 .2 12 .1-16 .1 14 0-2.7.1-2.8.2-5.1 0 12.9.2-1.8.1-2.1 0 6.1.2-14.9.2 9.1 0 3.5.1-14.4.2-3.4 0 14.1.1 9.2.1-24.6.2 1.2-.1 17.3.2-9.7.2-5.3 0 14.3.1-20.9.2 17.8 0 4.1.2-2.3.1 8 0 2.3.2-25.2.2 15.1 0 6.9.1 3.3.1-20.9.1 13.1 0-2.5.1 9.1.1 1.5.2-12-.1-2.6.2-1.3.2 13.1 0-11 .1-10 .1-2.6.1 26.5 0-20.7.2 1.5.1-13.3 0 4.3.2 28.6.2-3.6 0-29.3.1 16 .2 2.4 0-8.2.2 13.3.1-13 0 6.8.2 9.4.1-11 .1 9.2 0-19.4.1 12.8.2-3 0 13.9.2-29.2.1 11.8 0-6.3.2 7.1.2 2.6 0-9.6.1-.8.1-1.2.1 6.8 0 5.3.1-5.9.1-12.5.2 15.7-.1-1.9.2-13.2.1 22.3.1.9 0 3.9.1-4 .1-21.5.1 27.9 0-22.3.1 4.5.1-2 .2-2.6-.1.5.2-8.8.2 22 0 .8.1 2.6.1-9.5.1-15.4 0 5.5.2 6.8.1-13.6 0 24.1.2-10.6.1-.8.1-5.8 0-.7.1 18.3.1-12.3.1 6.2 0-8.2.1 15.5.1-5.2.2.1-.1-9.2.2-8.1.1 24.6.1-5.6 0 5 .1-11.1.1-10.5.1 21.8 0-2.4.2-14.5.1 3.7 0 8 .2-5.2.1-2.6.1-6.6 0-3.6.1 4 .1 11.1.1-3.1 0 9.4.1-11.3.1-4 .2 2.3-.1 11.8.2-7.3.1-15.5.1 22.1 0 3.2.1-11.2.1-2.3.1 3.3 0 5.5.1-3.3.1-4 .2 12-.1-18.5.2-.1.1 4.3.1 6.8 0-1.8.1-5.5.1 6.5.1.9 0-2.1.1 4.4.1-7.1.2-11.1-.1-2 .2 21.4.1 1.9.1-11.3 0 10.9.1-14.6.1 8.4.1-16.8 0 2.8.1 14 .1-4.1.2 10.2-.1-13.6.2 5.4.1-1.2.1 5.8 0 5.1.1-22.5.1 17.6.1-11.9 0 12.6.1-12.6.1 14.8.2-11.5-.1 5.2.2-11.7.1 12.4.1-6.3 0-1.1.1 11 .1-18.8.1 21.5 0 2.8.1-19.4.1 5.4.2-2.7-.1.4.2-4.7.1 11.3.1.9 0 4.7.1-9.5.1-4.5.1 11.5 0 1.5.1-11.2.1 1.6.2 1.4-.1 13.1.2 1.4.1-15.5.1 13.2 0-13.2.1-1.2.1 13.6.1-2 0 4.7.1-15.9.1-1.3.2 5.1-.1 15.8.2-21.5.1 13.3.1-11.1 0 10.3.1-3.9.1 3.1.1 8.6 0 6.2.1-2.2.1-8.2.2-2-.1 12.9.2-1.1.1-23.8.1 1.6 0 6.1.1-8.1.2 10 0-6.3.1 20.6.1-23.2.2 8-.1 15.5.2-6 .2-15.9 0 16.9.1-8.6.2 16.9 0-3.1.2-4.5.1.9 0-13.5.2 1.2.2 9.7 0-17.1.1 13.4.1-12.3.1 24.6 0-5.7.2-10.2.1 27.5 0 3 .2-28.4.2-4.6 0 28.3.1-18.6.2 20.5 0-12 .2-8.8.1-4.6 0 1.1.2-1.6.2 12.1 0-18.5.1 4 .2 6.6 0-8.1.2 34.2.1-20.5 0 3.5.2 18.3.2-14.8 0-13.5.1 7.3.2 9.2 0-6 .2 15.4.1-29 .2.1.2 20.2 0 5 .1-12.7.2 5 0-8.4.2 16.9.1-13.7 0-12.8.3 29.4.1-29.5.1 32.3.2-3.1 0-11.8.2-3.1.1 18.7.2-11.6.2-26.8 0 17.6.2-12.5.1 17 .2-10.6.1 18.8 0-16.5.2-4.4.2 19.7 0-10 .1-14.1.2 13.4 0 .4.2 3.2.1-19.4 0 .9.2 10.2.2 21.9 0-23.1.1 3.4.2 7.1 0 4.8.2 8.9.1-18.4 0-9.6.2 19.2.1.9.1 1.7 0-26.3.1 4.9.1 12 .1-14.3 0 19.1.2 3.1.1-8.3 0-9.6.2-.8.1-3.4.1 7.9 0 10.9.1-13.3.2.5 0 16.6.2-8.1.1 3 0-17.3.2 13.3.2 1.5 0-9.7.1-7.7.1 21.8.1-3.5 0 3.9.2-18.2.1 7.9 0-.1.2 10.3.2 3.4 0-15.8.1-11.2.2 1.3 0-1.1.2 12 .1-2 0-8.1.2 6 .1 9.4.1-9.6 0 3.8.1 5.9.2-17.4 0-1.1.2 27.3.1-14.5 0-8 .2 12.3.2-8.9 0-1.3.1 16.8.1-14.3.1 4.9 0 .9.1 5.3.1-12.8.2 8.8-.1-8.9.2-3.9.2 3.8 0-9.2.1 7.5.1.7.1 13.7 0-14.7.1-11.5.1 7.2.2 14.4-.1-7.4.2 9.8.1-20.4.1 1.4 0 11.5.1 1.2.1-2.4.1.5 0-4.3.2 3.4.1 4.3 0-5.2.2-3 .2 13.4 0-5.4.1-10.9.2 5.8 0 3.3.1-18.2.1 8.8.2-4.8-.1 26.6.2-27.8.1 12.9.1 1.7 0 3.5.1-6.4.1 4.2.1-2.3 0 4 .1 6 .1-13 .2 1.8-.1-2.2.2-1.9.1 4 .1-5.2 0-9.4.1 18.9.1 3.5.1.1 0 3.3.1-15.9.1 14.2.2-.4-.1-7.6.2-10.1.2 14.6 0-7.3.1-8.2.2-3.8 0 10 .2 5.2.1-4 0 1 .2-19.4.1 15.5.1 16.5 0-.7.1-13 .2-9.4 0 19.6.2-21.9.1 16 0-.8.2-4.5.2-6 0 5 .1 13.2.2-2 0 .3.2-21 .1 14.8 0 10.6.2 4.1.2-27.8 0 13.6.1 5.4.2.8 0-15.6.1 13 .1 7.4.2 5.8-.1-1.5.2-18.8.2 11.7 0-7.4.1-6.4.2 4.7 0 12 .2 10.4.1-9.1 0-12.5.2-3.8.1 22.2.1-13.8 0-17.9.1 2 .2 10.8 0-4.3.2-7.1.1 1.3 0 9.6.2 24.3.2-19.4 0-8 .1 4.3.2 10.6 0 4 .2-24.8.1 7.7 0 19.1.2-10.3.1-13.5.1 17.3 0 14.7.1-19.4.2 10.8 0-7.4.2 8.4.1.6 0 5.4.2-.6.2-20.4 0 19.3.1-1.2.1-13.8.1-9.6 0 13.2.2 12.6.1 1.7 0-23.7.2 6.8.2-2.6 0-3.7.1 21.5.2-9.9 0 12.3.2-8.9.1 11 0-14 .2-13.1.2 12.4 0 3.5.1-.3.1 2.9.1-8.5 0-7.6.2-5.4.1 25 0-10.1.2 19.5.2-11.5 0-7.8.1 3 .1 6.6.1-3.8 0-9.9.2 22 .1-10.1 0-9.2.2 3.9.2-4.4 0-6.6.1 7 .2 6.9 0 8.9.1 1.6.1 3.6.2-25.4-.1 24.7.2-14 .2-.3 0-.7.1-6.4.2 7.1 0-6.5.2 19.6.1-27.1 0 12.2.2 18.3.2-28.8 0-.8.1-.8.2 16.3 0 1.5.2-15 .1 4.3 0 19.1.2-19 .1-.8.1-14.1 0 22.9.1-13.4.1 9.2.1 11.6 0-31.6.2 8.1.1 24.7 0-6.4.2-15.6.2-5.5 0 9.6.1-3.4.2 13.2 0-3.4.2-2.8.1 12.7 0-30.3.2 7.9.2 23.2 0-25.8.1 25.9.2-2.9 0-1.4.2-12.1.1.8 0-1.7.2-7.5.2-1 0 2 .1-6.1.2 1.4 0-10 .2 19 .1-2.9 0 4.3.2-.7.2 14.4 0-19.5.1 2.1.2 13.6 0-9.2.2-7.1.1-7.8 0 3.3.2-4.3.2 16.5 0-19.2.1 18 .2-23.4 0 17 .2-2.1.1-8.4 0 4 .2-7.8.1 30.6.1-22.2 0 18.4.1-5.6.2-8.3 0 16.1.1-4.8.1-19.6.2 1.6-.1 21.5.2-18.8.2.3 0 8.8.1 12.2.2-10.7 0 16.8.2-32.2.1 29.8 0-13.7.2-8.3.2 8 0 1.3.1-6.4.2 12.3 0-.7.2-6.5.1 17.9 0-7.9.2-22.1.2.2 0 31.2.1-13.1.2-14 0 21.2.2-8.7.1-8.1 0 8.5.2-6.1.2-2.2 0 10.6.1-.8.2 4.9 0-8.4.2-3.9.1-5.4 0 23.3.2-8.5.2 8.7 0-17.3.1 16.1.2-10.2 0 17.7.1-8.1.1-14.2.2 10.8-.1-14.7.2 31 .1-3.1.1-8.1 0-10.2.1 14 .2.7 0-15.3.1-5.8.1 17.2.2-10.1-.1 8.3.2 9.3.2-10 0 7.8.1-23.2.2-4 0 10.8.1 5.3.1 3 .2-6.4-.1 12.2.2-12.8.2 7.8 0-8.1.1 20.8.2-12.9 0-3.4.2-2.5.1.7 0-8.5.2-5 .1 18.8.1-11.9 0 10.2.1-1.2.2-3 0-5.3.1-1.6.1 15.1.2.9-.1 4.8.2-11 .2 4.2 0-8.2.1 12.4.1 4.1.1 1.9 0-11.5.1-16.1.1 17.2.2-3.9-.1 7.3.2-10.9.1-6 .1-5.2 0 3.5.1 8.6.1-2.7.1-1.3 0 2.9.1.4.1-5.6.2 14.6-.1 1.9.2-11.5.1 7.7.1 5.4 0-6.4.1-3 .1 6 .1 7.6 0 .8.1-17.1.1-7.3.2 24.9-.1-15.1.2 13 .1-22.1.1 11.8 0-8.1.1-2 .1 15.7.1-2.7 0-3.7.1 6.3.1-9.8.2-1.2-.1-.7.2 7.8.1-7.1.1 6.3 0 8.2.1-7.7.1 2.4.1-8.2 0-1.1.1 8 .1 9.6.2-18.1-.1 11.6.2 3.7.1-7 .1-2.5 0 2.6.1.7.1 1.1.1 7.9 0-2.8.1-13.7.1 5 .2-.3-.1 4.3.2-8.8.1 15.7.1-10 0-.3.1-3.5.1 8.3.1-2.5 0 4.1.1-.4.1-9.3.2 2.6-.1.8.2 4.1.1 8.5.1-12.5 0-1.3.1-3.3.1 14.8.1-11.3 0 4.2.1 8.5.1-13 .2-.1M803.9 386.1l.1 4.1.1-11.7.1 10 0-9.1.1 13.5.1-15.4.2 7.6-.1 2.4.2 5 .1-2.8.1-9.1 0 3.8.1-3.2.1-1.3.1 6.5 0 .5.1-5.3.1 3.1.2 1.2-.1-2.3.2-.5.1-8.7.1 1.4 0 2.4.1 10.2.1-8.6.1-6.1 0 7.4.1 7.9.1 1.4.2-14.4-.1 12.6.2-13.1.1 15.8.1-14.2 0-3.3.1-1.6.1 8.2.1-1.4 0 4.2.1-1.6.1-5.6.2 9.9-.1.2.2-3.6.1.8.1-8.6 0 10 .1-13.2.1 5.5.1-.2 0-.9.1 3.5.1-5.1.2 1-.1 2.2.2 9.9.1-18.5.1-1.8 0 2 .1 16.2.1-.2.1-4.4 0-6.8.1-5.4.1 5.1.2 2.7-.1-1.2.2-2.8.1 10.2.1-10.5 0 9 .1-12 .1 7.4.1-4.3 0 13.5.1-2.4.1-11.6.2 5.1-.1-7.2.2.5.1-1.8.1 4.9 0 2.1.1-2.4.1 4.2.1-11.2 0 6.5.1-8.6.1 10.9.2 2.3-.1.1.2 7.8.1-22.3.1 22.5 0-15.2.1 8.9.1 1.8.1-4.4 0 1.8.1-3.4.1 12.2.2-10-.1 4.7.2-3.4.1-1.8.1 4.4 0-10.6.1-.1.1-7.4.1 18.4 0-10.3.1-4.4.1 12.1.2 4-.1-10.7.2 4.7.1 8.5.1-11 0 2.5.1-5.9.1 5.9.1-7.5 0 7.9.1 7.4.1-1.5.2-.9-.1.3.2-.3.1-7.4.1.9 0 2.3.1-7.3.1 13 .1-8.1 0 8.9.1-19 .1 5.2.2 12.4-.1-15.8.2 1.2.1 9.7.1 7.8 0-3.8.1-6.1.1-7.7.1 9.4 0 .3.1 5.2.1-11.1.2 7.2-.1 12.1.2-17.3.1 9.8.1-7.3 0 2.2.1 4.9.1 1.4.1-12.3 0 .1.1 13.7.1-11.1.2 6.1-.1 9.7.2-7.1.1-2.9.1 4.2 0-6.9.1 2.1.1-9.4.1 2 0 11.7.1-1.1.1-8.4.2 8.6-.1-6.5.2 12.7.1-4.7.1-10 0 1.8.1-3.8.1 8.6.1 5.7 0-13.7.1 12.1.1-14.2.2 10.9-.1-3.9.2 3.4.1-7.7.1 4.4 0 15.1.1-12.2.1-.8.1 5.8 0-8.3.1-2 .1 12.5.2 1.7-.1-1.4.2-4.6.1-1 .1 1 0 12.4.1-8.5.1-7.6.1 2.8 0 2.2.1 2.9.1 8.8.2-1.4-.1-8.3.2-5 .1 14 .1 2.3 0-11.3.1-8.7.1 9.1.1-3.5 0-2 .1.5.1 3.9.2-.7-.1-10.2.2-2.9.1 24.2.1-8.6 0-13.4.1 9.4.1 11.6.1-8.3 0-11.7.1 9.1.1-2.2.2-.2-.1-9 .2 5.7.1 1.1.1 4.3 0 9.3.1.8.1-4.4.1 3.6 0-13.1.1-2.9.1-3.1.2 16.1-.1-10.4.2-1.1.1 3.3.1 10.1 0-1.2.1-16 .1 16.4.1-9.6 0-6 .1 16.4.1-15.7.2 6.1-.1-3.7.2 11.3.1-5.1.1-4.3 0-6.9.1 17.6.1-15.7.1 5.5 0-8.9.1-.6.1 5.1.2 6.5-.1-8.1.2-5.4.1 8.9.1 10.3 0-19.3.1 10.5.1 4.4.1 0 0-3.9.1 2.3.1 3.1.2-6.2-.1-11.1.2 22.7.1-7.2.1-14.6 0 11.6.1-12.1.1 22.1.1-12 0 10.4.1-1.8.1-9.5.2 7.4-.1-12.1.2-4.8.1 20.2.1-16.3 0 13.1.1 1.9.1-15.3.1 4 0-6.8.1 9.6.1 7 .2-17.9-.1 8.6.2 3 .1 5.9.1-9.3 0-.9.1-10.9.1 12.4.1-.8 0 8.5.1-8.2.1-11.3.2 20.6-.1-20.6.2 9.1.1-.7.1-6.9 0 2.8.1 3.5.1 7 .1-11 0-.2.1 1.6.1-4.1.2 1.4-.1.1.2 8.7.1-13.5.1-1.2 0 7.3.1-6 .1 5.5.1-7.2M865 381.1l.1-1.2.1-12.1.2 5.8-.1.1.2-7.3.1 4.5.1-2.4 0-7.8.1 7.4.1 8.1.1-14.5 0 19.3.1-7.9.1 8.8.2-21.2-.1 5.2.2 9.1.1-12.4.1 18.1 0-5 .1-2.7.1-11.6.1 13.1 0-9.8.1-3.2.1 11.1.2 1.1-.1-24.2.2 12.8.1-10.5.1 21.8 0-8.7.1-15.1.2 17.2 0-5.4.2 14.9.1-31 0 21.4.2 11.1.2-29.4 0 8.7.1 7.3.2-18 0 1 .2 19.3.1-11.7 0 6.5.2-3.5.2-13.5 0 11.4.2-7.5.1 4.1.2-6.2.1 10.6.2.9.2-8.6 0 15.1.1-20.4.2 31.4 0-38.7.2 18.4.1 3.3.2-11.3.2-2.9 0 21.5.1-4.6.2 7.7 0-21.3.2 17.9.1-1.7 0-3.2.2-1.1.2-20.8 0-8.1.2 32.1.1-10.2.2-4.5.1 11.6.3-5.2.1-5.4.1-9.2.2-5.8 0 16.7.2-19.7.1 4.4 0 11.1.2-15.8.2-2.5 0 28.5.1-33.6.2 20.1 0-9.2.2 6.5.1-17.6 0 19.5.2-5.1.1-3.1.1 4.1 0 3.5.1-2.9.1-16.9.1 10.7 0 9.6.2-8.5.1 14.4 0-14.2.2-5.8.1 14.1.1-.2 0 13.5.1-7.4.2-12.3 0 5.7.2-7.5.1 21.9 0-15.9.2 6.5.1-2.7.1-6.4 0 8.3.1-5.7.1 13.4.1-19.2 0 19.9.2.7.1-4.2 0-2 .2 1.5.2-23.6 0 13.8.1 14.7.2-5.4 0 3.2.2-11.4.1-11.2 0 32.8.2-5 .2-7.5 0 4.1.1 7.5.2.6 0-6.7.1 1.2.1-15.8.2-.1-.1 16.6.2-20.1.1 23.4.1-6.1 0 2.3.1-12.7.2 19.7 0-28 .1 22.2.1 3.3.2-21.3-.1-8.5.2 9.4.1 5.2.1-1.2 0 5 .1-.7.1-.6.1 5.3 0-5.6.1 8.8.1-4.7.2 2-.1 5 .2-13.6.1-6.6.1-5.6 0 20.2.1-17.4.1-5 .1 29.7 0 .1.1-15.5.1-11.3.2 22.5-.1.2.2-3.6.1-.9.1-13.9 0-1.6.1.7.1 2.7.1 2.3 0-.4.1 3.1.1 10.8.2 2.5-.1-.3.2-22.8.1 8.1.1-3 0 2.3.1.7.2 1.5 0-11.4.1 9.8.1-4.5.2 6.5-.1 4.7.2-3.1.1-2.8.1-12.2 0-1.2.1-1.3.1-.7.1 29.5 0-23.6.2 20.2.1-12.7 0 2.5.2-2 .1 9.9.1-6.7 0-7.2.1-11.2.1 29.6.1-6.6 0-8 .2-9.3.1 3.8 0-2.2.2 10.6.1-17.5.1 19.6 0-17.2.1.4.2 4.8 0 13.9.1 4.8.1-21.7.2 21.8-.1-6.6.2-13.6.2-7.4 0 27.4.1-15.8.2-7.8 0 18.6.1-11.8.1 6.3.2-6.7-.1-6.6.2 20.3.1-7.9.1-15 0 3.6.1 6.7.1-12.7.1 19.5 0 4.1.2-16.6.1 3.3 0-3.6.2 18.1.1-12.1.1-7.1 0 8 .1-12.5.1 5.3.1 2.6 0 6 .1-13.9.1 1.1.2 14.3-.1.2.2-18.3.1-3 .1 9.5 0 2.8.1-7.2.1 9.6.1 9.7 0-22 .2 14.6.1-15 0 11 .2 9.5.1-8.3.1-.9 0 3.3.1-8.7.1 2.2.1-1.1 0 1.2.1 15.2.1-18.2.2-13-.1 9.6.2-5.5.2 18.4 0 .3.1-1.4.1 6.8.1-13.3 0 4.6.1 1.6.1-14.5.2-.4-.1-4.3.2 27.2.1-21 .1 3.1 0-8.2.1 14 .2 11.1 0-5.2.1 10.3.1 4.3.2-22.3-.1 6.1.2 9 .2-5.6 0 6.3.1-12.2.2 7.7 0-16 .2 21.4.1-6.1 0 19.7.3-16.6.1-.8.1-13.6.2 16.5 0 14.2.2-24.6.1-12.4 0 23.6.3-9.7.1-9.5.1 24.9.2-17 0 12.6.2-3.2.1 10.5.3-8.8.1 11.6.2-6.7.1-1.1.2-7.3.1 15.4 0-1.6.2-3.9.2 1.9 0 5.3.1 14 .2-22 0 24.7.2-4.4.1 8.8 0-8 .2 3.6.2-8.4 0-6.3.1 23.3.2 1.9 0-5.9.1 5.7.1-21.6.2 17.2-.1.7.2-7.1.2-11.4 0 31.3.1-27.1.1-1 .1 15.6 0 2.9.1-5.9.1-6.1.2 27.6-.1-15.1.2-13.2.1 22.6.1-5 0-8.2.1 6.5.1-11.9.1 19.8 0-3.1.1 6.4.1-10.6.2 7.8-.1-7.6.2 9.7.1 10.9.1-5.9 0-6.3.1 1.5.1 4.8.1 3.6 0-4.7.1-6.4.1 16.2.2-16.1-.1 15.2.2-6.7.1-5.4.1 10.8 0-2.3.1 8.8.1-9.8.1-10.2 0 1.9.1 1.4.1 15.8.2 4.2-.1-4.9.2-5 .1-4.6.1 3.8 0 5.5.1 9 .1-17.8.1.7M931.3 397.2l.2 11.3.1-13.9.1 12.6 0-14.2.1-.3.1-3 .1 14.3 0-8.7.1-.6.1 2.8.2 4.6-.1-6.7.2.1.1-6.3.1 1.3 0 7.2.1-6.3.1 11.3.1-3.1 0-2.2.1-5.5.1 11.2.2-1.2-.1-9.7.2 5.9.1-6 .1-2.1 0-1 .1-4.7.1 15 .1-3.8 0-2.1.1-10.4.1 16 .2-9.4-.1-7.6.2 10.1.1 2.5.1 1.3 0-8.3.1-3.8.1 2.1.1 6.6 0-9.3.1-1.6.1 5.2.2 6.3-.1-16.8.2 18.2.1-8.3.1 1.4 0-6.3.1 13.8.1-22.7.1-2 0 14.2.1-9.5.1 5 .2 1.2-.1-2.2.2 1 .1 4.4.1-2.8 0-3.4.1-2.6.1 4.8.1-4 0-10 .1 3.2.1-5.3.2 7.9-.1 9.6.2-13 .1 16.9.1-9.7 0-8.8.1 15.3.1-20.4.1 15.7 0-9.5.1 6.3.1 1 .2-12-.1 14.3.2-17 .1 22.7.1-12.5 0-3.8.1 5.2.1-8.3.1-.4 0-9.7.1 5.9.1 3.5.2 5.3-.1-5.1.2-.3.1-2.2.1-1.6 0-6.8.1 23 .1-23 .1 5.3 0 4.2.1 4.5.1-3.8.2-14.9-.1-9.7.2 2.3.2 24.8 0-25.9.1 13.2.2-7.6 0-28.4.2 2.4.1-4.2.4 34.9.2-11.9.1-5 .3-69.6.4 45.2.3-8.6.3-13.4.4-26.1.3 32.5.3-39.8.4-40.6.3 55.7.3-38.7.4 28.1.3 18.4.3-40.5.4 34.6.3 32 .3-.6.4-63.6.3 23.7.2 51.3.1-32.8.4 23.3.3 10.2.2-1.1.1-7.4.3 3.2.1-6.7.2 6.3.1.8.2-27.5.1 36.3.3-5.3.1-1 .2 16 .1-1.1.2-13 .1 22.5.2-.7.2 10.8 0-5.9.2-2.9.1 5.3.2-5.9.1-.2 0 18.5.2-14.1.2-6.5 0 20 .1-9.6.2 2.2 0 .2.2 14.1.1-21.6 0 13.4.2-2.8.2-18 0 1.7.1 12.4.2-11.9 0 8.3.2 15.4.1-3.5 0-6.1.2-5.2.2 1.3 0-2.6.1 18.2.2-4.6 0 .5.2-8.5.1-.6 0-8 .2-1.5.2 27.4 0 1 .1 1.6.2-13.7 0 12.6.2-4.6.1-12.5 0-9.3.2 13 .2 14.1 0-1.9.1-9.3.2-.4 0-3.5.1 4.9.1-3.5.2-4.4-.1 2.2.2 6.8.2-2.2 0 12.7.1-1.2.2-1.5 0-11.8.2-1.1.1-4.7 0 23.9.2-23 .2 20.7 0 5.4.1 1.6.2-19.9 0 10.4.1-1.8.1 13.4.2-10.5-.1 4.9.2-20.3.1 14.5.1 1.1 0-11.1.1 16.5.1 7.4.1-15.1 0-3.6.1-7.4.1 21.2.2-6.4-.1-2.6.2-10.9.1 24.5.1-20.4 0 13.5.1 1.2.2-1.9 0-24.1.1 16.3.1-5.4.2-6.4-.1-6.9.2 3.2.1 18.9.1 1.5 0-15.4.1 6.7.1-18.1.1 1.7 0 12.1.2 3.9.1 6.8 0-23.8.2 2.8.1 19.7.1-8 0-3.6.1-1.8.1-4 .1 13.3 0-6.2.2 6.8.1-13.8 0 .9.2 1.2.2-4.6 0 11.4.1-6 .2 9.7 0-20.5.2 2.3.1 5.5 0 3.9.2 2.9.2 2.2 0-16.5.1-4.6.2-2 0 17.1.2-6.6.1-3.5 0 1.2.2-2.5.2 3.2 0-14.8.1 16.5.2 3.3 0-18.6.2 10.2.1 4.1 0-10.6.2 4.5.2-2 0-2.1.1 16.3.2-22.7 0 12.4.2 3.3.1-10.8 0 8.2.2 4.6.2-26.9 0 6.1.1 9.7.2-22.1 0 14.4.2 13.1.1 1.3 0-3.6.2-23 .2 19 0 9.5.1-3.9.2-16.9 0 15.8.2 5.6.1-18.2 0 0 .2 10.7.2-1.2 0-10.2.1 12.1.2 6.3 0-4.2.2 4.9.1-11.8 0 7.4.2-2.4.2 12.6 0 1.2.1.6.2-22.9 0 30.5.2-19.1.1 3.3 0-1.6.2 7 .2-7.1 0-.9.1 13.2.2-5 0-5.1.1 16.4.1-20 .2-5.5-.1 26.3.2-7.6.2 13.4 0-1 .1-20.1.2-8.7 0 9 .2 7.7.1 8.5 0-6.3.2-16.2.1 7.4.1 19 0 6.8.1-15 .2 2.3 0-14.7.1 15.7.1-5.5.2 1.9-.1-10.6.2 10.4.1-4.4.1 5.3 0-1.3.1 18.5.2-14.9 0 8.5.2-10.2.1 8.1 0-15.7.2 21.7.1.1.1.7 0-12.4.1 14.2.1-11.9.1-9.8 0 15 .1 8.6.1-10.9.2 6.1-.1-15.8.2 7.8.1 12.5.1-9.8 0 8.3.1-4.1.1-2.6.1-15.4 0 15 .1-1.5.1 9.1.2 5.9-.1-28.7.2 10.7.1 13.8.1-6 0-2.4.1-10.9.1 20.2.1-10.7 0-11.9.2 18.9.1-21 0 2 .2 13.8.2-12.3 0 18.1.1-15.8.1-3.2.1-1 0 9 .1-12.9.1 21.7.2 4.9-.1-12 .2 1.9.1 4.2.1-3.8 0-9.6.1 10.8.2-6.8 0 13.4.2-8.6.1-.1 0 8.6.2-5.3.1-21.3.1 24.2 0-24 .1 2.7.1 9.7.1 9.2 0-6.6.2.1.1 2.3 0 9 .2-15.2.1-9.5.1 4.1 0 17.7.1-7.2.1-8 .1 7.2 0-13 .1 21.2.1-21.9.2 12.5-.1 3.4.2-1.7.1-1.5.1 7 0 .3.1-16.9.2 14 0 3.1.1-11.9.1-8.5.2 12.4-.1 8.8.2-14.7.1-10.7.1 7.7 0-2.4.1-4.8.1 21.6.1-15.6 0-5 .1-3.6.1 4.8.2 3.9-.1 3.2.2 1.5.1 13.2.1-1.4 0 6.5.1 1.4.2-9.7 0-20.2.1 26.3.1-4 .2 0-.1-3.1.2 3.3.1-6.4.1 9.5 0-1.1.1-15.2.1 3.2.1 16.7 0-10.9.1 4.8.1-4.3.2 9.9-.1-1.8.2-13.4.1-6.6.1 7.8 0-10.2.1 7.2.1 2.5.1-8.3 0 14.9.1 6.2.1-12 .2 13.1-.1-9.3.2-10.3.1.5.1 7.1 0 11.5.1-1.9.1-10.3.1 13.8 0-16.4.1 12.5.1-15.9.2 8.5-.1-15.2.2 13.6.1-11.4.1-2.9 0 9.1.1 9.5.1-7.8.1 8.1 0 4.3.1-16.7.1-1.2.2 20-.1-15.2.2-9 .1 22.5.1-7.4 0 1.3.1 5.1.1 2.3.1-19.7 0 16.5.1-14.9.1 1 .2 7.1-.1 6 .2 5.3.1-9.9.1-.1 0-1.2.1-.6.1.1.1 6.4 0-10.1.1 13.8.1-11.8.2 4.1-.1 12 .2-7.9.1-7 .1-4.4 0 18.1.1-1.1.1-9.2.1-5.6 0 5.1.1 5.4.1 4.5.2-10.3-.1 8.5.2 2.1.1-7.8.1-.9 0-.8.1-4.9.1 4.7.1-8.9 0 1.2.1 6 .1-6.8.2 19.7-.1-10.9.2-1.8.1-3.4.1-3.1 0 10.6.1-9.1.1 14.7.1-13.4 0-2.3.1 10.8.1-3.9.2 3.2-.1 5.8.2-5.1.1-6.1.1-1.6 0 1.7.1 6.8.1-7.7.1-1.9 0 11.2.1-2.4.1 3.1.2 3.4-.1-3.9.2-10.2.1 9.9.1-3.4 0 2.8.1 9.3.1-9.1.1 4.9 0-5.4.1-9.1.1 5.7.2-2.5-.1 13.2.2 2.4.1-4.4.1-11.5 0 7.6.1-3.9.1 14.2.1 3.3 0-11.4.1-5.3.1 5.7.2-2.5-.1-2.3.2-1.2.1 2.4.1 4.9 0-8 .1-6.6.1 9.7.1-7.8 0 1.6.1 7.7.1-2.7.2 2.1-.1 3.8.2-2.8.1-3.3.1 11.4 0-19.5.1 15.6.1 4.1.1-10 0-.1.1 1.7.1-7.2.2 3.4-.1 9.2.2-10.5.1 8.8.1-6.9 0 3.2.1 10.3.1 1.4.1-2.7 0-4.6.1-1.8.1 4.2.2-3.4-.1-.6.2 4 .1-10.3.1 12.1 0-6.2.1-6.8.1 13.4.1-4.7 0-5.3.1 1.6.1-3.5.2 9.3-.1 7.7.2-17.6.1 3.4.1 8.2 0-7.8.1 2.4.1 10.1.1-9.2 0-6.2.1-2.9.1 7.8.2 7.6-.1-7.7.2 4.4.1-8.4.1 8.3 0-12.9.1 16.7.1 1.2.1-17.7 0 7.5.1 14.3.1-1.4.2-14.5-.1 7.8.2-6.8.1 4.1.1 2.2 0-3.7.1 3.9.1-14.5.1 6.2 0 .2.1 15.1.1-5.5.2-2.8-.1-4.7.2 10.1.1-8.3.1 3.8 0 8.3.1-19.5.1 7.4.1 12 0-6.3.1 5.3.1-15.1.2 10.9" stroke="#0a0ad8" stroke-width="1.2" stroke-dasharray="1.3 1.9" fill="none"/></g><g clip-path="url(#c2)"><path d="M143 595.7l.5.7.5-1.8.5 1.3.5-1.3.5.8.5-1.4.5.3.5.1.5 1.6.5-.7.5-.1.5-.5.5-.4.5.1.5-.3.5-.1.5-.4.5-.7.5-.2.5 2.1.5-1.3.5 1.2.5-.7.5-.8.5 1.5.5-1.2.5 2.9.5-.5.5-.2.5 1 .5.1.5.7.5.9.5-.9.5 1.4.5.2.5 1.9.5-.7.5.4.5.7.5-1.3.5 2 .5-1.3.5 1.5.5-2 .5 1 .5-.7.5 1.7.5-.3.5 0 .5-.3.5-.3.5.7.5.2.5 1.1.5.4.5-.5.5.4.5-.9.5 2.1.5-.4.5-1.1.5.5.5.9.5-.4.5.9.5-2.6.5.6.5-.2.5 1.6.5-.7.5-.3.5-.8.5.9.5-1.5.5.2.5.7.5.1.5.6.5-1.9.5 1.3.5.6.5.2.5-.4.5.2.5-1.4.5-.8.5 1.2.5-.2.5-.2.5-.9.5.2.5.6.5.4.5-1.1.5 1.1.5-1.6.5-.2.5 1.6.5-.6.5-.5.5-.3.5 1.7.5-1.1.5.9.5.8.5-.8.5-.4.5 1.7.5-.6.5.2.5.1.5-.5.5 1.7.5.3.5-.6.5 1.3.5-.5.5-.7.5 0 .5.6.5 1.6.5-.5.5-1 .5 1.1.5-.7.5 1.4.5.5.5 0 .5-.8.5.5.5 1.2.5.4.5-2.5.5.4.5-1 .5.7.5-1.9.5.3.5-.9.5.3.5-.8.5-.3.5.5.5-2.4.5 1.9.5-1 .5-.7.5.3.5-1 .5-.2.5-.1.5-1.4.5.2.5.8.5-1.1.5.5.5.4.5 1.1.5-.3.5-2.2.5.9.5-1 .5.7.5-.6.5.5.5-.8.5.5.5.1.5.8.5-1.3.5 1.2.5-.1.5-.7.5 0 .5-.4.5.1.5 1.1.5-1.9.5.6.5.2.5 1.3.5 0 .5-1.4.5.3.5 1 .5-1.5.5 1.3.5-1.8.5.6.5.9.5-.6.5-.6.5.7.5 1.1.5-2.6.5.7.5 1.1.5.1.5-1.7.5 0 .5 2 .5-1 .5.2.5.6.5.2.5-.6.5.4.5-1 .5.9.5.6.5-.9.5.5.5.3.5 1.2.5 0 .5 0 .5 0 .5-.3.5-.2.5 2.1.5.1.5-1.3.5.1.5-.2.5.8.5-1.3.5-.1.5.4.5 1.6.5.3.5-.8.5 1.7.5-.8.5.1.5.6.5-.6.5.9.5 1 .5-1.1.5.4.5 1.4.5.2.5 0 .5-.5.5.8.5.5.5-.4.5 1.6.5-.2.5.4.5-1.1.5.1.5.3.5-.3.5-1 .5.9.5-.9.5.2.5.7.5-.7.5-1.1.5.8.5-1.5.5.1.5 0 .5-.1.5-.3.5-1.2.5.7.5-.5.5-.7.5-.6.5 1.7.5-.1.5 0 .5-.5.5.4.5 1 .5-1.4.5-.8.5.1.5.8.5-.2.5 1.6.5-.8.5-.5.5.5.5.5.5-.8.5.4.5.7.5-1.2.5-.2.5.8.5.6.5-1.4.5 2.7.5-.7.5-.7.5.4.5-.7.5.2.5-.1.5-.5.5.8.5.7.5-1 .5.4.5-1.3.5 2.3.5-1.7.5-.3.5 2 .5-1.9.5 1.2.5-.7.5-1 .5 1.1.5-.1.5.4.5 1.1.5-1.4.5-.2.5 1.4.5-1.2.5.1.5 2.1.5-2.1.5.3.5 1.4.5.6.5-.8.5.1.5.5.5-.4.5.3.5-1.6.5 1.6.5-1.2.5-.2.5 1.8.5-2.2.5 2.4.5-.6.5-.4.5.5.5-.4.5-.9.5.7.5-1.1.5.9.5 0 .5.4.5.6.5-1.1.5-1.3.5.2.5 0 .5 1.1.5-1.2.5.7.5-.3.5-.5.5 1.3.5.7.5-1.1.5.7.5.4.5-.9.5-1.3.5 1 .5.1.5-.1.5.1.5-.3.5-.3.5.1.5.3.5.3.5-1.2.5.7.5 0 .5-1.7.5.8.5.2.5.3.5-.2.5.2.5 0 .5 1.4.5-.5.5-.8.5.4.5 0 .5-.3.5-.4.5 1.7.5-.3.5-1.7.5-.8.5 1.3.5-1.3.5 2.3.5-.3.5-.2.5-.1.5-1.2.5-.1.5-.6.5 1.3.5.2.5-.8.5.3.5 0 .5 0 .5-.4.5.6.5-.7.5-.2.5.6.5 0 .5 0 .5.2.5.5.5.5.5-.2.5-.5.5.9.5-1.5.5.8.5 0 .5-1.2.5.2.5 1.3.5.5.5-1 .5 1.1.5-1.1.5 0 .5.6.5-1 .5 1.8.5-.1.5-2.5.5 1.8.5-.6.5 1M386.3 604.6l.5.3.5-1 .5.3.5.8.5-.2.5.4.5-1.3.5.6.5-.6.5 1 .5-.8.5.1.5-.6.5 1.2.5-.1.5-2.6.5 1.5.5.3.5.8.5-.6.5-.7.5.2.5-1.4.5.8.5-.7.5 1.1.5.8.5-.9.5-.7.5-.5.5.9.5-.1.5-1.3.5 2.1.5-1.6.5.2.5 0 .5 0 .5-1.1.5.5.5.1.5-1.2.5 1.7.5-1.3.5.7.5 0 .5-.5.5.6.5.2.5.2.5-1 .5 1 .5-.3.5-1.4.5 1.9.5-1.5.5-.4.5.4.5-.4.5 1.6.5-2.2.5 2 .5-.8.5.8.5-1.4.5-.2.5-.4.5.9.5 0 .5.2.5-1.6.5.1.5 1.6.5.2.5-.8.5-1.1.5.1.5-.1.5 1.7.5-1.5.5.2.5.2.5 1 .5-.5.5-.7.5.3.5-.1.5-.4.5 1.4.5.4.5-.8.5-.3.5.9.5-1.2.5 2.2.5-1.3.5.6.5-.4.5-.8.5.3.5 1.1.5-.4.5 1.4.5-.5.5-.1.5 0 .5-.1.5.1.5 0 .5 1.4.5-.7.5-.7.5 1.4.5-1.6.5-.3.5 1.1.5-1.1.5-.1.5-.3.5 1.4.5.1.5-.9.5 0 .5.4.5 1.2.5-.8.5-.3.5.3.5-.3.5-.6.5.5.5-1.1.5 1.2.5-1.5.5.7.5.6.5-1.6.5 1 .5-.2.5-.3.5-.3.5-.6.5 1.1.5-.1.5-.3.5.2.5.8.5-.1.5-1.3.5.4.5.2.5-.3.5-.8.5.7.5-.9.5 0 .5-.8.5.7.5-.6.5.9.5-.3.5.5.5.9.5-.6.5-.6.5.2.5 1.4.5-.3.5.5.5-.7.5.7.5.3.5.1.5.9.5.1.5.5.5-1.1.5-.1.5-.3.5 2.4.5-1.7.5 1.3.5-.3.5.5.5.4.5-.5.5.1.5.2.5.6.5 0 .5.9.5-.6.5-.3.5 1.6.5-1.2.5 0 .5 2.1.5-1.4.5.8.5-1.1.5 1.5.5 1 .5-1.7.5.3.5 1.4.5-.5.5.7.5-1 .5.6.5-.2.5 0 .5-1.1.5 1.3.5.6.5-.6.5.3.5.2.5-1.1.5.7.5-.5.5-.2.5-.6.5.4.5.8.5 1 .5-1.4.5.8.5.5.5-.5.5.7.5-.7.5-1.2.5 1.2.5-1.8.5 2.1.5-.3.5-1.6.5.3.5.1.5.7.5-1.2.5-.1.5.5.5-.9.5.1.5-.5.5.8.5-.5.5-.2.5.3.5.1.5-.1.5-.5.5 1.2.5-.6.5.6.5-1.2.5-1 .5 1.1.5.3.5.2.5-1.8.5 1.8.5-.3.5-.5.5.9.5-1.6.5.8.5-.5.5.2.5 1.2.5-1.7.5.1.5.6.5-.7.5.2.5-1.5.5-.8.5 1.5.5-.1.5-1.3.5.2.5-.3.5.3.5-.3.5-.1.5-1.9.5 1.3.5-.9.5-.3.5.8.5 1.3.5-.1.5.4.5-1.3.5-.8.5 1.2.5.2.5.2.5-1.5.5 1 .5.8.5.2.5.6.5-.1.5-3.1.5-3.3.5-2.4.5-7.3.5-5.6.5-8.7.5-.3.5-.4.5 1.2.5-1.9.5 2.1.5-.6.5-2.7.5.4.5.4.5 1.2.5 1 .5-.6.5-2.4.5-.7.5-.5.5 2.4.5.5.5-4.8.5 2 .5-1.9.5-3 .5 1.6.5.7.5-3 .5-2.2.5 3.7.5-1.5.5-2.3.5.1.5-.1.5 1.5.5-1.5.5-2.6.5-1.7.5-2.6.5.6.5-2.7.5-1.3.5 1.6.5-2.9.5.6.5-4.2.5.5.5-1.4.5 0 .5 1.3.5-1.3.5.8.5-1.8.5 2.2.5-3 .5 2.6.5-2.2.5 5.3.5-4.1.5.5.5 1.9.5 1.7.5-5.1.5 1.4.5 1.8.5-.8.5 2.9.5-3.3.5.9.5-2 .5 1.2.5.3.5-1.3.5-1.3.5-.2.5 2 .5-.6.5 1.3.5-1.9.5 2.1.5 2.1.5-3.1.5-.7.5.4.5-1.6.5 4.9.5-5.4.5 2.8.5-1.1.5-.7.5 3.8.5-.7.5-3.2.5-1.4.5 3.5.5-1.4.5-2 .5-.7.5 1.1.5-.2.5-.5.5-.4.5 2.4.5-1.4.5-.8.5-1 .5-1.7.5 3.7.5-2.5.5.9.5 1.2.5-.7.5-4.7.5 6.3.5-.7.5-3.6.5 1.9.5-3.8.5 1.3.5-2.5.5-.1.5 2.1.5.5.5-4.8.5 5.8.5-4.1.5 4 .5-3.9.5 4.2.5-1 .5-2.9.5-.2.5 2.4.5-3.6.5 2.7.5-3.4.5 2.2.5-1.5.5 1.7.5-.6.5-.2.5 1.1.5-4.7.5 2.8.5-.5.5.9.5-7.4.5 5.2.5-4 .5-2.4.5 5 .5-.3.5-3.2.5.9.5 1.1.5-2.1.5 3.6.5-2.4.5 2.5.5-2 .5 1.1.5-2.5.5.8.5-.5.5 3.3.5-2.4.5 2.9.5 2 .5-1.8.5 1.2.5 2.5.5.5.5-1.9.5-2 .5.7.5 3.5.5.6.5 0 .5-2.3.5 4.2.5 2.5.5-2.1.5-1 .5 1.3.5 4.3.5-1.1.5-1.6.5 2.4.5-.1.5-.6.5 3.6.5-4.9.5 2.5.5 2.7.5-1.6.5 1.3.5-4.5.5 2.9.5-2.7.5 4.8.5-.7.5 1.7.5-1.4.5-3.2.5-.4.5 3.9.5.9.5.3.5 1.2.5-3.3.5-2.4.5 2.5.5.4.5-.4.5.4.5.3.5-3.3.5-1.9.5 5 .5-3.8.5-.1.5-1.9.5 2.3.5 1.8.5-2.1.5-.2.5 1.8.5 1 .5-.6.5-2.2.5-3.5.5 4.5.5 1.6.5-2.4.5-2.9.5 2.9.5-.5.5 1.8.5-5.8.5 2.7.5-.6.5-.1.5-1.4.5.8.5 4.6.5-4.6.5 3 .5-2 .5-1.4.5-1 .5.5.5.3.5-2.3.5.7.5 1.9.5-1.8.5-1.4.5 6.7.5-4.2.5 3.8.5-5.2.5 2.7.5-2.4.5-1.3.5-.7.5 2.6.5-4.7.5 3.3.5-3.5.5 3 .5-6.3.5 2.7.5-.7.5-.6.5-.2.5.9.5.7.5-2.9.5 1.5.5-3.6.5 1.9.5-.1.5-2.1.5 2.4.5.6.5-2.1.5-1 .5 1.8.5-2.1.5-2.1.5 4.2.5 1.2.5-.2.5 1.2.5-2.4.5-1.4.5 1.8.5 1.1.5-2.4.5 1.2.5.1.5-1.3.5 1.9.5-.9.5 2.2.5-4.4.5 4.1.5.3.5 2.3.5-.5.5-1.1.5 3.1.5.1.5-1.1.5-.7.5 2.1.5-.8.5.8.5 1.5.5-1.3.5 1.1.5.9.5-1.8.5 2.6.5-4.8.5 3.1.5-1.3.5 4.1.5-4.8.5.5.5-1.3.5 2.6.5-1.6.5-.7.5 7.2.5-2.5.5-.5.5 2.3.5-1.3.5.5.5 0 .5.5.5 0 .5 1 .5-2.1.5-.2.5 2.4.5-4 .5 6.3.5-1.4.5-2.7.5 4.8.5-4.3.5.5.5.7.5.9.5-3.1.5 3.7.5 1.7.5-1.5.5.2.5 1.5.5.7.5-1.8.5-2.7.5 1.4.5 2.4.5-1.3.5 4.4.5-3.9.5 4.6.5-4.1.5-.9.5-1.8.5 5.2.5-1.2.5-3 .5 2 .5 4 .5-.7.5-2.2.5.9.5 2.4.5-1.4.5 1.9.5-4 .5.2.5 2.4.5 1.7.5-3 .5 6.4.5-1.1.5-2.9.5-1.7.5-2 .5 2.4.5-.6.5-2.1.5 1.6.5-6 .5 5.5.5-3.9.5-2.9.5 1.3.5-2.5.5 4.1.5-2.9.5 3.2.5-4.7.5 2.5.5-4.8.5 2.8.5-2.5.5-2.3.5 1.8.5-.5.5.5.5.6.5-.7.5-1.3.5 2.4.5 2.2.5-3.3.5 2.8.5 1.6.5-3.6.5 5.3.5-.7.5-1.8.5 3.3.5-3.1.5 1.9.5-1.5.5-.2.5 2.7.5-1.5.5.9.5 1 .5-2.2.5 1.7.5 2.8.5-2 .5.1.5 2.9.5-3.1.5 3.3.5-.7.5 1.8.5-.3.5-.6.5 1.6.5-1.1.5 1.6.5-1 .5.9.5-.5.5.6.5 1.6.5-1.1.5-.1.5 2.1.5-.7.5-.8.5 2.1.5-.3.5-.2.5 1.2.5-.8.5-.5.5 1.6.5.4.5-.1.5 1.1.5 1.5.5-.8.5 1.4.5-.8.5-.9.5 2.4.5.1.5.2.5.6.5.1.5.3.5 1.9.5-1.2.5.6.5.4.5-.1.5 3 .5-1.9.5 1.3.5-.4.5 1.2.5.1.5 1.9.5-.2.5 1.4.5-1.2.5 2.3.5.2.5-.7.5-.6.5.4.5.2.5.3.5.2.5.7.5.2.5.6.5-.7.5-.1.5-.8.5 1.3.5-1.4.5.1.5-1 .5-.3.5-1.1.5 1.2.5-.8.5 1.2.5 0 .5-.2.5 1.5.5.2.5.5.5.9.5-.7.5-.6.5 1.2.5.7.5.9.5-.7.5.3.5-.4.5 1.2.5-.5.5-.4.5.4.5.6.5.9.5.8.5-.1.5.6.5 1.1.5-1.2.5 1.3.5.9.5-.6.5.8.5.9.5-.9.5-.4.5 1.5.5.9.5.2.5-.3.5.3.5-.2.5-1.2.5.4.5 1.4.5.5.5-.6.5.3.5-.3.5.4.5-.4.5.5.5 1.7.5-.8.5-.1.5 1.1.5-1 .5 2 .5 0 .5-.8.5.3.5.3.5.3.5.4.5-.6.5-.1.5-.5.5 1 .5.9.5-.3.5.2.5 1.6.5-.6.5.9.5-.2M846.1 587.7l.5-.7.5 1.4.5-.4.5-.8.5.5.5 1.3.5-1.3.5 1.2.5-.7.5-.1.5.7.5.3.5.7.5-.1.5.2.5-2 .5 1.4.5.2.5-.1.5.4.5.9.5-1.9.5 2.1.5.2.5-.8.5 0 .5.4.5.4.5-.4.5.8.5-1.4.5 1.2.5.6.5-.9.5 0 .5 1.3.5-.2.5 1 .5.2.5-.5.5-.9.5-1.4.5.3.5 1.9.5-1.9.5 2 .5-1.4.5-.9.5.4.5.4.5.7.5-1 .5.4.5 0 .5-.6.5 1.2.5-.8.5.3.5-.1.5-.6.5 1.4.5.4.5-.9.5.2.5-1.3.5.6.5.1.5.7.5-1.1.5 0 .5.5.5.7.5-1.5.5 1.2.5-.2.5.2.5 1 .5-.1.5-.6.5-.4.5 1.2.5.2.5.3.5.1.5-.2.5.2.5 0 .5-.9.5 1.2.5-1.6.5.6.5.7.5.1.5-.1.5-.7.5.1.5.2.5-.4.5 1.6.5-.3.5-.4.5 1.8.5-1.8.5 1 .5.6.5.6.5.5.5-.4.5-1.2.5 1.4.5 0 .5-.9.5 1.1.5-1.5.5.1.5 1 .5-.6.5.4.5-.4.5.3.5-.1.5-.5.5 1.7.5-.6.5-.4.5.2.5-1.4.5.4.5 1.2.5-1 .5 1.4.5-1.4.5-.3.5 1.5.5 1 .5-.4.5-.4.5.2.5.3.5 1.1.5-1.4.5 0 .5.2.5 1.5.5-1.9.5.8.5 1.1.5-1.2.5 1.4.5-.5.5 0 .5.9.5-.8.5 0 .5 1.1.5.1.5-.4.5 1.3.5-1.1.5 2 .5-1.5.5 1.3.5 0 .5-.2.5 1 .5-1 .5.7.5.1.5 1.1.5-.4.5-.3.5.7.5-1.5.5-.1.5-.3.5-.8.5 1.4.5-.8.5.4.5-.4.5-.6.5.6.5-.2.5-1 .5-1 .5 2 .5 0 .5-1.5.5-1.6.5.6.5-1.3.5 1 .5-.6.5-.5.5.1.5-1.2.5 1.2.5-.7.5-.5.5-2.7.5.8.5-.2.5-.9.5.1.5-.7.5-1.2.5-.7.5-1 .5.1.5-1.3.5-1.4.5-.1.5 1.2.5-2.3.5-1.6.5-.6.5 1 .5-1.7.5.7.5.7.5.9.5-.7.5-1.3.5.6.5.1.5 0 .5.6.5.3.5.1.5-1.1.5-.2.5.3.5 1.3.5-2.1.5.7.5-1.5.5.6.5.4.5-.7.5 0 .5.8.5-.4.5-.4.5.3.5.7.5-.6.5-.3.5 0 .5.6.5-.9.5.2.5 1 .5-.2.5-.9.5.1.5-.4.5-1.2.5 1.2.5-.6.5 1 .5-.6.5 0 .5.6.5.5.5-.8.5.6.5-.1.5.8.5-.1.5-1.4.5-.1.5.1.5-.2.5 1.8.5-.9.5.5.5-.3.5-.4.5.7.5-.8.5.9.5.3.5.1.5.7.5-.6.5-.6.5-.9.5 1.2.5-1.2.5.1.5.3.5 1 .5.3.5-.5.5 0 .5-.8.5 1.5.5-.3.5 1.5.5.6.5-.5.5.7.5-.7.5 1.5.5-.5.5.3.5 1.2.5-.6.5.1.5.8.5-1.3.5 1 .5.1.5 1.6.5-.4.5-.1.5 1.8" stroke="#000" stroke-width="2.2" fill="none" stroke-linejoin="round"/><path d="M143 781.5l.5-.5.5.9.5-.3.5.8.5.6.5-.3.5-.4.5 2.6.5-1.1.5.6.5 1.3.5.3.5 0 .5.4.5-.3.5.6.5-.8.5-.4.5 0 .5-.3.5-1.6.5 1.1.5.3.5-1.9.5-.3.5-.1.5-.2.5-.5.5.7.5-1.2.5 1 .5-.9.5 0 .5-.4.5-.2.5-.8.5.6.5-1.5.5.2.5-1.3.5 1 .5-.1.5.9.5-.6.5-1.6.5.9.5-.6.5-1.3.5.8.5-.6.5.7.5-.6.5.7.5-.8.5 0 .5 2 .5-2.3.5 1.4.5-.5.5 1 .5-1.3.5-.9.5.1.5.9.5-.2.5 1 .5-.7.5-.8.5-.6.5 2.4.5-.3.5.3.5-1.6.5.4.5 1.4.5-1.5.5.6.5-.6.5-.2.5.2.5-1.7.5 1.7.5-1.4.5 1.1.5 0 .5-.8.5-1.3.5 1 .5-.3.5.2.5.4.5-.8.5.1.5.1.5-1.7.5.2.5.6.5 1.1.5 0 .5-.3.5 0 .5.1.5-.9.5-1.8.5 1.8.5-1 .5.4.5.6.5-1.3.5-.5.5.3.5 0 .5.7.5.3.5-1.9.5 0 .5.3.5.1.5-.5.5-1.2.5 1.2.5.6.5.8.5-1.4.5.1.5-.2.5.1.5-.8.5.5.5-.9.5.5.5 1.3.5-.7.5.9.5.1.5-.4.5.7.5.2.5-.2.5 2.1.5.9.5.3.5-1 .5 1.6.5.1.5-.2.5 1.5.5-.7.5 2 .5-.3.5-.1.5 1 .5-.3.5.3.5.4.5-.5.5-1 .5.7.5.4.5-.7.5.2.5 0 .5 1.4.5-1.2.5-1 .5.4.5.3.5-.2.5-1.1.5 1.8.5-.2.5-1.4.5.8.5-1 .5.7.5.8.5-.3.5.5.5 1.1.5-1 .5-.4.5-.8.5.8.5-.7.5.6.5-2.2.5 1.8.5-1.1.5-.6.5 1.6.5-.9.5 1.5.5-.1.5-.2.5-1.8.5.7.5-.5.5.7.5-.8.5 0 .5 1.4.5-2.5.5 2.1.5-.5.5-.1.5-1 .5.8.5.5.5 0 .5-1.7.5 1.5.5-2.5.5 1.1.5-.2.5.7.5-1.8.5.7.5-1.3.5.4.5 1.8.5-.9.5-.3.5-.4.5.8.5-1.3.5-.8.5.7.5.4.5-.9.5 1 .5.4.5-1.2.5.7.5-.6.5-.4.5-.6.5-.3.5.7.5-.5.5-.6.5 1.4.5-.6.5-.9.5-.5.5-.4.5 2.1.5-1.1.5-.6.5-.4.5 0 .5.4.5.1.5-1.3.5.6.5.5.5.3.5 1 .5-1.7.5.1.5 1.5.5-2.1.5 0 .5 2.3.5-1 .5-.7.5-.3.5.6.5 1.3.5-.1.5-.7.5-.4.5-.1.5 1.8.5-.4.5-.8.5-.1.5.6.5.1.5.4.5.1.5.6.5 1.1.5-.3.5.4.5-1.1.5-.3.5-.4.5.1.5.9.5-.2.5-.6.5.7.5.5.5-.1.5.2.5-.3.5 0 .5-.3.5.7.5.4.5-1.4.5-.4.5.9.5.8.5-.5.5 0 .5.4.5.6.5-2.1.5 1.1.5 1.2.5.6.5-1.5.5-.6.5.3.5-.6.5 1.6.5-.8.5 1.5.5 0 .5-.6.5.3.5-1.3.5-.3.5.7.5.2.5-1.3.5 1.9.5-.3.5-.9.5 1.6.5-.8.5-.3.5.8.5-1.4.5 0 .5 1.2.5-.3.5-.2.5.3.5-.5.5.1.5 1.3.5-.1.5-.1.5-2 .5 1.4.5-1.4.5.8.5-.1.5-.6.5-.4.5 1.3.5-.7.5.3.5-1 .5.3.5.4.5.1.5.6.5-.9.5-.5.5.6.5-.5.5-.8.5 1.1.5.8.5-1.1.5-.2.5.4.5.3.5-1.2.5.1.5-.2.5-.1.5-.2.5.6.5-.4.5-1 .5 1.2.5-.6.5-1 .5 1.4.5-.3.5 1.2.5-1.2.5 1.3.5-.9.5 1.6.5-.4.5.7.5-1.2.5 1.3.5 0 .5.5.5-1.4.5.6.5.7.5.3.5.5.5-1.5.5.5.5.1.5-1.8.5.2.5-.2.5 1.2.5-.3.5 0 .5-.1.5.8.5-.9.5-.7.5.4.5.7.5 0 .5.8.5-.7.5.4.5-.1.5.9.5-1 .5-.5.5.6.5 1.2.5-1.3.5.5.5-1.3.5.2.5.2.5.6.5.1.5-.3.5.2.5-.9.5 1.1.5-.7.5-.1.5 1 .5.7.5-.7.5.4.5-.2.5 1.1.5-1.4.5 1.5.5-1.7.5 1.6M386.3 775.7l.5.7.5-.9.5 1.3.5-.9.5.8.5-.7.5 1.5.5-1.4.5.8.5-.9.5 1.6.5 0 .5-1.9.5 0 .5 2.6.5.2.5-1 .5.4.5-.5.5.2.5-.3.5.7.5-.9.5.1.5 1.5.5-1.7.5.1.5.1.5-.5.5 2.4.5-2 .5 2 .5-.9.5.4.5-1.1.5.5.5.2.5-.4.5 1.3.5-1.3.5.5.5 1.5.5-.2.5-.6.5.1.5.2.5-.8.5-.4.5 1.8.5-.9.5-1.4.5-.3.5.2.5.2.5 1.5.5.5.5.1.5-1.6.5 1.5.5-1 .5.4.5-.3.5-.4.5.2.5 1.2.5-.6.5.2.5-1.1.5-1 .5 1.6.5-1.1.5 1.9.5-2.6.5.7.5.4.5-.1.5-.8.5.4.5 1 .5-1.7.5 2.3.5-1.1.5-.6.5.6.5-.1.5 0 .5.3.5-.2.5.8.5.2.5-1.1.5-.6.5-.5.5 1 .5 0 .5.3.5.1.5 0 .5.4.5-1.5.5.7.5-.3.5.4.5-.4.5-.2.5.7.5-.5.5.1.5-1.3.5 1.2.5-1.3.5.6.5 0 .5-.8.5 1.1.5-1.7.5 1.1.5.1.5-1.2.5 1.4.5-.5.5 1.4.5-.5.5-.2.5-.8.5.6.5.8.5-.8.5.3.5.2.5 1.2.5-2.3.5 2.2.5-1.6.5.6.5 1.4.5-2.1.5 2.1.5-.7.5-.9.5 1.7.5-1.7.5 1 .5 1 .5.7.5-2.3.5 2.3.5-.7.5-1.1.5 1.7.5-.4.5-.1.5-.7.5 1 .5-.9.5.1.5.6.5-.1.5-.4.5-1.2.5-.2.5-.4.5 1.6.5-1 .5-1 .5.6.5.5.5-.6.5 0 .5-1.6.5.4.5-1.4.5.6.5-.1.5-.6.5.7.5-.5.5-.2.5 0 .5.3.5-.4.5.1.5-1.5.5 2.1.5-2 .5.6.5 1 .5-.4.5-.5.5.2.5-2.4.5.2.5.7.5-.4.5 0 .5-1.7.5.5.5-.9.5.3.5 2.1.5-1.2.5.4.5.1.5-.9.5-.1.5-.2.5.8.5 1.1.5-1.5.5 2 .5-.8.5.8.5-1 .5 0 .5.7.5-.6.5-.3.5-.3.5 1.7.5-1.3.5.8.5-.7.5.5.5-.3.5-.7.5-.3.5.3.5 1.5.5.4.5-.6.5.6.5-.1.5-.8.5.6.5-.4.5 1 .5-.9.5.2.5.1.5 1 .5-.7.5-1 .5.5.5.7.5-.5.5 0 .5 1.2.5-2.1.5 1.8.5-.5.5.7.5-.4.5.6.5-.7.5.2.5.2.5-.2.5 1.3.5-.9.5 0 .5.7.5-.4.5.3.5-.4.5-.2.5-1.2.5 2.2.5.1.5-1.3.5 1.1.5-1.1.5.4.5-.4.5-.3.5-.1.5.4.5 0 .5.3.5.4.5-.8.5 1.7.5-.7.5.8.5-.1.5-.7.5.3.5-.5.5 2 .5-1 .5-.5.5 1.5.5-.6.5-1.1.5.8.5-.5.5 1.2.5.5.5 0 .5.6.5-1.3.5-.2.5-.1.5 0 .5 1.7.5-.8.5 2.7.5 1.7.5 3.5.5 5.2.5 2.7.5 6.1.5 7.2.5 3.6.5-.2.5 2.4.5.1.5.3.5-1.1.5-.8.5 1.3.5.2.5-1.8.5.7.5 1.9.5-.6.5 3.5.5-1.8.5-.3.5 1.7.5-5 .5 2.2.5 3.6.5-3.6.5 1.9.5-.2.5-1.5.5 1.4.5 3.5.5.1.5-.8.5 1.2.5 2.7.5-2.2.5.6.5 2.5.5.2.5 2.4.5-1.9.5 1.2.5-.5.5 3.2.5.7.5-3 .5 2.7.5 1.3.5-.4.5.7.5-3.2.5 5.4.5-2.2.5-2.2.5 3.9.5 1.8.5-.9.5-1.3.5.8.5 2.2.5.1.5-.5.5-3.1.5 2 .5 1.1.5-1.4.5-1 .5.9.5-2.9.5.6.5 3.3.5 1.7.5-1.5.5-.4.5-.1.5.4.5-3 .5 1.6.5-2.6.5 4.4.5-3.8.5 1.9.5-1.1.5-1.1.5 3.1.5-1.2.5.7.5-1.3.5 2.4.5-1.1.5 3.2.5-1.2.5-1.4.5 1.5.5 1.7.5-.1.5.4.5-.7.5-1 .5 3.6.5-3.5.5 1.4.5 0 .5.2.5 3.2.5-3.4.5 2.6.5-4.4.5 6.8.5-3.3.5-.3.5 2.5.5-1.4.5-2.8.5 2.2.5 1.7.5.6.5-.6.5 1.4.5.5.5 2.7.5-4.6.5 2.1.5 2.9.5.2.5-1.2.5 1.7.5-5.1.5-.2.5 3.7.5-.6.5 2.2.5-3.2.5 3.8.5-4.4.5 1.2.5 4 .5 1.8.5-2.6.5 1.6.5-1.1.5.5.5.3.5-.1.5-.6.5 2.2.5-2.6.5.5.5-.4.5 3.6.5-1.7.5 2.4.5-.5.5-1.6.5-2.1.5 3.1.5-2.3.5.5.5 2.3.5 1.1.5 1.8.5-6.5.5 5.4.5-2.7.5-1.7.5 3.2.5 1.6.5-4.1.5-3.1.5.3.5 2.3.5-1.2.5 1.9.5-4.9.5 1.2.5-.8.5-.7.5-3.3.5 2 .5 1 .5-1.3.5-1.6.5 1.1.5-4.6.5 2 .5-2.3.5 4.5.5 1.5.5-2.4.5-3.1.5-.1.5 1.7.5-1.1.5 1.3.5.3.5-3.5.5 2.2.5-3.1.5 2.5.5-2.5.5.4.5 2.7.5-.4.5-.3.5-2.4.5-.1.5-1.4.5-.7.5 1.6.5 0 .5 2.5.5 1.4.5-.1.5-4.2.5 2.6.5 1.6.5-3.6.5 3 .5.6.5-.9.5-.7.5 4 .5-4.1.5 4.7.5-4 .5-2.2.5 1.5.5-.3.5 2.3.5.7.5-.7.5-.9.5 1.7.5-2.6.5-1.1.5 2.6.5-3.2.5-.2.5 0 .5 1.6.5-.7.5-.2.5.9.5 4.8.5-3.9.5-.5.5-.4.5.6.5 3.1.5-.8.5-1.1.5 3 .5-1.5.5 1.6.5 1.7.5.8.5 1.4.5-3.6.5-2.1.5 5.5.5-3.1.5 2.4.5 2 .5.6.5-1.2.5.3.5 1.1.5 1.4.5-2.5.5-.4.5 3 .5-.1.5-2.6.5 3.6.5-1.7.5 3.5.5-1.5.5 2.1.5 1.5.5-3 .5-1.2.5 4.2.5-2.1.5-3 .5 2 .5 1.3.5-1.1.5 1 .5-1.5.5 1.4.5.3.5 2.1.5-.8.5-4.4.5 1.9.5-.6.5 1.2.5-1.3.5 1.8.5-2.4.5-2 .5-.7.5 3.7.5.4.5-3.4.5 4.5.5-5.8.5 2.9.5.9.5 1.3.5-3.9.5 1.9.5 1.3.5-1.5.5-1.6.5-.4.5 2.4.5 1.6.5-2.5.5-.8.5-.1.5-1.5.5.4.5-1.5.5 2 .5-2.7.5-.1.5.3.5.2.5-.4.5 2.8.5-3.6.5 2.6.5.1.5-2.1.5-1.2.5 3.1.5-.5.5-4.1.5 2.5.5-2.6.5 2.2.5-2.2.5 2 .5-2.1.5-1.4.5 2.7.5.7.5-3.1.5.1.5 2.4.5.7.5-.8.5-4.9.5 4.5.5-2.6.5.8.5-2 .5.8.5-2.9.5 3.1.5.1.5.7.5-1.3.5.8.5-2.7.5-1 .5.1.5-1.1.5-.4.5 2.1.5 1.1.5.4.5-3 .5-1.2.5 2.9.5 1.5.5-4.5.5.4.5 3.2.5-4.8.5-1.1.5-.8.5 6.4.5-.1.5-4.5.5-.2.5 3.7.5-2.1.5-2.3.5 1.3.5-1.9.5 5.4.5-.9.5-3.2.5.4.5 1.4.5 2.5.5 0 .5-5 .5 5.3.5-4.7.5 6.1.5-4.7.5 2 .5 3 .5-.7.5 3.6.5-4.2.5.4.5.4.5 2.5.5 3.1.5-3.2.5.6.5.4.5.3.5 2.5.5.9.5.3.5-.3.5-.1.5-4.2.5.6.5 2.6.5-.3.5-3.2.5-.2.5.5.5 3 .5-1.5.5.3.5-.9.5-5.5.5 2.6.5-1.4.5 1.2.5-.4.5-1.7.5-.6.5 3.8.5-1.9.5 2.4.5-2.3.5-1.5.5-.1.5 1.5.5-2.1.5 1.2.5-1.6.5 1.3.5-2.1.5 1 .5-.2.5-2.3.5-.7.5.6.5-.9.5 1 .5-1.2.5.2.5-.6.5-1.1.5.1.5-1.1.5 1.4.5-1.5.5 0 .5-1.8.5.7.5-1.2.5.3.5-.5.5-.4.5.9.5-.9.5-.4.5-1.3.5 1.2.5-.9.5-1.6.5.9.5-.2.5.2.5-1 .5-2 .5-1 .5.1.5.3.5-1.9.5 1.7.5-1 .5-.1.5-1.1.5-.3.5.5.5-.1.5-.1.5-1.4.5-.5.5-.2.5 0 .5-.5.5-.8.5-.9.5-.6.5.8.5-.7.5-2 .5.8.5 1.3.5-2.7.5 1.2.5-1.2.5.3.5-1 .5 1.7.5-1.5.5-.7.5-.4.5.2.5.2.5.3.5-1.2.5 1.4.5 0 .5-1.1.5.3.5-.3.5-.4.5-1 .5 1.1.5-1.1.5-.9.5 1.1.5 0 .5-1.5.5.9.5-.3.5 1.2.5-1 .5 0 .5-.1.5.3.5.7.5-1 .5-1.8.5 1.3.5-1.3.5-.3.5 0 .5-.2.5-.5.5 1.4.5-.7.5-.6.5.1.5-.3.5.5.5-1.6.5 1.5.5-1.7.5.4.5-.6.5-.1.5-.1.5.2.5.5.5-.8.5-.2.5-.5.5 0 .5 1.1.5-1.9.5 0 .5.8.5-1.6.5.4.5-.3.5.5.5-.2.5.5.5-1.5.5-.7.5.9.5-1.2.5 1.2.5-1.5.5 1.7.5-2.7.5.5.5 0 .5.9M846.1 791.2l.5.9.5-1.6.5-.3.5.9.5-.9.5-1.2.5.4.5.6.5-.1.5.1.5.3.5-.7.5-.4.5-.7.5 1.2.5-.8.5.9.5-.8.5.5.5-.5.5-.7.5.3.5 1.2.5-.4.5-.3.5.7.5-2.2.5 1.6.5 0 .5-.9.5-.1.5.2.5-.6.5-1.1.5.9.5.5.5-.1.5-1.2.5 0 .5.8.5-.9.5 1.2.5.5.5.5.5-.9.5.1.5-.5.5.9.5-.2.5 1.1.5-1.6.5-.5.5-.7.5 1.8.5-.2.5-.8.5.6.5-.8.5-.6.5.5.5.7.5-.9.5.2.5-.2.5 1 .5-1.3.5 1.2.5.6.5-2.4.5 2.3.5-.5.5-1.3.5.8.5 0 .5-1.8.5 1.6.5-1 .5.7.5-1.1.5-.1.5 1.6.5-1.1.5 1.5.5-1.4.5-1 .5 2.5.5-.4.5-.6.5-1.4.5 1.7.5-1.2.5-.1.5-1.4.5 0 .5.7.5.7.5-1.2.5.9.5.2.5-1.8.5 1.6.5-1.4.5-.2.5.5.5.4.5-.5.5.1.5.2.5-1 .5.9.5-.4.5-1.3.5.9.5 1.3.5-1.4.5-1.2.5-.1.5 1.2.5-.1.5.2.5-1.2.5.5.5-1 .5 1.4.5-.4.5-.9.5.5.5-.2.5 0 .5.8.5-.9.5 1.5.5-1.8.5 1.1.5-1.5.5 2.1.5-2 .5 1.1.5.2.5-.6.5-.3.5.7.5.1.5.4.5-.9.5-1.1.5 1 .5-.4.5-.3.5-.1.5-.6.5.9.5.1.5-1.9.5.6.5.1.5-.2.5-.1.5-1.2.5.2.5-.5.5 1.2.5-1.1.5-.6.5 1.7.5-1 .5.5.5 1 .5-1.8.5 1 .5-1.1.5-.1.5-.4.5 1.2.5-.7.5.4.5.5.5.3.5-1.2.5 1.5.5 0 .5.8.5-.8.5 1.1.5.5.5-.8.5-.1.5.3.5 1.4.5-.3.5-1.1.5.6.5-.4.5.5.5-.6.5.9.5 1.5.5 1.5.5 0 .5.4.5 1 .5-1.4.5 1 .5 1.8.5.1.5-.3.5.1.5 1.9.5-.1.5.4.5 1.5.5 1.5.5-1.8.5 1.6.5.4.5.7.5 1.6.5-.2.5-.2.5 1.5.5 0 .5-1 .5.3.5.2.5-.9.5.7.5 0 .5-.1.5 0 .5-.2.5-.6.5.9.5.4.5-.4.5-.5.5.7.5 1.1.5-.2.5-1.3.5.1.5.9.5.6.5.1.5-.2.5.3.5.6.5-1.7.5 2 .5-1 .5.9.5-1.1.5-1.2.5 1.9.5-.5.5-.9.5 1.8.5-.1.5-1.2.5 1.1.5-1.8.5 1.5.5-.6.5-.7.5-.9.5 1.5.5-.8.5-.3.5.7.5.1.5-1.6.5.2.5 2.2.5-1.4.5.7.5.4.5-1.2.5-.7.5 1.5.5-.9.5.4.5-.3.5.1.5-1.2.5 1.8.5-.7.5-.2.5-.5.5.1.5.7.5-.2.5-.1.5-1.8.5-.4.5-.1.5 1 .5 0 .5.1.5-1.1.5 1.2.5-1.4.5 1.3.5.7.5-1.7.5-.7.5 1.3.5-1.1.5.8.5.1.5.2.5-1.8.5.6.5 0 .5-.4.5 0 .5-1.2.5.7.5-1" stroke="#e0000c" stroke-width="2.2" fill="none" stroke-linejoin="round"/><path d="M143 689.5l.5-.1.5.7.5-.8.5 1.4.5-.7.5.2.5.4.5.3.5-1.9.5 1 .5.3.5-1.2.5-.3.5.8.5.2.5-.2.5-.1.5.3.5.5.5 0 .5-.3.5 1.3.5 0 .5-1.3.5 1.1.5-1.1.5.8.5.4.5-1.6.5.9.5-.3.5.1.5.9.5-.8.5-1.2.5.8.5.1.5-.1.5 0 .5-.2.5.1.5.6.5.5.5.1.5 0 .5.3.5-1.8.5 1.8.5.8.5-1.9.5.5.5 1 .5.5.5-1.4.5 1.3.5-1.4.5 1.1.5-.5.5-1.2.5 1.2.5-.9.5-.4.5 1.1.5-1.2.5.3.5.2.5-.8.5 1.5.5-2.4.5 1.6.5-1.1.5 1.4.5.1.5.2.5-.2.5-.5.5-.7.5 1.3.5.2.5-.5.5.9.5-1 .5-1.1.5 1 .5.8.5.1.5-.1.5.3.5-.7.5 0 .5-1.3.5-.1.5 2 .5-1.8.5.3.5.3.5.7.5.1.5-.1.5.9.5-.9.5-.4.5-.5.5-.4.5 1.2.5 0 .5-.1.5.7.5.3.5-1.7.5.1.5-1.1.5 1.8.5.4.5.6.5-.5.5 0 .5-1.2.5-.7.5 1.4.5-.6.5-.8.5 1.8.5-.6.5-1.1.5 1.2.5-.7.5.2.5-.5.5.1.5.7.5.7.5-.7.5 0 .5.5.5-2.3.5 1.2.5.6.5 0 .5-.2.5-1.1.5 1.1.5-1.4.5-.2.5 0 .5-.4.5 1.9.5-.6.5-1.5.5.1.5.3.5 1.7.5-1.5.5.3.5.5.5.8.5.5.5-1 .5-1 .5.7.5 1.2.5-1.7.5 1 .5.4.5 1.2.5-.1.5-1.5.5.3.5.8.5.1.5 0 .5-.5.5-.8.5.7.5.3.5-.7.5-.8.5 1.9.5-.8.5-1 .5.4.5-1.1.5 1.4.5-1 .5 1.7.5-1.2.5.7.5-.2.5.6.5-1.6.5 1.2.5.3.5-1.2.5.3.5-1.2.5.5.5 1.3.5-1.1.5 1 .5-1.4.5-.5.5 0 .5.3.5 1.6.5 0 .5 0 .5-.2.5.3.5-1.2.5.4.5.5.5-.7.5.2.5.3.5-1.1.5 1 .5 1.4.5.2.5 0 .5-1.4.5.4.5.8.5-1 .5-.1.5-.3.5 1 .5-1.3.5 1.4.5.7.5-1.9.5.8.5-.8.5 1.4.5 0 .5-1 .5-.5.5.2.5.5.5-.1.5-1 .5 1.6.5-.6.5 1.2.5-.9.5-.2.5-.6.5.9.5-.9.5 1.3.5-1.7.5 1.4.5-.9.5.6.5 0 .5 0 .5.4.5-1 .5.6.5-.3.5 1 .5-.2.5-.4.5-.4.5.3.5-.6.5-.4.5 1.3.5 0 .5 0 .5-.7.5.2.5 0 .5-1.3.5 1.5.5-2 .5.4.5 1.2.5 0 .5-1.4.5.8.5.2.5-.7.5.3.5.7.5.9.5-.3.5-.1.5.6.5-1.1.5-1.2.5 1.7.5-1.2.5-.6.5-.6.5.5.5.8.5-.6.5.7.5-.3.5-.6.5-.7.5.1.5 1.1.5.2.5-.4.5-.1.5.2.5 1.5.5-2 .5 1.4.5-1.7.5 2.2.5-.1.5-2.2.5 1.1.5.9.5.1.5-1.5.5-.5.5 1.5.5-2 .5 1.2.5.1.5.1.5-.9.5-.3.5.5.5 1.2.5-2.2.5.5.5 1.6.5-.4.5-.6.5 0 .5 1.1.5-.1.5-.4.5.3.5.1.5-.5.5.7.5-1.2.5.9.5-1.9.5 1.9.5-1.8.5 1.8.5-.7.5.3.5-.8.5-1.2.5.3.5.4.5.6.5-.7.5 1 .5-.9.5-1.3.5 1.7.5.9.5-.9.5-1 .5 1 .5-.3.5-.5.5.4.5-1.3.5 1.3.5-.5.5.4.5-.9.5.7.5-.6.5.1.5-.6.5.1.5.8.5-.6.5-.8.5.6.5.1.5.4.5-.4.5.5.5.4.5-1.3.5 1.1.5 0 .5 0 .5-.6.5.4.5-1.1.5-.6.5-.3.5.9.5 1 .5-1.8.5 2.1.5-1 .5-.1.5.2.5.8.5-1.7.5 1.5.5-1.2.5.8.5-.6.5 1.2.5-1.2.5 1.4.5-.4.5-1 .5 1.5.5.6.5-1.3.5-.3.5 1.6.5-.9.5.7.5.3.5.5.5.4.5-2 .5.6.5-.9.5.6.5 1.4.5 1.4.5-1.3.5.3.5-.6.5-.9.5 2.1.5-.6.5.3.5-.3.5-.2.5.3.5.4.5-1.5.5 1.5.5.7.5-.1.5-1.9.5-.4.5 1.4.5-.5.5.9M386.3 689.1l.5.1.5-1.7.5 1.3.5-.3.5-.2.5 0 .5.9.5-.7.5 1.2.5-2.5.5.4.5.2.5.8.5-.4.5.1.5-.3.5.5.5-1.2.5.8.5.2.5-.2.5-.2.5-.9.5.8.5.2.5-1 .5 1.4.5.5.5-1.4.5.3.5.3.5 1.1.5-.3.5-.6.5-1.7.5.3.5-.2.5.4.5-.9.5 1.9.5-.8.5-.6.5-.6.5 2.1.5-.3.5-1.2.5 1.4.5.1.5 1 .5-.5.5-.2.5.9.5-1 .5.4.5-.8.5.5.5.2.5-.6.5 1.4.5-2.1.5.7.5.3.5-.2.5-.1.5-1.4.5 2 .5-1.2.5 1.5.5-1.4.5.3.5.2.5.1.5.4.5.2.5-1 .5.5.5.8.5.5.5-.6.5.1.5-1.1.5.2.5.6.5.1.5-.9.5 1.1.5-.9.5 1.1.5.4.5-.8.5-.2.5-.2.5 1.2.5-1.6.5.5.5 1.3.5-.2.5.1.5.1.5 0 .5-.8.5.1.5.1.5.9.5.4.5-.5.5-.1.5-1.6.5 1.2.5 0 .5-.5.5-.3.5 1.4.5 0 .5-1.4.5.6.5-.2.5.5.5-1.5.5 1.5.5-.2.5-.6.5-.5.5 1.5.5-.9.5.7.5-.4.5-.3.5.9.5-.4.5-1.2.5 2.2.5-.4.5 0 .5-.7.5.4.5-.4.5-.1.5-.2.5 1 .5-.1.5-1.9.5 1.2.5-.2.5.6.5-1.4.5.3.5 1.9.5-1.1.5.8.5-.5.5 0 .5.2.5.6.5-.5.5 1.1.5-1.2.5-.9.5-1 .5 1.1.5-1.2.5.8.5 0 .5-.6.5 1.5.5-.5.5.4.5-1.2.5.3.5.7.5-.4.5-1 .5 1.3.5 0 .5-.2.5.2.5.6.5-.4.5-.4.5-.4.5.9.5-.5.5-.1.5.6.5-1.2.5.6.5.1.5 0 .5-1.1.5 1.5.5-1.9.5 1.3.5-.4.5.2.5-.6.5.7.5.1.5.5.5-.7.5.7.5-.2.5 1.3.5-1.2.5 1.2.5.6.5-1.8.5-.2.5 1 .5 0 .5-.6.5.6.5.5.5.3.5-.5.5 1.2.5-.6.5-.9.5 1.7.5-.5.5-.1.5-1.2.5.4.5.2.5 1.8.5-.9.5-1.1.5 1.4.5-.8.5.9.5-1.2.5 1.1.5 1 .5-1.4.5-.2.5 1.2.5-.3.5.1.5.1.5.5.5.6.5-.2.5-.6.5.8.5-.9.5-.7.5 1 .5-.2.5-.7.5-1.2.5 1.1.5.9.5-1.3.5.7.5 0 .5-1.3.5.5.5 1.7.5-1 .5.8.5-.3.5-.3.5-1.1.5-.5.5 1.2.5-.3.5.3.5-.5.5-.4.5 2 .5-1.5.5 1.1.5 1.2.5 0 .5.6.5 1.2.5.1.5.3.5.2.5.9.5-.5.5-.3.5.2.5 1.4.5-1.3.5 1.9.5.5.5-.7.5 1 .5-.8.5.9.5 1.2.5.7.5.1.5-.1.5 1 .5.5.5.3.5.1.5-.2.5.5.5 0 .5.9.5 1.3.5-.1.5.3.5-4.9.5-.9.5-3.8.5-1.7.5-5.5.5.4.5-1 .5-4.8.5-3.3.5 2.5.5-5.6.5 4 .5-7.4.5 5.4.5-3.1.5-.6.5 2.9.5.2.5-.3.5-4 .5 1.9.5 1.2.5 2.6.5-.3.5 3.7.5-3.2.5 5.8.5-4.9.5 1.1.5-3.2.5 2.6.5 1.4.5-4.2.5-1.7.5 4.9.5-4.4.5.3.5-1.4.5 3.3.5-2.1.5 1.4.5-.6.5-4.6.5-.5.5 3.1.5 1.5.5-.4.5-2.4.5 4.5.5-4.5.5 1.3.5 2.7.5-1.5.5 1.3.5-3.6.5 1.9.5-.6.5 4.6.5-4.1.5.4.5 2 .5-2.9.5 4.1.5.2.5-3.5.5-.3.5 3.2.5-4.7.5 4.9.5-1.9.5 1.3.5-.5.5 1 .5.5.5-4.5.5-.1.5 5.9.5-2.7.5-2.2.5 2.9.5 1.3.5-1.8.5-.4.5.4.5-1.1.5 3.1.5-3 .5 3.2.5-4.6.5 2.3.5 2.5.5-3.1.5-.4.5 1.5.5-.8.5-.6.5 3.4.5-2.1.5 2.1.5.7.5-3.8.5 4.5.5 0 .5-2.4.5 1.2.5 3.6.5-1.2.5-1.4.5-.6.5 4.4.5-2.9.5-3.8.5 2.7.5-3.1.5 1.4.5 1.2.5-.4.5 2.2.5.7.5 1 .5-.2.5-1.5.5 1.4.5-.4.5-4.2.5 5.6.5-2.2.5 2.1.5-4.8.5 4.2.5-2.8.5 2.6.5-4.3.5 3.8.5-2.3.5 1.9.5-3.2.5.3.5 4.5.5-5.4.5 2.6.5-.7.5.4.5 1.8.5.9.5-2.1.5.3.5-.8.5 4.4.5-3.3.5-.4.5 3.8.5-2 .5-.8.5 3.4.5-4.2.5 4.8.5-1.3.5-1.9.5-2.4.5.4.5 3.3.5 2.2.5-4.4.5 3.3.5 1.4.5-6.1.5.9.5 3.6.5-3.5.5 1.1.5-1.4.5.5.5 3.2.5 1 .5-2.5.5 1.5.5-5.5.5 2.5.5.1.5.2.5 1.2.5.5.5.1.5 1.5.5-4.9.5 2.7.5-.9.5-1 .5 3.3.5-1.2.5-.8.5 0 .5 0 .5 1.2.5 2.3.5-6.3.5 5 .5-.5.5-4.1.5 3.2.5-.1.5-.2.5-2.8.5 6.3.5-5.2.5 1 .5 2.3.5 0 .5.3.5 2.6.5-3.3.5-2.7.5 3.5.5-2.4.5-1.7.5 3.3.5.9.5-.3.5 1.5.5-6.2.5 4.7.5-5 .5 1.2.5 3.6.5-3.5.5 1.7.5.5.5-2.3.5.6.5 1.5.5 1.7.5-3.9.5 2.6.5 2.7.5-4.1.5 2.7.5-4 .5.5.5 3.3.5-1.3.5 3.1.5.5.5-6.5.5-.1.5 5.6.5-7.4.5 5.9.5-6.5.5 3.2.5 3.3.5-6.7.5 1.6.5-1.5.5.3.5 1.5.5.3.5-.8.5.1.5-.7.5-.4.5 1.5.5 1.9.5-5.9.5 3.3.5-.7.5-.4.5.7.5.5.5-.6.5-2.5.5 5 .5-3.8.5 2.9.5 1 .5-3.3.5-.8.5 1.1.5-2.6.5 5.8.5-3.8.5-1.7.5 4.1.5-.5.5 1.8.5.6.5-2.6.5-.5.5 2.1.5-1.6.5 4.5.5-2.4.5-.6.5.3.5 0 .5 2.5.5-2.2.5 2.3.5.1.5-1 .5 0 .5.9.5-2.1.5.4.5-3.7.5-.2.5 1.1.5 1.8.5.8.5 2 .5-3.4.5 1.5.5 3 .5-.9.5-2.8.5 2.3.5-1 .5.5.5-1.1.5-2.2.5 4.6.5-3.3.5 1 .5-.4.5 3.7.5-.1.5-2.8.5 1.6.5 1.7.5-2.4.5 0 .5 1 .5-2.1.5-1.7.5 1.9.5 3.4.5-3.3.5 3.4.5-3 .5-.8.5.4.5.1.5 3.2.5-1.4.5-.9.5 3.3.5-4.9.5-.5.5-1.3.5 1.7.5 1.2.5 2.3.5-3.7.5-1.2.5 2.1.5 4.4.5-3.1.5 3.6.5-.9.5-3.1.5-.2.5.6.5-1 .5 1.2.5 4.4.5-4.3.5 3.6.5-2.2.5-1.9.5 5.2.5-7.1.5 1.1.5-1.2.5 5.2.5-.7.5-.8.5 2.7.5.4.5-1.8.5-3.6.5 1 .5 3.4.5-3.1.5 3 .5-1.7.5-1.6.5-.9.5 1.5.5.6.5-.2.5.1.5-1.4.5 1.5.5-.9.5 3 .5-.4.5-3.6.5-1.3.5 5.2.5-5.1.5 2.4.5 1 .5-2.8.5 1 .5 4 .5-3.6.5.7.5-.6.5 3.5.5-1 .5-1.6.5-1 .5 3.2.5-1.2.5-3.4.5.9.5 2.7.5.9.5-2.8.5-.6.5-2.3.5.1.5 7 .5-3.7.5 1.9.5-.1.5.2.5-5 .5-.4.5 5.7.5-1.5.5.3.5-.2.5-2.2.5.7.5 2.9.5-1 .5.9.5-3.9.5 0 .5 4.1.5-.3.5-3.3.5 4.2.5-.6.5.6.5-2.1.5 1.1.5-2.1.5 1.9.5-2.1.5 2.1.5.3.5-1.6.5-1.7.5 2.1.5 1.4.5.4.5-3.4.5 2.4.5-1.4.5 2.1.5-3.4.5 1.4.5-3.4.5 3.9.5 2.8.5-6 .5 4.3.5 2.9.5-3.5.5.9.5-1.1.5 1.9.5 1 .5 0 .5-5 .5 4.2.5-2.6.5-1.3.5-1.2.5 2 .5-.3.5.2.5-1.7.5 4.7.5.1.5-.8.5 1.5.5-1.6.5-1.4.5.9.5.4.5.8.5-.3.5-1 .5.8.5-.2.5-.5.5 1.2.5-.6.5-.2.5-.3.5-.8.5-.1.5 1.3.5-.5.5 1 .5-.2.5-.4.5.7.5-2.2.5.6.5-.3.5.4.5.8.5-.4.5-1.3.5.7.5.2.5.5.5-.7.5.9.5-.5.5 1 .5-1.6.5 1.1.5-.5.5.2.5.7.5-1.2.5.5.5.7.5.1.5.1.5-.2.5-.3.5-.3.5-.4.5.9.5-.6.5 0 .5.1.5.1.5.5.5 1.4.5-.6.5-.4.5-.6.5.6.5-1.1.5 1.2.5-.1.5-.4.5.8.5-1.7.5 2.7.5-.9.5.1.5.2.5-1.4.5.9.5 1.1.5 1.1.5.1.5.3.5-.8.5-.8.5-.1.5-1.1.5.5.5 1 .5-1.1.5.1.5 1.4.5 0 .5-1 .5.3.5.3.5-.7.5.6.5-.6.5.5.5.7.5-.6.5 0 .5.8.5.3.5-.6.5 2.2.5-1.4.5 1.3.5-1 .5 1.1.5-.3M846.1 691.8l.5 1.2.5-.6.5-.6.5.5.5-.2.5-.6.5.7.5 1.2.5-2 .5 1.5.5-.6.5 0 .5-1.3.5 1.6.5.3.5-.2.5.6.5 0 .5-.4.5-1 .5 1 .5-.2.5.9.5-.2.5-.9.5-.3.5.1.5.1.5.4.5-1.3.5-.5.5 2.7.5-2.2.5-.5.5 1.5.5-1.5.5-.9.5.6.5-1.8.5 1.8.5-1.7.5-.7.5-.6.5-.9.5.1.5.2.5-2.1.5 1.2.5-2.1.5.4.5-.3.5 1.5.5-.3.5-1.2.5.9.5-.5.5.5.5.4.5-.1.5 0 .5-1.1.5 2.3.5-.3.5 0 .5-.8.5-.5.5.7.5-.8.5.5.5.1.5-.5.5 2 .5-1.3.5.2.5-1.5.5 1.5.5-1.3.5 1.5.5-.1.5.9.5-.5.5 0 .5 1 .5-1.4.5 1.8.5-.9.5-.7.5.1.5.4.5.8.5-1 .5 1.7.5-1.3.5-.9.5 1.3.5-.7.5.1.5-.7.5 2.4.5-1.2.5-.2.5.7.5.6.5-.2.5-.8.5.7.5.1.5.5.5 0 .5-1.1.5-1 .5.7.5-.3.5-.1.5.5.5.3.5-.7.5-.4.5 1.2.5-.2.5-.8.5.8.5-.9.5.9.5-2.3.5.3.5-.5.5 1.2.5-.4.5-1.1.5 1 .5 1 .5 0 .5.3.5-1.6.5-1.3.5 1.8.5.4.5-2.2.5 1.1.5-.4.5 1.4.5-2.4.5.6.5 1.2.5-.6.5.1.5.9.5-2.2.5.9.5.9.5-.9.5-.8.5 1 .5.5.5.8.5-.4.5-.4.5.4.5-.3.5-.8.5.6.5.8.5-.6.5-.7.5 1 .5-.2.5.3.5.3.5.2.5-.5.5-1.6.5.4.5 1.1.5-1.1.5.5.5-.1.5.3.5-1.3.5 2.2.5.3.5.6.5-.6.5.2.5-.6.5-.5.5 2.2.5-1.2.5 1 .5-.6.5.8.5-.1.5.6.5.8.5.5.5.2.5 1.4.5-.3.5.4.5.3.5 1 .5-1.5.5.5.5.9.5-1.3.5.3.5-.5.5 0 .5-1.2.5.7.5-.9.5 1.3.5-1.9.5-.4.5 1 .5-2 .5.8.5 0 .5.9.5-.5.5-.5.5-.8.5.9.5.7.5-.7.5 0 .5.3.5.3.5-2 .5 0 .5.4.5.9.5-1.4.5 1.6.5-2 .5.7.5-.6.5 2 .5-.9.5-.2.5-.8.5.9.5-1.4.5 1.3.5-.6.5.6.5-1.7.5-.1.5 1.7.5.1.5-1.4.5-.6.5 1 .5-.3.5.4.5-.7.5 1.2.5-1.3.5.5.5 0 .5-.8.5.7.5-1.2.5.3.5-.1.5 1.7.5-.3.5-1 .5.7.5-.4.5-.8.5.4.5.4.5-.3.5.5.5-.3.5 0 .5-.1.5-1.5.5 1.2.5-1.5.5 2.2.5-1.1.5-1.2.5 1.2.5.3.5.1.5.2.5-1.2.5.4.5.5.5.5.5-1.1.5-.5.5.1.5.7.5-.1.5.3.5-1.9.5.2.5.5.5-.2.5 1.2.5-.7.5-.2.5 1 .5.1.5-1 .5-.2.5 1.3.5-1.1.5.6.5.4.5.2.5-1 .5-1 .5-.3" stroke="#10d010" stroke-width="2.2" fill="none" stroke-linejoin="round"/><path d="M143 691.3l.5-.4.5.4.5 1.5.5-1.9.5.6.5 1.3.5-1.8.5-.7.5 1.5.5-.5.5 0 .5 1 .5-.9.5.3.5.6.5-.6.5-.4.5 1.2.5-1.9.5 1.3.5.4.5 0 .5-1.2.5.5.5-.6.5 0 .5.8.5-.3.5 1.1.5-.7.5-.4.5.8.5-.9.5.6.5.3.5-1.3.5 2 .5-1.3.5 1 .5-.2.5-.5.5-.3.5 0 .5-.6.5-.3.5.5.5.5.5.5.5-1.2.5.7.5.2.5-.8.5-1.1.5 1.8.5.1.5-1.7.5.2.5 1.4.5-1.2.5 1.9.5-2.1.5 1.7.5.3.5-2.1.5.2.5.6.5.6.5-.7.5 1.1.5-1.6.5-.6.5 1.2.5 0 .5-.1.5 1.7.5-.4.5-.5.5-.4.5.4.5.1.5.4.5-.4.5.2.5-.5.5-.2.5-.3.5.7.5-1.1.5 0 .5 1.5.5-.8.5-.2.5.4.5 0 .5 1 .5-.2.5-1.3.5 1.4.5-.1.5-.8.5-.6.5 1.5.5-.4.5.1.5-.8.5-.7.5 1.2.5-1.3.5.1.5.5.5-1 .5.2.5.9.5.2.5.1.5.4.5-.7.5 1.1.5.3.5-1 .5-.3.5.5.5.3.5.5.5-1.2.5.9.5-1.6.5.2.5-.1.5 1.9.5-2.2.5 1.5.5.8.5-.7.5-.6.5.6.5-.7.5.5.5.2.5-.9.5 2.6.5-2.4.5-.2.5.7.5-.1.5-.8.5 2 .5-1.2.5 2.2.5-1.1.5-.6.5.8.5.1.5.3.5-2.2.5 1.3.5-.6.5-.4.5 1.4.5-1.4.5.5.5.3.5-.2.5 1.1.5-.7.5-.7.5-.5.5.7.5-.1.5 0 .5.3.5-1.8.5 1.7.5-1.1.5.8.5.1.5.8.5-1.3.5 1.9.5-2.1.5 1.1.5-.8.5-.3.5-.8.5 1.3.5-.3.5 1 .5-.2.5.1.5-1 .5-.3.5 1.8.5-.7.5-1.3.5 2 .5-1.7.5.2.5-.2.5.1.5-.1.5.2.5-.6.5.9.5 0 .5.3.5.3.5-.8.5-.8.5 1 .5.3.5.3.5.2.5-.6.5-.1.5-.8.5-.7.5.8.5.1.5.9.5-.3.5-.5.5-1 .5-.1.5 2.1.5-1.8.5 0 .5-.1.5 1.4.5-.8.5-.6.5 1.6.5 0 .5-2 .5 2.4.5-.8.5-1.1.5 1 .5.8.5-1.7.5.7.5-1.6.5 2.2.5-.2.5-1.4.5 1.1.5-.2.5 1.5.5-.1.5-.2.5-2.1.5 1.2.5-1 .5 1.1.5-.4.5.6.5-.2.5.3.5-.4.5-1.5.5 1.7.5-.8.5.3.5.4.5-.3.5-.2.5-.3.5.4.5-.9.5 1.5.5-1.5.5 0 .5.7.5-1 .5 1.2.5-.4.5-.1.5-1 .5 1.4.5-1 .5 0 .5 1.6.5-1.2.5 1.3.5-1.6.5 2 .5-1.1.5-.2.5.1.5-.3.5 1.2.5-1.4.5.5.5.8.5-.2.5-.8.5-.5.5.5.5 0 .5-.1.5.1.5-1 .5.6.5-.3.5-.9.5 1.7.5.7.5-2.1.5-.1.5-.2.5.9.5-.7.5 2 .5-.8.5-1.3.5.6.5 1.1.5.1.5-1.7.5 1.3.5-.7.5.5.5-.3.5-.3.5 1.2.5-1.6.5 1.4.5-.8.5 0 .5-.3.5.9.5-.8.5-.9.5 1.1.5.9.5-.3.5-.3.5-.2.5-1.3.5 1.5.5.6.5-1.1.5-.2.5-.1.5 0 .5.3.5-.2.5 1.1.5.1.5.6.5-.9.5.5.5-.3.5-.8.5 1.5.5-1 .5.9.5-2 .5 1.3.5-1 .5.4.5-.6.5-.2.5 1.2.5.7.5-.9.5.5.5-1.4.5.5.5-.6.5.7.5-1 .5.1.5.7.5.1.5-.4.5.9.5-1.3.5 2.1.5-2.1.5.5.5-.5.5-.1.5.7.5.2.5-1.3.5 1.6.5-.4.5 1.1.5-1.2.5.4.5.4.5-.3.5-.4.5-.6.5.8.5-1.5.5 2 .5-.6.5-.5.5 0 .5 1.9.5-.7.5-.6.5.7.5.1.5-.7.5-.1.5.7.5.8.5-2.1.5 2.3.5-1.9.5.1.5-.3.5.9.5.2.5-.1.5-1.8.5.4.5 1.6.5-.9.5-.1.5-1 .5 1.3.5-.5.5 1.6.5.1.5-1.4.5-.3.5-.6.5-.2.5 2.5.5-1.5.5.9.5-1.4.5 2.1.5 0 .5-1.4.5.7.5.4.5-1.2.5-.5.5 2 .5-1 .5.2.5.9.5-2 .5 1.4M386.3 691.8l.5.8.5.7.5-.9.5.3.5.2.5-.2.5.8.5-.6.5 0 .5-.3.5-.3.5.3.5.9.5-.3.5 0 .5-.4.5-.4.5.7.5-1 .5.8.5.9.5-.9.5-.7.5 1.2.5-1.9.5 1.2.5-.8.5.1.5 1 .5.9.5-1.1.5 1 .5-1.5.5.3.5.8.5-.8.5.8.5-.3.5-.3.5-1 .5.2.5.1.5 1.8.5-.2.5-.8.5-.7.5 1.4.5-1.1.5.5.5-.8.5-.1.5 1.2.5-.6.5.7.5-1.9.5 2.1.5-.7.5 0 .5-.6.5.1.5.3.5 1 .5-1.2.5.5.5-.7.5.8.5-1 .5.7.5-.8.5 0 .5-.3.5 2.2.5-.9.5 0 .5-.6.5.9.5-1.3.5.4.5-.2.5.1.5.6.5-1.5.5 1.7.5-.6.5-.2.5.7.5-.8.5.1.5-.6.5 1.4.5-1.3.5.5.5.6.5-.2.5 0 .5.4.5-.2.5-1 .5.6.5-1 .5-.3.5.8.5-.8.5 2 .5-1.5.5 1.3.5-1.5.5-.7.5.7.5-.5.5.8.5 1.4.5-2.4.5 0 .5 1.2.5-.1.5-1.2.5.4.5.9.5-1.5.5 1.4.5-1.5.5 1.7.5-1.2.5-.6.5.9.5.7.5.2.5-.4.5.1.5.4.5.6.5-.1.5-1.3.5.2.5-.9.5 1.4.5-.2.5.5.5-.1.5.1.5 1 .5-1.1.5.5.5-.8.5-.8.5.5.5.1.5 1.3.5-1.4.5-.8.5 2.1.5-1.8.5.4.5-1.3.5 2.2.5-1.2.5 2 .5-2.3.5 1.6.5-1 .5 1.3.5-.3.5-.7.5-.5.5.9.5-1.3.5.2.5 2.2.5-1.7.5-.4.5.5.5 1.2.5.5.5-1.5.5-1.1.5.8.5 1.4.5.2.5.6.5-1.5.5-.2.5.4.5.5.5-.5.5.4.5.4.5-.2.5 0 .5 1.2.5-.9.5-1.2.5.2.5.7.5.4.5.9.5-1.7.5.5.5 0 .5.5.5.1.5-.2.5-1.8.5.7.5 0 .5.8.5-.1.5 0 .5 0 .5-.1.5-1.1.5 1.1.5-.3.5-.1.5.3.5-.6.5.2.5-.1.5 1 .5-1.5.5.1.5.7.5-1.2.5.4.5-.3.5 1.9.5-1.3.5 1.6.5-1.1.5-.2.5-.7.5.9.5-.1.5-.8.5.3.5.7.5-.9.5.5.5.1.5 0 .5-.2.5.8.5-1 .5 1.1.5-.2.5.1.5-1.6.5 1.2.5-.1.5.2.5-.8.5.7.5-.7.5-.7.5 1.7.5-.8.5-.3.5.8.5-1 .5 0 .5-.3.5-.3.5-.2.5.7.5-.2.5 1 .5-1.3.5.1.5 1.1.5.7.5-.2.5 1.1.5-1.6.5 1.4.5-1.1.5-.1.5.1.5-.4.5-.3.5-.6.5.2.5.1.5 1.2.5-.4.5-.8.5 1.7.5-2.4.5-.1.5.3.5-.8.5 1.6.5-1.2.5-.7.5.4.5.6.5-.6.5.5.5 0 .5.4.5-.4.5-1.3.5.7.5-.5.5 2.1.5-.7.5 3.7.5 1.6.5 2.6.5 2.8.5.6.5-1.1.5.5.5 1.6.5-1.4.5 1.1.5-2.7.5 1.8.5-.9.5-.5.5-2.2.5 1.6.5-3.2.5.5.5.4.5-.3.5-2.5.5 3.3.5 1 .5-.9.5-2.7.5-2.1.5-1.4.5-2.3.5-2 .5-1.1.5 3.6.5.4.5-6.1.5.9.5.7.5-2.4.5-3 .5 1.5.5.6.5-2.2.5-4.3.5-2.4.5 3.8.5.9.5-3.8.5.4.5-1.4.5 1.1.5-2.1.5-3.3.5 2.4.5 2.5.5-3.3.5 1 .5-2 .5 3.3.5-3.2.5 1.3.5.1.5.4.5 1.9.5.5.5-3.5.5 2.8.5 1.1.5 1.5.5 1.3.5-3.1.5 2.4.5 3.2.5-.4.5-1.8.5-2.3.5 2.2.5.7.5.2.5 1.8.5-1.4.5.8.5 1.8.5.5.5 4.4.5-1.5.5-2.6.5 6.7.5.7.5-4.4.5 5.7.5 1.4.5-1.2.5 1.5.5.9.5-1.7.5 1.4.5 7.4.5-2.4.5 1.1.5-1 .5 0 .5-.7.5-6.3.5 4.7.5-5.3.5-3.7.5 2.1.5 1.4.5-5.2.5-2.1.5-3.7.5 4.1.5-1.1.5-3.5.5 3.6.5-2.9.5.5.5 2.5.5.6.5-.6.5-2.3.5.2.5-.6.5 0 .5.6.5-.3.5 4.2.5-6.2.5 4.5.5 2.9.5-3.2.5 1.2.5 3.3.5-.6.5-.7.5 2.9.5 0 .5-1.7.5-.4.5 3 .5 3.2.5-3 .5.4.5.4.5-4.3.5-.6.5-.1.5-.4.5-2.4.5-1.2.5-.4.5 1.3.5.6.5-1 .5-1.6.5 3.8.5-2.6.5.2.5 5.3.5 1.4.5 0 .5 1.3.5-5.4.5 2.1.5 2.5.5 1.7.5 3.9.5 2.1.5-2.7.5-.9.5-.6.5 2 .5 2.2.5-1.2.5-3.2.5 1.2.5-.9.5 3.9.5.8.5-2 .5-1 .5 3.5.5-2 .5-1.6.5 2.2.5-1.4.5-1.5.5 2.5.5-.1.5 3.6.5-3.9.5-1.1.5.9.5 1.2.5 2.4.5-2.7.5 2.2.5-1.1.5.3.5 2.9.5-7.3.5 3.4.5.4.5 3.3.5-3.2.5-1.9.5 1.7.5.5.5 2.4.5-.3.5-1.6.5 1.6.5-.8.5.5.5-.1.5-.5.5 1.6.5 3 .5-5 .5-1 .5 1.9.5.5.5-.9.5 2.6.5.5.5-3.7.5 1 .5 2.4.5-.4.5 1.3.5.2.5-3.3.5 4.9.5-3.7.5 4.2.5-1.2.5-2.4.5 2.4.5-2 .5-2 .5-1.7.5 4.3.5-2.7.5.9.5-.8.5.2.5-1.3.5 1.7.5.8.5 3.5.5-4.3.5-.4.5.2.5 1.5.5 2.9.5-4.2.5 1 .5-1.2.5-.7.5.6.5-2.1.5 1.7.5-2.8.5 5 .5-4.6.5 2.1.5-3.3.5-1.3.5 2.4.5 1.9.5-3.7.5.6.5 2.6.5-3 .5-.4.5 2.3.5-4.7.5 5.8.5-1.1.5-2.6.5-1.9.5 4.9.5-5.3.5-.2.5 2.3.5 1.3.5-.3.5-1.7.5 1.7.5 1 .5-1.2.5-1.2.5-1.1.5 1.2.5 2.6.5-.9.5-2.7.5 1.2.5 2.9.5-5.1.5.6.5-.7.5-.1.5-1.9.5 3 .5-3.1.5 2.5.5-1.2.5 5.1.5-.8.5-4.7.5-1.6.5 2.1.5 3.7.5-1.6.5-2.6.5 3.3.5-.2.5-5.5.5 7.2.5-6.5.5 2.1.5 4.6.5-7.7.5 2.8.5 2.2.5-3.7.5-2.2.5 4 .5-1.4.5 1.9.5-.1.5 1.3.5 2 .5-2.5.5-1 .5 2.8.5-1.4.5-5.1.5 2.1.5 2.6.5-1 .5-.2.5 1.9.5-4.9.5 2.9.5-1.3.5.8.5 3.4.5-6.5.5.2.5 4.9.5-1.2.5-1 .5-.5.5 4.6.5-3.7.5.5.5-2.4.5.7.5 2.5.5-1 .5.8.5 2.8.5-4 .5 1.4.5-2.3.5-.5.5 3.7.5-.3.5.1.5.6.5-3.2.5-2.7.5 5.1.5-3.1.5 1.2.5 3.1.5-4.9.5 3.3.5-.9.5-.1.5 3.9.5-7.9.5 4.1.5-1.5.5-.3.5 1.4.5 1.2.5-3 .5-1.7.5 2.8.5 3.4.5 1.3.5-3.8.5 4.4.5-3.1.5-.9.5 1.6.5 1.5.5-3.2.5 1.5.5-3 .5 0 .5-.5.5-1.3.5 3.3.5-1.9.5.6.5 3.1.5 1.2.5-1.1.5 1.1.5-.1.5-3.9.5 4.4.5 2 .5-3.1.5-1.1.5.9.5-1.4.5 5.1.5-2.5.5-1.3.5.2.5 2.4.5.3.5-2 .5-2.3.5-1.4.5 3.1.5 1.1.5 2.7.5-5.3.5 1.1.5.5.5 1.1.5-3.6.5 3.6.5-2.1.5-.7.5 1.4.5.7.5.8.5 2.2.5-.5.5-3.3.5 3.5.5-3.8.5 2.8.5.5.5-3.4.5 3.9.5-2.3.5 5.1.5 1.3.5-3.8.5-.3.5.2.5 3.2.5 0 .5.5.5.1.5.3.5-1.8.5-1.3.5-2.1.5 2.1.5 1.4.5-1.2.5 2.7.5-.6.5.1.5 1.5.5-1.9.5-2 .5 3 .5-2.9.5 1.2.5-1.9.5 2.2.5 1.1.5-3.8.5 3.5.5.3.5.2.5-1.6.5.3.5 3.3.5-2.8.5.8.5-2.2.5-.1.5-1.3.5-3.2.5-.5.5-1.4.5.1.5 0 .5-2.5.5-2 .5.6.5-2.3.5 0 .5-2.7.5-.3.5.3.5.3.5-.2.5.1.5-1.4.5 1.7.5-1.3.5-.6.5 1.3.5-.9.5 0 .5.6.5.6.5-.2.5-.1.5 1 .5-.8.5-.9.5-.1.5 1 .5-.3.5.8.5-.4.5 1.4.5-1.5.5-.8.5.5.5-.8.5.6.5.1.5 0 .5 1.3.5 0 .5-1.3.5-.4.5 1 .5-.7.5.4.5.4.5.4.5-1.4.5.4.5.3.5-.7.5.3.5 1.1.5.2.5-1.1.5 1.6.5-2.2.5.7.5.2.5 1.3.5-.1.5-.1.5 2 .5 1 .5 1.7.5-.5.5-.1.5.4.5 1.1.5 0 .5 2.1.5.8.5-.1.5 1.1.5.2.5.5.5.3.5-1.5.5-.5.5.3.5.7.5 1.9.5-.9.5-.1.5.9.5-.7.5.9.5-1.8.5-.5.5 2 .5-1.6.5.7.5.4.5-.9.5.1.5.5.5-.1.5.5M846.1 685.9l.5-.6.5-.1.5.3.5-1 .5-.2.5-.2.5.1.5 1 .5-.3.5 1.4.5-2.5.5-.1.5 0 .5.3.5-.2.5.2.5.8.5.2.5-1.1.5.9.5-2.3.5.8.5-.2.5.5.5.1.5-.7.5-.3.5 1.1.5-.8.5 1.3.5-1.5.5.5.5 1 .5-1.4.5.8.5-.1.5.5.5-1.3.5 1.9.5-.9.5.1.5.3.5 1.3.5-.1.5-1.3.5 2.1.5.4.5-2.1.5 1.6.5-.7.5.9.5-.8.5 1 .5-1.2.5-.1.5 1.2.5-1 .5.6.5-.9.5.9.5-.4.5.6.5-.9.5 0 .5-.6.5.9.5-.8.5-1 .5 1.2.5 0 .5-.8.5-.3.5.6.5.4.5-.4.5.5.5-.2.5.9.5 0 .5-1 .5.3.5-1.3.5 1.3.5-1.7.5 1.2.5-.2.5.1.5-.2.5-.3.5.1.5-.9.5 1.2.5-1.1.5-.8.5.5.5.3.5-.8.5 1 .5-.8.5-.2.5.3.5-.3.5.8.5 0 .5-.8.5.7.5-1.2.5 1.5.5-1.9.5 1.9.5.5.5-.5.5-.2.5-.4.5-.7.5.5.5-.2.5 0 .5.7.5.6.5-.6.5 1.9.5-1 .5.1.5-.2.5-.9.5.3.5.6.5-.2.5 0 .5-.7.5 1.5.5 1.4.5-2 .5.2.5-1 .5 1.5.5-.6.5-.1.5-.1.5 1.1.5 1.1.5-.7.5-.3.5-.8.5 1.5.5-1.6.5 1.4.5-1.4.5 1.7.5-1.2.5.6.5.3.5-1.5.5.7.5.5.5-1.8.5 1.3.5 1.3.5-1.9.5.9.5.6.5.4.5.4.5-.5.5.1.5.9.5-.7.5-.2.5-.8.5-.8.5 1.3.5-1.1.5.4.5-.1.5.2.5 1.3.5-1.6.5.4.5-.5.5.9.5 2.2.5-1 .5 1.4.5 0 .5 0 .5 1.2.5-1.1.5 1.7.5 0 .5-.6.5.3.5.2.5.7.5-.1.5.6.5.4.5.5.5.2.5-1 .5.7.5.7.5 0 .5-1.1.5 1.7.5-.2.5-.3.5.9.5-1.3.5 1.3.5-.1.5-1.7.5 1.3.5-1 .5 1 .5 0 .5-.4.5 2 .5-.8.5-.9.5.3.5-1.6.5.4.5-2.7.5 1.3.5-1.6.5.5.5.8.5-.5.5-1.6.5-.1.5.7.5-1.4.5-1.1.5-.5.5 1 .5-.5.5-1.4.5-.3.5.3.5-1.1.5-.2.5.4.5-.3.5.7.5.8.5-1.3.5 0 .5-.3.5.2.5-.4.5-.1.5 1 .5-1.1.5.4.5-1.1.5 1.2.5-1.3.5.1.5-.5.5 1.4.5-1.9.5 2.1.5-2 .5 1.9.5-1.9.5 1.6.5-.1.5.1.5-.2.5-.1.5.8.5-.8.5-.7.5 1.2.5.2.5-.2.5.3.5-1.8.5 2.3.5-1.7.5 1.4.5-1.9.5 1.6.5-1.9.5.9.5-.6.5 2.2.5-.7.5.2.5-.2.5.9.5-.2.5-.5.5-.8.5-.4.5.8.5 1.3.5-1.4.5-.6.5 1.2.5.3.5-1.1.5.1.5.6.5-.9.5 1.1.5 1.2.5-1.8.5.1.5.9.5-1 .5 1.1.5.4.5-.3.5 1.2.5-2" stroke="#0a0ad8" stroke-width="2.2" fill="none" stroke-linejoin="round"/></g><g clip-path="url(#c3)"><path d="M143 998.2l.3-8 .4 12 .3-11 .3.9.4 5.4.3-7.2.3 4.9.4-2.1.3-1.7.3 6.5.4-.5.3-7.5.3-1.1.4.2.3 3.8.3-9.5.4 2.7.3.8.3 2.5.4-6.2.3 0 .3 4.8.4-2.4.3-3.6.3 2.8.4-2.2.3 1.2.3 1.1.4-8.8.3-.8.3.2.4-2.9.3 0 .3 6.2.4 3.6.3-6 .3.2.4 1.8.3-4 .3 3.7.4.1.3-3.8.3 7.9.4-7 .3 5.7.3-4.8.4-.2.3 5.8.3-4.2.4 6.3.3 1.4.3-5.4.4 4 .3 1.4.3-2.7.4 4 .3-6.9.3 2.6.4-.3.3.8.3.8.4-3.4.3 2.9.3 1.5.4 1.9.3-4.4.3 5.6.4-4.9.3-2.9.3 6.5.4-3 .3 5.9.3-2.7.4 1.9.3-8.6.3 3.9.4-.7.3 4.9.3-.6.4-1.8.3-3 .3-3.1.4 1 .3 3.2.3-8.1.4 6.3.3 0 .3-.7.4-1.1.3-4.8.3-.4.4 2.1.3 2.1.3-8.1.4 1.5.3 1.3.3.1.4-1.1.3-2.6.3-1.3.4-1.8.3 1.1.3-4 .4 2.8.3-8.5.3 2.7.4.3.3-2 .3-4.4.4 1.9.3-6.6.3 5.8.4-3.9.3 4.6.3-3 .4 8.9.3-4.8.3 2.8.4-5.4.3 6.2.3 1.7.4 4.3.3-5.7.3 3.1.4 2 .3-3.9.3-2.3.4 4.6.3 5.3.3-.3.4-1.4.3-.1.3.1.4-.4.3-3.4.3 7 .4-4.1.3 6.6.3 1.5.4-4.8.3 5 .3-1.7.4 1.4.3-6 .3 4.9.4 1 .3-4 .3-1.3.4.8.3 2.1.3-2.5.4 1.2.3-.3.3 4.4.4-8.6.3.4.3 2.6.4 4.4.3-4 .3.7.4-4.2.3-.9.3 0 .4 9.4.3-1.8.3.7.4-4.8.3-1.5.3-1.1.4.8.3 5 .3-1 .4 4.9.3-6.2.3-2.6.4 8.1.3.5.3 2.4.4-8.3.3.7.3 2.9.4 3.3.3 1.6.3-5.6.4 3.5.3-2 .3 4.1.4-.6.3 4.1.3-6 .4 3.3.3-3.5.3.9.4-1.3.3 2.5.3 2.6.4-5.1.3 4.2.3-.4.4 5.8.3 1 .3-.9.4-1.8.3-2.7.3-.9.4 9.1.3-5.7.3 1 .4 5 .3-2.1.3 2.3.4-2.9.3 2 .3 1.6.4-7.4.3 5.3.3-4.7.4.6.3-3.8.3 3.1.4 1.5.3-5.6.3 5.1.4-5.7.3 4.3.3-.5.4-5.7.3-.7.3-2.5.4 5.3.3-8.3.3 2.6.4-.5.3-7 .3 7 .4-4.2.3-1.2.3 2.9.4-6.4.3 1.3.3 3.7.4-2 .3-2 .3 11 .4-4.7.3 3.3.3-2.1.4 1.8.3 2.1.3-1 .4-1.4.3-1.7.3 5.6.4-.2.3-5.3.3 9.7.4-9.7.3 9.5.3 1.5.4-1.8.3-2.4.3-1.8.4-4 .3 3.2.3-5 .4 6.8.3.6.3-8.9.4 4.1.3-.8.3.1.4-5.1.3 8.8.3-8.5.4-1.3.3 4.2.3.3.4-1.1.3-2.2.3-1.4.4-2.9.3 5.4.3-9.1.4 8.1.3-.1.3-3.4.4-1.3.3-.9.3 1 .4 1.8.3-5.1.3-2.2.4 4 .3-2.6.3 5.4.4.2.3-1.7.3.9.4-.4.3 5.1.3 1.5.4-1.6.3-6.9.3 4.2.4 2.2.3-4.3.3 2.9.4 1.7.3-.9.3 5.5.4-1.6.3 2.2.3-2.6.4 1.5.3-4.5.3 7.2.4.5.3-6 .3 4.5.4 1.9.3 2.3.3-6.5.4 5.9.3-2 .3-4.6.4-.9.3 7.6.3-1.1.4-4.4.3 6.6.3-6.5.4-1 .3 2.2.3 1.6.4 3.9.3 2.5.3-5 .4-.9.3 3.8.3-3.2.4 6.2.3-1.3.3-5.9.4 2.2.3 6.5.3-7.9.4-.1.3 4.4.3 2.4.4 2.4.3-2.1.3 1.3.4 4.4.3-7.4.3 7 .4-1.2.3-1.9.3-.6.4 2.3.3-1 .3.4.4.3.3-3.7.3-.2.4 3.6.3-.4.3 4.1.4-2 .3 0 .3-3.8.4 1.9.3-.6.3-1.4.4.7.3-3 .3 2.4.4-.6.3-4.4.3 9.1.4-2.6.3-1.1.3-.9.4-1.3.3 5.1.3-4.5.4 2.1.3-5.7.3 6.3.4-.2.3-1.6.3-3.9.4-2.6.3-1.5.3 5 .4-5.3.3 4.9.3-2.8.4-1.2.3-.8.3 4.3.4-.2.3.5.3-3.5.4 3.4.3-5.9.3-1.6.4 2.5.3-2.4.3-3.7.4 5 .3-1.3.3-4.4.4 2.9.3-1.5.3 3.9.4-3 .3.9.3-5.9.4 1.3.3 5.7.3-2.1.4-2.8.3 6.9.3-4.3.4-.4.3 1.9.3-7.4.4 7.2.3 1.8.3-5.7.4-.5.3-2.8.3 1.6.4 6.1.3-1.2.3-3.6.4 1.6.3 1 .3-1.5.4.7.3 6 .3-2.7.4-1.1.3-5.3.3 5.8.4-.1.3-1.2.3-3.9.4 9.9.3-3.6.3.4.4-3.8.3-.2.3 5.2.4-3.9.3-3.7.3 4.4.4 4.4.3-2.4.3 3.4.4-4.5.3-2.5.3 9.8.4-5.1.3.7.3 2.9.4-.8.3-6 .3 2.6.4-2.7.3 6 .3-10.3.4.3.3 9 .3-8.2.4-2.2.3 2.4.3-2.3.4 5.6.3-6.1.3 1.9.4 1.8.3-8.1.3 7.1.4-6.8.3 2 .3 1.9.4-5.4.3-1.1.3 1.1.4-2.8.3-.9.3 7.1.4-2.7.3-4.1.3-2 .4 2.5.3-2.4.3-4.1.4-6 .3.2.3-2.8.4 4.8.3-3.5.3-7.2.4 1 .3 4.2.3-10.3.4 2.4.3 8.4.3.3.4-.5.3-3.3.3-2 .4 4.4.3 3.8.3-5.9.4-2.7.3 6.2.3-6.9.4 2.8.3 5.8.3-2.2.4-2.3.3 0 .3-.4.4-4.2.3 13 .3-3.7.4-11.7.3 5.6.3 17.1.4-13.6.3-4.8.3 13.5.4-1.3.3 3.7.3-8.9.4-2.8.3 7.5.3 18.5.4-20.2.3 8.8.3-.9.4 3.1.3-2.8.3 20.1.4-26 .3 22.7.3.3.4 10.3.3-3.4.3.4.4-8.6.3-10.9.3 14.7.4-18.6.3 7.5.3-10 .4 2.6.3-1 .3-2 .4-2.1.3-4.7.3 7.9.4-10.2.3-11.2.3-.4.4 1.2.3-2.1.3 6.3.4-.7.3-7.6.3 13.7.4-8.5.3-3.4.3.8.4 4.7.3.9.3 1.2.4-7.6.3 12.6.3-14.5.4 3.9.3 4.6.3-5.3.4 6.8.3 8.8.3-14.6.4 13.7.3-2 .3 4.3.4 12 .3-15 .3 15.8.4-5.9.3 4.3.3-6.1M351.3 958.4l.4-18.2.3 26.1.3-21.1.4 8.9.3-8.7.3 6.5.4-22 .3 11.6.3-20.2.4 8 .3 10.3.3-7.6.4 4.4.3-2.5.3-2.8.4 9.3.3 2.5.3-5.8.4 10.8.3-9.3.3 2.7.4-7.5.3 2.7.3 10 .4 1 .3-7 .3 10.9.4 7.9.3-14.7.3 10.5.4 2 .3-3.4.3 4.7.4 6 .3-15 .3 13.9.4 3.3.3-7.5.3 1.6.4 2.5.3-.9.3 6.4.4 9.1.3-5.6.3 2.5.4 1.8.3-6.1.3 3.1.4-3.5.3 11.6.3-1.4M385.3 972.6l.3-1.9.4-.2.3-3.3.3 5.5.4-5.7.3-1.6.3-2.6.4 0 .3 10.4.3-6.8.4 8 .3-10 .3-1.5.4 9.5.3-5.8.3-6.4.4 8.4.3-7.9.3.5.4 9.4.3-9.8.3 9.7.4-10.3.3 7.8.3-4.6.4-1.8.3 6.7.3-11.2.4.4.3.5.3 0 .4 4.2.3 6.7.3-4.7.4 2.7.3-5.1.3 6.4.4-11.5.3 6.9.3-1.2.4 2.4.3 3.3.3-5.6.4 5.2.3-7.2.3-2.6.4-1.7.3 11.4.3-.9.4-11.7.3 1.5.3-.2.4 6.6.3-7.6.3-1 .4 4.3.3-2.6.3 5.5.4-8 .3 3.6.3 7.6.4-1 .3-6.4.3 4.6.4-4.7.3 7.3.3-1.3.4-2.7.3-5 .3-3.7.4 4.1.3.2.3-1.8.4 5.6.3.5.3-10.8.4 1.3.3 8.5.3 3.3.4-3.2.3-7.9.3 8.5.4-.4.3-3.1.3 3.6.4-6.3.3 2.2.3-1.6.4 1.8.3-1.9.3 4.4.4-4.4.3 13.3.3-6.7.4 3.7.3 1.2.3-1.2.4-.2.3 1.9.3 3 .4-1 .3-.6.3-2.2.4 1.4.3-3 .3 5.7.4-1.1.3 6.3.3-3 .4-1.5.3-6.1.3 8.6.4.5.3-7.8.3 5.7.4-5.4.3 2.9.3-6.9.4 1.3.3 3.1.3 1.4.4-5.1.3 1.8.3 2.6.4-1.1.3-2.2.3 9.1.4-1.3.3-4.6.3 4.4.4-3.6.3 4.2.3-3.4.4 2.8.3-1.8.3-4 .4-1.4.3 6.8.3-5.1.4 9.7.3-1.4.3 1.5.4-1.1.3-4.5.3 2.7.4-4.5.3 6.9.3-1.9.4 8.1.3-12.5.3 11.5.4 1.9.3.2.3-4.9.4 5.2.3-4.5.3-4.4.4 7.5.3-.3.3-1.6.4 6.8.3-4.8.3 1 .4-5.8.3-1.7.3 6.7.4-4.5.3 10 .3-.1.4-1 .3-5.2.3 2 .4 4 .3-5.3.3 7.5.4-.4.3-.6.3 5 .4-.1.3-7.6.3 5.5.4-4.5.3.9.3-6.3.4 8.3.3-2.8.3-5.6.4 0 .3.9.3 2.7.4-.9.3-4.3.3-1.4.4 2.5.3-.7.3 5.5.4-9.3.3 6.8.3-.4.4-5.8.3 7.6.3-2.9.4 3.5.3-3.9.3-7.4.4 4.9.3-4.9.3.5.4 7 .3.8.3-7.5.4 7.2.3-7.8.3 5 .4-4.1.3 8.5.3-3.3.4 6.7.3 3.1.3 2.1.4-9.8.3-.8.3 14.1.4-10.1.3 3.8.3-2.4.4 11.7.3-5.2.3 4.8.4-2.7.3 2.4.3-1.8.4 6.9.3-10.4.3 6.3.4 4 .3-3.4.3 2.2.4.2.3-3.7.3 5.5.4-5.1.3 5.4.3-4.1.4.1.3 1.1.3 8.9.4-8.5.3 3.6.3-5.5.4 5.6.3-4.7.3 10 .4-10.6.3 6 .3 5.5.4-10.1.3 5.9.3 1.5.4-2.5.3 3.4.3 2.6.4-3.7.3-1.6.3 1 .4 5.8.3 5 .3-5.5.4-5.4.3 5.4.3-1.2.4 7.3.3-5.3.3 2.3.4 3.6.3-8.6.3 7.7.4-5.9.3 5.7.3-4.6M480.8 990l.3-8 .4 10.9.3-5.6.3-2.9.4 5.8.3 1.4.3.2.4-5.8.3 4 .3-.1.4-2.2.3-5.5.3 1.8.4 2.5.3-5.8.3 4 .4-2 .3 4.2.3 1.2.4-8.3.3-3.1.3 3 .4-1 .3 6 .3-.7.4 2.9.3-7 .3-1 .4-1 .3 2.5.3-5.5.4-1.9.3 1.4.3 8.2.4-10.9.3 10.5.3-9.2.4 5.7.3 3.2.3-10.9.4 9.9.3.2.3-3.2.4.8.3 1.4.3-3.6.4-4.8.3 0 .3-3.7.4 6.9.3 5.1.3-7.6.4-1.9.3 7.5.3-7.1.4-.8.3.3.3.3.4 3.9.3-10.1.3 12 .4-2.3.3-6.2.3-.3.4 3.2.3-7.2.3-.1.4 6.8.3-5.8.3 1.5.4 3.4.3 4.5.3-2.1.4 4.7.3-9.5.3 8 .4-4.3.3 6.3.3-3.8.4-5.4.3 5.1.3 5 .4-4.8.3-.4.3-.5.4-4.1.3 10.5.3-2.2.4-.5.3 6.2.3-5.1.4 5 .3 1.3.3-2.5.4-7.5.3 6 .3-7.5.4 0 .3 5.5.3-4.3.4 9.9.3-5.1.3-.7.4.2.3-2.3.3 5.4.4-12.4.3.9.3 8.7.4-8.7.3.3.3-.9.4 2 .3-6.9.3 3.6.4-8.5.3 6.2.3-4.7.4-2.1.3 6.7.3-3.9.4-7.9.3 4 .3 7.4.4-12.5.3-2.8.3 4 .4-6.8.3 2 .3-.5.4 3 .3-10.8.3 3.8.4-8.5.3 7.4.3-1.9.4-4.1.3-9.5.3 9.9.4-9.9.3.6.3-2.4.4 4.5.3-3.1.3-2 .4-2.7.3-2.1.3-2.8.4 2.9.3-2.6.3-4.9.4 9.7.3-4.2.3-5.2.4-5.3.3 5.5.3.4.4-1.8.3-2.4.3 7.2.4-1.1.3-.9.3.9.4-1 .3-5 .3-.7.4.7.3.8.3 1.1.4.9.3 13.7.3 3.9.4 2.6.3.5.3-20 .4 11.9.3 10.2M540.8 939l.3 20 .4-13.6.3 13.9.3-17.2.4 8.7.3-1.6.3 3.2.4-15 .3 3.6.3 11.7.4 11.6.3-8.9.3 2.8.4-2.8.3 5 .3-2.5.4 4.6.3-10.4.3 1.8.4-2.4.3 3.3.3 7.8.4-14.1.3 12.6.3-2.3.4-6.1.3 4.6.3-1.4.4 3.7.3-2.3.3-2.3.4-4.7.3 2.2.3.4.4.8.3-1.2.3-6.3.4 4.7.3 7.4.3-2.7.4 6.2.3-8.2.3-1.5.4-1.3.3 11.9.3 1.1.4-.5.3-10.1.3 6.3.4-3.8.3 2.9.3-4.9.4 6 .3 5.3.3-5.4.4-3 .3 3.9.3-3.5.4-.4.3 6 .3-3.6.4 2.2.3 5.8.3-6.5.4 2.2.3 9.1.3 1.6.4-5.3.3 6.6.3-6.8.4-5.6.3 14.3.3-9.1.4-1 .3-.5.3 10.4.4-8.5.3 5.7.3 2.6.4 2.4.3-5.7.3 2.5.4-3.9.3.4.3-4.6.4 2.5.3 4.5.3 5.8.4-12.4.3 13.3.3-3.7.4 1.7.3 1.6.3-6.9.4 2.1.3-4.5.3 9.9.4-5.7.3-5.4.3 4.6.4-4.2.3 1.8.3-.6.4-2 .3-.3.3.7.4 2 .3 3.8.3-2.2.4.1.3-1.7.3-.2.4 11.4.3-3 .3-3.5.4-1.2.3 3.1.3 1.9.4.6.3 5.5.3 6.3.4-2 .3 1.6.3-1.7.4 4.4.3-10.2.3 1 .4-2.5.3 7.2.3-.2.4-2.8.3 5.8.3-4.3.4-.9.3 5.8.3-6.7.4 6.1.3-4.2.3-.7.4 5.7.3-4.4.3 2.5.4-.3.3 5.4.3-6.7.4 4.7.3 4.9.3-2.4.4-.4.3-2.7.3 0 .4 3.5.3-.9.3 1.9.4 6.6.3.9.3 0 .4-7.7.3 2.4.3-.1.4 2.2.3-3.2.3 1.8.4 2.6.3-3.9.3 1.6.4.9.3-1.3.3-3.4.4 8.4.3-1.2.3-1.3.4-8.6.3 11.5.3-7.8.4-3.3.3 6.5.3-1.7.4-4.5.3 5.2.3-5.6.4 7.7.3-9.4.3 8.4.4-2.5.3 1 .3-4.7.4 2.3.3-8.6.3 8 .4-9.6.3 3 .3 5.8.4-4.6.3 3.7.3 3.9.4-7.9.3 3.9.3 3.1.4 6.8.3-4 .3-.6.4 6.3.3-8.9.3 8.3.4-6.7.3 8.3.3 0 .4-2.2.3 3.7.3-5.7.4 5.6.3-.9.3 7.2.4-3.3.3 8 .3-4.2.4-3.3.3 9.1.3-6.1.4 5.6.3 5.8.3-1.7.4-2.5.3-5.5.3-2.3.4 4 .3.2.3 5.5.4-4 .3 3.8.3-11 .4 4.9.3 3.1.3-2.2.4-6.1.3 8.4.3-5.6.4-4 .3 4 .3-4.5.4 1.1.3-4.5.3 11.8.4-1 .3.4.3-5.9.4 5.4.3-9.3.3 6.3.4.1.3-7 .3 5.3.4 4.9.3-5.5.3 2.3.4 5 .3-1.3.3-1.5.4 1.1.3-4.1.3 6.4.4.3.3-8 .3 10.6.4-13.2.3.6.3 12.6.4-7 .3-2.9.3 3.5.4 5.5.3 2.1.3-2 .4-3.8.3 4.7.3 1.7.4-1.6.3 3.8.3-5.3.4 7.9.3-3 .3-2.4.4-1.6.3-6.6.3 1.7.4 3.6.3.8.3-.1.4-2.6.3 1.1.3-9.9.4 5.1.3 5.2.3-5.5.4-4.1.3 1.4.3.7.4-3.5.3-8.1.3.6.4 3.8.3 3.9.3-4.7.4 1.7.3-.7.3-6 .4-2.4.3 6.5.3-10.9.4 4.6.3-1.6.3 2.2.4-5.3.3-3 .3 2.3.4.5.3-5.1.3-1.4.4-5.2.3 2.6.3-.3.4 2.6.3-1.4.3-3.1.4-3.5.3 2.9.3-8 .4 5.3.3 1.8.3-7 .4 10.9.3-6.1.3-3.2.4 4.5.3 2.4.3-.9.4-2.4.3 4.4.3-2 .4-2.5.3 3.8.3 2.3.4-9.4.3 7.8.3-1.4.4-7.9.3 10.9.3-4 .4 5.6.3-2.3.3-4 .4-5.2.3.8.3-.4.4 1.4.3 4.4.3.6.4 1.4.3-1.5.3-1.3.4-.1.3 7.1.3-2.2.4-3.4.3 7.7.3-4.9.4-5 .3 5.8.3 3.1.4-8.6.3 10.8.3-9.9.4 7.5.3-6.4.3 2 .4 4.2.3 3.6.3-6 .4-1.7.3 6.7.3-1.3.4-.1.3-6.2.3 3.8.4 1.8.3.8.3-3.1.4 12.4.3-4 .3 2 .4-2 .3 1.2.3 5.4.4-3.4.3-1.8.3.7.4.7.3 4.1.3 2.5.4 3.9.3-3.8.3-1.9.4.3.3.6.3 6.6.4.1.3-3.6.3.7.4 4.6.3.1.3-7.7.4-.6.3-1.5.3-2.6.4 1.5.3.5.3 3.8.4 2.8.3 1.5.3-1.3.4 1 .3-9.5.3 6.5.4 2.1.3-8.1.3 9.1.4-4.7.3-1.7.3 2.7.4 5.2.3-6.3.3.7.4 1.4.3-4.7.3-.2.4 9.4.3 1 .3-3.1.4-7.7.3 2.9.3.5.4 6.8.3-6.7.3 3.4.4 7.1.3-8.9.3 1.5.4-3.2.3 4 .3 3.3.4-2.3.3-3.4.3 1.4.4-1.1.3 1.5.3-1.1.4 10.3.3-7 .3 2.8.4 6.2.3 2.9.3-9 .4 4.9.3-2.2.3-1.7.4 1.7.3-4 .3 12.5.4-7.3.3-2.3.3 1.5.4 4.9.3.4.3-1.5.4-.9.3 4.5.3 2.5.4-9.4.3 7.1.3-5.4.4 3.5.3 7.5.3-1.3.4 4.9.3-10 .3 10.9.4-7.4.3 2.6.3-3.7.4 2.1.3-5.9.3 11.9.4-5.2.3 2.7.3-.1.4-7.5.3 8 .3-5.7.4-3.5.3 3.6.3 11.2.4-7.1.3 0 .3-5.2.4 10 .3-2.5.3-2.2.4 7.4.3-11.3.3 2.5.4 8.1.3-2.5.3 1.7.4-1.3.3-4.1.3.1.4 1 .3.7.3-5.3.4 8.8.3-1.9.3 3 .4-6.6.3-4.1.3 14.7.4.4.3-12.5.3-.2.4-2.5.3 2.2.3 5.4.4-1.9.3 9.1.3-12 .4 4.6.3 3.7.3-4 .4 6 .3-2.4.3 6.9.4-3 .3-4.8.3-7.8.4 12.4.3-11.3.3 1 .4 5.1.3 4.7.3-8.9.4-4.1.3 3.5.3 2.9.4-5.5.3 2.5.3-5.4.4 7 .3.5.3 5.8.4-5.7.3-3.6.3 9.7.4-10.4.3-2.1.3 7.8.4 1.2.3-1.1.3-10.2.4 7 .3-4.8.3.2.4.8.3 3.8.3-6.4.4-1.3.3-3.8.3 6.7.4-5 .3 1.8.3-.2.4-10.4.3 2.4.3 12.1.4-11.1.3 10.7.3 2.2.4-17.1.3 2.1.3 5.7.4-2.7.3 5.5.3 1.2.4-5.6.3 3.4.3 5.9.4-5.9.3.2.3-5.3.4 3.7.3-.6.3-.4.4 2.6.3 3.6.3 1.3.4-2.7.3-.6.3-4.7.4-3.6.3 6.5.3 6.6.4-6.3.3 2.3.3-3.3.4.6.3 4.4.3-4.7.4 4.7.3-2.9.3-5.5.4.9.3 4.8.3-2.6.4.5.3.4.3 3.6.4-.5.3 5.6.3-10.2.4-1.2.3.5.3 8.4.4-3.9.3-5.5.3 1.3.4 1.6.3-.2.3 3.1.4.2.3-3.9.3-2.2.4 9.9.3-1.1.3-7 .4 5.8.3.9.3 3.2.4-5 .3.1.3-.6.4 2.1.3 2 .3-1.5.4-5.4.3 8.4.3-5.8.4-2.2.3.4.3-3.2.4 4.9.3-5.9.3.5.4 4.7.3-3.1.3.1.4 3.6.3-11.5.3 5.3.4-5.3.3 8.5.3-12.2.4 6 .3-1.7.3-.6.4-4.1.3 7.8.3-7.1.4 6 .3-3.6.3.3.4 5.1.3-8.5.3.1.4 8.1.3-3.3.3-5 .4 10.9.3-6.6.3 2.4.4-5.4.3 7.1.3 2.3.4-.5.3-.3.3-1.4.4 1 .3-2.2.3 5.3.4-8.8.3 9.8.3-9 .4 2.8.3-6.4.3 2.6.4.4.3 11.3.3.7.4.3.3-6.2.3 9.6.4-5.5.3 4.9.3-11.9.4 10.6.3-11.2.3-1.8.4 10.7.3-1.3.3 3.6.4 5.8.3-14.1.3-4.7.4 19 .3-9.5.3-8.8.4 13.1.3 3.3.3 2.4.4-19.4.3 6.1.3-.3.4 4 .3-2.3.3 8.4.4-12.5.3-7.7.3 10.9.4 6.6.3-12.1.3 3 .4-1.6.3 8.3.3 1 .4-13.6.3 2.5.3-.3.4-4.2.3.1.3-2.3.4 4.5.3 3.7.3-8.8.4 3.1.3 6.2.3-7.4.4.2.3 2.8.3-8.6.4 1 .3 6.1.3-.6.4-4.6.3-1.6.3 2.4.4-3.6.3 4.2.3-2.1.4-1.8.3 11.6.3-16.8.4 7.6.3-.3.3 4 .4-5.5.3-5.7.3 13.4.4-1 .3-15.6.3 17 .4-10.7.3 8.6.3-14.4.4 10.2.3.2.3-5.3.4-1.8.3 4.1.3-2.4.4 8 .3-9.5.3 10.5.4-3.1.3-1.4.3 1.2.4-1 .3-6.7.3 3.2.4-2.2.3 14.5.3-10.6.4-7.4.3 6.2.3-2.8.4 4.1.3-6.1.3 7.8.4 3.9.3-1.8.3-9.2.4 6.5.3-.3.3-7.3.4 4.2.3-8.5.3 4.4.4 9.1.3-14.8.3 8.9.4 4.1.3-3.3.3-3.2.4-6.2.3 1.4.3 9.5.4 2.6.3-10.3.3 0 .4 8.8.3-3.6.3-.7.4-10.8.3.3.3-.8.4-4.4.3 10.7.3-2.1.4 2 .3-7.3.3 4.1.4-15.7.3 8.5.3 2.7.4-13.7.3-2.6.3 4.6.4-4 .3 9.4.3 1 .4-1.9.3-.4.3 2.4.4-13.9.3.4.3 5.8.4 1.2.3 1.1.3.6.4-8.1.3 9.3.3-4 .4 2.4.3-1.7.3-5.2.4.9.3 4.4.3-8.4.4 3.8.3-2.7.3 1.3.4-2.3.3 3.5.3-5.2.4-3.5.3 2.5.3-2.9.4-2.9.3 8.7.3.3.4-2.9.3-.5.3 6.1.4-11.7.3 3.4.3 10 .4-1.6.3-.4.3 2.6.4 5.3M844.4 1022.1l.3-13.7.4 14.2.3-8.4.3-5.2.4 5.2.3-2.1.3-3.6.4 2.5.3-13.2.3 5.8.4 8.4.3-13.6.3 2.5.4-.9.3.3.3-.3.4-1.5.3-5.6.3 1.1.4-1.3.3 6.7.3-11.5.4-3.1.3 14.5.3-3.8.4 4 .3-4.4.3 6.8.4-11.9.3 11.8.3 2.9.4-1.8.3 2.9.3-12.9.4-2.7.3 1.7.3 8.1.4-3.3.3 1.8.3-15.8.4 9.7.3 3.3.3-10.7.4 6.8.3-18.6.3-4.8.4 1.8.3 9.9.3-19.8.4 10 .3-12.1.3 27.5.4-24.2.3 9.6.3 25.3.4-27.4.3 30.2.3-15.7.4 9.8.3-5.7.3-5.3.4-1.8.3 20.1.3-10.8.4-.4.3-11.2.3 14.5.4-24 .3-3 .3 7.9.4-4.6.3-16.2.3 2.2.4-4.8.3 18.3.3 1.9.4-14.9.3-14.2.3 14.7.4.3.3-5.1.3-9.9.4 18.9.3-9.5.3 11 .4-1.4.3 12.3.3-2.6M876.1 962.4l.3 10.1.3.4.4-6.2.3.3.3-15.3.4-.9.3-8.4.3 12.5.4 26 .3-16.4.3 1.4.4-17.9.3 23.3.3-5.7.4-2.8.3-4.3.3-.6.4 8.3.3 1.3.3-9.1.4 11.3.3-1.6.3-20.4.4 7.3.3 7.8.3-21.4.4 15.4.3-4.9.3-11.7.4 21.9.3-23.2.3 6.3.4 11.3.3-.3.3-2.4.4-7.2.3 4.8.3 20.2.4-18.4.3 16.5.3 10.8.4 6.1.3-29 .3 2.8.4 36.4.3-12.5.3-3.1.4 2.9.3-3.7.3 3 .4.8.3-1.8.3.8.4 7.6.3-14.7.3.1.4-9.5.3 10.4.3-16.6.4-7.4.3 10.8.3-22.9.4 7.3.3 6.7.3-12.4.4 4.2.3 12.3.3 23.1.4-12.3.3-11.2.3 2.1.4 17.3M902.1 997.9l.3-20 .3-3.4.4 25.2.3-18.8.3 7.3.4 2.7.3-17.6.3 16.9.4.8.3-17.8.3 11.4.4 8.8.3-15.1.3 18.3.4-25.6.3 13.9.3 4.3.4-12.3.3-.7.3-5.4.4 9 .3 17.6.3-5.1.4-19.3.3 6.5.3-2.6.4 12.3.3-13.1.3 11.7.4-13.9.3 3.1.3 2.3.4-11.7.3-12.9.3 3 .4-6.7.3-1.9.3 7.7.4 1.2.3-19.8.3 13.6.4-9.1.3-7.8.3-5 .4-5.2.3 4.9.3-8.3.4 3 .3 14.3.3 1 .4-11.3.3-16.7.3 13 .4-18.2.3 9 .3 3.9.4 8.9.3-15 .3.3.4-6.8.3-3.5.3 7.5.4 6.7.3-17.6.3 17.3.4-19.2.3 18.5.3-14.1.4 18 .3-13.8.3 4.3.4 17 .3-12 .3 17.7.4-25.8.3 10.5.3-3.3.4 23 .3-29.3.3 24.9.4-6.8.3-17.6M933.7 931.3l.4-35.4.3 25.5.3-23.8.4-4.3.3 21.8.3 3.5.4-3 .3-9.6.3 1.3.4.5.3-12.6.3 20.4.4 7.5.3-22.9.3 20.5.4-13.4.3-5.9.3 6.9.4-2.9.3-5.9.3.2.4-2.1.3 6.1.3-1.4.4-10.4.3-3.7.3 2.9.4-4.8M947.1 919.1l.3-4.1.3-12.6.4-1.5.3 1.3.3 18.2.4-15.3.3 1.5.3 4.4.4-6 .3 10.1.3-4 .4-2.5.3 3.6.3.7.4 16.6.3-10.1.3 7.2.4-8.6.3-6.4.3 5.2.4 19.9.3-4.2.3-16.2.4 21.7.3-14.5.3 4.3.4 3.4.3 6.6.3-4.3.4-9 .3 9 .3 7.2.4-.5.3-8.3.3 2.1.4 9.1.3 2.5.3-11.8.4 17.5.3-11.7.3 8.1.4-7 .3 9.2.3-14.8.4 14.1.3-5.2.3-.7.4 3 .3-6.2.3 7.5.4-4.3.3 3.6.3 6 .4-14.8.3 2.8.3 14.2.4-14.3.3 13.2.3 9.3.4-11.1.3 3.9.3 1.6.4 11.5.3 5 .3-2.2.4-8.4.3-1.4.3-3.2.4 17.6.3 3.7.3-.1.4 5.5.3.2.3-10.3.4 5.6.3-13.8.3 14.3.4-12.8.3 17.1.3-1.1.4-1.1.3-3.3.3.1.4 14.4.3-18.4.3 9.5.4 2.1.3 3.8.3 3.9.4-14.9.3 16.9.3 1.5.4-10.9.3 6.6.3 5.9.4-11.7.3 4.1.3 6 .4-2 .3-3.1.3 6.6.4 2.3.3-14.4.3 3.8.4 2.3.3 5.9.3-9.9.4 1.7.3 7.2.3 7.7.4-2.7.3 2 .3-12.2.4 5.1.3 4.6.3-10.4.4-1.7.3 5.9.3 10 .4-15.5.3-3.2.3 3.1.4 15.5.3-2.2.3-19.7.4.6.3 6.5.3-2.4.4 15 .3-8.2.3-5.6.4 8 .3-1 .3-14.8.4 2.7.3 8.3.3-11.6.4 20.6.3-4.3.3-12.3.4 16.6.3-17.6.3-2 .4 7.7.3 12.1.3-17.5.4 21.3.3-14.9.3 13.2.4-8.9.3 7.1.3-10.6.4 16.3.3.7.3-5.9.4-2.4.3 3.8.3-4.3.4 5.7.3 3.4.3-15.4.4 7.2.3 10.8.3-8.8.4.4.3 5.3.3-8.9.4 11.7.3-12.5.3 15.3.4-4.3.3-1.5.3-4.5" stroke="#000" stroke-width="1.8" fill="none" stroke-linejoin="round"/><path d="M342.7 944.2l.2 20.7.1.7.2-4.8.1 18.9.3-14.1.1 17.3.2-10.4.1-3 .2 2.5.1 12.5.3 13.1.1-18.5.2-14.8.1 12 .2 17.6.1-14.2.3 12.3.1-1.3.2-3.4.1-5.6.2 2.5.1-14.1.3 4.4.1 3.5.2.6.1 13.4.2-29.8.1 9.3.3 8.4.1-3.1.2-11.6.1 15.6.2 10.7.1-31.3.3 4 .1 8.6.2 17.3.1-33.4.2 6.7.1 15.3.3-1.2.1-19.7.2 18 .1-2 .2-23.1.1 18.1.3 5.7.1-32.3.2.3.1 1 .2 25.4M540.1 951.7l.3-10.4.1-12.5.2 1.6M874.1 958l.2 29.8.1.2.2-30.9.1 21.8.3-16.3.1-11.3.2 17.5.1-2.9.2-4.6.1-7.1.3 26.1M900.4 988.6l.2 13.1.1 15 .3-35 .1 21.9.2 9.3.1-23.6.2 12.9.1 11.4.3-35M929.7 922.6l.3 15 .1-13.7.2-.9.1-4.6.2 20.1.1 27.6.3-4.5.1-18.7.2 18.9.1-49.8.2 11.9.1 49.5.3-26.8.1-36.4.2 37.8.1 23.1.2-57.3.1 15.1.3 6.1.1-14.7.2-17.3.1 11.7.2 13.7M943.4 887.8l.2 6.9.1 12.4.3 12.1.1-15.3.2 34.4.1-39.1.2 6.3.1-1.1.3 6.9.1 6.9.2 32.7.1.1.2-65.1.1 53.2.3-12.2.1-29.2.2 3.3.1 6.2.2-5.2.1 21.8.3-5.6" stroke="#000" stroke-width="1.2" stroke-dasharray="1.3 1.9" fill="none"/><path d="M345 1014h.2M346 1008h.2M476 1037h.2M478 1031h.2M537 995h.2M538 1003h.2M711 1071h.2M713 1064h.2M722 1060h.2M724 1054h.2M736 1083h.2M735 1076h.2M737 1090h.2M901 1018h.2M932 1003h.2M945 1000h.2M946 1008h.2M601 1003h.2M640 1013h.2M655 1016h.2M690 1040h.2M700 1050h.2M705 1045h.2" stroke="#000" stroke-width="1.6" stroke-linecap="square" fill="none"/></g><g clip-path="url(#c4)"><path d="M143 1224.1l.3 2.7.4.4.3-.8.3-4.3.4 2.2.3-2.5.3 6.7.4-5.3.3 4.1.3-6.2.4-2.9.3 9.5.3-7.8.4 8.5.3-2.8.3.7.4-5.8.3 5.3.3-2.8.4-1.6.3-1.1.3 3.9.4 4.4.3-1.4.3-1.5.4 2.5.3-5.2.3-.9.4 2.6.3 2.1.3 2.9.4-6.7.3 4.2.3 2.4.4-1.5.3-3.6.3 2.8.4-7.4.3 6.4.3-.9.4 3.5.3-3.2.3 2.8.4-7 .3 9 .3-5.2.4 1.9.3-.6.3-2.8.4 2.9.3 3.7.3.7.4-9.2.3 8.5.3-3.2.4-3 .3 4.7.3-5.2.4 7.9.3-9.5.3 2.9.4 1.8.3 4.7.3-8.4.4 3.1.3-3.6.3 5.4.4-5.7.3 2.2.3 2.4.4-.5.3-.2.3-.9.4 2.2.3-1.3.3 7.4.4-1.3.3 1.7.3-7.2.4-.1.3 1.5.3 4.4.4 0 .3-5.6.3 2.6.4-5.1.3 9.5.3-9.8.4 7.6.3-4.5.3 5.9.4-.5.3-4.5.3 3.8.4 0 .3 2.6.3.7.4-4.3.3 2.1.3 1.9.4-4.8.3 5.8.3-.9.4-6.7.3 5 .3 3.6.4-3.2.3 1.1.3 3.4.4-6.1.3-2.8.3 6.4.4-3.2.3-4.7.3 1.8.4 1.8.3-4.1.3 6.3.4-6.6.3-1.6.3 3.5.4 2.7.3-1.6.3 3.3.4-4.6.3 1 .3-2.3.4-2.1.3 3.4.3-3.4.4 6.3.3-4.3.3.9.4 3.9.3-6.2.3-2.6.4.1.3 3.2.3 2.3.4-5.2.3 0 .3 1 .4-.1.3 1.2.3 4.1.4-.5.3 4.6.3 1.1.4-8.2.3-.4.3 5.6.4-1.6.3 4.8.3-8 .4 2.8.3-2.6.3 1.4.4 1 .3-4 .3 4.7.4 4.7.3-3 .3 1.4.4-3.5.3-1.6.3 7.4.4-4.8.3-3.2.3 3.5.4-1.6.3 3.9.3-6 .4 7.3.3.7.3-4.1.4-4.3.3 4.8.3.3.4.9.3-4.7.3 9.1.4-7.7.3-.5.3 5 .4-2.1.3-1.3.3 2.2.4-1.6.3 5.8.3.9.4-6.9.3 1.3.3 7.9.4-5.7.3.8.3 7.4.4-6.8.3.2.3-.5.4 5.2.3-6.7.3 6.3.4-.3.3-5 .3-1.1.4 3 .3-5.6.3-.4.4 2.5.3-.8.3 3.1.4.2.3 3.6.3-4.9.4.9.3-1.5.3 1.2.4-3 .3.7.3-2.9.4 6.4.3-3.2.3-3 .4-1.9.3 3.1.3 1.5.4-3.8.3 2.1.3-5.8.4 5.1.3-4.7.3-.1.4 5.5.3-4.7.3 6.4.4-.7.3-7.3.3 3 .4-.8.3 3.9.3-4.3.4-.7.3.2.3 1.9.4-5.1.3-4.2.3-.9.4.8.3 5.1.3-.3.4-7.9.3 1.4.3-2 .4 1 .3.7.3 4.9.4-3.1.3-3 .3 3.7.4-.5.3-4.1.3 6.2.4-3 .3 1.2.3-3.7.4 3.8.3 1.1.3 1.3.4-7.5.3 5.6.3-1.4.4 1 .3-.6.3-3.3.4 7.8.3-2.7.3-.1.4 3.1.3-1.7.3.5.4-3.1.3-1.5.3 4.8.4 1 .3-2.8.3-.7.4-3.2.3 4.4.3-5.8.4-1 .3 9.7.3-7.5.4 5.3.3-2 .3 4 .4-6.9.3-2.4.3 1.5.4 4.3.3 7.5.3-1.8.4 3.2.3-.1.3 3.3.4-2 .3.3.3 3.6.4-1.8.3-1.4.3 1.1.4-3.3.3 7.2.3-3.9.4 1.9.3-6 .3 3.8.4 2.4.3-7.4.3 8.1.4-4.1.3 4.2.3-2.6.4-3.7.3 8.7.3-1.7.4-6.4.3 7.4.3-3.8.4-.2.3 1.3.3 1 .4-5.6.3 5.5.3-7.1.4 3.1.3-6 .3 3.3.4-.5.3-5.2.3 4.4.4 2.9.3.1.3-4.1.4 1.4.3 2.7.3-3.8.4 1.9.3 4 .3.7.4-.9.3.6.3-3.1.4 2.5.3-2.8.3 3.9.4-6.2.3-.6.3.9.4 1.9.3.3.3.3.4-2.8.3 4.5.3-3.3.4-5.6.3 6 .3-6 .4 1.7.3 1.6.3 3.8.4 2.2.3.7.3-4.4.4-3.4.3.2.3 5 .4.2.3-6.5.3-.6.4 1.4.3 3.1.3-2 .4-1.2.3-.2.3-.6.4-3.1.3-1 .3 3.6.4-2.6.3 2.6.3-.9.4 5.6.3-4.6.3 2.6.4-.1.3.5.3-4.6.4-5 .3 6.4.3-4.7.4 2.6.3 4.3.3-5.8.4 1 .3-4.2.3 3.8.4-1.8.3 1.7.3.5.4-3.2.3 2.2.3-.4.4-3.1.3 9.6.3-6.1.4-4.2.3 3.5.3.1.4.2.3-.6.3 4.5.4-6.9.3 0 .3 6.2.4-2.7.3 1 .3 1.7.4-.3.3-7.1.3.2.4 8.7.3-1.6.3-3.8.4-.8.3 2.7.3 2.1.4-.4.3-4 .3 6.3.4-4 .3-4.8.3 2.9.4 5.8.3-4.5.3-5.1.4.4.3 3.2.3.8.4 1.4.3 2.1.3-2.9.4 5 .3-4.4.3 1 .4-5.1.3 4 .3-.1.4-2.4.3 5.6.3-5.2.4 3.3.3 1.2.3-3.6.4 1.8.3 6.5.3-8.7.4 9.3.3-7.9.3.3.4 4.9.3 2.8.3-2.4.4 4.1.3-4.7.3-1.4.4 6.9.3-3.8.3-2.7.4 3.8.3-3 .3 4.4.4 1.9.3 1.4.3-1.3.4-4.1.3 1.2.3-.6.4 4.2.3-5.2.3 5.3.4-1.2.3-6.6.3 1.2.4-3.3.3 5 .3 4.8.4-6.1.3-2.4.3 5.3.4-1.3.3.5.3-1 .4.8.3-1.1.3-5.4.4 7.9.3-3.2.3-.4.4-.8.3 4.9.3 1.4.4-1.1.3-8.2.3 9.5.4-1.3.3-4.3.3 6 .4-6 .3-2.9.3 8.3.4-1.9.3-6.6.3 2.2.4-2.7.3 2.2.3 6.2.4 1.6.3-2.6.3 0 .4.9.3 2.2.3-3.4.4-5.9.3 5.5.3-3.1.4 2.6.3 6.5.3.5.4 2.7.3-3.4.3-.9.4.4.3 4.8.3-6.1.4 2.7.3 1.1.3 2.8.4-1.1.3-1.7.3-1.1.4 5.7.3-4.1.3 1.2.4.6.3-4.3.3 7.9.4-1.8.3-1.6.3-1.5.4 2.2.3-1 .3 5.6.4-6.9.3 5.3.3-4.8.4-.1.3 1.6.3 5.7.4 1.3.3-7.1.3 1.4.4 3.6.3-1.1.3 2.8.4-.6.3 1.9.3-4.2.4-.8.3-2.5.3 3.5.4 2 .3 1.5.3-2.6.4-3 .3 1.9.3 4.5.4-8.7.3-2.1.3-.3.4-.5.3 2.8.3-7.2.4 3.7.3-8.7.3 6.5.4-3.3.3-8.1.3 3.2.4-1.7.3 5.8.3-3.3.4-5.5.3 3 .3 3.2.4-8.2.3-.2.3 4.8.4-2.5.3-1.2.3.2.4 3.2.3-.1.3 1.6.4-.4.3-4.3.3-1.7.4 4.3.3-1.8.3 3.8.4-.4.3 2.6.3-4.2.4 3.5.3-.9.3 4.5.4-.6.3-1.9.3 1.4.4-.3.3-1.1.3 3.5.4 1.6.3.1.3 1.9.4 2.7.3 1.9.3-8.4.4 1.7.3 2.9.3 4.9.4 2 .3-.1.3-8.1.4.6.3 5 .3 1.1.4.6.3 1.9.3-6.5.4-2.7.3 3 .3 3.8.4 1.1.3-7.9.3 6.3.4-8 .3 5 .3-2.7.4-2.4.3 2.8.3 4.2.4-7 .3 2.4.3-4.1.4 5.7.3-1.2.3-7.8.4 4.2.3 2.2.3-5.2.4 3.1.3-5.4.3 2M386.6 1231.5l.3 4.9.4 4.6.3-2.6.3 1.2.4-2.3.3-.1.3-.6.4 3.6.3-4.1.3 3 .4-6.7.3 8.5.3-4.4.4-1.4.3 9.2.3-4.8.4-1.6.3-1.7.3 3.4.4-1.6.3 2.9.3 2.5.4-3 .3-.8.3 5.9.4-5.4.3 6.4.3-8.4.4 5.7.3-3.3.3-6.1.4 2 .3 4.6.3-5.3.4-2.9.3 9 .3-4.3.4-3.8.3 3.2.3 3.3.4-6.3.3 2.7.3 2.3.4-.7.3-5.5.3 2.9.4-.2.3-5.6.3 7.6.4 1 .3-1.2.3.2.4-4.1.3-1.2.3 1.7.4.6.3-1.5.3 3.8.4-7.6.3 6.1.3-4.6.4 3.3.3.3.3 1.6.4 3.5.3-2.5.3 0 .4 1.9.3-6.4.3 0 .4 5.6.3.7.3.5.4-3.4.3-2.2.3 4.2.4 1.7.3 0 .3-1.1.4 5.3.3-.9.3 1.6.4-9 .3 6.7.3.2.4.7.3-3.9.3-1.3.4 0 .3-8.9.3 1.2.4-3.1.3 1.6.3.2.4-2.6.3-3.1.3 8.4.4-6.9.3 1.1.3.2.4 1.8.3-4.7.3 5.3.4-5.1.3-.5.3 1 .4.5.3 3.6.3-1.9.4-3.7.3 5.5.3-1.9.4-6.5.3 4.3.3-1.2.4 3.4.3-5.1.3-1.5.4-.2.3 5.4.3-5.4.4 1.8.3 3.5.3.2.4-4.4.3 4.1.3.9.4-3.4.3-1.4.3.9.4 3.9.3.5.3-5.9.4 2.1.3-1.4.3 4 .4 0 .3-4.3.3 4.3.4-2.4.3 3.8.3-3.8.4.9.3 2.1.3-1.1.4.7.3.3.3-.8.4 4.6.3-1.4.3-3.1.4 3.2.3-2.4.3 2.6.4-3.2.3-1.3.3 1.5.4-4 .3 2.7.3-.1.4-.2.3 5.8.3-6.6.4 3.6.3-5 .3 3.6.4 4.8.3-1.5.3-3.5.4-1.1.3 5.9.3-4.1.4 1.8.3 3.3.3-8.7.4 1.7.3 2.2.3 4.3.4.4.3-3.9.3-.5.4 1.1.3 2.1.3-2.8.4 9 .3-.3.3-1.2.4-5.1.3 5.7.3-2.4.4 3.7.3-.4.3 3.8.4-1.7.3-.2.3 1.8.4 1.9.3-1.9.3 1 .4 7.8.3-3.8.3.9.4 1.7.3-5.9.3 2.4.4-5.1.3 1.5.3 1.7.4 4.1.3-2.4.3-3.5.4 2.8.3 0 .3 1.8.4.7.3-9.2.3 5.3.4-1.3.3-1.5.3-2.2.4 3.4.3-1.5.3-3.5.4-3.1.3 6.2.3-4.4.4-5.9.3 1.1.3 5 .4-8.7.3 9.2.3-8.1.4 3.1.3 3 .3-1.2.4-2.7.3 4.8.3-3.1.4-2.1.3.8.3-1.3.4 2.8.3 2.8.3-1.6.4-2.1.3-3.9.3 5.6.4-1.6.3 3 .3 2.4.4-4.2.3-3.6.3 3 .4 2.7.3-4.2.3 1.2.4-3.5.3 1.7.3 4.2.4 4 .3-4.8.3-1.1.4 7.8.3-8 .3 5.4.4-6.5.3 5.6.3-.5.4-4.2.3 4.3.3-1.2.4-.8.3 4.3.3-3 .4 1.8.3 5.1.3.6.4-4.1.3-3.1.3 9.1M481.3 1248.1l.3 1.8.4 4.6.3-2.4.3.6.4-3.4.3-4.3.3 7.3.4-3.8.3 2.3.3 4.3.4-4.7.3-1.4.3-.3.4.2.3-2.1.3.8.4-.5.3 6.7.3-.5.4-2.2.3-2.2.3-.5.4 4.7.3-2.9.3 5.6.4-3 .3-3 .3 2.7.4.6.3-1.9.3 4 .4-1.5.3.2.3-6.8.4 4.2.3-3.5.3-2.1.4 1.3.3 5.2.3-4.4.4 2.4.3-6.8.3 3.9.4 2.7.3-5.9.3-1.2.4 3.6.3-2.4.3.2.4 5.8.3-3.4.3-2.2.4 1.7.3 4.8.3-2.8.4.1.3.1.3 1.6.4-3.8.3-.3.3 1.3.4-1.8.3 1.4.3 3.1.4-1.2.3-2.2.3.5.4-1 .3-3.6.3 3.5.4 1.7.3 2.9.3-6.4.4 3.4.3-.7.3-2.8.4-4 .3 4.1.3-3 .4 2.9.3-1.4.3 5 .4-8.6.3 5 .3 2.6.4-6.3.3-2.3.3 7.5.4-3.6.3-4.2.3 6.5.4-2.5.3.1.3 1.6.4.7.3.8.3-2.5.4 2.9.3-2.8.3 1.4.4-5.2.3 2.9.3-1 .4-1.2.3 6.5.3-.7.4-2.9.3-3.8.3 2 .4-1.1.3-5.4.3 7.4.4-7.6.3 1.7.3-.1.4 2.7.3 3.6.3-3.5.4-2.1.3.2.3-1.5.4 1.9.3 1.6.3-4.7.4 5.7.3-2.2.3-2 .4-2.9.3 1.3.3 1.9.4-5.4.3 10.3.3-3.6.4 3.8.3-7.2.3 3 .4-4.5.3 6.8.3-2.8.4-2.8.3 3.7.3-5.2.4 4.8.3-.3.3-3.9.4 4.8.3-5 .3 1.6.4-2.9.3 4 .3-7.5.4 2.6.3.7.3-.9.4-1.9.3-.9.3-3.3.4 1.2.3 2.3.3-1.8.4 4.3.3-7.3.3 4.6.4-.8.3 3.8.3-3.5.4 3.8.3 4.7.3.2.4-1.9.3-3.5.3-9.7M541 1199l.3 8.8.3-4.2.4 1.5.3-7.8.3 5.4.4-6.1.3-.7.3-.2.4-2 .3-2.2.3-1.9.4 6.1.3-6.1.3.2.4.9.3 5.8.3-3.6.4 2.9.3.6.3-.8.4 6.7.3-3.2.3 5.1.4-2.4.3.9.3 2.6.4-.6.3-2.7.3-7.2.4 7.5.3-3.3.3-.5.4-6.1.3 2 .3 5.5.4-9.7.3 8.3.3-.1.4-2.7.3-3.7.3.1.4 2.5.3-6.2.3 5.6.4-4.5.3 5 .3-1 .4-3.8.3-5.1.3 4.8.4.4.3-4.8.3.2.4 6.3.3-9.4.3 7.9.4-5.6.3 1.3.3-1.8.4 4 .3-6.6.3 3.5.4-4.8.3 1.7.3 1.3.4-3.5.3 1.4.3-1.3.4 5 .3-.5.3-3.5.4 5.6.3-.8.3-3.4.4 8.4.3-5.3.3-2.6.4 5.5.3 1.6.3-8 .4 1.8.3 2.3.3.4.4 2.2.3-.3.3-7.1.4 7.8.3 1.1.3-1.6.4.7.3-4 .3-1 .4 6.8.3-7.9.3 2.8.4-1.2.3-1.6.3-.8.4 3.4.3 1.4.3.3.4-2.1.3 2.6.3-3.2.4 5.8.3-1.1.3-7.1.4 1.4.3 6.8.3 0 .4-5 .3 4.2.3-1.1.4 2.8.3-6 .3 4.9.4 3.2.3 2.5.3-2 .4-6 .3.6.3 3 .4-5.3.3 4.1.3.9.4-.3.3 1.1.3-3.9.4 4.5.3 0 .3-1.8.4 6.4.3-8.2.3 5.5.4-1.1.3-.3.3-1.8.4.5.3-.3.3 9.1.4-1.3.3-.4.3.8.4-6.8.3.8.3 7.6.4-4.4.3 2 .3 1.9.4-1.4.3-4.3.3 4 .4-2.1.3-2 .3 7.9.4-4.7.3 0 .3-3.6.4 1.7.3 2.3.3-2.7.4-4 .3 7.1.3-2.7.4-5.2.3-.7.3 3.4.4-5.3.3 5 .3-3.7.4 3.4.3.5.3-3.4.4-4.3.3 4 .3-2.3.4 8.9.3-1.6.3-3.6.4 4.5.3-6 .3 5.3.4-1 .3-2.2.3 3.3.4-6.2.3 5.8.3-2.9.4 3.5.3-2.6.3-3.1.4-1.2.3 1.6.3 1.3.4-1.3.3-.4.3 3 .4-1.1.3-1 .3-.6.4 3.2.3-1.1.3 1.8.4-2.2.3-2.7.3.4.4 4 .3-2 .3 5.2.4-3.6.3-5.5.3 3.1.4.4.3 4.1.3-1 .4-4.6.3-.1.3 2.1.4-3.2.3 1.8.3.1.4 2.3.3 6.5.3-5.6.4 2.4.3 1 .3-4.6.4 3.5.3 2 .3 3.2.4-9.6.3 3.7.3 6.7.4-.2.3-2.4.3 1.3.4 2.1.3-3.6.3 1.8.4 3 .3-.9.3-6.5.4 1.7.3 2.7.3-2.1.4-4.1.3 6.5.3-.8.4 2.6.3-3.7.3 2 .4-4.4.3 6 .3-.5.4 2 .3-7.3.3 4.4.4 3.6.3-9.9.3 6 .4-2.2.3 6.6.3-2.7.4-5.9.3 5.1.3 1.2.4-1.7.3 2.6.3.2.4 2.6.3-8 .3.6.4 1.1.3.9.3 4.8.4.2.3-3.1.3 2.6.4-6.6.3 6.4.3 1.2.4-1.9.3.6.3-4 .4 5.4.3-5.4.3 4.4.4 2.5.3-1.2.3.9.4-.3.3-6.8.3 4.2.4-3 .3 5.5.3-.4.4-3.9.3 3.9.3-1.7.4-1.3.3 3 .3-2.3.4 3.7.3 2 .3 1.5.4-5.4.3 5 .3-1.2.4-5.7.3 4.8.3-1.4.4 2.1.3-2.7.3-5.2.4 4.3.3-4.3.3 5.6.4-1.3.3-2.5.3-2.4.4 2 .3 3 .3-1.2.4-3.2.3-3.9.3 1.9.4 2.6.3-1.1.3 2.8.4-5 .3 3.8.3-8 .4-1.2.3 1.6.3-1 .4 3.8.3-1 .3-3.3.4 2.8.3-.2.3.2.4 2.1.3.1.3-7.6.4 6.2.3-9.8.3 9.6.4-4.3.3 1.2.3-1.3.4.4.3 1.4.3-7.3.4 3.7.3 1.6.3-1.4.4 1.8.3-4.6.3.1.4.6.3-.4.3 2.2.4 1.7.3-4 .3-.6.4 4.5.3-4.7.3.2.4 4 .3-2.1.3 5.5.4-3.6.3-6.4.3.3.4 3.8.3-1.2.3-3.5.4 9.1.3-2.1.3-1.2.4-4.7.3 3.1.3-2.5.4 5.4.3 1.3.3.7.4-5.7.3 3.6.3-4.3.4 1.1.3-1.5.3 1.4.4 9.3.3-.9.3-4.8.4 1.6.3-2 .3 2.6.4.9.3-4.7.3 5.1.4 2.8.3-1.6.3-3.2.4 2.8.3-1.3.3 2.6.4-5.9.3 3.8.3-3.8.4 2.5.3-6.5.3 1.3.4 2.5.3-3.2.3 5.9.4-5.6.3 1.2.3 1.8.4 2.4.3-.4.3 3.4.4-2.4.3-2.2.3-6.1.4 6.6.3-.2.3-.9.4-1.1.3 1.1.3-4.4.4 4.2.3.1.3.3.4-2.4.3.3.3 9.3.4-7.2.3-3.3.3 7.6.4-.4.3-5.6.3 1.7.4 5 .3-1.2.3 0 .4-5.9.3 9.2.3-1.5.4-3.9.3 1.4.3-2.9.4 5.9.3-6.6.3 4.5.4-2.4.3 6.4.3-1.6.4-7.3.3 3.2.3 1 .4 4.7.3-4 .3 2.1.4-2.3.3 3.5.3-2 .4 2.4.3-.6.3-.2.4-1.5.3-2.3.3 7.2.4-6.4.3 1.9.3 1.6.4-.1.3-4.3.3-1.3.4-.2.3 6.1.3.8.4-.8.3.4.3-6.1.4 4.3.3-2 .3.2.4-2 .3-.1.3 5.5.4-7.5.3 2.8.3-3.1.4 7.2.3-4.5.3 1.6.4-.5.3 4.1.3 2.6.4-7.7.3 5.8.3-1.9.4-3.4.3 9.4.3-7.8.4-.3.3 7.9.3 1.3.4-4 .3 1.2.3 5.2.4-8.4.3 2.2.3 6.4.4.9.3-8.9.3 6.2.4 3.3.3-2 .3-1.6.4-3.3.3-.3.3.3.4 1.4.3-1.9.3.8.4 1.5.3-4.6.3 4 .4 4.5.3-6.6.3-3 .4 7.1.3-2.6.3-2.3.4 5.3.3-4.3.3 2.5.4 2.6.3-1.9.3 1.5.4-3.6.3-3.2.3-2.3.4 4.4.3-5.3.3 3.2.4 2.8.3.7.3-2.7.4-.7.3-2.7.3 8.3.4-2.9.3 2.1.3-4.5.4 2.4.3 4.1.3-4.4.4 3.2.3-2.1.3-1.1.4 1.3.3-6.3.3 4.9.4-3.9.3-1.3.3 4.3.4-7.2.3 3.4.3-2 .4 5.3.3-4.6.3 4.2.4-4.8.3-3.4.3 7.2.4.3.3-2.8.3.9.4-2.4.3 2.3.3-6.2.4 9.1.3-2.6.3-5 .4 2.4.3-.2.3 5.2.4-6.7.3 9.3.3-3.1.4-1.3.3 1.8.3-.5.4-4.3.3 2.4.3.2.4 2.6.3-3.8.3 1.2.4-1.5.3 2.2.3-3 .4-1.7.3 2.6.3-1 .4-.4.3 2.6.3-2 .4 2.2.3-5.1.3 2.3.4 4 .3-5.6.3 3 .4 1.6.3 1.7.3-1.3.4 1.6.3-3.7.3 1.8.4-1.4.3.8.3-1.1.4 1.4.3 3 .3-6.4.4 7 .3-3.1.3 3.4.4-3.2.3-5.7.3 3 .4-2.4.3 5.3.3-.2.4-1.2.3-.9.3 5.4.4-6.4.3 7.8.3-3.3.4 1.3.3 1.2.3-1.1.4 4.1.3-2.6.3 2.9.4-5.2.3-3.7.3 5.9.4-.5.3-2.8.3-.1.4 1.4.3 4.5.3-7.8.4 3.4.3 0 .3.2.4 3.1.3-1.4.3.8.4-3.6.3-.4.3.9.4-2.8.3.7.3-2.1.4 8.3.3-.8.3-.4.4-1.3.3-5.5.3 5.1.4-1.4.3 4.3.3-3.8.4-5.8.3 4.1.3-.2.4-4.3.3 8 .3-2.3.4-.3.3-.7.3 2.9.4-4.1.3 3.6.3-.3.4 2.4.3-4.1.3 2.3.4 0 .3 0 .3-4.4.4 1.5.3 4.9.3-10.7.4 6.3.3-1.2.3 3.5.4-.5.3 1.4.3-4.6.4 1.5.3-.1.3-3.8.4.7.3 7.7.3.2.4-3.2.3-1.8.3 3.6.4-6.2.3-.3.3 1.5.4 1.7.3 4.8.3-5.1.4 4.3.3-2.2.3.1.4.4.3 3.7.3-.5.4-7.3.3 2.6.3-2 .4 3.9.3-1.9.3 7 .4.8.3-2.6.3-.6.4 3.9.3-.2.3-3 .4 2.9.3-2.2.3 2.5.4 1.2.3-1.4.3-.1.4 7.5.3-4.9.3 5 .4-3.9.3-3.6.3.9.4-1.6.3 5.6.3 1.5.4-6.2.3 6.7.3 1.8.4 1.5.3-4.6.3 2.5.4 1 .3-.6.3-3.3.4.9.3.7.3.9.4-1.4.3 3.5.3 4.3.4-.7.3-3.6.3 1 .4-.6.3.2.3 1 .4-.6.3 4.6.3-2.6.4.5.3-4.7.3 3.3.4 0 .3 2.1.3 1.3.4 3.3.3-6.7.3 5.1.4-4.4.3 3 .3-.6.4.5.3 4.1.3-.7.4-2.8.3.5.3-2.1.4 3.1.3 5.1.3-3.2.4 1.8.3-1.9.3 2 .4-2.7.3 1.3.3 4.1.4-.8.3-3.1.3 7 .4 1.8.3-.3.3-2.3.4-1.9.3-4.1.3 8.5.4-1.3.3.9.3 3.4.4-1.3.3-4.6.3-2.3.4-1 .3-3.2.3 10.3.4-1 .3-.2.3-6.7.4.2.3 0 .3 5.2.4-7.7.3 2.8.3 3.4.4-6.3.3-1 .3 5.8.4-3.7.3.3.3 2.4.4 2 .3 2.2.3-3.8.4-1.1.3-4 .3.4.4 5.5.3-.1.3-3.2.4 7.4.3-8.6.3 6.8.4-4.4.3 1.8.3 1.8.4-6.3.3 6.6.3 2.2.4-3.6.3 1.2.3 1.8.4-.5.3 2.5.3.1.4-9.6.3 10.1.3.3.4-8.3.3 9.3.3-4.3.4.7.3 1.4.3 1 .4-2.7.3 8.6.3-2.6.4 1 .3-2 .3 3.1.4 0 .3 2.6.3-8.2.4 6.9.3-4.3M844.4 1241.7l.3-1.9.4 3 .3-1.2.3 4.5.4 1 .3-3.2.3-1.8.4-.2.3.8.3 2.2.4-4.3.3 3.9.3 1.8.4-6.4.3 5.9.3-6.7.4 2.5.3-2.3.3 1.4.4 1.2.3 3.4.3 2 .4.9.3-4.7.3-1.2.4-1.6.3.9.3 3.1.4-8.3.3 5.6.3-.1.4-2.5.3 6.3.3-9 .4 2.4.3-.4.3.7.4-1.7.3.8.3 4 .4-1.2.3-4.1.3 3.1.4-1.3.3-.6.3-1 .4 4.3.3-3.7.3 1.5.4 1.1.3.3.3-7.3.4-2.4.3 2 .3-5.2.4 7.6M868.4 1218.3l.3 2.2.4 1.5.3-2.6.3-1.8.4 4.9.3-1.3.3-.7.4-3.6.3 4.6.3 3.1.4 2.4.3-2.9.3 1.1.4 2.1.3-4.2.3.8M877.1 1235.5l.3.8.3 1.6.4 2.3.3-9.2.3 5.8.4-2.7.3 5.2.3.6.4-5.2.3.4.3 5.9.4.1.3 1 .3-.6.4-6.8.3 8.1.3-6.8.4 8.2.3-1.1.3-4 .4-6 .3 8.9.3-7.7.4 1 .3 4.6.3-5.5.4.8.3.3.3 5.1.4-2.9.3 2.1.3 3.6.4-1.7.3 3.9.3-8.4.4-.1.3 7.2.3 3.7.4-9.6.3 2.9.3-1 .4 9.9.3 4.7.3-6M893.1 1255.7l.3-4.6.3 6.5.4-5.3.3 1.8.3 3.9.4-8.9.3 2.1.3-3.7M896.7 1238.1l.4-3 .3.7.3-2.9.4-.2.3 1.7.3-1.9.4-.9.3-4.1.3 1.1.4 1.4.3-.3.3 2.8.4 4.5.3-3.5.3-.6.4-.7.3 1 .3 1.9.4-2.7.3-.8.3.8.4-7.5.3 10.2.3-9.1.4 1.3.3 8.6.3 3.4.4-4.6.3 1.6.3 4 .4-3 .3-3.4.3 3.1.4 5.4.3-7.5.3 6.9.4 1.6.3-1.7.3.4.4 4.2.3-8.5.3 2.2.4 4.6.3-1 .3-1.6.4-.8.3 1.3.3 5.5.4 0 .3-1.7.3 2.1.4-.3.3-.7.3-1.4.4-.2.3 3.3.3.4.4-3.5.3-2.1.3 3.6.4 5.2.3-6.4.3-1.7.4 1.3.3 5.1.3.5.4-.6.3-3.4.3 3.2.4-.3.3 4.2.3-5.8.4 4.6.3-3.7.3 2.7.4 2.9.3-2.6.3 0 .4-2.2.3.1.3 7 .4-4.4.3 4.7.3-9.6.4 5 .3 2.8.3 2.2.4-5.6.3-2 .3 5.6.4-2.5.3.8.3-2 .4 3.5.3-1.1.3 1.2.4-1.6.3 1.6.3.5.4-4.7.3-2.1.3 5.1.4-1.7.3-2.7.3-1.6.4-.8.3 3.7.3-8.4.4 1.4.3 3.3.3 2.2.4-7.3.3 6.7.3 1.5.4-2.5.3-4.2.3-5.9.4-.1.3 4.2.3 1.6.4-6.3.3 2.2.3 1.2.4-4.1.3 4.3.3-6.9.4 5.7.3-3.7.3 5.4.4-2.6.3-3 .3 2.5.4 2 .3-.5.3-.9.4-1.1.3-7.2.3 2.2.4-3.5.3 1.8.3 6.4.4-10.2.3 5.9.3-16.9M946.1 1201.1l.3 3.5.3 4.9.4-7.6.3 11.2.3-4 .4 7.8.3-5.8.3 6.5.4-5.6.3 3.6.3-4 .4 4.5.3 1.2.3-8 .4 4.9.3-2.6.3-.3.4-3.6.3 5 .3-1 .4-2 .3-1.7.3 5 .4 3.1.3-5.5.3 4.8.4 2.5.3-5.1.3 4.1.4-2.5.3-1.5.3-.1.4 5.1.3-1.2.3 1 .4-5.2.3 4.8.3-2.1.4 3.4.3-1.5.3 1.1.4-1.5.3 3.5.3-1.8.4-1.4.3 1.6.3 5.7.4-3.8.3 3.2.3-5.3.4 6.7.3.5.3-1.4.4-3.7.3 5.9.3-2.7.4 6.9.3-.4.3-6.9.4 5.5.3-2.9.3-3.7.4-2.4.3 1.7.3-1.7.4-1.9.3 3.3.3 3 .4-2.3.3 3.7.3-2 .4-5.6.3 6.9.3-2.2.4-5.6.3-.9.3 1.7.4-3.2.3-5.4.3-1.5.4 6 .3-8.9.3-1.3.4 4 .3.6.3-1.7.4 4.5.3-9.2.3-1.6.4 4.8.3 4 .3-2.9.4.6.3 2.8.3-4.4.4 2.9.3-.8.3-2.4.4 1.9.3-4.1.3 4 .4 2 .3-2.9.3 1.4.4 4.5.3-3 .3-3.4.4-2.2.3.6.3 9.7.4-5.8.3.2.3-3.8.4 5.9.3-.9.3-4.7.4 5.9.3-5.3.3 3.2.4.1.3.8.3.2.4 4.1.3-2 .3-.3.4-5.7.3.4.3.8.4 6.4.3-.2.3-6.5.4-2.2.3 5.6.3-2.6.4.1.3 1.8.3 4.7.4-7.8.3 5.4.3-5.8.4 9 .3-4.2.3 4.9.4.1.3-6.2.3-2.4.4-.5.3 2.3.3-.5.4-.7.3 7 .3-6.7.4.5.3 3.8.3-.4.4-4 .3 4.8.3 2.9.4-8.4.3 4.7.3 2 .4-3.2.3 3.2.3-2.4.4-5.3.3 6.5.3-2.4.4-.4.3-3.9.3 4 .4 0 .3 5.3.3-.7.4-7.4.3 3.9.3-4.2" stroke="#000" stroke-width="1.8" fill="none" stroke-linejoin="round"/><path d="M539 1219.9l.2-.1.1-8.4.3 4.4 0-5.8.3 7.4.1-8.8.2 2.4.1-4.4.3-.6 0-3.5.3 1.8M874.1 1226.9l.2 1.7.1-3 .2 1.3.1-2.4.3 1.5.1 9.6.2.9.1-7.9.2 1.5.1-6.3.3 7.1.1 6.3.2-2 .1-9 .2 7.3.1 3.3.3-2.5M892.1 1248.5l.2 6.4.1 3.4.2-5.9.1.5.3 2.8M896.1 1237.4l.2 6.1.1-1.8.2-6.4M945.1 1209.4l.2-.1.1 5.2.2-6.9.1 3 .3-5.9" stroke="#000" stroke-width="1.2" stroke-dasharray="1.3 1.9" fill="none"/><path d="M483.5 1262h.2M484 1268h.2M484.5 1273h.2M483 1257h.2M468 1221h.2M470 1226h.2M703 1212h.2M708 1215h.2M716 1210h.2M722 1217h.2M728 1213h.2M762 1212h.2M930 1235h.2M933 1240h.2" stroke="#000" stroke-width="1.6" stroke-linecap="square" fill="none"/></g></svg></body></html>
